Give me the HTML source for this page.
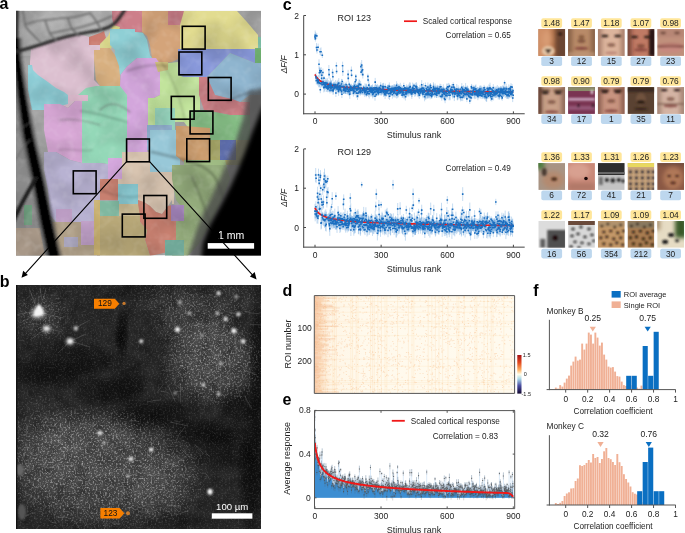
<!DOCTYPE html>
<html><head><meta charset="utf-8"><style>
html,body{margin:0;padding:0;background:#fff;}
body{width:685px;height:533px;overflow:hidden;position:relative;}
svg{position:absolute;left:0;top:0;font-family:"Liberation Sans",sans-serif;will-change:transform;}
</style></head><body>
<svg width="685" height="533" viewBox="0 0 685 533">
<text x="-0.50" y="8.70" font-size="16" text-anchor="start" font-weight="bold" font-style="normal" fill="#000" >a</text>
<text x="-0.30" y="287.00" font-size="16" text-anchor="start" font-weight="bold" font-style="normal" fill="#000" >b</text>
<text x="282.80" y="10.00" font-size="16" text-anchor="start" font-weight="bold" font-style="normal" fill="#000" >c</text>
<text x="282.60" y="296.00" font-size="16" text-anchor="start" font-weight="bold" font-style="normal" fill="#000" >d</text>
<text x="282.60" y="405.00" font-size="16" text-anchor="start" font-weight="bold" font-style="normal" fill="#000" >e</text>
<text x="533.30" y="296.00" font-size="16" text-anchor="start" font-weight="bold" font-style="normal" fill="#000" >f</text>
<defs><clipPath id="cpa"><rect x="16" y="10.7" width="245" height="244.70000000000002"/></clipPath><filter id="bl1" x="-20%" y="-20%" width="140%" height="140%"><feGaussianBlur stdDeviation="1"/></filter><filter id="bl2" x="-20%" y="-20%" width="140%" height="140%"><feGaussianBlur stdDeviation="2.2"/></filter><filter id="bl4" x="-30%" y="-30%" width="160%" height="160%"><feGaussianBlur stdDeviation="5"/></filter><linearGradient id="gtop" x1="0" y1="0" x2="1" y2="0.3"><stop offset="0" stop-color="#8a8a8a"/><stop offset="0.25" stop-color="#b0b0b0"/><stop offset="1" stop-color="#bcbcbc"/></linearGradient><filter id="tza" x="0" y="0" width="100%" height="100%"><feTurbulence type="fractalNoise" baseFrequency="0.035" numOctaves="2" seed="2"/><feColorMatrix type="matrix" values="0 0 0 0 0  0 0 0 0 0  0 0 0 0 0  0.3 0 0 0 -0.11"/></filter><filter id="tzb" x="0" y="0" width="100%" height="100%"><feTurbulence type="fractalNoise" baseFrequency="0.12" numOctaves="2" seed="7"/><feColorMatrix type="matrix" values="0 0 0 0 1  0 0 0 0 1  0 0 0 0 1  0.3 0 0 0 -0.14"/></filter></defs>
<g clip-path="url(#cpa)">
<rect x="16" y="10.7" width="245" height="244.70000000000002" fill="#a4a4a4"/>
<rect x="16" y="10.7" width="120" height="45" fill="url(#gtop)"/>
<polygon points="16,45 17,45 19,65 22,96 28,134 38,179 46,220 54,256 16,256" fill="#8c8c8c" />
<polygon points="112,11 143,11 143,32 124,32 114,26 112,18" fill="#cd7f8a" />
<polygon points="142,11 168,11 170,25 180,25 180,58 172,62 158,64 152,58 150,45 147,36 142,32" fill="#d4a47a" />
<polygon points="168,11 184,11 184,25 168,25" fill="#cd7f8a" />
<polygon points="180,25 184,11 237,11 247,22 258,35 258,49 180,49" fill="#e2dc90" />
<polygon points="258,37 262,37 262,49 258,49" fill="#7fc0a8" />
<polygon points="89,37 100,33 104,31 106,38 100,45 89,45" fill="#cb7c70" />
<polygon points="100,44 108,36 113,25 120,27 117,38 110,50 100,50" fill="#d6d488" />
<polygon points="110,29 135,29 135,32 143,33 147,40 150,55 152,58 137,58 127,66.5 120.6,74.8 114,74 115,50 110,45" fill="#8fcfd5" />
<polygon points="94,48 110,48 115,55 119,66 121,86 110,86 100,86 96,80 94,60" fill="#d8b080" />
<polygon points="31,49 47,42 63,37 80,34 89,37 89,45 100,45 100,50 94,50 94,80 100,86 98,99 86,101 75,101 68,108 60,104 44,104 38,97 30,70 30,62" fill="#dcc0d0" />
<polygon points="28,65 32,65 33,70 38,75 48,82 56,88 64,92 68,95 68,104 60,106 48,106 44,110 32,110 30,100 28,90" fill="#8fcfd8" />
<polygon points="78,95 86,88 96,86 110,86 121,86 128,90 128,165 115,165 100,163 82,163 80,130 82,110" fill="#94d8b8" />
<polygon points="120.6,74.8 127,66.5 137,58 156,58 160,64 160,95 150,100 150,125 147,150 150,160 127,160 127,140 127,95 120,86" fill="#d3a6dc" />
<polygon points="44,104 60,104 68,108 75,101 82,101 82,163 70,160 56,152 48,152 44,130" fill="#d8a8d6" />
<polygon points="68,95 88,95 88,101 68,101" fill="#e0bcd0" />
<polygon points="44,152 56,152 70,160 82,163 100,163 115,165 118,179 110,185 100,200 100,222 56,222 50,215 48,190 44,170" fill="#b8b2d2" />
<polygon points="148,98 160,98 160,126 148,126" fill="#c2e49c" />
<polygon points="108,158 126,158 126,179 108,179" fill="#d3a6dc" />
<polygon points="160,64 178,62 178,75 184,77 200,77 200,95 200,130 190,130 184,122 172,122 160,110 150,100 160,95" fill="#c2e49c" />
<polygon points="155,62 168,62 168,70 158,72" fill="#d0c080" />
<polygon points="178,49 255,49 255,63 230,53 207,77 200,77 184,77 178,75" fill="#8898da" />
<polygon points="207,77 230,53 255,63 262,63 262,95 250,95 240,102 215,95" fill="#8fb5cf" />
<polygon points="255,48 262,48 262,63 255,63" fill="#6fb070" />
<polygon points="199,77 207,77 215,95 232,99 240,102 250,102 250,115 230,115 204,110 199,95" fill="#cc7f85" />
<polygon points="190,110 204,110 230,115 250,115 250,145 236,140 220,140 210,140 200,135 190,128" fill="#84bc84" />
<polygon points="155,108 175,108 175,130 155,130" fill="#98d8c0" />
<polygon points="147,125 172,125 172,150 147,150" fill="#90b0d0" />
<polygon points="150,130 180,130 180,165 172,165 172,174 154,174 150,178" fill="#98c8d8" />
<polygon points="176,126 184,126 210,128 210,162 184,162 176,156" fill="#d0a070" />
<polygon points="210,140 250,140 250,165 210,165" fill="#a8a868" />
<polygon points="220,140 236,140 236,160 220,160" fill="#6070b0" />
<polygon points="184,160 225,160 230,179 184,179" fill="#a0bc84" />
<polygon points="122,152 150,152 150,172 174,172 174,204 172,204 172,200 168,206 162,214 156,212 150,206 144,202 140,204 138,200 138,184 118,184 118,179 122,179" fill="#d8c4b0" />
<polygon points="100,179 118,179 118,200 100,200" fill="#c88070" />
<polygon points="138,200 144,202 150,206 156,212 162,214 168,206 172,205 180,205 180,250 168,252 150,256 145,240 147,230 140,222 135,212" fill="#c88070" />
<polygon points="118,184 138,184 138,204 118,204" fill="#88c8d0" />
<polygon points="97,201 119,201 119,216 97,216" fill="#80b8a0" />
<polygon points="119,204 138,204 140,216 119,216" fill="#c8b890" />
<polygon points="97,216 119,216 140,216 140,222 147,230 145,240 150,256 97,256" fill="#b8a878" />
<polygon points="172,165 226,165 230,179 222,200 210,225 198,245 188,256 172,256 176,240 176,222 180,205 176,200 172,179" fill="#94ac7c" />
<polygon points="171,205 184,205 184,221 171,221" fill="#a888c0" />
<polygon points="165,240 184,240 184,256 165,256" fill="#70a898" />
<polygon points="16,228 40,228 45,256 16,256" fill="#a89888" />
<polygon points="52,222 100,222 100,256 54,256" fill="#b0a088" />
<polygon points="56,209 72,209 72,222 56,222" fill="#c0a0c8" />
<polygon points="81,221 97,221 97,245 81,245" fill="#c0a0c8" />
<polygon points="64,237 78,237 78,247 64,247" fill="#a8a4bc" />
<polygon points="94,200 100,200 100,255 94,255" fill="#c8b070" />
<polygon points="24,205 32,205 32,225 24,225" fill="#70a080" />
<rect x="16" y="10.7" width="245" height="244.70000000000002" filter="url(#tza)"/>
<rect x="16" y="10.7" width="245" height="244.70000000000002" filter="url(#tzb)"/>
<g filter="url(#bl1)" fill="none" stroke="#000" stroke-linecap="round">
<path d="M127 71 C140 66 155 64 167 66" stroke-width="2.5" opacity="0.15"/>
<path d="M81 111 C95 112 110 118 127 122" stroke-width="2.5" opacity="0.15"/>
<path d="M152 152 C165 155 190 160 203 167 S220 185 223 198" stroke-width="3" opacity="0.2"/>
<path d="M228 101 C236 97 245 94 253 91" stroke-width="2.5" opacity="0.18"/>
<path d="M192 177 C200 195 208 215 213 233" stroke-width="2.5" opacity="0.18"/>
<path d="M60 150 C70 148 80 152 92 150 M100 190 C115 196 130 198 140 196 M160 60 C175 80 180 100 185 120" stroke-width="2" opacity="0.12"/>
</g>
<g filter="url(#bl2)">
<polygon points="248,92 262,88 270,88 270,270 186,270 190,250 196,232 203,214 212,196 220,178 228,160 236,140 243,118" fill="#4a4a4a" opacity="0.8"/>
</g>
<g filter="url(#bl2)">
<polygon points="262,108 270,100 270,270 200,270 203,243 210,225 220,207 230,188 238,170 245,152 252,133 258,118" fill="#000" />
</g>
<g filter="url(#bl1)" fill="none" stroke-linecap="round">
<path d="M17 8 C17 20 16.5 30 16.5 45" stroke="#222" stroke-width="3"/>
<polygon points="11.5,38.0 11.5,58.0 13.7,78.0 15.8,96.0 21.0,134.0 30.5,179.0 38.0,220.0 46.0,256.0 48.0,264.0 64.0,264.0 62.0,256.0 54.0,220.0 45.5,179.0 35.0,134.0 28.2,96.0 25.3,78.0 22.5,58.0 21.5,38.0" fill="#333" opacity="0.55" stroke="none"/>
<polygon points="14.5,38.0 14.5,58.0 16.7,78.0 18.8,96.0 24.0,134.0 33.5,179.0 41.0,220.0 49.0,256.0 51.0,264.0 61.0,264.0 59.0,256.0 51.0,220.0 42.5,179.0 32.0,134.0 25.2,96.0 22.3,78.0 19.5,58.0 18.5,38.0" fill="#060606" stroke="none"/>
<path d="M12 224 C20 205 28 192 36 178" stroke="#1a1a1a" stroke-width="4"/>
<path d="M10 53 C25 50 40 45 55 40 S85 33 100 30 S118 20 126 8" stroke="#2a2a2a" stroke-width="3"/>
<path d="M22.8 11 C24 18 25 22 25 24.5 S30 32 34 35.8 S39 41 40.8 42.5 M25 24.5 C33 22 40 20 45 20 S60 18 67.8 17.8 S82 15 90 13 M45 20 C47 26 48 30 49.8 33.5 S54 38 56.5 40.3 M67.8 17.8 C69 22 70 26 72.3 29 S76 33 79 35.8 M90 13 C93 16 95 19 97 22.3 S100 28 101.6 31.3 M49.8 33.5 C57 32 65 30 72.3 29 S88 25 97 22.3 M97 22.3 C103 20 108 18 112 16" stroke="#6a6a6a" stroke-width="1.6"/>
<path d="M16 130 C22 128 28 125 32 120 M16 160 C20 150 25 145 30 140 M100 110 C110 100 120 104 130 112 M60 120 C75 118 90 122 100 125" stroke="#606060" stroke-width="1.2" opacity="0.6"/>
</g>
</g>
<rect x="182.3" y="26.3" width="22.8" height="22.8" fill="none" stroke="#000" stroke-width="1.6"/>
<rect x="179.0" y="52.0" width="22.8" height="22.8" fill="none" stroke="#000" stroke-width="1.6"/>
<rect x="208.3" y="77.5" width="22.8" height="22.8" fill="none" stroke="#000" stroke-width="1.6"/>
<rect x="171.3" y="96.4" width="22.8" height="22.8" fill="none" stroke="#000" stroke-width="1.6"/>
<rect x="190.1" y="111.1" width="22.8" height="22.8" fill="none" stroke="#000" stroke-width="1.6"/>
<rect x="186.8" y="138.8" width="22.8" height="22.8" fill="none" stroke="#000" stroke-width="1.6"/>
<rect x="126.6" y="139.0" width="22.8" height="22.8" fill="none" stroke="#000" stroke-width="1.6"/>
<rect x="73.3" y="170.9" width="22.8" height="22.8" fill="none" stroke="#000" stroke-width="1.6"/>
<rect x="143.9" y="195.5" width="22.8" height="22.8" fill="none" stroke="#000" stroke-width="1.6"/>
<rect x="122.3" y="214.1" width="22.8" height="22.8" fill="none" stroke="#000" stroke-width="1.6"/>
<rect x="207.7" y="243.1" width="46.4" height="5.6" fill="#fff"/>
<text x="218" y="239.3" font-size="10.5" fill="#fff">1 mm</text>
<path d="M126.6 161.6 L23.5 275.6 M149.6 161.6 L254.5 277.2" stroke="#000" stroke-width="1.1" fill="none"/>
<path d="M21.5 277.8 L23.2 270.8 L27.9 275.1 Z" fill="#000"/>
<path d="M256.6 279.4 L249.9 276.4 L254.7 272.1 Z" fill="#000"/>
<defs><clipPath id="cpb"><rect x="16" y="285" width="245" height="244"/></clipPath><filter id="bb1" x="-50%" y="-50%" width="200%" height="200%"><feGaussianBlur stdDeviation="0.8"/></filter><filter id="bb05" x="-50%" y="-50%" width="200%" height="200%"><feGaussianBlur stdDeviation="0.45"/></filter><filter id="nz" x="0" y="0" width="100%" height="100%"><feTurbulence type="fractalNoise" baseFrequency="0.55" numOctaves="2" seed="4"/><feColorMatrix type="matrix" values="0 0 0 0 1  0 0 0 0 1  0 0 0 0 1  2.6 0 0 0 -1.25"/></filter><filter id="nz2" x="0" y="0" width="100%" height="100%"><feTurbulence type="fractalNoise" baseFrequency="0.09" numOctaves="3" seed="9"/><feColorMatrix type="matrix" values="0 0 0 0 0  0 0 0 0 0  0 0 0 0 0  1.2 0 0 0 -0.45"/></filter><radialGradient id="rgw"><stop offset="0" stop-color="#fff" stop-opacity="1"/><stop offset="0.6" stop-color="#fff" stop-opacity="0.7"/><stop offset="1" stop-color="#fff" stop-opacity="0"/></radialGradient><radialGradient id="rgk"><stop offset="0" stop-color="#000" stop-opacity="1"/><stop offset="0.5" stop-color="#000" stop-opacity="0.7"/><stop offset="1" stop-color="#000" stop-opacity="0"/></radialGradient><mask id="mbr"><rect x="16" y="285" width="245" height="244" fill="#000"/><ellipse cx="212" cy="362" rx="55.00000000000001" ry="48.400000000000006" fill="url(#rgw)" opacity="0.85"/><ellipse cx="195" cy="322" rx="46.2" ry="33.0" fill="url(#rgw)" opacity="0.50"/><ellipse cx="100" cy="470" rx="110.00000000000001" ry="66.0" fill="url(#rgw)" opacity="0.85"/><ellipse cx="45" cy="445" rx="44.0" ry="55.00000000000001" fill="url(#rgw)" opacity="0.35"/><ellipse cx="165" cy="488" rx="44.0" ry="41.800000000000004" fill="url(#rgw)" opacity="0.35"/><ellipse cx="42" cy="315" rx="33.0" ry="28.6" fill="url(#rgw)" opacity="0.40"/><ellipse cx="170" cy="300" rx="44.0" ry="19.8" fill="url(#rgw)" opacity="0.30"/><ellipse cx="232" cy="300" rx="30.800000000000004" ry="19.8" fill="url(#rgw)" opacity="0.30"/><ellipse cx="85" cy="430" rx="66.0" ry="27.500000000000004" fill="url(#rgw)" opacity="0.30"/></mask></defs>
<g clip-path="url(#cpb)">
<rect x="16" y="285" width="245" height="244" fill="#282828"/>
<ellipse cx="212" cy="362" rx="50" ry="44" fill="url(#rgw)" opacity="0.17"/>
<ellipse cx="195" cy="322" rx="42" ry="30" fill="url(#rgw)" opacity="0.1"/>
<ellipse cx="100" cy="470" rx="100" ry="60" fill="url(#rgw)" opacity="0.17"/>
<ellipse cx="45" cy="445" rx="40" ry="50" fill="url(#rgw)" opacity="0.07"/>
<ellipse cx="165" cy="488" rx="40" ry="38" fill="url(#rgw)" opacity="0.07"/>
<ellipse cx="42" cy="315" rx="30" ry="26" fill="url(#rgw)" opacity="0.08"/>
<ellipse cx="170" cy="300" rx="40" ry="18" fill="url(#rgw)" opacity="0.06"/>
<ellipse cx="232" cy="300" rx="28" ry="18" fill="url(#rgw)" opacity="0.06"/>
<ellipse cx="85" cy="430" rx="60" ry="25" fill="url(#rgw)" opacity="0.06"/>
<ellipse cx="252" cy="470" rx="16" ry="75" fill="url(#rgk)" opacity="0.7"/>
<ellipse cx="258" cy="370" rx="10" ry="90" fill="url(#rgk)" opacity="0.6"/>
<ellipse cx="50" cy="372" rx="55" ry="20" fill="url(#rgk)" opacity="0.6"/>
<ellipse cx="110" cy="392" rx="40" ry="18" fill="url(#rgk)" opacity="0.55"/>
<ellipse cx="155" cy="415" rx="50" ry="18" fill="url(#rgk)" opacity="0.6"/>
<ellipse cx="205" cy="432" rx="45" ry="16" fill="url(#rgk)" opacity="0.6"/>
<ellipse cx="122" cy="335" rx="8" ry="28" fill="url(#rgk)" opacity="0.75"/>
<ellipse cx="92" cy="360" rx="35" ry="16" fill="url(#rgk)" opacity="0.45"/>
<ellipse cx="225" cy="450" rx="35" ry="25" fill="url(#rgk)" opacity="0.45"/>
<ellipse cx="185" cy="522" rx="40" ry="10" fill="url(#rgk)" opacity="0.3"/>
<ellipse cx="140" cy="292" rx="40" ry="10" fill="url(#rgk)" opacity="0.3"/>
<ellipse cx="60" cy="350" rx="40" ry="12" fill="url(#rgk)" opacity="0.3"/>
<ellipse cx="240" cy="405" rx="25" ry="22" fill="url(#rgk)" opacity="0.5"/>
<ellipse cx="130" cy="380" rx="20" ry="25" fill="url(#rgk)" opacity="0.4"/>
<rect x="16" y="285" width="245" height="244" filter="url(#nz2)" opacity="0.5"/>
<g mask="url(#mbr)"><rect x="16" y="285" width="245" height="244" filter="url(#nz)" opacity="0.55"/></g>
<rect x="16" y="285" width="245" height="244" filter="url(#nz)" opacity="0.12"/>
<path d="M232.7 351.5Q234.7 353.0 236.3 356.0M27.3 527.9Q23.9 534.0 23.4 535.3M236.0 339.2Q235.4 345.4 236.3 353.7M185.1 426.9Q178.1 433.8 176.0 441.5M161.7 370.7Q167.2 369.2 173.7 370.8M171.2 454.2Q179.5 458.6 184.4 460.8M78.8 506.4Q75.6 512.1 78.5 518.5M167.7 384.5Q170.9 391.6 175.1 401.3M63.6 500.1Q61.1 505.4 56.0 512.5M38.3 494.8Q37.1 498.9 34.1 504.1M169.6 461.1Q163.4 464.6 161.2 471.7M232.8 315.3Q228.2 320.3 222.3 328.5M200.1 454.3Q200.2 456.6 201.6 459.0M243.1 332.7Q238.8 333.3 235.5 333.0M32.0 512.7Q28.4 514.6 26.0 516.2M123.1 431.5Q117.6 434.7 115.0 435.2M55.1 456.9Q48.2 458.4 38.1 460.8M237.3 333.7Q231.5 335.4 228.8 340.1M149.2 495.3Q152.5 496.7 154.8 495.4M27.3 443.5Q25.7 450.3 21.9 460.0M147.3 504.8Q140.0 508.7 137.2 506.7M180.8 387.1Q180.0 393.9 180.5 402.3M27.6 424.6Q25.7 430.8 26.5 436.3M111.2 484.6Q106.1 488.3 103.1 493.9M65.1 479.7Q65.2 479.4 61.2 486.3M186.5 344.3Q188.3 349.2 190.3 348.5M174.7 369.0Q175.4 370.2 178.9 373.1M122.3 468.9Q126.9 473.8 130.0 477.9M182.6 319.3Q183.4 318.9 185.9 324.7M18.0 426.5Q23.4 428.9 26.5 433.3M181.8 361.2Q180.4 361.7 175.6 362.7M189.0 362.6Q188.7 367.7 188.9 369.0M91.7 522.3Q96.3 526.7 98.4 538.3M29.4 450.0Q30.8 453.0 33.8 453.8M47.6 519.2Q50.9 523.3 57.0 523.4M170.2 422.1Q180.0 424.1 187.8 425.9M65.3 516.4Q61.8 517.3 59.4 517.3M158.8 497.0Q162.3 499.7 166.8 502.5M231.0 333.5Q228.8 338.3 232.0 339.4M123.9 485.5Q122.0 492.9 120.5 501.4M205.0 396.0Q210.5 401.3 219.5 402.7M171.8 351.4Q176.0 354.4 178.7 358.4M161.2 399.9Q155.3 399.9 146.9 402.0M88.9 423.8Q90.2 426.2 96.0 425.4M174.8 420.7Q178.4 422.5 180.6 421.7M195.0 444.5Q197.9 447.2 203.9 454.2M126.5 481.8Q129.4 490.8 136.2 493.7M171.5 492.0Q171.9 497.2 172.0 506.2M31.0 483.5Q34.1 487.1 38.2 488.1M150.8 527.6Q144.9 531.9 135.5 532.8M34.8 494.8Q32.1 500.3 34.0 507.1M205.7 452.4Q206.3 453.7 209.9 456.7M72.9 447.7Q80.8 452.0 87.2 455.2M30.6 457.7Q26.5 458.8 29.8 468.0M202.2 323.8Q193.9 324.1 185.5 328.6M233.9 396.0Q239.0 395.5 241.5 396.5M210.1 351.9Q217.0 357.9 220.4 361.5M41.7 458.2Q45.2 465.4 47.6 467.9M160.6 391.0Q167.4 391.8 169.5 393.6M156.6 510.6Q158.8 512.7 162.1 515.4M236.6 383.5Q238.5 392.8 241.0 398.9M25.1 492.4Q33.7 495.7 40.2 502.9M186.8 301.1Q191.6 305.4 195.6 308.3M193.9 334.2Q199.6 337.3 203.2 342.5M229.7 360.1Q231.9 367.4 228.1 372.3M225.6 346.7Q227.1 356.3 228.7 363.6M218.8 382.8Q217.6 385.6 218.2 388.3M109.3 521.8Q114.7 522.7 114.9 522.9M174.1 384.5Q179.2 386.2 183.7 392.5M182.7 458.3Q177.3 462.2 173.5 465.1M166.8 333.9Q171.1 337.2 176.4 338.6M147.5 482.4Q153.8 489.0 158.3 492.7M50.9 510.1Q53.9 512.7 54.9 518.3M90.7 475.7Q89.2 480.4 86.9 485.6M201.5 344.9Q200.8 349.5 203.0 353.6M84.5 472.4Q85.5 475.2 87.3 478.2M198.2 349.5Q193.8 350.2 195.4 354.0M18.2 421.2Q20.0 428.9 18.6 432.6M145.8 508.5Q141.0 507.4 142.1 511.9M210.8 380.2Q209.7 384.2 207.4 385.2M67.2 517.5Q64.9 516.6 57.4 517.6M217.9 323.4Q213.4 324.4 207.0 329.8M63.1 511.6Q66.1 511.0 69.9 512.3M82.3 424.1Q87.0 422.9 87.1 426.1M176.3 472.6Q172.7 478.3 172.0 486.2M112.6 433.6Q118.1 436.4 120.5 441.8M161.8 463.5Q166.4 464.2 174.7 464.1M142.3 472.8Q147.4 473.8 153.9 476.7M51.7 474.5Q50.0 472.9 43.8 475.9M207.0 378.1Q199.9 381.8 191.7 385.0M157.5 424.9Q161.0 430.8 161.6 430.5M59.5 463.1Q51.0 468.2 46.8 467.2M190.1 311.0Q191.7 318.1 195.3 315.9M169.7 316.2Q174.4 325.7 176.9 331.4M122.5 485.4Q125.7 493.8 129.1 497.0M42.8 448.0Q43.7 448.7 48.5 448.8M212.7 379.8Q215.7 384.8 221.1 385.0M41.9 424.8Q49.4 425.1 57.4 426.5M163.8 383.5Q162.1 386.0 156.9 392.9M184.5 326.5Q180.0 329.0 174.7 335.1M38.7 525.7Q35.7 532.4 30.6 536.7M129.0 421.1Q135.8 420.2 138.8 421.9M76.1 523.1Q77.5 526.4 83.1 532.5M19.6 505.8Q21.4 514.3 24.9 519.3M195.5 310.2Q194.5 315.1 192.8 314.8M156.3 510.6Q149.7 511.4 140.5 512.5M23.3 469.0Q26.8 469.1 31.1 470.4M201.7 370.7Q209.5 371.4 216.8 371.7M138.9 434.8Q130.9 438.8 123.6 445.5M244.5 395.5Q247.0 401.1 251.5 407.7M72.6 481.9Q78.1 486.0 80.9 488.9M175.7 487.1Q175.9 489.9 172.3 491.1M166.8 504.7Q172.0 504.4 180.0 508.3M211.3 347.7Q207.2 353.4 202.9 353.9M189.2 525.5Q191.6 529.5 189.9 532.1M249.9 324.5Q259.3 324.0 268.6 326.5M241.0 340.2Q244.8 345.6 251.8 348.1M107.4 518.6Q104.9 526.9 102.4 535.9M53.1 427.7Q53.4 429.7 51.4 432.6M144.3 450.0Q149.5 456.9 153.5 458.8M244.0 311.1Q252.0 313.8 259.3 313.8M78.9 443.1Q75.0 450.3 71.3 456.4M186.3 463.0Q183.7 467.3 186.9 470.4M172.2 353.4Q175.4 360.3 177.4 370.4M37.8 485.4Q34.0 489.7 31.8 486.9M136.6 470.0Q134.7 474.9 137.5 486.6M243.2 369.3Q249.6 372.2 256.0 374.5M105.6 505.2Q102.1 510.0 103.0 519.0M188.6 510.7Q179.3 514.3 171.0 515.7M233.0 347.2Q240.1 351.2 250.8 352.9M181.3 449.2Q187.0 456.3 194.0 458.9M171.7 504.3Q173.9 506.8 178.5 511.7M78.8 517.2Q84.2 521.5 86.1 526.1M221.8 320.7Q224.6 328.5 229.3 334.3M205.0 473.3Q208.3 475.0 208.8 478.4M248.1 384.7Q248.7 388.9 249.8 392.2M126.4 526.3Q124.5 529.2 122.1 529.3M249.0 355.0Q248.3 358.8 249.5 360.1M117.8 522.7Q117.3 524.9 112.6 523.3M231.9 326.8Q234.5 334.2 236.9 340.4" stroke="#8a8a8a" stroke-width="0.6" opacity="0.45" fill="none"/>
<g filter="url(#bb05)" stroke="#999" stroke-width="0.6" fill="none" opacity="0.4">
<path d="M38 312 Q33 300 30 290 M38 312 Q44 300 46 288 M38 312 Q50 304 58 303 M38 312 Q52 316 64 318 M38 312 Q30 318 22 322 M38 312 Q28 312 19 314 M47 328 Q38 334 30 340 M47 328 Q55 330 62 332 M70 341 Q78 338 86 334 M70 341 Q80 344 90 347 M70 341 Q64 348 58 353 M76 328 Q82 324 90 320 M42 300 Q41 294 40 288"/>
</g>
<ellipse cx="38" cy="313" rx="10" ry="9" fill="url(#rgw)" opacity="0.35"/>
<ellipse cx="46.5" cy="329" rx="7" ry="6" fill="url(#rgw)" opacity="0.25"/>
<ellipse cx="70" cy="341.5" rx="7" ry="6" fill="url(#rgw)" opacity="0.25"/>
<g filter="url(#bb1)">
<path d="M33 316 Q36 306 39 304 Q43 308 44 314 Q39 318 33 316Z" fill="#fafafa"/>
<ellipse cx="38.3" cy="312" rx="4.5" ry="3.5" fill="#f4f4f4"/>
<ellipse cx="46.5" cy="328.4" rx="3" ry="2.5" fill="#e0e0e0"/>
<ellipse cx="70" cy="341.3" rx="3" ry="2.8" fill="#e8e8e8"/>
<ellipse cx="75.8" cy="328.4" rx="2.2" ry="2.4" fill="#bbb"/>
<ellipse cx="218.6" cy="293.2" rx="2" ry="2.2" fill="#ddd"/>
<ellipse cx="236.2" cy="296.7" rx="2" ry="2" fill="#999"/>
<ellipse cx="179.9" cy="302.6" rx="2" ry="2" fill="#aaa"/>
<ellipse cx="189.3" cy="313.2" rx="1.5" ry="1.2" fill="#eee"/>
<ellipse cx="217.4" cy="313.2" rx="2" ry="2" fill="#bbb"/>
<ellipse cx="225.6" cy="319" rx="2.2" ry="2.2" fill="#ddd"/>
<ellipse cx="238.5" cy="314.3" rx="2.2" ry="2.2" fill="#ccc"/>
<ellipse cx="177.5" cy="329.6" rx="2.5" ry="2.5" fill="#f4f4f4"/>
<ellipse cx="233.9" cy="330.8" rx="2.6" ry="2.6" fill="#f0f0f0"/>
<ellipse cx="202.2" cy="335.4" rx="2" ry="2" fill="#999"/>
<ellipse cx="243.2" cy="341.3" rx="2.4" ry="2.4" fill="#ddd"/>
<ellipse cx="141.2" cy="341.3" rx="2" ry="2" fill="#ddd"/>
<ellipse cx="203.4" cy="384.7" rx="2" ry="2" fill="#ccc"/>
<ellipse cx="218.6" cy="394.1" rx="2" ry="2" fill="#bbb"/>
<ellipse cx="221" cy="363.6" rx="2" ry="2" fill="#aaa"/>
<ellipse cx="175.2" cy="393" rx="1.5" ry="1.5" fill="#aaa"/>
<ellipse cx="151.3" cy="449.6" rx="2.2" ry="2.2" fill="#eee"/>
<ellipse cx="210" cy="491.8" rx="2.6" ry="3" fill="#f8f8f8"/>
<ellipse cx="100" cy="433" rx="2.5" ry="2.3" fill="#ddd"/>
<ellipse cx="131" cy="459" rx="2.5" ry="2.3" fill="#ddd"/>
<ellipse cx="128" cy="476" rx="1.5" ry="1.5" fill="#ccc"/>
<ellipse cx="104" cy="443" rx="1.6" ry="1.6" fill="#bbb"/>
<ellipse cx="20" cy="470" rx="4" ry="6" fill="#666"/>
<ellipse cx="22" cy="512" rx="4" ry="8" fill="#555"/>
</g>
<rect x="16" y="285" width="1.3" height="244" fill="#111"/>
</g>
<path d="M94 298.8H114.8L119.3 303.8L114.8 308.8H94Z" fill="#f77f00"/>
<text x="104.9" y="306.4" font-size="8.3" text-anchor="middle" fill="#111">129</text>
<path d="M100.4 508H119.6L124.3 513.2L119.6 518.4H100.4Z" fill="#f77f00"/>
<text x="110.5" y="516.0" font-size="8.3" text-anchor="middle" fill="#111">123</text>
<circle cx="124" cy="303.4" r="1.6" fill="#d9822b" opacity="0.9"/>
<circle cx="128" cy="513.3" r="2" fill="#d9822b" opacity="0.9"/>
<rect x="211.8" y="513.3" width="40.6" height="5.4" fill="#fff"/>
<text x="232.2" y="510" font-size="9.6" text-anchor="middle" fill="#fff">100 µm</text>
<defs><filter id="fb" x="-30%" y="-30%" width="160%" height="160%"><feGaussianBlur stdDeviation="0.9"/></filter><filter id="fb2" x="-30%" y="-30%" width="160%" height="160%"><feGaussianBlur stdDeviation="2"/></filter></defs>
<clipPath id="ft00"><rect x="0" y="0" width="26.8" height="26.8"/></clipPath>
<g transform="translate(538.3,29.1)"><g clip-path="url(#ft00)"><g transform="scale(0.9926)"><rect width="27" height="27" fill="#b07048"/><g filter="url(#fb2)"><rect x="-3" y="-3" width="16" height="33" fill="#d09068"/><rect x="17" y="-3" width="14" height="33" fill="#6a4430"/><ellipse cx="9" cy="10" rx="5" ry="8" fill="#dca078" opacity="0.7"/></g><g filter="url(#fb)"><ellipse cx="10" cy="22" rx="6.5" ry="5" fill="#e4c4a4"/><path d="M6.5 20 L13.5 20 L10 25 Z" fill="#2a1a14"/><ellipse cx="22" cy="5" rx="2" ry="1.2" fill="#201008"/></g></g></g></g>
<rect x="541.3" y="18.3" width="20.8" height="9.6" rx="1.8" fill="#ffe699"/>
<text x="551.7" y="25.9" font-size="8.4" text-anchor="middle" fill="#222">1.48</text>
<rect x="541.3" y="56.4" width="20.8" height="9.6" rx="1.8" fill="#bdd7ee"/>
<text x="551.7" y="64.1" font-size="8.4" text-anchor="middle" fill="#222">3</text>
<clipPath id="ft01"><rect x="0" y="0" width="26.8" height="26.8"/></clipPath>
<g transform="translate(568.1,29.1)"><g clip-path="url(#ft01)"><g transform="scale(0.9926)"><rect width="27" height="27" fill="#b88a68"/><g filter="url(#fb2)"><rect x="-4" y="-4" width="8" height="35" fill="#6a4a34" opacity="0.6"/><rect x="23" y="-4" width="8" height="35" fill="#6a4a34" opacity="0.6"/></g><g filter="url(#fb)"><ellipse cx="13.5" cy="12" rx="4" ry="2" fill="#5a3020" opacity="0.55"/><ellipse cx="13.5" cy="19.5" rx="7" ry="1.6" fill="#7a3a34" opacity="0.75"/><ellipse cx="13.5" cy="8" rx="3" ry="2" fill="#6a4028" opacity="0.6"/><rect x="0" y="23" width="27" height="5" fill="#c09878" opacity="0.6"/></g></g></g></g>
<rect x="571.1" y="18.3" width="20.8" height="9.6" rx="1.8" fill="#ffe699"/>
<text x="581.5" y="25.9" font-size="8.4" text-anchor="middle" fill="#222">1.47</text>
<rect x="571.1" y="56.4" width="20.8" height="9.6" rx="1.8" fill="#bdd7ee"/>
<text x="581.5" y="64.1" font-size="8.4" text-anchor="middle" fill="#222">12</text>
<clipPath id="ft02"><rect x="0" y="0" width="26.8" height="26.8"/></clipPath>
<g transform="translate(597.9,29.1)"><g clip-path="url(#ft02)"><g transform="scale(0.9926)"><rect width="27" height="27" fill="#dcb49c"/><g filter="url(#fb2)"><rect x="-4" y="-4" width="8" height="35" fill="#8a6050" opacity="0.6"/><rect x="23" y="-4" width="8" height="35" fill="#8a6050" opacity="0.6"/></g><g filter="url(#fb)"><ellipse cx="7" cy="7" rx="3.5" ry="1.2" fill="#2a1a14"/><ellipse cx="20" cy="7" rx="3.5" ry="1.2" fill="#2a1a14"/><ellipse cx="13.5" cy="16" rx="4" ry="2" fill="#5a3020" opacity="0.55"/><ellipse cx="13.5" cy="24" rx="6" ry="1.5" fill="#a86a60" opacity="0.6"/></g></g></g></g>
<rect x="600.9" y="18.3" width="20.8" height="9.6" rx="1.8" fill="#ffe699"/>
<text x="611.3" y="25.9" font-size="8.4" text-anchor="middle" fill="#222">1.18</text>
<rect x="600.9" y="56.4" width="20.8" height="9.6" rx="1.8" fill="#bdd7ee"/>
<text x="611.3" y="64.1" font-size="8.4" text-anchor="middle" fill="#222">15</text>
<clipPath id="ft03"><rect x="0" y="0" width="26.8" height="26.8"/></clipPath>
<g transform="translate(627.5,29.1)"><g clip-path="url(#ft03)"><g transform="scale(0.9926)"><rect width="27" height="27" fill="#c07a64"/><g filter="url(#fb2)"><rect x="-4" y="-4" width="8" height="35" fill="#4a2820" opacity="0.6"/><rect x="23" y="-4" width="8" height="35" fill="#4a2820" opacity="0.6"/></g><g filter="url(#fb)"><ellipse cx="7" cy="8" rx="3.5" ry="1.2" fill="#2a1a14"/><ellipse cx="20" cy="8" rx="3.5" ry="1.2" fill="#2a1a14"/><ellipse cx="13.5" cy="17" rx="4" ry="2" fill="#5a3020" opacity="0.55"/><ellipse cx="13.5" cy="21" rx="7" ry="1.6" fill="#7a3a34" opacity="0.75"/><rect x="22" y="0" width="6" height="27" fill="#2a1612"/></g></g></g></g>
<rect x="630.5" y="18.3" width="20.8" height="9.6" rx="1.8" fill="#ffe699"/>
<text x="640.9" y="25.9" font-size="8.4" text-anchor="middle" fill="#222">1.07</text>
<rect x="630.5" y="56.4" width="20.8" height="9.6" rx="1.8" fill="#bdd7ee"/>
<text x="640.9" y="64.1" font-size="8.4" text-anchor="middle" fill="#222">27</text>
<clipPath id="ft04"><rect x="0" y="0" width="26.8" height="26.8"/></clipPath>
<g transform="translate(657.2,29.1)"><g clip-path="url(#ft04)"><g transform="scale(0.9926)"><rect width="27" height="27" fill="#c0907c"/><g filter="url(#fb)"><rect x="0" y="0" width="27" height="8" fill="#b08070" opacity="0.6"/><ellipse cx="6" cy="4" rx="3" ry="1.5" fill="#4a2a20" opacity="0.6"/><ellipse cx="20" cy="4" rx="3" ry="1.5" fill="#4a2a20" opacity="0.6"/><ellipse cx="13.5" cy="17" rx="13" ry="3" fill="#b07068" opacity="0.8"/><rect x="0" y="17" width="27" height="1.2" fill="#6a3a34"/><ellipse cx="13.5" cy="21" rx="12" ry="3" fill="#c88880" opacity="0.8"/></g></g></g></g>
<rect x="660.2" y="18.3" width="20.8" height="9.6" rx="1.8" fill="#ffe699"/>
<text x="670.6" y="25.9" font-size="8.4" text-anchor="middle" fill="#222">0.98</text>
<rect x="660.2" y="56.4" width="20.8" height="9.6" rx="1.8" fill="#bdd7ee"/>
<text x="670.6" y="64.1" font-size="8.4" text-anchor="middle" fill="#222">23</text>
<clipPath id="ft10"><rect x="0" y="0" width="26.8" height="26.8"/></clipPath>
<g transform="translate(538.3,87.1)"><g clip-path="url(#ft10)"><g transform="scale(0.9926)"><rect width="27" height="27" fill="#c8a088"/><g filter="url(#fb2)"><rect x="-4" y="-4" width="8" height="35" fill="#6a4a3a" opacity="0.6"/><rect x="23" y="-4" width="8" height="35" fill="#6a4a3a" opacity="0.6"/></g><g filter="url(#fb)"><ellipse cx="7" cy="3.5" rx="5" ry="1.2" fill="#3a2418" opacity="0.8"/><ellipse cx="20" cy="3.5" rx="5" ry="1.2" fill="#3a2418" opacity="0.8"/><ellipse cx="7" cy="6" rx="3.5" ry="1.2" fill="#2a1a14"/><ellipse cx="20" cy="6" rx="3.5" ry="1.2" fill="#2a1a14"/><ellipse cx="13.5" cy="15" rx="4" ry="2" fill="#5a3020" opacity="0.55"/><ellipse cx="13.5" cy="25" rx="7" ry="1.6" fill="#7a3a34" opacity="0.75"/><rect x="0" y="0" width="3" height="27" fill="#5a3a2a" opacity="0.8"/></g></g></g></g>
<rect x="541.3" y="76.2" width="20.8" height="9.6" rx="1.8" fill="#ffe699"/>
<text x="551.7" y="83.8" font-size="8.4" text-anchor="middle" fill="#222">0.98</text>
<rect x="541.3" y="114.3" width="20.8" height="9.6" rx="1.8" fill="#bdd7ee"/>
<text x="551.7" y="122.0" font-size="8.4" text-anchor="middle" fill="#222">34</text>
<clipPath id="ft11"><rect x="0" y="0" width="26.8" height="26.8"/></clipPath>
<g transform="translate(568.1,87.1)"><g clip-path="url(#ft11)"><g transform="scale(0.9926)"><rect width="27" height="27" fill="#7a3452"/><rect y="0" width="27" height="4" fill="#8a8a6a"/><g filter="url(#fb)"><rect y="11" width="27" height="2.5" fill="#d0b0c8"/><rect y="19" width="27" height="4" fill="#9a6080" opacity="0.8"/><circle cx="10.5" cy="19" r="1.4" fill="#100808"/><circle cx="25" cy="19" r="1.4" fill="#100808"/><rect x="23" y="3" width="2" height="4" fill="#eee"/></g></g></g></g>
<rect x="571.1" y="76.2" width="20.8" height="9.6" rx="1.8" fill="#ffe699"/>
<text x="581.5" y="83.8" font-size="8.4" text-anchor="middle" fill="#222">0.90</text>
<rect x="571.1" y="114.3" width="20.8" height="9.6" rx="1.8" fill="#bdd7ee"/>
<text x="581.5" y="122.0" font-size="8.4" text-anchor="middle" fill="#222">17</text>
<clipPath id="ft12"><rect x="0" y="0" width="26.8" height="26.8"/></clipPath>
<g transform="translate(597.9,87.1)"><g clip-path="url(#ft12)"><g transform="scale(0.9926)"><rect width="27" height="27" fill="#c89480"/><g filter="url(#fb2)"><rect x="-4" y="-4" width="8" height="35" fill="#6a4030" opacity="0.6"/><rect x="23" y="-4" width="8" height="35" fill="#6a4030" opacity="0.6"/></g><g filter="url(#fb)"><ellipse cx="7" cy="3" rx="5" ry="1.2" fill="#3a2418" opacity="0.8"/><ellipse cx="20" cy="3" rx="5" ry="1.2" fill="#3a2418" opacity="0.8"/><ellipse cx="7" cy="5" rx="3.5" ry="1.2" fill="#2a1a14"/><ellipse cx="20" cy="5" rx="3.5" ry="1.2" fill="#2a1a14"/><ellipse cx="13.5" cy="14" rx="4" ry="2" fill="#5a3020" opacity="0.55"/><ellipse cx="13.5" cy="24" rx="7" ry="1.6" fill="#7a3a34" opacity="0.75"/></g></g></g></g>
<rect x="600.9" y="76.2" width="20.8" height="9.6" rx="1.8" fill="#ffe699"/>
<text x="611.3" y="83.8" font-size="8.4" text-anchor="middle" fill="#222">0.79</text>
<rect x="600.9" y="114.3" width="20.8" height="9.6" rx="1.8" fill="#bdd7ee"/>
<text x="611.3" y="122.0" font-size="8.4" text-anchor="middle" fill="#222">1</text>
<clipPath id="ft13"><rect x="0" y="0" width="26.8" height="26.8"/></clipPath>
<g transform="translate(627.5,87.1)"><g clip-path="url(#ft13)"><g transform="scale(0.9926)"><rect width="27" height="27" fill="#5a4232"/><g filter="url(#fb)"><rect width="27" height="5" fill="#3a2a20"/><ellipse cx="13.5" cy="12" rx="5" ry="6" fill="#7a5a44" opacity="0.7"/><ellipse cx="13.5" cy="15" rx="4" ry="2" fill="#2a1a12"/><ellipse cx="13.5" cy="22" rx="7" ry="1.3" fill="#2a1a12" opacity="0.8"/></g></g></g></g>
<rect x="630.5" y="76.2" width="20.8" height="9.6" rx="1.8" fill="#ffe699"/>
<text x="640.9" y="83.8" font-size="8.4" text-anchor="middle" fill="#222">0.79</text>
<rect x="630.5" y="114.3" width="20.8" height="9.6" rx="1.8" fill="#bdd7ee"/>
<text x="640.9" y="122.0" font-size="8.4" text-anchor="middle" fill="#222">35</text>
<clipPath id="ft14"><rect x="0" y="0" width="26.8" height="26.8"/></clipPath>
<g transform="translate(657.2,87.1)"><g clip-path="url(#ft14)"><g transform="scale(0.9926)"><rect width="27" height="27" fill="#d4b4a4"/><g filter="url(#fb2)"><rect x="-4" y="-4" width="8" height="35" fill="#8a6a5a" opacity="0.6"/><rect x="23" y="-4" width="8" height="35" fill="#8a6a5a" opacity="0.6"/></g><g filter="url(#fb)"><ellipse cx="7" cy="3" rx="3.5" ry="1.2" fill="#2a1a14"/><ellipse cx="20" cy="3" rx="3.5" ry="1.2" fill="#2a1a14"/><ellipse cx="13.5" cy="12" rx="4" ry="2" fill="#5a3020" opacity="0.55"/><ellipse cx="13.5" cy="19" rx="7" ry="1.6" fill="#7a3a34" opacity="0.75"/><rect x="0" y="16" width="27" height="2" fill="#6a4a3a" opacity="0.5"/></g></g></g></g>
<rect x="660.2" y="76.2" width="20.8" height="9.6" rx="1.8" fill="#ffe699"/>
<text x="670.6" y="83.8" font-size="8.4" text-anchor="middle" fill="#222">0.76</text>
<rect x="660.2" y="114.3" width="20.8" height="9.6" rx="1.8" fill="#bdd7ee"/>
<text x="670.6" y="122.0" font-size="8.4" text-anchor="middle" fill="#222">11</text>
<clipPath id="ft20"><rect x="0" y="0" width="26.8" height="26.8"/></clipPath>
<g transform="translate(538.3,163.1)"><g clip-path="url(#ft20)"><g transform="scale(0.9926)"><rect width="27" height="27" fill="#a89484"/><g filter="url(#fb2)"><rect x="-3" y="-3" width="9" height="9" fill="#4a7a3a"/><ellipse cx="15" cy="17" rx="11" ry="9" fill="#b48a70"/></g><g filter="url(#fb)"><ellipse cx="6" cy="9" rx="2.5" ry="4" fill="#4a3a30"/><ellipse cx="16" cy="16" rx="3" ry="1.8" fill="#4a2a18"/></g></g></g></g>
<rect x="541.3" y="152.3" width="20.8" height="9.6" rx="1.8" fill="#ffe699"/>
<text x="551.7" y="159.9" font-size="8.4" text-anchor="middle" fill="#222">1.36</text>
<rect x="541.3" y="190.6" width="20.8" height="9.6" rx="1.8" fill="#bdd7ee"/>
<text x="551.7" y="198.3" font-size="8.4" text-anchor="middle" fill="#222">6</text>
<clipPath id="ft21"><rect x="0" y="0" width="26.8" height="26.8"/></clipPath>
<g transform="translate(568.1,163.1)"><g clip-path="url(#ft21)"><g transform="scale(0.9926)"><rect width="27" height="27" fill="#c88878"/><g filter="url(#fb2)"><ellipse cx="10" cy="8" rx="12" ry="8" fill="#d8a090"/><rect y="20" width="27" height="8" fill="#b07868"/></g><circle cx="18" cy="15.5" r="1.8" fill="#1a0808"/></g></g></g>
<rect x="571.1" y="152.3" width="20.8" height="9.6" rx="1.8" fill="#ffe699"/>
<text x="581.5" y="159.9" font-size="8.4" text-anchor="middle" fill="#222">1.33</text>
<rect x="571.1" y="190.6" width="20.8" height="9.6" rx="1.8" fill="#bdd7ee"/>
<text x="581.5" y="198.3" font-size="8.4" text-anchor="middle" fill="#222">72</text>
<clipPath id="ft22"><rect x="0" y="0" width="26.8" height="26.8"/></clipPath>
<g transform="translate(597.9,163.1)"><g clip-path="url(#ft22)"><g transform="scale(0.9926)"><rect width="27" height="27" fill="#c4c4c4"/><rect width="27" height="12" fill="#2e2e2e"/><rect y="9" width="27" height="2" fill="#6a6a6a"/><g filter="url(#fb)"><rect x="1" y="14" width="4" height="8" fill="#707070"/><circle cx="9" cy="17" r="2" fill="#202020"/><circle cx="15" cy="17.5" r="2.3" fill="#202020"/><circle cx="21" cy="17" r="2" fill="#202020"/><circle cx="25.5" cy="18" r="1.8" fill="#202020"/></g></g></g></g>
<rect x="600.9" y="152.3" width="20.8" height="9.6" rx="1.8" fill="#ffe699"/>
<text x="611.3" y="159.9" font-size="8.4" text-anchor="middle" fill="#222">1.31</text>
<rect x="600.9" y="190.6" width="20.8" height="9.6" rx="1.8" fill="#bdd7ee"/>
<text x="611.3" y="198.3" font-size="8.4" text-anchor="middle" fill="#222">41</text>
<clipPath id="ft23"><rect x="0" y="0" width="26.8" height="26.8"/></clipPath>
<g transform="translate(627.5,163.1)"><g clip-path="url(#ft23)"><g transform="scale(0.9926)"><rect width="27" height="27" fill="#c8a47c"/><rect width="27" height="4" fill="#e8d860"/><g filter="url(#fb)"><circle cx="3" cy="9" r="1.5" fill="#1a1a2a"/><circle cx="3" cy="15" r="1.5" fill="#1a1a2a"/><circle cx="3" cy="21" r="1.5" fill="#1a1a2a"/><circle cx="3" cy="26" r="1.5" fill="#1a1a2a"/><circle cx="9" cy="9" r="1.5" fill="#1a1a2a"/><circle cx="9" cy="15" r="1.5" fill="#1a1a2a"/><circle cx="9" cy="21" r="1.5" fill="#1a1a2a"/><circle cx="9" cy="26" r="1.5" fill="#1a1a2a"/><circle cx="15" cy="9" r="1.5" fill="#1a1a2a"/><circle cx="15" cy="15" r="1.5" fill="#1a1a2a"/><circle cx="15" cy="21" r="1.5" fill="#1a1a2a"/><circle cx="15" cy="26" r="1.5" fill="#1a1a2a"/><circle cx="21" cy="9" r="1.5" fill="#1a1a2a"/><circle cx="21" cy="15" r="1.5" fill="#1a1a2a"/><circle cx="21" cy="21" r="1.5" fill="#1a1a2a"/><circle cx="21" cy="26" r="1.5" fill="#1a1a2a"/><circle cx="26" cy="9" r="1.5" fill="#1a1a2a"/><circle cx="26" cy="15" r="1.5" fill="#1a1a2a"/><circle cx="26" cy="21" r="1.5" fill="#1a1a2a"/><circle cx="26" cy="26" r="1.5" fill="#1a1a2a"/></g></g></g></g>
<rect x="630.5" y="152.3" width="20.8" height="9.6" rx="1.8" fill="#ffe699"/>
<text x="640.9" y="159.9" font-size="8.4" text-anchor="middle" fill="#222">1.26</text>
<rect x="630.5" y="190.6" width="20.8" height="9.6" rx="1.8" fill="#bdd7ee"/>
<text x="640.9" y="198.3" font-size="8.4" text-anchor="middle" fill="#222">21</text>
<clipPath id="ft24"><rect x="0" y="0" width="26.8" height="26.8"/></clipPath>
<g transform="translate(657.2,163.1)"><g clip-path="url(#ft24)"><g transform="scale(0.9926)"><rect width="27" height="27" fill="#8a5844"/><g filter="url(#fb2)"><ellipse cx="16" cy="15" rx="10" ry="11" fill="#b07858"/><rect y="-3" width="30" height="5" fill="#6a4a3a"/></g><g filter="url(#fb)"><ellipse cx="12" cy="13" rx="2" ry="1" fill="#3a2018"/><ellipse cx="20" cy="13" rx="2" ry="1" fill="#3a2018"/><ellipse cx="16" cy="20" rx="3" ry="1.5" fill="#5a3020"/></g></g></g></g>
<rect x="660.2" y="152.3" width="20.8" height="9.6" rx="1.8" fill="#ffe699"/>
<text x="670.6" y="159.9" font-size="8.4" text-anchor="middle" fill="#222">1.23</text>
<rect x="660.2" y="190.6" width="20.8" height="9.6" rx="1.8" fill="#bdd7ee"/>
<text x="670.6" y="198.3" font-size="8.4" text-anchor="middle" fill="#222">7</text>
<clipPath id="ft30"><rect x="0" y="0" width="26.8" height="26.8"/></clipPath>
<g transform="translate(538.3,221.0)"><g clip-path="url(#ft30)"><g transform="scale(0.9926)"><rect width="27" height="27" fill="#dcdcdc"/><g filter="url(#fb)"><rect x="9" y="9" width="19" height="19" fill="#505050"/><rect x="2" y="18" width="5" height="9" fill="#606060"/><circle cx="17" cy="17" r="3" fill="#200810"/></g></g></g></g>
<rect x="541.3" y="210.2" width="20.8" height="9.6" rx="1.8" fill="#ffe699"/>
<text x="551.7" y="217.8" font-size="8.4" text-anchor="middle" fill="#222">1.22</text>
<rect x="541.3" y="248.8" width="20.8" height="9.6" rx="1.8" fill="#bdd7ee"/>
<text x="551.7" y="256.5" font-size="8.4" text-anchor="middle" fill="#222">16</text>
<clipPath id="ft31"><rect x="0" y="0" width="26.8" height="26.8"/></clipPath>
<g transform="translate(568.1,221.0)"><g clip-path="url(#ft31)"><g transform="scale(0.9926)"><rect width="27" height="27" fill="#d8d8d8"/><rect width="27" height="4" fill="#6a4a3a"/><g filter="url(#fb)"><ellipse cx="5" cy="8" rx="1.7" ry="1.2" fill="#111"/><ellipse cx="13" cy="6" rx="1.7" ry="1.2" fill="#111"/><ellipse cx="21" cy="8" rx="1.7" ry="1.2" fill="#111"/><ellipse cx="4" cy="15" rx="1.7" ry="1.2" fill="#111"/><ellipse cx="10" cy="13" rx="1.7" ry="1.2" fill="#111"/><ellipse cx="17" cy="16" rx="1.7" ry="1.2" fill="#111"/><ellipse cx="24" cy="14" rx="1.7" ry="1.2" fill="#111"/><ellipse cx="7" cy="21" rx="1.7" ry="1.2" fill="#111"/><ellipse cx="14" cy="22" rx="1.7" ry="1.2" fill="#111"/><ellipse cx="21" cy="23" rx="1.7" ry="1.2" fill="#111"/><ellipse cx="26" cy="20" rx="1.7" ry="1.2" fill="#111"/><ellipse cx="3" cy="26" rx="1.7" ry="1.2" fill="#111"/><ellipse cx="11" cy="27" rx="1.7" ry="1.2" fill="#111"/></g></g></g></g>
<rect x="571.1" y="210.2" width="20.8" height="9.6" rx="1.8" fill="#ffe699"/>
<text x="581.5" y="217.8" font-size="8.4" text-anchor="middle" fill="#222">1.17</text>
<rect x="571.1" y="248.8" width="20.8" height="9.6" rx="1.8" fill="#bdd7ee"/>
<text x="581.5" y="256.5" font-size="8.4" text-anchor="middle" fill="#222">56</text>
<clipPath id="ft32"><rect x="0" y="0" width="26.8" height="26.8"/></clipPath>
<g transform="translate(597.9,221.0)"><g clip-path="url(#ft32)"><g transform="scale(0.9926)"><rect width="27" height="27" fill="#c49868"/><g filter="url(#fb)"><rect x="0" y="0" width="27" height="6" fill="#a89070" opacity="0.7"/><ellipse cx="4" cy="5" rx="1.6" ry="1.3" fill="#2a1a10"/><ellipse cx="10" cy="3" rx="1.6" ry="1.3" fill="#2a1a10"/><ellipse cx="17" cy="6" rx="1.6" ry="1.3" fill="#2a1a10"/><ellipse cx="23" cy="4" rx="1.6" ry="1.3" fill="#2a1a10"/><ellipse cx="6" cy="11" rx="1.6" ry="1.3" fill="#2a1a10"/><ellipse cx="13" cy="10" rx="1.6" ry="1.3" fill="#2a1a10"/><ellipse cx="20" cy="12" rx="1.6" ry="1.3" fill="#2a1a10"/><ellipse cx="26" cy="10" rx="1.6" ry="1.3" fill="#2a1a10"/><ellipse cx="3" cy="17" rx="1.6" ry="1.3" fill="#2a1a10"/><ellipse cx="9" cy="16" rx="1.6" ry="1.3" fill="#2a1a10"/><ellipse cx="16" cy="18" rx="1.6" ry="1.3" fill="#2a1a10"/><ellipse cx="23" cy="17" rx="1.6" ry="1.3" fill="#2a1a10"/><ellipse cx="6" cy="23" rx="1.6" ry="1.3" fill="#2a1a10"/><ellipse cx="13" cy="24" rx="1.6" ry="1.3" fill="#2a1a10"/><ellipse cx="19" cy="22" rx="1.6" ry="1.3" fill="#2a1a10"/><ellipse cx="25" cy="24" rx="1.6" ry="1.3" fill="#2a1a10"/></g></g></g></g>
<rect x="600.9" y="210.2" width="20.8" height="9.6" rx="1.8" fill="#ffe699"/>
<text x="611.3" y="217.8" font-size="8.4" text-anchor="middle" fill="#222">1.09</text>
<rect x="600.9" y="248.8" width="20.8" height="9.6" rx="1.8" fill="#bdd7ee"/>
<text x="611.3" y="256.5" font-size="8.4" text-anchor="middle" fill="#222">354</text>
<clipPath id="ft33"><rect x="0" y="0" width="26.8" height="26.8"/></clipPath>
<g transform="translate(627.5,221.0)"><g clip-path="url(#ft33)"><g transform="scale(0.9926)"><rect width="27" height="27" fill="#a87c50"/><g filter="url(#fb)"><rect x="0" y="0" width="27" height="7" fill="#8a7a60"/><ellipse cx="4" cy="5" rx="1.6" ry="1.3" fill="#1a1008"/><ellipse cx="10" cy="3" rx="1.6" ry="1.3" fill="#1a1008"/><ellipse cx="17" cy="6" rx="1.6" ry="1.3" fill="#1a1008"/><ellipse cx="23" cy="4" rx="1.6" ry="1.3" fill="#1a1008"/><ellipse cx="6" cy="11" rx="1.6" ry="1.3" fill="#1a1008"/><ellipse cx="13" cy="10" rx="1.6" ry="1.3" fill="#1a1008"/><ellipse cx="20" cy="12" rx="1.6" ry="1.3" fill="#1a1008"/><ellipse cx="26" cy="10" rx="1.6" ry="1.3" fill="#1a1008"/><ellipse cx="3" cy="17" rx="1.6" ry="1.3" fill="#1a1008"/><ellipse cx="9" cy="16" rx="1.6" ry="1.3" fill="#1a1008"/><ellipse cx="16" cy="18" rx="1.6" ry="1.3" fill="#1a1008"/><ellipse cx="23" cy="17" rx="1.6" ry="1.3" fill="#1a1008"/><ellipse cx="6" cy="23" rx="1.6" ry="1.3" fill="#1a1008"/><ellipse cx="13" cy="24" rx="1.6" ry="1.3" fill="#1a1008"/><ellipse cx="19" cy="22" rx="1.6" ry="1.3" fill="#1a1008"/><ellipse cx="25" cy="24" rx="1.6" ry="1.3" fill="#1a1008"/></g></g></g></g>
<rect x="630.5" y="210.2" width="20.8" height="9.6" rx="1.8" fill="#ffe699"/>
<text x="640.9" y="217.8" font-size="8.4" text-anchor="middle" fill="#222">1.09</text>
<rect x="630.5" y="248.8" width="20.8" height="9.6" rx="1.8" fill="#bdd7ee"/>
<text x="640.9" y="256.5" font-size="8.4" text-anchor="middle" fill="#222">212</text>
<clipPath id="ft34"><rect x="0" y="0" width="26.8" height="26.8"/></clipPath>
<g transform="translate(657.2,221.0)"><g clip-path="url(#ft34)"><g transform="scale(0.9926)"><rect width="27" height="27" fill="#e6dcc4"/><g filter="url(#fb2)"><rect x="18" y="-3" width="12" height="20" fill="#3a5a2a"/><rect x="-3" y="-3" width="6" height="12" fill="#a89070"/></g><g filter="url(#fb)"><ellipse cx="14" cy="14" rx="3" ry="2" fill="#1a1a1a"/><ellipse cx="8" cy="21" rx="3" ry="2.2" fill="#1a1a1a"/><ellipse cx="20" cy="20" rx="2" ry="1.5" fill="#2a2a2a"/></g></g></g></g>
<rect x="660.2" y="210.2" width="20.8" height="9.6" rx="1.8" fill="#ffe699"/>
<text x="670.6" y="217.8" font-size="8.4" text-anchor="middle" fill="#222">1.04</text>
<rect x="660.2" y="248.8" width="20.8" height="9.6" rx="1.8" fill="#bdd7ee"/>
<text x="670.6" y="256.5" font-size="8.4" text-anchor="middle" fill="#222">30</text>
<path d="M315.0 40.0V33.7M315.2 39.8V30.5M315.4 41.5V35.6M315.7 38.1V32.2M315.9 80.4V72.7M316.1 80.8V75.3M316.3 84.5V77.1M316.5 51.9V43.1M316.8 38.8V33.1M317.0 53.5V46.6M317.2 84.2V76.6M317.4 82.4V76.2M317.6 85.5V80.1M317.9 83.9V79.2M318.1 51.1V43.6M318.3 84.9V75.0M318.5 83.6V79.5M318.7 87.3V77.9M319.0 69.3V59.3M319.2 86.5V79.1M319.4 77.8V67.8M319.6 87.3V79.0M319.8 74.3V66.9M320.1 55.1V48.2M320.3 93.2V86.4M320.5 76.4V68.2M320.7 86.3V80.9M321.0 55.9V47.4M321.2 74.2V67.2M321.4 87.0V78.8M321.6 83.1V73.2M321.8 77.9V72.5M322.1 88.0V81.5M322.3 58.0V52.4M322.5 84.4V80.2M322.7 86.3V78.4M322.9 76.4V68.6M323.2 87.1V76.9M323.4 87.8V80.0M323.6 87.3V80.9M323.8 92.4V82.8M324.0 80.1V76.0M324.3 85.9V80.0M324.5 91.5V82.8M324.7 87.3V82.3M324.9 87.7V81.5M325.1 89.5V80.2M325.4 89.4V83.3M325.6 86.3V80.8M325.8 87.6V78.1M326.0 86.6V82.2M326.2 92.0V82.7M326.5 86.4V80.5M326.7 89.3V84.1M326.9 86.7V79.7M327.1 91.7V84.8M327.3 88.2V78.2M327.6 90.0V81.4M327.8 92.3V85.5M328.0 90.3V82.8M328.2 88.6V82.7M328.4 90.2V80.1M328.7 91.6V85.2M328.9 74.5V65.0M329.1 78.6V70.6M329.3 92.1V82.4M329.5 88.6V82.4M329.8 87.5V80.9M330.0 93.5V87.3M330.2 90.2V81.0M330.4 88.1V78.2M330.7 91.7V82.5M330.9 91.8V85.1M331.1 89.1V79.9M331.3 90.1V81.6M331.5 87.8V80.6M331.8 90.0V84.9M332.0 93.1V87.7M332.2 91.1V82.7M332.4 90.4V85.2M332.6 76.2V68.8M332.9 81.3V72.3M333.1 95.0V86.9M333.3 93.8V86.0M333.5 87.4V81.8M333.7 87.5V82.8M334.0 90.6V86.5M334.2 89.1V84.9M334.4 88.5V83.2M334.6 89.5V82.1M334.8 88.1V81.5M335.1 89.0V83.8M335.3 90.3V84.5M335.5 91.2V84.4M335.7 89.0V80.0M335.9 97.0V88.9M336.2 89.7V85.5M336.4 69.3V62.3M336.6 74.0V68.9M336.8 91.1V81.8M337.0 93.8V84.3M337.3 88.9V81.5M337.5 92.0V83.5M337.7 89.9V81.6M337.9 88.9V79.8M338.1 89.4V83.7M338.4 92.5V87.1M338.6 95.8V87.1M338.8 88.1V78.1M339.0 90.6V85.2M339.2 93.2V85.7M339.5 91.0V83.6M339.7 91.3V85.1M339.9 89.9V81.2M340.1 90.0V85.3M340.4 90.9V84.6M340.6 92.9V86.3M340.8 91.6V81.7M341.0 94.6V86.4M341.2 90.4V82.0M341.5 89.1V78.9M341.7 94.5V89.1M341.9 98.1V90.4M342.1 88.7V84.1M342.3 84.0V79.0M342.6 70.0V61.7M342.8 76.0V66.9M343.0 90.5V82.6M343.2 94.0V86.4M343.4 93.8V84.9M343.7 94.0V84.0M343.9 91.7V81.9M344.1 93.7V84.7M344.3 90.8V84.2M344.5 93.0V84.3M344.8 93.1V87.7M345.0 93.9V84.3M345.2 93.5V87.8M345.4 93.3V83.2M345.6 94.1V88.3M345.9 93.9V88.3M346.1 87.6V81.6M346.3 92.0V85.0M346.5 91.1V85.9M346.7 89.9V84.3M347.0 94.2V84.7M347.2 93.9V84.1M347.4 89.8V84.9M347.6 91.1V84.4M347.8 94.7V88.2M348.1 79.0V69.9M348.3 82.4V74.3M348.5 94.5V88.0M348.7 95.3V86.4M348.9 93.4V85.7M349.2 87.1V81.8M349.4 96.1V87.2M349.6 91.7V84.8M349.8 98.9V89.4M350.1 92.7V84.6M350.3 88.8V83.9M350.5 93.6V85.0M350.7 94.1V86.5M350.9 91.8V84.5M351.2 90.2V83.7M351.4 74.6V66.5M351.6 77.4V73.1M351.8 91.8V84.7M352.0 95.2V85.4M352.3 91.8V86.5M352.5 91.4V86.6M352.7 91.8V85.3M352.9 92.5V85.3M353.1 91.6V85.3M353.4 96.7V89.7M353.6 90.9V82.7M353.8 94.9V85.9M354.0 94.1V89.8M354.2 90.5V84.2M354.5 89.5V81.7M354.7 89.8V85.7M354.9 93.5V83.6M355.1 95.4V87.4M355.3 85.2V78.2M355.6 90.2V83.4M355.8 78.8V74.0M356.0 82.1V77.8M356.2 93.0V84.8M356.4 97.9V88.2M356.7 93.1V84.2M356.9 92.3V88.3M357.1 88.1V83.9M357.3 90.3V83.1M357.5 99.9V92.3M357.8 92.9V85.2M358.0 98.0V88.6M358.2 91.2V81.6M358.4 93.9V83.7M358.6 90.8V84.8M358.9 95.4V88.5M359.1 89.7V79.5M359.3 88.3V79.9M359.5 94.1V89.8M359.8 93.2V83.5M360.0 94.9V87.1M360.2 91.9V86.8M360.4 95.6V89.5M360.6 88.3V80.8M360.9 70.6V62.6M361.1 75.3V68.8M361.3 92.4V83.8M361.5 94.7V87.4M361.7 70.0V60.0M362.0 75.5V66.2M362.2 92.2V87.3M362.4 94.7V90.1M362.6 74.4V65.1M362.8 78.5V70.7M363.1 95.3V85.3M363.3 92.7V86.0M363.5 92.8V87.7M363.7 89.7V85.5M363.9 94.7V85.9M364.2 92.1V87.6M364.4 95.2V87.2M364.6 94.6V87.1M364.8 97.1V88.5M365.0 93.2V83.3M365.3 95.2V89.8M365.5 95.0V88.0M365.7 93.0V84.3M365.9 91.2V86.0M366.1 92.9V88.4M366.4 97.2V92.4M366.6 93.5V83.7M366.8 93.4V84.5M367.0 95.9V90.7M367.2 89.7V85.7M367.5 95.4V87.5M367.7 95.5V89.6M367.9 79.1V73.7M368.1 82.5V77.4M368.3 92.6V85.7M368.6 96.9V90.8M368.8 90.0V80.2M369.0 95.0V87.5M369.2 98.5V88.9M369.4 93.0V83.3M369.7 95.5V85.9M369.9 92.5V85.4M370.1 94.5V86.9M370.3 93.6V86.3M370.6 91.2V87.1M370.8 96.7V86.8M371.0 90.5V85.6M371.2 94.7V87.3M371.4 96.2V88.0M371.7 94.1V85.2M371.9 92.4V85.1M372.1 94.4V86.5M372.3 96.6V87.5M372.5 92.3V84.3M372.8 98.5V90.3M373.0 97.2V87.9M373.2 92.0V87.6M373.4 97.0V89.8M373.6 91.9V87.8M373.9 92.5V87.6M374.1 89.7V85.6M374.3 97.0V87.6M374.5 94.6V88.6M374.7 92.7V85.5M375.0 100.7V91.8M375.2 86.2V77.9M375.4 96.7V86.9M375.6 95.4V88.4M375.8 92.0V83.6M376.1 94.8V85.4M376.3 96.9V92.3M376.5 91.9V85.0M376.7 90.1V85.6M376.9 94.9V87.5M377.2 93.7V87.8M377.4 93.4V84.2M377.6 95.8V89.0M377.8 91.4V86.5M378.0 94.3V84.9M378.3 95.1V88.5M378.5 95.7V91.6M378.7 93.5V87.9M378.9 95.5V89.2M379.1 89.6V85.5M379.4 92.2V87.4M379.6 91.0V85.3M379.8 92.8V86.8M380.0 92.8V86.2M380.3 95.1V89.3M380.5 91.4V85.5M380.7 89.0V82.2M380.9 94.1V87.9M381.1 96.0V87.4M381.4 95.0V86.2M381.6 93.5V89.4M381.8 94.5V89.5M382.0 92.2V87.6M382.2 94.1V87.9M382.5 89.7V83.5M382.7 94.6V85.9M382.9 93.7V85.2M383.1 92.6V83.1M383.3 95.2V86.9M383.6 90.5V82.8M383.8 97.0V86.8M384.0 96.3V88.4M384.2 94.4V88.1M384.4 93.5V87.7M384.7 96.0V91.8M384.9 95.3V85.5M385.1 98.9V90.3M385.3 89.9V83.6M385.5 95.3V85.8M385.8 96.4V87.6M386.0 96.1V89.3M386.2 96.3V86.4M386.4 95.7V86.2M386.6 96.4V89.7M386.9 96.0V89.4M387.1 93.3V88.4M387.3 94.0V89.4M387.5 91.1V84.9M387.7 90.1V84.9M388.0 92.6V88.2M388.2 93.5V84.9M388.4 98.8V88.9M388.6 92.9V84.7M388.8 95.3V85.7M389.1 93.9V84.5M389.3 90.4V82.4M389.5 99.9V92.7M389.7 92.9V86.7M390.0 96.8V89.8M390.2 91.9V86.0M390.4 96.4V91.3M390.6 95.3V88.2M390.8 94.0V85.9M391.1 92.7V85.1M391.3 94.6V86.0M391.5 95.6V89.5M391.7 93.9V90.0M391.9 90.9V85.6M392.2 93.4V87.7M392.4 98.6V91.1M392.6 91.6V85.2M392.8 93.5V85.5M393.0 91.0V85.7M393.3 94.9V88.0M393.5 90.4V86.5M393.7 97.4V89.2M393.9 93.8V84.4M394.1 96.5V87.2M394.4 93.6V84.2M394.6 90.6V85.5M394.8 97.5V87.4M395.0 94.4V87.1M395.2 93.1V88.0M395.5 89.8V85.3M395.7 91.0V86.6M395.9 97.7V89.8M396.1 93.4V85.5M396.3 93.2V84.3M396.6 89.3V81.2M396.8 98.6V91.4M397.0 94.5V89.6M397.2 91.5V83.0M397.4 96.1V92.2M397.7 97.8V89.7M397.9 91.9V86.9M398.1 90.6V85.6M398.3 97.2V87.6M398.5 94.2V84.5M398.8 94.6V86.2M399.0 89.5V84.2M399.2 94.2V87.3M399.4 91.3V85.2M399.7 95.4V90.7M399.9 93.9V88.5M400.1 93.1V88.9M400.3 92.9V82.8M400.5 92.0V86.6M400.8 95.9V89.5M401.0 91.8V86.3M401.2 92.8V84.8M401.4 94.8V87.3M401.6 95.8V87.1M401.9 93.3V89.3M402.1 97.7V92.5M402.3 94.2V86.5M402.5 94.0V86.4M402.7 97.6V88.5M403.0 91.1V86.7M403.2 97.5V91.2M403.4 95.5V89.0M403.6 95.6V88.5M403.8 88.8V82.7M404.1 99.2V90.7M404.3 91.7V87.1M404.5 90.6V86.3M404.7 92.8V86.9M404.9 90.1V85.6M405.2 96.6V90.2M405.4 100.5V92.9M405.6 91.2V86.7M405.8 97.4V90.5M406.0 95.4V88.0M406.3 97.6V90.2M406.5 90.3V86.2M406.7 93.1V84.3M406.9 97.0V88.5M407.1 91.5V85.7M407.4 94.1V87.2M407.6 95.6V87.0M407.8 95.4V86.2M408.0 94.2V88.7M408.2 93.8V85.0M408.5 93.5V86.9M408.7 96.8V86.9M408.9 93.1V83.7M409.1 95.6V89.4M409.4 93.3V87.1M409.6 93.4V86.4M409.8 92.2V82.2M410.0 94.7V89.9M410.2 90.2V82.8M410.5 94.5V86.5M410.7 95.7V87.3M410.9 94.9V90.5M411.1 93.4V85.7M411.3 94.3V87.5M411.6 96.9V90.8M411.8 98.9V88.9M412.0 94.7V90.1M412.2 97.0V88.6M412.4 90.9V85.6M412.7 92.5V82.6M412.9 92.4V85.3M413.1 93.5V86.7M413.3 94.9V89.4M413.5 94.6V87.3M413.8 93.5V84.1M414.0 87.8V83.4M414.2 92.8V84.7M414.4 94.2V89.4M414.6 93.7V88.3M414.9 97.0V87.7M415.1 95.3V90.9M415.3 95.8V87.3M415.5 92.7V88.5M415.7 90.0V82.8M416.0 94.9V87.1M416.2 90.1V85.2M416.4 91.1V82.1M416.6 93.6V88.3M416.8 90.5V83.6M417.1 92.0V86.6M417.3 96.6V87.8M417.5 93.2V87.7M417.7 93.9V88.3M417.9 93.7V89.7M418.2 96.5V86.9M418.4 92.9V88.7M418.6 93.0V87.1M418.8 97.4V89.4M419.0 94.2V88.2M419.3 98.9V91.2M419.5 93.6V87.4M419.7 94.3V84.9M419.9 93.2V88.3M420.2 92.5V88.4M420.4 92.0V87.4M420.6 96.5V89.3M420.8 95.6V88.0M421.0 94.5V85.3M421.3 93.6V83.7M421.5 93.4V87.0M421.7 89.3V80.1M421.9 94.7V88.2M422.1 91.8V85.5M422.4 90.4V85.6M422.6 96.3V86.9M422.8 96.4V90.3M423.0 98.3V90.3M423.2 94.4V87.2M423.5 93.5V83.3M423.7 93.3V87.8M423.9 94.5V87.1M424.1 96.7V87.8M424.3 92.4V87.3M424.6 101.3V92.2M424.8 94.4V87.0M425.0 93.5V88.9M425.2 99.8V89.8M425.4 89.0V82.5M425.7 98.3V91.4M425.9 98.5V89.6M426.1 99.4V89.4M426.3 91.2V85.7M426.5 96.0V91.2M426.8 93.9V85.3M427.0 93.9V85.7M427.2 94.0V87.3M427.4 98.7V90.7M427.6 97.8V88.0M427.9 91.7V82.5M428.1 98.4V90.9M428.3 98.3V88.6M428.5 96.6V86.9M428.7 93.7V84.9M429.0 93.1V88.4M429.2 93.2V85.7M429.4 98.0V90.2M429.6 93.7V84.2M429.9 93.5V86.3M430.1 99.3V91.6M430.3 91.7V83.2M430.5 87.8V83.3M430.7 95.5V91.2M431.0 93.3V89.2M431.2 90.1V85.5M431.4 98.0V92.4M431.6 98.6V94.4M431.8 98.6V90.9M432.1 96.6V89.1M432.3 96.3V89.5M432.5 91.9V87.9M432.7 94.3V87.1M432.9 97.0V92.2M433.2 92.0V88.0M433.4 91.1V82.2M433.6 93.2V83.6M433.8 91.1V86.7M434.0 95.4V87.4M434.3 91.1V86.8M434.5 97.7V90.1M434.7 93.5V85.6M434.9 95.5V87.9M435.1 93.7V83.5M435.4 94.2V86.4M435.6 96.7V91.8M435.8 96.0V86.2M436.0 91.3V85.5M436.2 98.0V90.7M436.5 96.2V89.6M436.7 98.0V89.0M436.9 97.5V93.1M437.1 92.2V85.9M437.3 91.5V84.8M437.6 93.3V85.6M437.8 95.7V86.1M438.0 94.6V88.7M438.2 94.0V87.9M438.4 97.5V89.3M438.7 91.9V86.6M438.9 92.4V85.3M439.1 92.1V86.2M439.3 96.8V89.0M439.6 95.1V87.5M439.8 96.1V87.8M440.0 90.3V83.7M440.2 93.8V88.4M440.4 98.4V94.3M440.7 94.4V86.7M440.9 89.4V84.1M441.1 91.8V87.8M441.3 92.5V86.2M441.5 94.3V88.6M441.8 100.7V92.5M442.0 99.1V93.3M442.2 97.9V91.6M442.4 96.1V87.7M442.6 94.9V86.7M442.9 92.3V87.4M443.1 96.3V88.7M443.3 94.0V84.3M443.5 97.1V87.5M443.7 98.0V88.8M444.0 92.3V86.6M444.2 98.9V89.0M444.4 101.2V96.0M444.6 97.6V91.1M444.8 93.7V89.1M445.1 103.2V95.7M445.3 96.8V88.3M445.5 96.6V88.4M445.7 97.3V93.3M445.9 100.5V90.4M446.2 95.8V89.9M446.4 97.3V88.7M446.6 93.3V83.6M446.8 95.1V86.3M447.0 99.3V92.1M447.3 97.5V90.2M447.5 92.3V87.4M447.7 90.0V83.7M447.9 95.2V86.1M448.1 95.0V86.8M448.4 91.0V82.9M448.6 95.8V87.6M448.8 95.5V89.4M449.0 100.3V90.2M449.3 96.0V90.0M449.5 88.7V83.6M449.7 99.4V91.3M449.9 94.2V89.2M450.1 100.3V90.3M450.4 95.1V87.6M450.6 91.8V87.1M450.8 94.4V90.3M451.0 93.7V86.0M451.2 92.0V87.8M451.5 92.7V88.4M451.7 90.6V84.1M451.9 93.1V86.4M452.1 97.1V87.9M452.3 95.8V91.1M452.6 98.6V89.2M452.8 93.8V87.3M453.0 97.2V87.9M453.2 87.2V82.3M453.4 89.2V84.9M453.7 95.6V89.0M453.9 95.2V90.0M454.1 90.9V84.0M454.3 101.1V92.0M454.5 97.7V88.2M454.8 91.6V87.1M455.0 96.9V91.3M455.2 95.9V90.1M455.4 95.2V90.2M455.6 93.5V86.7M455.9 93.6V89.3M456.1 93.3V88.2M456.3 92.4V88.1M456.5 95.1V88.3M456.7 93.9V84.0M457.0 96.1V91.2M457.2 100.2V90.7M457.4 99.3V93.4M457.6 100.3V91.6M457.8 97.8V88.6M458.1 93.1V85.3M458.3 95.6V87.1M458.5 97.3V89.4M458.7 99.4V89.7M459.0 97.6V88.8M459.2 96.1V89.6M459.4 96.2V90.4M459.6 98.0V93.0M459.8 96.6V89.5M460.1 91.9V86.6M460.3 100.1V94.7M460.5 97.2V87.7M460.7 101.4V93.1M460.9 95.0V87.7M461.2 98.4V89.2M461.4 100.8V93.6M461.6 94.8V88.4M461.8 91.3V83.1M462.0 95.5V87.7M462.3 91.5V86.3M462.5 95.0V89.1M462.7 101.1V93.7M462.9 93.3V88.0M463.1 97.8V88.1M463.4 97.7V93.5M463.6 94.6V85.2M463.8 96.2V86.1M464.0 97.1V89.3M464.2 92.3V87.1M464.5 98.6V89.6M464.7 93.6V86.9M464.9 98.5V90.1M465.1 93.5V87.6M465.3 97.4V92.1M465.6 93.1V83.1M465.8 93.5V89.1M466.0 90.4V86.1M466.2 98.5V89.6M466.4 97.5V88.7M466.7 92.7V86.8M466.9 102.1V95.8M467.1 98.8V90.5M467.3 93.2V85.4M467.5 94.8V86.8M467.8 92.8V86.1M468.0 97.8V87.7M468.2 92.9V88.1M468.4 97.8V89.9M468.6 98.1V92.8M468.9 99.3V93.3M469.1 96.3V90.5M469.3 97.9V88.8M469.5 97.4V89.8M469.8 104.0V98.0M470.0 100.7V93.4M470.2 96.8V89.9M470.4 94.9V87.6M470.6 96.2V90.7M470.9 97.4V91.1M471.1 101.3V94.5M471.3 89.1V84.6M471.5 96.8V92.8M471.7 91.5V83.9M472.0 90.6V85.4M472.2 95.8V86.8M472.4 95.5V91.4M472.6 94.3V89.0M472.8 98.9V91.0M473.1 93.7V89.0M473.3 95.3V88.7M473.5 93.6V87.8M473.7 92.4V86.8M473.9 90.3V84.9M474.2 98.1V88.0M474.4 92.3V86.4M474.6 96.4V91.7M474.8 99.2V89.5M475.0 96.1V91.2M475.3 98.8V90.3M475.5 93.6V85.5M475.7 93.9V85.5M475.9 93.2V84.4M476.1 94.6V89.6M476.4 93.4V89.3M476.6 96.9V90.2M476.8 98.4V91.6M477.0 93.6V88.2M477.2 95.9V86.9M477.5 97.2V92.6M477.7 94.1V87.0M477.9 100.2V92.9M478.1 94.5V90.5M478.3 98.2V89.2M478.6 96.5V90.3M478.8 98.3V91.4M479.0 92.1V87.2M479.2 93.9V87.4M479.5 92.5V85.7M479.7 95.6V87.9M479.9 97.5V93.3M480.1 96.4V89.8M480.3 98.7V91.6M480.6 95.9V86.0M480.8 92.9V85.2M481.0 95.4V87.2M481.2 97.0V90.3M481.4 96.6V89.6M481.7 96.7V86.6M481.9 99.1V92.6M482.1 96.9V86.7M482.3 95.5V87.8M482.5 98.4V88.7M482.8 97.0V89.5M483.0 96.3V87.2M483.2 98.8V89.7M483.4 97.5V91.1M483.6 93.2V87.2M483.9 96.5V86.7M484.1 90.9V84.9M484.3 99.2V90.3M484.5 99.3V94.2M484.7 93.3V86.3M485.0 92.9V86.6M485.2 96.9V91.3M485.4 98.7V93.3M485.6 97.4V87.4M485.8 100.8V92.6M486.1 96.5V89.7M486.3 101.6V94.1M486.5 97.5V88.2M486.7 101.8V93.6M486.9 95.2V90.5M487.2 91.0V85.8M487.4 97.7V88.2M487.6 94.0V86.6M487.8 97.7V90.1M488.0 97.0V92.1M488.3 98.5V93.7M488.5 92.3V87.0M488.7 95.4V89.5M488.9 91.9V84.4M489.2 98.5V92.2M489.4 97.0V88.8M489.6 95.4V88.8M489.8 92.3V85.1M490.0 92.6V82.7M490.3 96.1V91.9M490.5 99.2V91.3M490.7 101.1V92.5M490.9 91.5V86.4M491.1 97.2V87.9M491.4 96.4V91.7M491.6 97.0V88.0M491.8 101.5V96.3M492.0 100.1V93.5M492.2 93.2V86.8M492.5 95.1V87.6M492.7 96.0V88.0M492.9 97.0V92.9M493.1 95.4V86.4M493.3 91.5V84.2M493.6 100.4V90.7M493.8 94.9V89.9M494.0 96.9V90.1M494.2 96.4V86.5M494.4 96.3V88.4M494.7 96.3V89.2M494.9 98.1V91.2M495.1 97.3V87.6M495.3 96.0V92.0M495.5 97.9V87.7M495.8 96.0V89.1M496.0 95.3V86.2M496.2 97.4V90.4M496.4 97.8V88.7M496.6 92.0V87.4M496.9 96.3V89.7M497.1 97.5V88.7M497.3 95.3V85.1M497.5 95.3V88.2M497.7 94.4V90.0M498.0 96.2V87.6M498.2 99.6V91.6M498.4 93.7V88.8M498.6 91.7V86.4M498.9 94.5V87.4M499.1 98.9V93.9M499.3 96.6V86.9M499.5 99.8V89.7M499.7 97.4V88.7M500.0 96.7V87.5M500.2 98.5V92.5M500.4 91.3V86.7M500.6 96.9V88.4M500.8 94.9V86.0M501.1 95.0V86.7M501.3 91.5V86.5M501.5 91.5V87.4M501.7 99.9V92.5M501.9 94.8V89.9M502.2 100.8V95.0M502.4 97.1V90.1M502.6 93.4V87.9M502.8 95.0V85.2M503.0 92.1V86.2M503.3 97.1V89.7M503.5 96.7V86.6M503.7 96.3V88.1M503.9 92.4V86.0M504.1 92.7V84.1M504.4 96.0V90.8M504.6 85.1V80.5M504.8 94.6V90.4M505.0 97.5V89.3M505.2 95.0V86.9M505.5 94.6V86.5M505.7 95.2V87.0M505.9 97.9V90.3M506.1 93.6V83.8M506.3 95.7V88.9M506.6 90.9V86.2M506.8 91.7V86.2M507.0 99.0V92.5M507.2 98.9V91.1M507.4 98.1V91.9M507.7 95.2V88.5M507.9 95.2V89.4M508.1 96.0V87.5M508.3 99.2V89.9M508.6 94.4V88.4M508.8 93.4V84.4M509.0 98.5V93.3M509.2 98.0V87.9M509.4 94.9V88.8M509.7 96.9V88.8M509.9 96.8V89.1M510.1 90.2V85.7M510.3 93.0V85.4M510.5 92.4V88.2M510.8 97.9V90.9M511.0 90.4V83.1M511.2 96.5V86.6M511.4 96.5V91.4M511.6 95.5V91.2M511.9 97.7V89.8M512.1 90.0V84.1M512.3 95.7V88.3M512.5 95.1V89.6M512.7 102.1V93.9M513.0 93.0V88.3M513.2 98.8V91.6" stroke="#3f8ad0" stroke-width="0.55" stroke-opacity="0.55" fill="none"/>
<polyline points="315.0,74.4 315.2,74.9 315.4,75.4 315.7,75.8 315.9,76.2 316.1,76.5 316.3,76.9 316.5,77.2 316.8,77.5 317.0,77.8 317.2,78.1 317.4,78.3 317.6,78.6 317.9,78.8 318.1,79.0 318.3,79.3 318.5,79.5 318.7,79.7 319.0,79.9 319.2,80.0 319.4,80.2 319.6,80.4 319.8,80.6 320.1,80.7 320.3,80.9 320.5,81.0 320.7,81.2 321.0,81.3 321.2,81.4 321.4,81.6 321.6,81.7 321.8,81.8 322.1,81.9 322.3,82.1 322.5,82.2 322.7,82.3 322.9,82.4 323.2,82.5 323.4,82.6 323.6,82.7 323.8,82.8 324.9,83.2 326.0,83.7 327.1,84.0 328.2,84.3 329.3,84.6 330.4,84.9 331.5,85.2 332.6,85.4 333.7,85.6 334.8,85.8 335.9,86.0 337.0,86.2 338.1,86.4 339.2,86.5 340.4,86.7 341.5,86.8 342.6,86.9 343.7,87.1 344.8,87.2 345.9,87.3 347.0,87.4 348.1,87.5 349.2,87.6 350.3,87.7 351.4,87.8 352.5,87.9 353.6,88.0 354.7,88.1 355.8,88.2 356.9,88.2 358.0,88.3 359.1,88.4 360.2,88.5 361.3,88.5 362.4,88.6 363.5,88.7 364.6,88.7 365.7,88.8 366.8,88.9 367.9,88.9 369.0,89.0 370.1,89.0 371.2,89.1 372.3,89.1 373.4,89.2 374.5,89.2 375.6,89.3 376.7,89.3 377.8,89.4 378.9,89.4 380.0,89.5 381.1,89.5 382.2,89.6 383.3,89.6 384.4,89.6 385.5,89.7 386.6,89.7 387.7,89.8 388.8,89.8 390.0,89.8 391.1,89.9 392.2,89.9 393.3,89.9 394.4,90.0 395.5,90.0 396.6,90.1 397.7,90.1 398.8,90.1 399.9,90.2 401.0,90.2 402.1,90.2 403.2,90.2 404.3,90.3 405.4,90.3 406.5,90.3 407.6,90.4 408.7,90.4 409.8,90.4 410.9,90.5 412.0,90.5 413.1,90.5 414.2,90.5 415.3,90.6 416.4,90.6 417.5,90.6 418.6,90.6 419.7,90.7 420.8,90.7 421.9,90.7 423.0,90.7 424.1,90.8 425.2,90.8 426.3,90.8 427.4,90.8 428.5,90.9 429.6,90.9 430.7,90.9 431.8,90.9 432.9,91.0 434.0,91.0 435.1,91.0 436.2,91.0 437.3,91.0 438.4,91.1 439.6,91.1 440.7,91.1 441.8,91.1 442.9,91.1 444.0,91.2 445.1,91.2 446.2,91.2 447.3,91.2 448.4,91.2 449.5,91.3 450.6,91.3 451.7,91.3 452.8,91.3 453.9,91.3 455.0,91.4 456.1,91.4 457.2,91.4 458.3,91.4 459.4,91.4 460.5,91.5 461.6,91.5 462.7,91.5 463.8,91.5 464.9,91.5 466.0,91.5 467.1,91.6 468.2,91.6 469.3,91.6 470.4,91.6 471.5,91.6 472.6,91.6 473.7,91.7 474.8,91.7 475.9,91.7 477.0,91.7 478.1,91.7 479.2,91.7 480.3,91.8 481.4,91.8 482.5,91.8 483.6,91.8 484.7,91.8 485.8,91.8 486.9,91.8 488.0,91.9 489.2,91.9 490.3,91.9 491.4,91.9 492.5,91.9 493.6,91.9 494.7,91.9 495.8,92.0 496.9,92.0 498.0,92.0 499.1,92.0 500.2,92.0 501.3,92.0 502.4,92.0 503.5,92.1 504.6,92.1 505.7,92.1 506.8,92.1 507.9,92.1 509.0,92.1 510.1,92.1 511.2,92.2 512.3,92.2 513.2,92.2" fill="none" stroke="#f01818" stroke-width="1.6"/>
<path d="M314.2 36.1h1.6v1.6h-1.6zM314.4 34.4h1.6v1.6h-1.6zM314.6 37.8h1.6v1.6h-1.6zM314.9 34.4h1.6v1.6h-1.6zM315.1 75.7h1.6v1.6h-1.6zM315.3 77.2h1.6v1.6h-1.6zM315.5 80.0h1.6v1.6h-1.6zM315.7 46.7h1.6v1.6h-1.6zM316.0 35.1h1.6v1.6h-1.6zM316.2 49.2h1.6v1.6h-1.6zM316.4 79.6h1.6v1.6h-1.6zM316.6 78.5h1.6v1.6h-1.6zM316.8 82.0h1.6v1.6h-1.6zM317.1 80.7h1.6v1.6h-1.6zM317.3 46.5h1.6v1.6h-1.6zM317.5 79.2h1.6v1.6h-1.6zM317.7 80.8h1.6v1.6h-1.6zM317.9 81.8h1.6v1.6h-1.6zM318.2 63.5h1.6v1.6h-1.6zM318.4 82.0h1.6v1.6h-1.6zM318.6 72.0h1.6v1.6h-1.6zM318.8 82.4h1.6v1.6h-1.6zM319.0 69.8h1.6v1.6h-1.6zM319.3 50.9h1.6v1.6h-1.6zM319.5 89.0h1.6v1.6h-1.6zM319.7 71.5h1.6v1.6h-1.6zM319.9 82.8h1.6v1.6h-1.6zM320.2 50.9h1.6v1.6h-1.6zM320.4 69.9h1.6v1.6h-1.6zM320.6 82.1h1.6v1.6h-1.6zM320.8 77.4h1.6v1.6h-1.6zM321.0 74.4h1.6v1.6h-1.6zM321.3 83.9h1.6v1.6h-1.6zM321.5 54.4h1.6v1.6h-1.6zM321.7 81.5h1.6v1.6h-1.6zM321.9 81.6h1.6v1.6h-1.6zM322.1 71.7h1.6v1.6h-1.6zM322.4 81.2h1.6v1.6h-1.6zM322.6 83.1h1.6v1.6h-1.6zM322.8 83.3h1.6v1.6h-1.6zM323.0 86.8h1.6v1.6h-1.6zM323.2 77.3h1.6v1.6h-1.6zM323.5 82.1h1.6v1.6h-1.6zM323.7 86.3h1.6v1.6h-1.6zM323.9 84.0h1.6v1.6h-1.6zM324.1 83.8h1.6v1.6h-1.6zM324.3 84.1h1.6v1.6h-1.6zM324.6 85.5h1.6v1.6h-1.6zM324.8 82.8h1.6v1.6h-1.6zM325.0 82.1h1.6v1.6h-1.6zM325.2 83.6h1.6v1.6h-1.6zM325.4 86.6h1.6v1.6h-1.6zM325.7 82.7h1.6v1.6h-1.6zM325.9 85.9h1.6v1.6h-1.6zM326.1 82.4h1.6v1.6h-1.6zM326.3 87.5h1.6v1.6h-1.6zM326.5 82.4h1.6v1.6h-1.6zM326.8 84.9h1.6v1.6h-1.6zM327.0 88.1h1.6v1.6h-1.6zM327.2 85.8h1.6v1.6h-1.6zM327.4 84.9h1.6v1.6h-1.6zM327.6 84.4h1.6v1.6h-1.6zM327.9 87.6h1.6v1.6h-1.6zM328.1 68.9h1.6v1.6h-1.6zM328.3 73.8h1.6v1.6h-1.6zM328.5 86.5h1.6v1.6h-1.6zM328.7 84.7h1.6v1.6h-1.6zM329.0 83.4h1.6v1.6h-1.6zM329.2 89.6h1.6v1.6h-1.6zM329.4 84.8h1.6v1.6h-1.6zM329.6 82.4h1.6v1.6h-1.6zM329.9 86.3h1.6v1.6h-1.6zM330.1 87.7h1.6v1.6h-1.6zM330.3 83.7h1.6v1.6h-1.6zM330.5 85.0h1.6v1.6h-1.6zM330.7 83.4h1.6v1.6h-1.6zM331.0 86.6h1.6v1.6h-1.6zM331.2 89.6h1.6v1.6h-1.6zM331.4 86.1h1.6v1.6h-1.6zM331.6 87.0h1.6v1.6h-1.6zM331.8 71.7h1.6v1.6h-1.6zM332.1 76.0h1.6v1.6h-1.6zM332.3 90.1h1.6v1.6h-1.6zM332.5 89.1h1.6v1.6h-1.6zM332.7 83.8h1.6v1.6h-1.6zM332.9 84.4h1.6v1.6h-1.6zM333.2 87.8h1.6v1.6h-1.6zM333.4 86.2h1.6v1.6h-1.6zM333.6 85.1h1.6v1.6h-1.6zM333.8 85.0h1.6v1.6h-1.6zM334.0 84.0h1.6v1.6h-1.6zM334.3 85.6h1.6v1.6h-1.6zM334.5 86.6h1.6v1.6h-1.6zM334.7 87.0h1.6v1.6h-1.6zM334.9 83.7h1.6v1.6h-1.6zM335.1 92.2h1.6v1.6h-1.6zM335.4 86.8h1.6v1.6h-1.6zM335.6 65.0h1.6v1.6h-1.6zM335.8 70.7h1.6v1.6h-1.6zM336.0 85.7h1.6v1.6h-1.6zM336.2 88.2h1.6v1.6h-1.6zM336.5 84.4h1.6v1.6h-1.6zM336.7 87.0h1.6v1.6h-1.6zM336.9 85.0h1.6v1.6h-1.6zM337.1 83.6h1.6v1.6h-1.6zM337.3 85.7h1.6v1.6h-1.6zM337.6 89.0h1.6v1.6h-1.6zM337.8 90.6h1.6v1.6h-1.6zM338.0 82.3h1.6v1.6h-1.6zM338.2 87.1h1.6v1.6h-1.6zM338.4 88.6h1.6v1.6h-1.6zM338.7 86.5h1.6v1.6h-1.6zM338.9 87.4h1.6v1.6h-1.6zM339.1 84.8h1.6v1.6h-1.6zM339.3 86.9h1.6v1.6h-1.6zM339.6 86.9h1.6v1.6h-1.6zM339.8 88.8h1.6v1.6h-1.6zM340.0 85.8h1.6v1.6h-1.6zM340.2 89.7h1.6v1.6h-1.6zM340.4 85.4h1.6v1.6h-1.6zM340.7 83.2h1.6v1.6h-1.6zM340.9 91.0h1.6v1.6h-1.6zM341.1 93.4h1.6v1.6h-1.6zM341.3 85.6h1.6v1.6h-1.6zM341.5 80.7h1.6v1.6h-1.6zM341.8 65.0h1.6v1.6h-1.6zM342.0 70.7h1.6v1.6h-1.6zM342.2 85.8h1.6v1.6h-1.6zM342.4 89.4h1.6v1.6h-1.6zM342.6 88.6h1.6v1.6h-1.6zM342.9 88.2h1.6v1.6h-1.6zM343.1 86.0h1.6v1.6h-1.6zM343.3 88.4h1.6v1.6h-1.6zM343.5 86.7h1.6v1.6h-1.6zM343.7 87.9h1.6v1.6h-1.6zM344.0 89.6h1.6v1.6h-1.6zM344.2 88.3h1.6v1.6h-1.6zM344.4 89.9h1.6v1.6h-1.6zM344.6 87.5h1.6v1.6h-1.6zM344.8 90.4h1.6v1.6h-1.6zM345.1 90.3h1.6v1.6h-1.6zM345.3 83.8h1.6v1.6h-1.6zM345.5 87.7h1.6v1.6h-1.6zM345.7 87.7h1.6v1.6h-1.6zM345.9 86.3h1.6v1.6h-1.6zM346.2 88.7h1.6v1.6h-1.6zM346.4 88.2h1.6v1.6h-1.6zM346.6 86.6h1.6v1.6h-1.6zM346.8 87.0h1.6v1.6h-1.6zM347.0 90.7h1.6v1.6h-1.6zM347.3 73.6h1.6v1.6h-1.6zM347.5 77.6h1.6v1.6h-1.6zM347.7 90.4h1.6v1.6h-1.6zM347.9 90.1h1.6v1.6h-1.6zM348.1 88.8h1.6v1.6h-1.6zM348.4 83.6h1.6v1.6h-1.6zM348.6 90.8h1.6v1.6h-1.6zM348.8 87.4h1.6v1.6h-1.6zM349.0 93.3h1.6v1.6h-1.6zM349.3 87.9h1.6v1.6h-1.6zM349.5 85.6h1.6v1.6h-1.6zM349.7 88.5h1.6v1.6h-1.6zM349.9 89.5h1.6v1.6h-1.6zM350.1 87.3h1.6v1.6h-1.6zM350.4 86.2h1.6v1.6h-1.6zM350.6 69.7h1.6v1.6h-1.6zM350.8 74.4h1.6v1.6h-1.6zM351.0 87.5h1.6v1.6h-1.6zM351.2 89.5h1.6v1.6h-1.6zM351.5 88.3h1.6v1.6h-1.6zM351.7 88.2h1.6v1.6h-1.6zM351.9 87.8h1.6v1.6h-1.6zM352.1 88.1h1.6v1.6h-1.6zM352.3 87.6h1.6v1.6h-1.6zM352.6 92.4h1.6v1.6h-1.6zM352.8 86.0h1.6v1.6h-1.6zM353.0 89.6h1.6v1.6h-1.6zM353.2 91.1h1.6v1.6h-1.6zM353.4 86.5h1.6v1.6h-1.6zM353.7 84.8h1.6v1.6h-1.6zM353.9 86.9h1.6v1.6h-1.6zM354.1 87.8h1.6v1.6h-1.6zM354.3 90.6h1.6v1.6h-1.6zM354.5 80.9h1.6v1.6h-1.6zM354.8 86.0h1.6v1.6h-1.6zM355.0 75.6h1.6v1.6h-1.6zM355.2 79.2h1.6v1.6h-1.6zM355.4 88.1h1.6v1.6h-1.6zM355.6 92.3h1.6v1.6h-1.6zM355.9 87.9h1.6v1.6h-1.6zM356.1 89.5h1.6v1.6h-1.6zM356.3 85.2h1.6v1.6h-1.6zM356.5 85.9h1.6v1.6h-1.6zM356.7 95.3h1.6v1.6h-1.6zM357.0 88.3h1.6v1.6h-1.6zM357.2 92.5h1.6v1.6h-1.6zM357.4 85.6h1.6v1.6h-1.6zM357.6 88.0h1.6v1.6h-1.6zM357.8 87.0h1.6v1.6h-1.6zM358.1 91.2h1.6v1.6h-1.6zM358.3 83.8h1.6v1.6h-1.6zM358.5 83.3h1.6v1.6h-1.6zM358.7 91.2h1.6v1.6h-1.6zM359.0 87.5h1.6v1.6h-1.6zM359.2 90.2h1.6v1.6h-1.6zM359.4 88.6h1.6v1.6h-1.6zM359.6 91.8h1.6v1.6h-1.6zM359.8 83.8h1.6v1.6h-1.6zM360.1 65.8h1.6v1.6h-1.6zM360.3 71.3h1.6v1.6h-1.6zM360.5 87.3h1.6v1.6h-1.6zM360.7 90.2h1.6v1.6h-1.6zM360.9 64.2h1.6v1.6h-1.6zM361.2 70.0h1.6v1.6h-1.6zM361.4 89.0h1.6v1.6h-1.6zM361.6 91.6h1.6v1.6h-1.6zM361.8 68.9h1.6v1.6h-1.6zM362.0 73.8h1.6v1.6h-1.6zM362.3 89.5h1.6v1.6h-1.6zM362.5 88.5h1.6v1.6h-1.6zM362.7 89.4h1.6v1.6h-1.6zM362.9 86.8h1.6v1.6h-1.6zM363.1 89.5h1.6v1.6h-1.6zM363.4 89.1h1.6v1.6h-1.6zM363.6 90.4h1.6v1.6h-1.6zM363.8 90.1h1.6v1.6h-1.6zM364.0 92.0h1.6v1.6h-1.6zM364.2 87.4h1.6v1.6h-1.6zM364.5 91.7h1.6v1.6h-1.6zM364.7 90.7h1.6v1.6h-1.6zM364.9 87.9h1.6v1.6h-1.6zM365.1 87.8h1.6v1.6h-1.6zM365.3 89.8h1.6v1.6h-1.6zM365.6 94.0h1.6v1.6h-1.6zM365.8 87.8h1.6v1.6h-1.6zM366.0 88.2h1.6v1.6h-1.6zM366.2 92.5h1.6v1.6h-1.6zM366.4 86.9h1.6v1.6h-1.6zM366.7 90.7h1.6v1.6h-1.6zM366.9 91.8h1.6v1.6h-1.6zM367.1 75.6h1.6v1.6h-1.6zM367.3 79.2h1.6v1.6h-1.6zM367.5 88.4h1.6v1.6h-1.6zM367.8 93.0h1.6v1.6h-1.6zM368.0 84.3h1.6v1.6h-1.6zM368.2 90.5h1.6v1.6h-1.6zM368.4 92.9h1.6v1.6h-1.6zM368.6 87.4h1.6v1.6h-1.6zM368.9 89.9h1.6v1.6h-1.6zM369.1 88.1h1.6v1.6h-1.6zM369.3 89.9h1.6v1.6h-1.6zM369.5 89.1h1.6v1.6h-1.6zM369.8 88.4h1.6v1.6h-1.6zM370.0 90.9h1.6v1.6h-1.6zM370.2 87.3h1.6v1.6h-1.6zM370.4 90.2h1.6v1.6h-1.6zM370.6 91.3h1.6v1.6h-1.6zM370.9 88.9h1.6v1.6h-1.6zM371.1 87.9h1.6v1.6h-1.6zM371.3 89.7h1.6v1.6h-1.6zM371.5 91.3h1.6v1.6h-1.6zM371.7 87.5h1.6v1.6h-1.6zM372.0 93.6h1.6v1.6h-1.6zM372.2 91.7h1.6v1.6h-1.6zM372.4 89.0h1.6v1.6h-1.6zM372.6 92.6h1.6v1.6h-1.6zM372.8 89.1h1.6v1.6h-1.6zM373.1 89.3h1.6v1.6h-1.6zM373.3 86.9h1.6v1.6h-1.6zM373.5 91.5h1.6v1.6h-1.6zM373.7 90.8h1.6v1.6h-1.6zM373.9 88.3h1.6v1.6h-1.6zM374.2 95.5h1.6v1.6h-1.6zM374.4 81.3h1.6v1.6h-1.6zM374.6 91.0h1.6v1.6h-1.6zM374.8 91.1h1.6v1.6h-1.6zM375.0 87.0h1.6v1.6h-1.6zM375.3 89.3h1.6v1.6h-1.6zM375.5 93.8h1.6v1.6h-1.6zM375.7 87.6h1.6v1.6h-1.6zM375.9 87.1h1.6v1.6h-1.6zM376.1 90.4h1.6v1.6h-1.6zM376.4 90.0h1.6v1.6h-1.6zM376.6 88.0h1.6v1.6h-1.6zM376.8 91.6h1.6v1.6h-1.6zM377.0 88.2h1.6v1.6h-1.6zM377.2 88.8h1.6v1.6h-1.6zM377.5 91.0h1.6v1.6h-1.6zM377.7 92.9h1.6v1.6h-1.6zM377.9 89.9h1.6v1.6h-1.6zM378.1 91.6h1.6v1.6h-1.6zM378.3 86.8h1.6v1.6h-1.6zM378.6 89.0h1.6v1.6h-1.6zM378.8 87.4h1.6v1.6h-1.6zM379.0 89.0h1.6v1.6h-1.6zM379.2 88.7h1.6v1.6h-1.6zM379.5 91.4h1.6v1.6h-1.6zM379.7 87.7h1.6v1.6h-1.6zM379.9 84.8h1.6v1.6h-1.6zM380.1 90.2h1.6v1.6h-1.6zM380.3 90.9h1.6v1.6h-1.6zM380.6 89.8h1.6v1.6h-1.6zM380.8 90.6h1.6v1.6h-1.6zM381.0 91.2h1.6v1.6h-1.6zM381.2 89.1h1.6v1.6h-1.6zM381.4 90.2h1.6v1.6h-1.6zM381.7 85.8h1.6v1.6h-1.6zM381.9 89.5h1.6v1.6h-1.6zM382.1 88.6h1.6v1.6h-1.6zM382.3 87.0h1.6v1.6h-1.6zM382.5 90.2h1.6v1.6h-1.6zM382.8 85.8h1.6v1.6h-1.6zM383.0 91.1h1.6v1.6h-1.6zM383.2 91.6h1.6v1.6h-1.6zM383.4 90.4h1.6v1.6h-1.6zM383.6 89.8h1.6v1.6h-1.6zM383.9 93.1h1.6v1.6h-1.6zM384.1 89.6h1.6v1.6h-1.6zM384.3 93.8h1.6v1.6h-1.6zM384.5 86.0h1.6v1.6h-1.6zM384.7 89.8h1.6v1.6h-1.6zM385.0 91.2h1.6v1.6h-1.6zM385.2 91.9h1.6v1.6h-1.6zM385.4 90.5h1.6v1.6h-1.6zM385.6 90.1h1.6v1.6h-1.6zM385.8 92.2h1.6v1.6h-1.6zM386.1 91.9h1.6v1.6h-1.6zM386.3 90.1h1.6v1.6h-1.6zM386.5 90.9h1.6v1.6h-1.6zM386.7 87.2h1.6v1.6h-1.6zM386.9 86.7h1.6v1.6h-1.6zM387.2 89.6h1.6v1.6h-1.6zM387.4 88.4h1.6v1.6h-1.6zM387.6 93.0h1.6v1.6h-1.6zM387.8 88.0h1.6v1.6h-1.6zM388.0 89.7h1.6v1.6h-1.6zM388.3 88.4h1.6v1.6h-1.6zM388.5 85.6h1.6v1.6h-1.6zM388.7 95.5h1.6v1.6h-1.6zM388.9 89.0h1.6v1.6h-1.6zM389.2 92.5h1.6v1.6h-1.6zM389.4 88.2h1.6v1.6h-1.6zM389.6 93.0h1.6v1.6h-1.6zM389.8 91.0h1.6v1.6h-1.6zM390.0 89.2h1.6v1.6h-1.6zM390.3 88.1h1.6v1.6h-1.6zM390.5 89.5h1.6v1.6h-1.6zM390.7 91.7h1.6v1.6h-1.6zM390.9 91.1h1.6v1.6h-1.6zM391.1 87.5h1.6v1.6h-1.6zM391.4 89.8h1.6v1.6h-1.6zM391.6 94.0h1.6v1.6h-1.6zM391.8 87.6h1.6v1.6h-1.6zM392.0 88.7h1.6v1.6h-1.6zM392.2 87.5h1.6v1.6h-1.6zM392.5 90.6h1.6v1.6h-1.6zM392.7 87.7h1.6v1.6h-1.6zM392.9 92.5h1.6v1.6h-1.6zM393.1 88.3h1.6v1.6h-1.6zM393.3 91.0h1.6v1.6h-1.6zM393.6 88.1h1.6v1.6h-1.6zM393.8 87.2h1.6v1.6h-1.6zM394.0 91.7h1.6v1.6h-1.6zM394.2 90.0h1.6v1.6h-1.6zM394.4 89.7h1.6v1.6h-1.6zM394.7 86.8h1.6v1.6h-1.6zM394.9 88.0h1.6v1.6h-1.6zM395.1 93.0h1.6v1.6h-1.6zM395.3 88.7h1.6v1.6h-1.6zM395.5 88.0h1.6v1.6h-1.6zM395.8 84.4h1.6v1.6h-1.6zM396.0 94.2h1.6v1.6h-1.6zM396.2 91.2h1.6v1.6h-1.6zM396.4 86.5h1.6v1.6h-1.6zM396.6 93.3h1.6v1.6h-1.6zM396.9 93.0h1.6v1.6h-1.6zM397.1 88.6h1.6v1.6h-1.6zM397.3 87.3h1.6v1.6h-1.6zM397.5 91.6h1.6v1.6h-1.6zM397.7 88.5h1.6v1.6h-1.6zM398.0 89.6h1.6v1.6h-1.6zM398.2 86.0h1.6v1.6h-1.6zM398.4 89.9h1.6v1.6h-1.6zM398.6 87.4h1.6v1.6h-1.6zM398.9 92.2h1.6v1.6h-1.6zM399.1 90.4h1.6v1.6h-1.6zM399.3 90.2h1.6v1.6h-1.6zM399.5 87.0h1.6v1.6h-1.6zM399.7 88.5h1.6v1.6h-1.6zM400.0 91.9h1.6v1.6h-1.6zM400.2 88.2h1.6v1.6h-1.6zM400.4 88.0h1.6v1.6h-1.6zM400.6 90.3h1.6v1.6h-1.6zM400.8 90.6h1.6v1.6h-1.6zM401.1 90.5h1.6v1.6h-1.6zM401.3 94.3h1.6v1.6h-1.6zM401.5 89.5h1.6v1.6h-1.6zM401.7 89.4h1.6v1.6h-1.6zM401.9 92.2h1.6v1.6h-1.6zM402.2 88.1h1.6v1.6h-1.6zM402.4 93.5h1.6v1.6h-1.6zM402.6 91.4h1.6v1.6h-1.6zM402.8 91.3h1.6v1.6h-1.6zM403.0 85.0h1.6v1.6h-1.6zM403.3 94.1h1.6v1.6h-1.6zM403.5 88.6h1.6v1.6h-1.6zM403.7 87.7h1.6v1.6h-1.6zM403.9 89.1h1.6v1.6h-1.6zM404.1 87.0h1.6v1.6h-1.6zM404.4 92.6h1.6v1.6h-1.6zM404.6 95.9h1.6v1.6h-1.6zM404.8 88.1h1.6v1.6h-1.6zM405.0 93.1h1.6v1.6h-1.6zM405.2 90.9h1.6v1.6h-1.6zM405.5 93.1h1.6v1.6h-1.6zM405.7 87.4h1.6v1.6h-1.6zM405.9 87.9h1.6v1.6h-1.6zM406.1 92.0h1.6v1.6h-1.6zM406.3 87.8h1.6v1.6h-1.6zM406.6 89.8h1.6v1.6h-1.6zM406.8 90.5h1.6v1.6h-1.6zM407.0 90.0h1.6v1.6h-1.6zM407.2 90.7h1.6v1.6h-1.6zM407.4 88.6h1.6v1.6h-1.6zM407.7 89.4h1.6v1.6h-1.6zM407.9 91.0h1.6v1.6h-1.6zM408.1 87.6h1.6v1.6h-1.6zM408.3 91.7h1.6v1.6h-1.6zM408.6 89.4h1.6v1.6h-1.6zM408.8 89.1h1.6v1.6h-1.6zM409.0 86.4h1.6v1.6h-1.6zM409.2 91.5h1.6v1.6h-1.6zM409.4 85.7h1.6v1.6h-1.6zM409.7 89.7h1.6v1.6h-1.6zM409.9 90.7h1.6v1.6h-1.6zM410.1 91.9h1.6v1.6h-1.6zM410.3 88.7h1.6v1.6h-1.6zM410.5 90.1h1.6v1.6h-1.6zM410.8 93.0h1.6v1.6h-1.6zM411.0 93.1h1.6v1.6h-1.6zM411.2 91.6h1.6v1.6h-1.6zM411.4 92.0h1.6v1.6h-1.6zM411.6 87.4h1.6v1.6h-1.6zM411.9 86.7h1.6v1.6h-1.6zM412.1 88.0h1.6v1.6h-1.6zM412.3 89.3h1.6v1.6h-1.6zM412.5 91.3h1.6v1.6h-1.6zM412.7 90.1h1.6v1.6h-1.6zM413.0 88.0h1.6v1.6h-1.6zM413.2 84.8h1.6v1.6h-1.6zM413.4 87.9h1.6v1.6h-1.6zM413.6 91.0h1.6v1.6h-1.6zM413.8 90.2h1.6v1.6h-1.6zM414.1 91.5h1.6v1.6h-1.6zM414.3 92.3h1.6v1.6h-1.6zM414.5 90.8h1.6v1.6h-1.6zM414.7 89.8h1.6v1.6h-1.6zM414.9 85.6h1.6v1.6h-1.6zM415.2 90.2h1.6v1.6h-1.6zM415.4 86.8h1.6v1.6h-1.6zM415.6 85.8h1.6v1.6h-1.6zM415.8 90.1h1.6v1.6h-1.6zM416.0 86.2h1.6v1.6h-1.6zM416.3 88.5h1.6v1.6h-1.6zM416.5 91.4h1.6v1.6h-1.6zM416.7 89.7h1.6v1.6h-1.6zM416.9 90.3h1.6v1.6h-1.6zM417.1 90.9h1.6v1.6h-1.6zM417.4 90.9h1.6v1.6h-1.6zM417.6 90.0h1.6v1.6h-1.6zM417.8 89.3h1.6v1.6h-1.6zM418.0 92.6h1.6v1.6h-1.6zM418.2 90.4h1.6v1.6h-1.6zM418.5 94.3h1.6v1.6h-1.6zM418.7 89.7h1.6v1.6h-1.6zM418.9 88.8h1.6v1.6h-1.6zM419.1 90.0h1.6v1.6h-1.6zM419.4 89.7h1.6v1.6h-1.6zM419.6 88.9h1.6v1.6h-1.6zM419.8 92.1h1.6v1.6h-1.6zM420.0 91.0h1.6v1.6h-1.6zM420.2 89.1h1.6v1.6h-1.6zM420.5 87.9h1.6v1.6h-1.6zM420.7 89.4h1.6v1.6h-1.6zM420.9 83.9h1.6v1.6h-1.6zM421.1 90.7h1.6v1.6h-1.6zM421.3 87.9h1.6v1.6h-1.6zM421.6 87.2h1.6v1.6h-1.6zM421.8 90.8h1.6v1.6h-1.6zM422.0 92.5h1.6v1.6h-1.6zM422.2 93.5h1.6v1.6h-1.6zM422.4 90.0h1.6v1.6h-1.6zM422.7 87.6h1.6v1.6h-1.6zM422.9 89.8h1.6v1.6h-1.6zM423.1 90.0h1.6v1.6h-1.6zM423.3 91.4h1.6v1.6h-1.6zM423.5 89.0h1.6v1.6h-1.6zM423.8 95.9h1.6v1.6h-1.6zM424.0 89.9h1.6v1.6h-1.6zM424.2 90.4h1.6v1.6h-1.6zM424.4 94.0h1.6v1.6h-1.6zM424.6 84.9h1.6v1.6h-1.6zM424.9 94.0h1.6v1.6h-1.6zM425.1 93.3h1.6v1.6h-1.6zM425.3 93.6h1.6v1.6h-1.6zM425.5 87.7h1.6v1.6h-1.6zM425.7 92.8h1.6v1.6h-1.6zM426.0 88.8h1.6v1.6h-1.6zM426.2 89.0h1.6v1.6h-1.6zM426.4 89.9h1.6v1.6h-1.6zM426.6 93.9h1.6v1.6h-1.6zM426.8 92.1h1.6v1.6h-1.6zM427.1 86.3h1.6v1.6h-1.6zM427.3 93.8h1.6v1.6h-1.6zM427.5 92.7h1.6v1.6h-1.6zM427.7 91.0h1.6v1.6h-1.6zM427.9 88.5h1.6v1.6h-1.6zM428.2 89.9h1.6v1.6h-1.6zM428.4 88.7h1.6v1.6h-1.6zM428.6 93.3h1.6v1.6h-1.6zM428.8 88.2h1.6v1.6h-1.6zM429.1 89.1h1.6v1.6h-1.6zM429.3 94.6h1.6v1.6h-1.6zM429.5 86.6h1.6v1.6h-1.6zM429.7 84.7h1.6v1.6h-1.6zM429.9 92.6h1.6v1.6h-1.6zM430.2 90.4h1.6v1.6h-1.6zM430.4 87.0h1.6v1.6h-1.6zM430.6 94.4h1.6v1.6h-1.6zM430.8 95.7h1.6v1.6h-1.6zM431.0 93.9h1.6v1.6h-1.6zM431.3 92.1h1.6v1.6h-1.6zM431.5 92.1h1.6v1.6h-1.6zM431.7 89.1h1.6v1.6h-1.6zM431.9 89.9h1.6v1.6h-1.6zM432.1 93.8h1.6v1.6h-1.6zM432.4 89.2h1.6v1.6h-1.6zM432.6 85.8h1.6v1.6h-1.6zM432.8 87.6h1.6v1.6h-1.6zM433.0 88.1h1.6v1.6h-1.6zM433.2 90.6h1.6v1.6h-1.6zM433.5 88.1h1.6v1.6h-1.6zM433.7 93.1h1.6v1.6h-1.6zM433.9 88.7h1.6v1.6h-1.6zM434.1 90.9h1.6v1.6h-1.6zM434.3 87.8h1.6v1.6h-1.6zM434.6 89.5h1.6v1.6h-1.6zM434.8 93.5h1.6v1.6h-1.6zM435.0 90.3h1.6v1.6h-1.6zM435.2 87.6h1.6v1.6h-1.6zM435.4 93.6h1.6v1.6h-1.6zM435.7 92.1h1.6v1.6h-1.6zM435.9 92.7h1.6v1.6h-1.6zM436.1 94.5h1.6v1.6h-1.6zM436.3 88.2h1.6v1.6h-1.6zM436.5 87.4h1.6v1.6h-1.6zM436.8 88.7h1.6v1.6h-1.6zM437.0 90.1h1.6v1.6h-1.6zM437.2 90.8h1.6v1.6h-1.6zM437.4 90.1h1.6v1.6h-1.6zM437.6 92.6h1.6v1.6h-1.6zM437.9 88.4h1.6v1.6h-1.6zM438.1 88.1h1.6v1.6h-1.6zM438.3 88.3h1.6v1.6h-1.6zM438.5 92.1h1.6v1.6h-1.6zM438.8 90.5h1.6v1.6h-1.6zM439.0 91.2h1.6v1.6h-1.6zM439.2 86.2h1.6v1.6h-1.6zM439.4 90.3h1.6v1.6h-1.6zM439.6 95.6h1.6v1.6h-1.6zM439.9 89.7h1.6v1.6h-1.6zM440.1 85.9h1.6v1.6h-1.6zM440.3 89.0h1.6v1.6h-1.6zM440.5 88.5h1.6v1.6h-1.6zM440.7 90.7h1.6v1.6h-1.6zM441.0 95.8h1.6v1.6h-1.6zM441.2 95.4h1.6v1.6h-1.6zM441.4 94.0h1.6v1.6h-1.6zM441.6 91.1h1.6v1.6h-1.6zM441.8 90.0h1.6v1.6h-1.6zM442.1 89.0h1.6v1.6h-1.6zM442.3 91.7h1.6v1.6h-1.6zM442.5 88.4h1.6v1.6h-1.6zM442.7 91.5h1.6v1.6h-1.6zM442.9 92.6h1.6v1.6h-1.6zM443.2 88.6h1.6v1.6h-1.6zM443.4 93.1h1.6v1.6h-1.6zM443.6 97.8h1.6v1.6h-1.6zM443.8 93.5h1.6v1.6h-1.6zM444.0 90.6h1.6v1.6h-1.6zM444.3 98.7h1.6v1.6h-1.6zM444.5 91.7h1.6v1.6h-1.6zM444.7 91.7h1.6v1.6h-1.6zM444.9 94.5h1.6v1.6h-1.6zM445.1 94.6h1.6v1.6h-1.6zM445.4 92.0h1.6v1.6h-1.6zM445.6 92.2h1.6v1.6h-1.6zM445.8 87.6h1.6v1.6h-1.6zM446.0 89.9h1.6v1.6h-1.6zM446.2 94.9h1.6v1.6h-1.6zM446.5 93.0h1.6v1.6h-1.6zM446.7 89.1h1.6v1.6h-1.6zM446.9 86.0h1.6v1.6h-1.6zM447.1 89.9h1.6v1.6h-1.6zM447.3 90.1h1.6v1.6h-1.6zM447.6 86.1h1.6v1.6h-1.6zM447.8 90.9h1.6v1.6h-1.6zM448.0 91.7h1.6v1.6h-1.6zM448.2 94.5h1.6v1.6h-1.6zM448.5 92.2h1.6v1.6h-1.6zM448.7 85.3h1.6v1.6h-1.6zM448.9 94.5h1.6v1.6h-1.6zM449.1 90.9h1.6v1.6h-1.6zM449.3 94.5h1.6v1.6h-1.6zM449.6 90.6h1.6v1.6h-1.6zM449.8 88.6h1.6v1.6h-1.6zM450.0 91.5h1.6v1.6h-1.6zM450.2 89.0h1.6v1.6h-1.6zM450.4 89.1h1.6v1.6h-1.6zM450.7 89.8h1.6v1.6h-1.6zM450.9 86.5h1.6v1.6h-1.6zM451.1 88.9h1.6v1.6h-1.6zM451.3 91.7h1.6v1.6h-1.6zM451.5 92.7h1.6v1.6h-1.6zM451.8 93.1h1.6v1.6h-1.6zM452.0 89.7h1.6v1.6h-1.6zM452.2 91.8h1.6v1.6h-1.6zM452.4 84.0h1.6v1.6h-1.6zM452.6 86.2h1.6v1.6h-1.6zM452.9 91.5h1.6v1.6h-1.6zM453.1 91.8h1.6v1.6h-1.6zM453.3 86.6h1.6v1.6h-1.6zM453.5 95.8h1.6v1.6h-1.6zM453.7 92.1h1.6v1.6h-1.6zM454.0 88.5h1.6v1.6h-1.6zM454.2 93.3h1.6v1.6h-1.6zM454.4 92.2h1.6v1.6h-1.6zM454.6 91.9h1.6v1.6h-1.6zM454.8 89.3h1.6v1.6h-1.6zM455.1 90.6h1.6v1.6h-1.6zM455.3 90.0h1.6v1.6h-1.6zM455.5 89.5h1.6v1.6h-1.6zM455.7 90.9h1.6v1.6h-1.6zM455.9 88.2h1.6v1.6h-1.6zM456.2 92.9h1.6v1.6h-1.6zM456.4 94.7h1.6v1.6h-1.6zM456.6 95.5h1.6v1.6h-1.6zM456.8 95.1h1.6v1.6h-1.6zM457.0 92.4h1.6v1.6h-1.6zM457.3 88.4h1.6v1.6h-1.6zM457.5 90.6h1.6v1.6h-1.6zM457.7 92.5h1.6v1.6h-1.6zM457.9 93.8h1.6v1.6h-1.6zM458.2 92.4h1.6v1.6h-1.6zM458.4 92.1h1.6v1.6h-1.6zM458.6 92.5h1.6v1.6h-1.6zM458.8 94.7h1.6v1.6h-1.6zM459.0 92.3h1.6v1.6h-1.6zM459.3 88.4h1.6v1.6h-1.6zM459.5 96.6h1.6v1.6h-1.6zM459.7 91.7h1.6v1.6h-1.6zM459.9 96.5h1.6v1.6h-1.6zM460.1 90.6h1.6v1.6h-1.6zM460.4 93.0h1.6v1.6h-1.6zM460.6 96.4h1.6v1.6h-1.6zM460.8 90.8h1.6v1.6h-1.6zM461.0 86.4h1.6v1.6h-1.6zM461.2 90.8h1.6v1.6h-1.6zM461.5 88.1h1.6v1.6h-1.6zM461.7 91.3h1.6v1.6h-1.6zM461.9 96.6h1.6v1.6h-1.6zM462.1 89.8h1.6v1.6h-1.6zM462.3 92.2h1.6v1.6h-1.6zM462.6 94.8h1.6v1.6h-1.6zM462.8 89.1h1.6v1.6h-1.6zM463.0 90.4h1.6v1.6h-1.6zM463.2 92.4h1.6v1.6h-1.6zM463.4 88.9h1.6v1.6h-1.6zM463.7 93.3h1.6v1.6h-1.6zM463.9 89.5h1.6v1.6h-1.6zM464.1 93.5h1.6v1.6h-1.6zM464.3 89.7h1.6v1.6h-1.6zM464.5 93.9h1.6v1.6h-1.6zM464.8 87.3h1.6v1.6h-1.6zM465.0 90.5h1.6v1.6h-1.6zM465.2 87.5h1.6v1.6h-1.6zM465.4 93.2h1.6v1.6h-1.6zM465.6 92.3h1.6v1.6h-1.6zM465.9 89.0h1.6v1.6h-1.6zM466.1 98.1h1.6v1.6h-1.6zM466.3 93.9h1.6v1.6h-1.6zM466.5 88.5h1.6v1.6h-1.6zM466.7 90.0h1.6v1.6h-1.6zM467.0 88.6h1.6v1.6h-1.6zM467.2 91.9h1.6v1.6h-1.6zM467.4 89.7h1.6v1.6h-1.6zM467.6 93.0h1.6v1.6h-1.6zM467.8 94.7h1.6v1.6h-1.6zM468.1 95.5h1.6v1.6h-1.6zM468.3 92.6h1.6v1.6h-1.6zM468.5 92.6h1.6v1.6h-1.6zM468.7 92.8h1.6v1.6h-1.6zM469.0 100.2h1.6v1.6h-1.6zM469.2 96.3h1.6v1.6h-1.6zM469.4 92.5h1.6v1.6h-1.6zM469.6 90.4h1.6v1.6h-1.6zM469.8 92.7h1.6v1.6h-1.6zM470.1 93.4h1.6v1.6h-1.6zM470.3 97.1h1.6v1.6h-1.6zM470.5 86.0h1.6v1.6h-1.6zM470.7 94.0h1.6v1.6h-1.6zM470.9 86.9h1.6v1.6h-1.6zM471.2 87.2h1.6v1.6h-1.6zM471.4 90.5h1.6v1.6h-1.6zM471.6 92.7h1.6v1.6h-1.6zM471.8 90.9h1.6v1.6h-1.6zM472.0 94.2h1.6v1.6h-1.6zM472.3 90.5h1.6v1.6h-1.6zM472.5 91.2h1.6v1.6h-1.6zM472.7 89.9h1.6v1.6h-1.6zM472.9 88.8h1.6v1.6h-1.6zM473.1 86.8h1.6v1.6h-1.6zM473.4 92.2h1.6v1.6h-1.6zM473.6 88.6h1.6v1.6h-1.6zM473.8 93.3h1.6v1.6h-1.6zM474.0 93.5h1.6v1.6h-1.6zM474.2 92.8h1.6v1.6h-1.6zM474.5 93.8h1.6v1.6h-1.6zM474.7 88.7h1.6v1.6h-1.6zM474.9 88.9h1.6v1.6h-1.6zM475.1 88.0h1.6v1.6h-1.6zM475.3 91.3h1.6v1.6h-1.6zM475.6 90.6h1.6v1.6h-1.6zM475.8 92.7h1.6v1.6h-1.6zM476.0 94.2h1.6v1.6h-1.6zM476.2 90.1h1.6v1.6h-1.6zM476.4 90.6h1.6v1.6h-1.6zM476.7 94.1h1.6v1.6h-1.6zM476.9 89.8h1.6v1.6h-1.6zM477.1 95.7h1.6v1.6h-1.6zM477.3 91.7h1.6v1.6h-1.6zM477.5 92.9h1.6v1.6h-1.6zM477.8 92.6h1.6v1.6h-1.6zM478.0 94.1h1.6v1.6h-1.6zM478.2 88.9h1.6v1.6h-1.6zM478.4 89.8h1.6v1.6h-1.6zM478.7 88.3h1.6v1.6h-1.6zM478.9 91.0h1.6v1.6h-1.6zM479.1 94.6h1.6v1.6h-1.6zM479.3 92.3h1.6v1.6h-1.6zM479.5 94.3h1.6v1.6h-1.6zM479.8 90.2h1.6v1.6h-1.6zM480.0 88.2h1.6v1.6h-1.6zM480.2 90.5h1.6v1.6h-1.6zM480.4 92.9h1.6v1.6h-1.6zM480.6 92.3h1.6v1.6h-1.6zM480.9 90.8h1.6v1.6h-1.6zM481.1 95.1h1.6v1.6h-1.6zM481.3 91.0h1.6v1.6h-1.6zM481.5 90.9h1.6v1.6h-1.6zM481.7 92.8h1.6v1.6h-1.6zM482.0 92.4h1.6v1.6h-1.6zM482.2 90.9h1.6v1.6h-1.6zM482.4 93.5h1.6v1.6h-1.6zM482.6 93.5h1.6v1.6h-1.6zM482.8 89.4h1.6v1.6h-1.6zM483.1 90.8h1.6v1.6h-1.6zM483.3 87.1h1.6v1.6h-1.6zM483.5 93.9h1.6v1.6h-1.6zM483.7 96.0h1.6v1.6h-1.6zM483.9 89.0h1.6v1.6h-1.6zM484.2 89.0h1.6v1.6h-1.6zM484.4 93.3h1.6v1.6h-1.6zM484.6 95.2h1.6v1.6h-1.6zM484.8 91.6h1.6v1.6h-1.6zM485.0 95.9h1.6v1.6h-1.6zM485.3 92.3h1.6v1.6h-1.6zM485.5 97.0h1.6v1.6h-1.6zM485.7 92.1h1.6v1.6h-1.6zM485.9 96.9h1.6v1.6h-1.6zM486.1 92.1h1.6v1.6h-1.6zM486.4 87.6h1.6v1.6h-1.6zM486.6 92.2h1.6v1.6h-1.6zM486.8 89.5h1.6v1.6h-1.6zM487.0 93.1h1.6v1.6h-1.6zM487.2 93.8h1.6v1.6h-1.6zM487.5 95.3h1.6v1.6h-1.6zM487.7 88.8h1.6v1.6h-1.6zM487.9 91.7h1.6v1.6h-1.6zM488.1 87.4h1.6v1.6h-1.6zM488.4 94.5h1.6v1.6h-1.6zM488.6 92.1h1.6v1.6h-1.6zM488.8 91.3h1.6v1.6h-1.6zM489.0 87.9h1.6v1.6h-1.6zM489.2 86.9h1.6v1.6h-1.6zM489.5 93.2h1.6v1.6h-1.6zM489.7 94.4h1.6v1.6h-1.6zM489.9 96.0h1.6v1.6h-1.6zM490.1 88.1h1.6v1.6h-1.6zM490.3 91.8h1.6v1.6h-1.6zM490.6 93.2h1.6v1.6h-1.6zM490.8 91.7h1.6v1.6h-1.6zM491.0 98.1h1.6v1.6h-1.6zM491.2 96.0h1.6v1.6h-1.6zM491.4 89.2h1.6v1.6h-1.6zM491.7 90.6h1.6v1.6h-1.6zM491.9 91.2h1.6v1.6h-1.6zM492.1 94.1h1.6v1.6h-1.6zM492.3 90.1h1.6v1.6h-1.6zM492.5 87.0h1.6v1.6h-1.6zM492.8 94.7h1.6v1.6h-1.6zM493.0 91.6h1.6v1.6h-1.6zM493.2 92.7h1.6v1.6h-1.6zM493.4 90.7h1.6v1.6h-1.6zM493.6 91.6h1.6v1.6h-1.6zM493.9 92.0h1.6v1.6h-1.6zM494.1 93.9h1.6v1.6h-1.6zM494.3 91.7h1.6v1.6h-1.6zM494.5 93.2h1.6v1.6h-1.6zM494.7 92.0h1.6v1.6h-1.6zM495.0 91.8h1.6v1.6h-1.6zM495.2 90.0h1.6v1.6h-1.6zM495.4 93.1h1.6v1.6h-1.6zM495.6 92.5h1.6v1.6h-1.6zM495.8 88.9h1.6v1.6h-1.6zM496.1 92.2h1.6v1.6h-1.6zM496.3 92.3h1.6v1.6h-1.6zM496.5 89.4h1.6v1.6h-1.6zM496.7 90.9h1.6v1.6h-1.6zM496.9 91.4h1.6v1.6h-1.6zM497.2 91.1h1.6v1.6h-1.6zM497.4 94.8h1.6v1.6h-1.6zM497.6 90.5h1.6v1.6h-1.6zM497.8 88.3h1.6v1.6h-1.6zM498.1 90.2h1.6v1.6h-1.6zM498.3 95.6h1.6v1.6h-1.6zM498.5 90.9h1.6v1.6h-1.6zM498.7 94.0h1.6v1.6h-1.6zM498.9 92.2h1.6v1.6h-1.6zM499.2 91.3h1.6v1.6h-1.6zM499.4 94.7h1.6v1.6h-1.6zM499.6 88.2h1.6v1.6h-1.6zM499.8 91.8h1.6v1.6h-1.6zM500.0 89.6h1.6v1.6h-1.6zM500.3 90.0h1.6v1.6h-1.6zM500.5 88.2h1.6v1.6h-1.6zM500.7 88.6h1.6v1.6h-1.6zM500.9 95.4h1.6v1.6h-1.6zM501.1 91.5h1.6v1.6h-1.6zM501.4 97.1h1.6v1.6h-1.6zM501.6 92.8h1.6v1.6h-1.6zM501.8 89.8h1.6v1.6h-1.6zM502.0 89.3h1.6v1.6h-1.6zM502.2 88.4h1.6v1.6h-1.6zM502.5 92.6h1.6v1.6h-1.6zM502.7 90.8h1.6v1.6h-1.6zM502.9 91.4h1.6v1.6h-1.6zM503.1 88.4h1.6v1.6h-1.6zM503.3 87.6h1.6v1.6h-1.6zM503.6 92.6h1.6v1.6h-1.6zM503.8 82.0h1.6v1.6h-1.6zM504.0 91.7h1.6v1.6h-1.6zM504.2 92.6h1.6v1.6h-1.6zM504.4 90.1h1.6v1.6h-1.6zM504.7 89.7h1.6v1.6h-1.6zM504.9 90.3h1.6v1.6h-1.6zM505.1 93.3h1.6v1.6h-1.6zM505.3 87.9h1.6v1.6h-1.6zM505.5 91.5h1.6v1.6h-1.6zM505.8 87.7h1.6v1.6h-1.6zM506.0 88.1h1.6v1.6h-1.6zM506.2 94.9h1.6v1.6h-1.6zM506.4 94.2h1.6v1.6h-1.6zM506.6 94.2h1.6v1.6h-1.6zM506.9 91.0h1.6v1.6h-1.6zM507.1 91.5h1.6v1.6h-1.6zM507.3 91.0h1.6v1.6h-1.6zM507.5 93.7h1.6v1.6h-1.6zM507.8 90.6h1.6v1.6h-1.6zM508.0 88.1h1.6v1.6h-1.6zM508.2 95.1h1.6v1.6h-1.6zM508.4 92.2h1.6v1.6h-1.6zM508.6 91.0h1.6v1.6h-1.6zM508.9 92.0h1.6v1.6h-1.6zM509.1 92.2h1.6v1.6h-1.6zM509.3 87.2h1.6v1.6h-1.6zM509.5 88.4h1.6v1.6h-1.6zM509.7 89.5h1.6v1.6h-1.6zM510.0 93.6h1.6v1.6h-1.6zM510.2 86.0h1.6v1.6h-1.6zM510.4 90.8h1.6v1.6h-1.6zM510.6 93.2h1.6v1.6h-1.6zM510.8 92.6h1.6v1.6h-1.6zM511.1 92.9h1.6v1.6h-1.6zM511.3 86.3h1.6v1.6h-1.6zM511.5 91.2h1.6v1.6h-1.6zM511.7 91.5h1.6v1.6h-1.6zM511.9 97.2h1.6v1.6h-1.6zM512.2 89.8h1.6v1.6h-1.6zM512.4 94.4h1.6v1.6h-1.6z" fill="#1a6ec0"/>
<line x1="303.70" y1="15.50" x2="303.70" y2="114.25" stroke="#444" stroke-width="1" />
<line x1="303.20" y1="113.75" x2="524.70" y2="113.75" stroke="#444" stroke-width="1" />
<line x1="303.70" y1="94.10" x2="306.00" y2="94.10" stroke="#444" stroke-width="1" />
<text x="299.00" y="97.10" font-size="8.5" text-anchor="end" font-weight="normal" font-style="normal" fill="#222" >0</text>
<line x1="303.70" y1="54.80" x2="306.00" y2="54.80" stroke="#444" stroke-width="1" />
<text x="299.00" y="57.80" font-size="8.5" text-anchor="end" font-weight="normal" font-style="normal" fill="#222" >1</text>
<line x1="303.70" y1="15.50" x2="306.00" y2="15.50" stroke="#444" stroke-width="1" />
<text x="299.00" y="18.50" font-size="8.5" text-anchor="end" font-weight="normal" font-style="normal" fill="#222" >2</text>
<line x1="315.00" y1="113.75" x2="315.00" y2="111.35" stroke="#444" stroke-width="1" />
<text x="315.00" y="124.35" font-size="8.5" text-anchor="middle" font-weight="normal" font-style="normal" fill="#222" >0</text>
<line x1="381.13" y1="113.75" x2="381.13" y2="111.35" stroke="#444" stroke-width="1" />
<text x="381.13" y="124.35" font-size="8.5" text-anchor="middle" font-weight="normal" font-style="normal" fill="#222" >300</text>
<line x1="447.27" y1="113.75" x2="447.27" y2="111.35" stroke="#444" stroke-width="1" />
<text x="447.27" y="124.35" font-size="8.5" text-anchor="middle" font-weight="normal" font-style="normal" fill="#222" >600</text>
<line x1="513.40" y1="113.75" x2="513.40" y2="111.35" stroke="#444" stroke-width="1" />
<text x="513.40" y="124.35" font-size="8.5" text-anchor="middle" font-weight="normal" font-style="normal" fill="#222" >900</text>
<text x="414.00" y="138.15" font-size="9" text-anchor="middle" font-weight="normal" font-style="normal" fill="#222" >Stimulus rank</text>
<text transform="translate(286.5,64.4) rotate(-90)" font-size="8.2" font-style="italic" text-anchor="middle" fill="#222">ΔF/F</text>
<text x="337.60" y="21.30" font-size="9" text-anchor="start" font-weight="normal" font-style="normal" fill="#222" >ROI 123</text>
<text x="510.80" y="37.60" font-size="8.2" text-anchor="end" font-weight="normal" font-style="normal" fill="#222" >Correlation = 0.65</text>
<path d="M315.0 218.5V203.8M315.2 221.3V206.7M315.4 217.9V210.1M315.7 182.0V168.0M315.9 212.4V201.2M316.1 183.1V173.5M316.3 219.4V210.3M316.5 216.1V206.4M316.8 218.1V208.3M317.0 223.6V209.2M317.2 217.6V204.9M317.4 200.6V193.5M317.6 199.6V186.7M317.9 223.7V212.5M318.1 210.0V195.1M318.3 220.1V211.9M318.5 181.2V168.7M318.7 204.4V194.0M319.0 184.1V176.5M319.2 186.7V180.1M319.4 216.2V202.2M319.6 211.3V205.7M319.8 198.2V190.3M320.1 213.7V203.7M320.3 181.5V173.2M320.5 180.9V170.1M320.7 191.7V184.6M321.0 229.5V216.6M321.2 204.5V193.5M321.4 228.6V217.0M321.6 222.0V207.3M321.8 205.8V198.7M322.1 210.0V200.1M322.3 218.8V211.8M322.5 221.4V213.1M322.7 194.9V184.6M322.9 225.1V212.4M323.2 207.9V200.6M323.4 208.6V195.5M323.6 226.1V213.7M323.8 189.4V179.4M324.0 185.9V172.2M324.3 192.2V182.7M324.5 183.4V168.6M324.7 228.0V213.4M324.9 220.1V210.7M325.1 227.0V212.5M325.4 187.3V174.5M325.6 230.9V220.4M325.8 220.7V209.4M326.0 188.8V175.7M326.2 231.5V216.9M326.5 225.7V211.7M326.7 204.4V189.9M326.9 207.5V198.2M327.1 184.2V178.7M327.3 195.3V188.5M327.6 223.1V214.0M327.8 182.0V175.6M328.0 197.7V187.0M328.2 220.7V214.1M328.4 224.6V216.3M328.7 224.6V216.2M328.9 227.3V213.2M329.1 222.5V212.6M329.3 227.0V220.4M329.5 231.7V219.1M329.8 235.8V221.5M330.0 221.9V209.7M330.2 222.6V217.1M330.4 221.5V208.1M330.7 224.0V216.5M330.9 229.5V216.2M331.1 225.2V212.0M331.3 226.6V214.6M331.5 210.2V203.9M331.8 228.0V219.0M332.0 217.5V210.8M332.2 205.1V192.2M332.4 222.1V216.0M332.6 226.4V216.7M332.9 229.3V216.8M333.1 224.1V210.8M333.3 225.8V216.3M333.5 226.5V220.2M333.7 228.1V214.3M334.0 228.1V219.8M334.2 225.2V215.0M334.4 219.6V214.1M334.6 228.0V219.6M334.8 223.0V208.6M335.1 229.5V217.1M335.3 226.5V214.3M335.5 229.3V218.5M335.7 225.2V218.4M335.9 199.9V192.3M336.2 229.8V215.4M336.4 226.8V220.3M336.6 229.4V217.6M336.8 228.6V219.5M337.0 232.9V220.5M337.3 225.6V218.7M337.5 223.1V216.6M337.7 223.4V212.7M337.9 223.0V215.0M338.1 219.1V206.1M338.4 227.7V212.7M338.6 226.4V219.6M338.8 218.7V210.8M339.0 228.7V221.5M339.2 222.6V213.4M339.5 228.7V221.0M339.7 225.9V214.6M339.9 233.0V223.9M340.1 223.6V213.1M340.4 228.9V215.3M340.6 231.8V218.2M340.8 219.2V212.1M341.0 222.9V214.9M341.2 226.9V216.0M341.5 229.3V219.3M341.7 224.7V218.9M341.9 228.5V216.1M342.1 225.6V212.7M342.3 223.7V214.1M342.6 227.5V220.8M342.8 229.8V217.7M343.0 226.8V220.6M343.2 229.7V223.6M343.4 209.8V198.9M343.7 204.0V194.4M343.9 226.9V212.0M344.1 221.2V213.3M344.3 228.4V221.2M344.5 224.3V215.7M344.8 230.4V216.7M345.0 220.7V208.6M345.2 225.0V219.4M345.4 223.6V216.9M345.6 232.6V218.1M345.9 230.4V219.5M346.1 226.1V216.7M346.3 226.6V220.3M346.5 224.7V217.1M346.7 230.5V224.8M347.0 226.6V213.1M347.2 232.5V218.2M347.4 221.4V210.8M347.6 229.7V216.7M347.8 221.7V214.9M348.1 231.2V223.1M348.3 226.4V215.1M348.5 231.4V219.4M348.7 229.6V218.4M348.9 225.4V219.0M349.2 230.6V216.3M349.4 225.3V217.5M349.6 225.7V213.7M349.8 226.9V213.2M350.1 212.1V205.4M350.3 202.9V193.1M350.5 224.1V212.8M350.7 218.0V203.2M350.9 236.0V223.9M351.2 224.6V215.0M351.4 229.4V217.3M351.6 228.6V218.2M351.8 222.4V215.9M352.0 223.9V216.4M352.3 227.5V216.1M352.5 232.0V220.2M352.7 226.3V216.6M352.9 225.3V217.4M353.1 228.7V222.7M353.4 225.2V212.6M353.6 224.5V217.1M353.8 235.7V223.5M354.0 229.4V215.0M354.2 233.8V220.5M354.5 224.2V213.1M354.7 222.8V216.8M354.9 232.7V220.5M355.1 233.2V218.5M355.3 217.0V208.6M355.6 230.3V216.9M355.8 222.6V212.1M356.0 226.6V213.7M356.2 230.0V217.6M356.4 224.9V216.6M356.7 220.9V210.8M356.9 224.9V218.5M357.1 223.1V216.4M357.3 227.6V219.4M357.5 222.8V210.5M357.8 225.5V216.3M358.0 222.8V209.1M358.2 228.0V216.3M358.4 233.9V219.8M358.6 224.3V211.3M358.9 234.4V224.7M359.1 224.4V217.9M359.3 230.1V219.9M359.5 224.8V214.5M359.8 229.2V222.7M360.0 221.8V214.8M360.2 229.3V214.5M360.4 235.8V222.5M360.6 234.4V225.5M360.9 227.0V221.3M361.1 222.5V214.4M361.3 227.9V217.2M361.5 230.1V215.5M361.7 187.5V181.8M362.0 226.6V214.3M362.2 229.0V214.5M362.4 229.4V214.8M362.6 232.2V221.0M362.8 225.4V212.5M363.1 224.3V212.3M363.3 230.6V224.9M363.5 219.1V211.0M363.7 221.3V206.9M363.9 228.1V221.7M364.2 233.4V226.4M364.4 226.5V215.2M364.6 228.2V214.3M364.8 229.8V220.8M365.0 235.1V224.0M365.3 226.6V211.9M365.5 232.0V218.6M365.7 227.7V222.1M365.9 219.1V207.3M366.1 219.0V212.5M366.4 227.2V212.7M366.6 231.0V218.8M366.8 228.0V214.0M367.0 236.5V226.3M367.2 226.0V219.9M367.5 229.8V222.3M367.7 231.0V224.7M367.9 235.3V222.6M368.1 228.4V214.6M368.3 227.9V218.2M368.6 229.5V216.1M368.8 224.2V216.6M369.0 231.2V221.6M369.2 232.5V223.0M369.4 234.8V224.6M369.7 227.5V221.7M369.9 224.3V217.2M370.1 227.2V220.7M370.3 227.0V215.4M370.6 232.6V222.6M370.8 232.6V217.7M371.0 231.9V220.4M371.2 231.6V224.2M371.4 220.2V213.7M371.7 226.5V214.5M371.9 232.8V219.6M372.1 229.6V222.8M372.3 228.9V218.5M372.5 235.9V221.4M372.8 229.0V215.0M373.0 231.4V224.8M373.2 229.9V219.8M373.4 234.1V220.3M373.6 230.9V219.7M373.9 231.1V225.4M374.1 233.6V224.8M374.3 231.1V222.9M374.5 230.4V221.7M374.7 232.0V217.3M375.0 230.0V216.8M375.2 225.7V210.8M375.4 227.3V214.3M375.6 231.9V217.2M375.8 211.1V201.7M376.1 233.3V218.9M376.3 199.4V188.8M376.5 228.3V215.2M376.7 223.3V215.9M376.9 227.9V214.1M377.2 225.4V216.2M377.4 240.4V226.0M377.6 230.6V222.2M377.8 230.0V220.8M378.0 235.7V225.4M378.3 234.4V220.6M378.5 233.3V220.9M378.7 225.9V218.0M378.9 210.2V200.0M379.1 221.2V207.7M379.4 232.1V218.2M379.6 226.0V213.4M379.8 227.8V219.2M380.0 229.9V215.7M380.3 232.5V223.3M380.5 236.8V224.4M380.7 233.1V220.0M380.9 227.1V215.1M381.1 207.7V201.7M381.4 225.5V217.9M381.6 228.5V215.6M381.8 232.6V221.0M382.0 225.2V211.7M382.2 225.2V213.0M382.5 231.7V219.8M382.7 230.9V217.1M382.9 234.5V220.3M383.1 222.8V214.6M383.3 229.1V215.8M383.6 231.5V216.9M383.8 225.8V219.2M384.0 227.2V217.5M384.2 230.7V220.1M384.4 233.7V222.9M384.7 235.3V221.6M384.9 232.9V227.3M385.1 225.4V219.3M385.3 222.6V209.7M385.5 234.0V225.9M385.8 228.4V218.6M386.0 226.0V219.1M386.2 234.7V220.2M386.4 228.3V218.2M386.6 215.4V209.2M386.9 226.8V212.7M387.1 218.9V207.8M387.3 227.6V219.7M387.5 224.8V218.4M387.7 228.4V222.7M388.0 237.2V223.5M388.2 218.2V211.5M388.4 225.1V217.6M388.6 229.7V219.0M388.8 226.3V220.2M389.1 234.0V221.7M389.3 229.4V217.8M389.5 227.3V215.7M389.7 228.4V219.5M390.0 221.4V213.3M390.2 231.2V218.4M390.4 235.2V220.4M390.6 235.4V224.3M390.8 227.1V213.0M391.1 227.8V220.8M391.3 226.9V214.2M391.5 226.4V218.7M391.7 222.5V214.3M391.9 222.6V216.8M392.2 232.7V218.3M392.4 226.7V219.7M392.6 224.2V216.5M392.8 232.9V224.2M393.0 189.4V179.9M393.3 226.5V213.3M393.5 223.8V217.6M393.7 228.0V221.8M393.9 226.9V219.3M394.1 235.1V221.3M394.4 230.7V217.4M394.6 233.3V219.3M394.8 229.1V218.8M395.0 228.8V223.2M395.2 228.8V217.6M395.5 224.1V216.0M395.7 232.2V225.5M395.9 225.1V216.8M396.1 237.5V225.1M396.3 237.4V226.4M396.6 230.9V218.5M396.8 229.9V218.6M397.0 228.2V217.2M397.2 235.5V224.8M397.4 230.9V218.1M397.7 214.9V203.0M397.9 225.8V214.0M398.1 229.0V220.3M398.3 226.2V218.7M398.5 234.2V221.4M398.8 230.7V219.2M399.0 232.2V219.6M399.2 226.1V217.6M399.4 230.7V225.0M399.7 233.7V220.9M399.9 225.9V218.8M400.1 214.8V202.2M400.3 226.0V220.0M400.5 226.5V220.1M400.8 228.9V222.3M401.0 223.9V217.1M401.2 229.0V215.9M401.4 221.1V215.4M401.6 227.4V219.0M401.9 233.1V222.4M402.1 231.7V221.1M402.3 233.8V221.9M402.5 234.1V223.5M402.7 223.3V216.5M403.0 224.7V218.4M403.2 235.2V222.4M403.4 222.2V214.0M403.6 227.0V220.1M403.8 231.9V223.7M404.1 226.4V219.7M404.3 231.0V218.3M404.5 230.9V223.4M404.7 236.8V225.8M404.9 229.0V219.6M405.2 228.9V218.0M405.4 240.7V226.5M405.6 227.6V217.5M405.8 225.7V218.9M406.0 232.1V220.1M406.3 214.2V205.8M406.5 229.5V221.5M406.7 234.1V220.8M406.9 229.6V221.9M407.1 223.9V215.6M407.4 234.4V224.8M407.6 230.1V217.3M407.8 230.3V217.5M408.0 231.6V222.4M408.2 228.9V223.3M408.5 232.3V226.7M408.7 230.8V224.3M408.9 231.9V217.0M409.1 228.2V218.6M409.4 222.4V212.2M409.6 219.8V207.7M409.8 231.6V221.5M410.0 227.6V220.6M410.2 231.5V219.3M410.5 229.6V222.4M410.7 224.3V215.6M410.9 229.1V223.4M411.1 225.6V214.1M411.3 227.1V214.0M411.6 232.6V224.0M411.8 223.9V217.9M412.0 231.3V222.5M412.2 211.9V204.8M412.4 221.9V214.4M412.7 233.8V222.1M412.9 237.1V225.7M413.1 199.7V188.5M413.3 209.8V200.4M413.5 233.7V222.6M413.8 233.9V224.1M414.0 231.7V222.6M414.2 228.5V222.2M414.4 226.4V212.7M414.6 235.2V226.2M414.9 233.3V219.9M415.1 235.0V221.1M415.3 234.7V225.4M415.5 235.0V223.3M415.7 233.1V222.7M416.0 228.7V215.6M416.2 232.8V218.0M416.4 229.4V223.8M416.6 229.4V215.7M416.8 227.6V219.9M417.1 229.2V221.8M417.3 223.7V211.5M417.5 231.5V223.8M417.7 227.6V217.4M417.9 226.4V219.7M418.2 229.0V223.4M418.4 234.1V224.0M418.6 215.8V208.8M418.8 231.4V217.4M419.0 203.6V197.9M419.3 230.4V223.8M419.5 228.9V214.6M419.7 230.2V222.3M419.9 229.5V218.2M420.2 224.7V218.9M420.4 233.6V221.6M420.6 230.3V219.9M420.8 230.8V217.6M421.0 230.4V218.3M421.3 228.6V216.8M421.5 218.7V208.7M421.7 215.6V204.7M421.9 230.3V217.5M422.1 230.5V221.5M422.4 234.7V222.9M422.6 230.8V224.0M422.8 233.5V219.9M423.0 228.0V216.8M423.2 229.6V222.6M423.5 233.0V225.4M423.7 226.9V218.3M423.9 230.8V224.6M424.1 232.6V222.5M424.3 230.9V220.4M424.6 228.5V217.8M424.8 238.0V228.7M425.0 232.5V225.1M425.2 230.5V218.0M425.4 231.0V221.3M425.7 226.0V220.5M425.9 233.1V220.5M426.1 222.9V217.0M426.3 232.1V220.8M426.5 227.7V217.1M426.8 229.2V215.0M427.0 233.5V219.4M427.2 227.7V218.9M427.4 232.0V221.0M427.6 230.4V223.7M427.9 234.1V223.6M428.1 226.0V217.6M428.3 222.1V212.7M428.5 231.4V222.3M428.7 235.9V221.9M429.0 224.0V213.1M429.2 229.0V215.6M429.4 230.2V220.6M429.6 231.7V223.0M429.9 237.6V223.1M430.1 228.2V219.6M430.3 226.9V220.9M430.5 233.7V226.1M430.7 215.1V202.6M431.0 227.0V217.4M431.2 234.8V221.9M431.4 232.9V220.9M431.6 233.5V219.5M431.8 227.9V220.9M432.1 232.4V218.6M432.3 234.4V227.1M432.5 224.6V215.0M432.7 231.0V216.7M432.9 224.8V216.2M433.2 226.0V215.1M433.4 230.2V221.3M433.6 227.1V220.5M433.8 215.2V204.8M434.0 225.3V219.2M434.3 228.6V222.6M434.5 232.0V222.4M434.7 229.2V220.6M434.9 234.5V221.2M435.1 232.0V222.0M435.4 236.6V227.8M435.6 228.7V220.8M435.8 235.6V221.7M436.0 233.5V220.5M436.2 230.6V219.8M436.5 227.3V220.6M436.7 223.7V213.1M436.9 227.4V221.3M437.1 233.4V226.7M437.3 229.1V220.1M437.6 230.2V224.1M437.8 226.7V220.6M438.0 232.8V222.2M438.2 234.1V221.1M438.4 230.7V223.0M438.7 234.0V220.6M438.9 235.0V228.1M439.1 232.2V222.7M439.3 229.6V220.7M439.6 227.2V214.4M439.8 231.5V220.8M440.0 231.8V221.0M440.2 226.2V219.9M440.4 226.8V219.6M440.7 223.4V215.5M440.9 229.1V217.0M441.1 232.0V218.4M441.3 227.5V213.3M441.5 216.3V202.8M441.8 226.6V213.4M442.0 231.2V217.9M442.2 236.9V225.3M442.4 229.4V223.4M442.6 231.5V225.0M442.9 228.9V222.9M443.1 232.9V220.8M443.3 231.7V219.7M443.5 229.0V222.0M443.7 227.4V219.4M444.0 227.8V220.9M444.2 233.9V220.4M444.4 236.1V223.3M444.6 226.8V214.8M444.8 225.7V214.6M445.1 231.9V221.7M445.3 228.0V218.3M445.5 234.0V227.2M445.7 235.8V225.6M445.9 231.6V220.7M446.2 225.7V214.2M446.4 232.0V225.8M446.6 235.2V221.1M446.8 219.1V207.1M447.0 237.8V226.0M447.3 203.9V196.1M447.5 228.6V218.4M447.7 231.6V220.2M447.9 228.2V220.9M448.1 221.8V210.1M448.4 234.7V223.7M448.6 232.7V219.9M448.8 231.4V220.8M449.0 233.6V221.7M449.3 237.2V222.8M449.5 225.4V213.8M449.7 227.2V221.7M449.9 234.5V228.4M450.1 232.3V223.1M450.4 228.6V219.0M450.6 229.4V218.2M450.8 229.1V219.6M451.0 230.3V220.8M451.2 227.4V221.3M451.5 222.0V208.7M451.7 229.0V218.7M451.9 238.9V224.6M452.1 225.8V211.7M452.3 231.8V217.2M452.6 215.1V203.5M452.8 218.2V212.1M453.0 230.5V221.2M453.2 234.8V224.5M453.4 226.1V218.4M453.7 228.9V223.0M453.9 233.1V220.7M454.1 235.4V222.5M454.3 222.9V215.7M454.5 229.7V224.1M454.8 236.4V224.1M455.0 232.8V221.0M455.2 232.8V226.0M455.4 228.3V221.2M455.6 230.6V223.0M455.9 223.3V211.7M456.1 230.0V216.4M456.3 234.2V221.0M456.5 226.4V219.2M456.7 225.2V216.6M457.0 231.9V221.4M457.2 233.3V221.9M457.4 228.5V220.8M457.6 226.6V217.8M457.8 230.9V219.8M458.1 230.6V219.1M458.3 231.7V219.2M458.5 229.6V218.9M458.7 226.0V220.3M459.0 231.7V224.0M459.2 232.4V221.7M459.4 229.4V221.0M459.6 235.1V220.3M459.8 228.8V221.0M460.1 230.3V216.6M460.3 229.2V221.7M460.5 233.9V221.1M460.7 234.2V222.1M460.9 226.6V211.8M461.2 228.2V216.4M461.4 236.5V222.2M461.6 235.3V221.5M461.8 218.4V209.5M462.0 225.4V214.7M462.3 228.2V221.7M462.5 213.9V206.5M462.7 201.0V187.2M462.9 229.1V221.7M463.1 227.1V218.5M463.4 235.6V228.3M463.6 234.8V221.6M463.8 216.0V209.1M464.0 227.0V215.8M464.2 231.1V224.0M464.5 231.1V217.7M464.7 223.2V216.3M464.9 232.4V221.2M465.1 237.4V222.9M465.3 231.6V219.7M465.6 232.3V221.4M465.8 227.1V214.6M466.0 229.6V220.2M466.2 231.6V225.0M466.4 223.1V210.8M466.7 234.1V220.3M466.9 227.7V219.9M467.1 228.0V218.1M467.3 229.4V216.0M467.5 228.9V220.8M467.8 227.7V219.1M468.0 230.0V221.4M468.2 233.9V227.1M468.4 233.3V219.2M468.6 222.5V210.9M468.9 232.0V220.2M469.1 231.4V218.7M469.3 234.5V220.9M469.5 226.0V215.6M469.8 217.3V202.6M470.0 236.1V230.5M470.2 229.4V221.6M470.4 231.6V224.4M470.6 240.3V229.2M470.9 230.3V217.8M471.1 234.4V221.0M471.3 234.2V219.5M471.5 234.9V220.7M471.7 226.6V216.7M472.0 226.2V216.0M472.2 229.8V219.3M472.4 225.8V220.3M472.6 230.9V221.0M472.8 231.1V218.9M473.1 231.2V225.1M473.3 229.5V221.3M473.5 231.5V224.6M473.7 227.4V221.0M473.9 226.9V218.3M474.2 229.3V219.6M474.4 224.7V218.1M474.6 221.9V210.2M474.8 238.9V227.2M475.0 233.0V218.1M475.3 233.7V221.5M475.5 230.0V224.3M475.7 233.7V227.0M475.9 232.5V218.3M476.1 230.0V223.0M476.4 231.6V224.1M476.6 231.4V221.5M476.8 234.2V221.2M477.0 238.8V228.9M477.2 224.6V218.9M477.5 231.1V222.2M477.7 236.2V221.7M477.9 228.3V220.7M478.1 233.9V222.0M478.3 237.5V229.1M478.6 225.5V219.5M478.8 235.9V227.1M479.0 231.4V221.4M479.2 232.0V218.4M479.5 215.1V207.9M479.7 228.3V214.5M479.9 228.4V221.6M480.1 232.6V224.1M480.3 231.9V222.3M480.6 229.1V214.5M480.8 217.9V208.8M481.0 228.0V219.4M481.2 230.8V225.0M481.4 225.9V218.1M481.7 232.7V221.2M481.9 233.2V220.9M482.1 231.4V221.9M482.3 230.7V216.4M482.5 227.6V221.8M482.8 227.9V216.4M483.0 225.6V216.5M483.2 229.0V218.7M483.4 238.2V229.6M483.6 235.1V228.3M483.9 228.6V221.6M484.1 229.1V222.7M484.3 223.5V212.6M484.5 233.2V218.4M484.7 229.6V222.8M485.0 229.2V215.5M485.2 227.8V216.0M485.4 230.6V222.4M485.6 227.5V220.6M485.8 233.3V226.1M486.1 230.4V215.8M486.3 226.8V215.8M486.5 238.1V223.2M486.7 226.4V218.5M486.9 226.7V219.9M487.2 223.8V213.1M487.4 225.6V219.3M487.6 222.0V212.1M487.8 238.5V228.1M488.0 236.5V222.0M488.3 233.9V221.8M488.5 225.3V219.7M488.7 232.6V226.8M488.9 231.0V225.4M489.2 232.3V221.7M489.4 226.5V215.6M489.6 236.2V225.4M489.8 237.4V223.6M490.0 227.2V219.8M490.3 238.5V228.0M490.5 231.4V217.7M490.7 233.4V221.3M490.9 235.8V226.8M491.1 222.3V216.2M491.4 232.4V226.1M491.6 232.4V217.9M491.8 227.8V221.1M492.0 223.4V217.6M492.2 232.3V219.3M492.5 230.8V220.0M492.7 232.7V222.9M492.9 231.7V220.0M493.1 225.9V218.2M493.3 237.1V228.1M493.6 227.5V219.4M493.8 231.2V224.2M494.0 231.5V219.5M494.2 229.2V220.1M494.4 227.4V218.2M494.7 230.4V219.5M494.9 233.0V221.3M495.1 231.1V218.3M495.3 231.8V219.7M495.5 230.6V222.4M495.8 205.1V198.8M496.0 222.6V211.4M496.2 229.0V221.6M496.4 229.9V220.6M496.6 237.2V223.5M496.9 222.1V216.0M497.1 236.9V227.9M497.3 227.0V219.5M497.5 234.2V224.1M497.7 226.4V216.0M498.0 219.2V211.3M498.2 234.4V220.0M498.4 226.5V215.7M498.6 227.8V221.0M498.9 234.3V221.3M499.1 234.7V222.9M499.3 228.4V219.3M499.5 227.3V214.5M499.7 230.9V218.3M500.0 235.5V226.8M500.2 236.6V222.5M500.4 232.4V220.8M500.6 224.1V218.0M500.8 228.5V221.2M501.1 227.5V221.8M501.3 227.3V215.8M501.5 229.9V223.3M501.7 231.1V221.2M501.9 222.9V212.7M502.2 235.2V229.1M502.4 231.6V216.8M502.6 231.6V217.2M502.8 229.8V215.0M503.0 234.5V225.7M503.3 229.1V220.9M503.5 226.0V219.2M503.7 228.3V213.3M503.9 227.4V214.6M504.1 232.3V225.6M504.4 227.9V222.4M504.6 234.9V221.6M504.8 228.8V220.8M505.0 232.1V223.1M505.2 223.5V210.6M505.5 228.6V215.5M505.7 228.8V218.2M505.9 239.1V225.5M506.1 227.5V217.6M506.3 229.1V219.6M506.6 235.3V223.9M506.8 234.3V223.8M507.0 229.9V221.9M507.2 230.1V217.6M507.4 233.4V221.6M507.7 235.2V228.1M507.9 230.3V219.5M508.1 230.5V220.1M508.3 222.6V211.9M508.6 235.9V225.1M508.8 223.0V211.0M509.0 224.6V214.9M509.2 230.1V219.7M509.4 227.0V213.1M509.7 228.6V222.6M509.9 228.7V216.2M510.1 231.5V225.5M510.3 228.5V222.8M510.5 236.4V222.7M510.8 234.8V228.2M511.0 230.0V223.8M511.2 234.9V221.7M511.4 228.2V219.6M511.6 226.3V216.6M511.9 232.1V221.0M512.1 230.9V220.6M512.3 231.5V219.1M512.5 236.7V227.1M512.7 231.5V218.6M513.0 230.2V221.6M513.2 229.5V222.8" stroke="#3f8ad0" stroke-width="0.55" stroke-opacity="0.55" fill="none"/>
<polyline points="315.0,207.8 315.2,208.3 315.4,208.8 315.7,209.2 315.9,209.6 316.1,209.9 316.3,210.3 316.5,210.6 316.8,210.9 317.0,211.2 317.2,211.5 317.4,211.7 317.6,212.0 317.9,212.2 318.1,212.4 318.3,212.7 318.5,212.9 318.7,213.1 319.0,213.3 319.2,213.4 319.4,213.6 319.6,213.8 319.8,214.0 320.1,214.1 320.3,214.3 320.5,214.4 320.7,214.6 321.0,214.7 321.2,214.8 321.4,215.0 321.6,215.1 321.8,215.2 322.1,215.3 322.3,215.5 322.5,215.6 322.7,215.7 322.9,215.8 323.2,215.9 323.4,216.0 323.6,216.1 323.8,216.2 324.9,216.6 326.0,217.1 327.1,217.4 328.2,217.7 329.3,218.0 330.4,218.3 331.5,218.6 332.6,218.8 333.7,219.0 334.8,219.2 335.9,219.4 337.0,219.6 338.1,219.8 339.2,219.9 340.4,220.1 341.5,220.2 342.6,220.3 343.7,220.5 344.8,220.6 345.9,220.7 347.0,220.8 348.1,220.9 349.2,221.0 350.3,221.1 351.4,221.2 352.5,221.3 353.6,221.4 354.7,221.5 355.8,221.6 356.9,221.6 358.0,221.7 359.1,221.8 360.2,221.9 361.3,221.9 362.4,222.0 363.5,222.1 364.6,222.1 365.7,222.2 366.8,222.3 367.9,222.3 369.0,222.4 370.1,222.4 371.2,222.5 372.3,222.5 373.4,222.6 374.5,222.6 375.6,222.7 376.7,222.7 377.8,222.8 378.9,222.8 380.0,222.9 381.1,222.9 382.2,223.0 383.3,223.0 384.4,223.0 385.5,223.1 386.6,223.1 387.7,223.2 388.8,223.2 390.0,223.2 391.1,223.3 392.2,223.3 393.3,223.3 394.4,223.4 395.5,223.4 396.6,223.5 397.7,223.5 398.8,223.5 399.9,223.6 401.0,223.6 402.1,223.6 403.2,223.6 404.3,223.7 405.4,223.7 406.5,223.7 407.6,223.8 408.7,223.8 409.8,223.8 410.9,223.9 412.0,223.9 413.1,223.9 414.2,223.9 415.3,224.0 416.4,224.0 417.5,224.0 418.6,224.0 419.7,224.1 420.8,224.1 421.9,224.1 423.0,224.1 424.1,224.2 425.2,224.2 426.3,224.2 427.4,224.2 428.5,224.3 429.6,224.3 430.7,224.3 431.8,224.3 432.9,224.4 434.0,224.4 435.1,224.4 436.2,224.4 437.3,224.4 438.4,224.5 439.6,224.5 440.7,224.5 441.8,224.5 442.9,224.5 444.0,224.6 445.1,224.6 446.2,224.6 447.3,224.6 448.4,224.6 449.5,224.7 450.6,224.7 451.7,224.7 452.8,224.7 453.9,224.7 455.0,224.8 456.1,224.8 457.2,224.8 458.3,224.8 459.4,224.8 460.5,224.9 461.6,224.9 462.7,224.9 463.8,224.9 464.9,224.9 466.0,224.9 467.1,225.0 468.2,225.0 469.3,225.0 470.4,225.0 471.5,225.0 472.6,225.0 473.7,225.1 474.8,225.1 475.9,225.1 477.0,225.1 478.1,225.1 479.2,225.1 480.3,225.2 481.4,225.2 482.5,225.2 483.6,225.2 484.7,225.2 485.8,225.2 486.9,225.2 488.0,225.3 489.2,225.3 490.3,225.3 491.4,225.3 492.5,225.3 493.6,225.3 494.7,225.3 495.8,225.4 496.9,225.4 498.0,225.4 499.1,225.4 500.2,225.4 501.3,225.4 502.4,225.4 503.5,225.5 504.6,225.5 505.7,225.5 506.8,225.5 507.9,225.5 509.0,225.5 510.1,225.5 511.2,225.6 512.3,225.6 513.2,225.6" fill="none" stroke="#f01818" stroke-width="1.6"/>
<path d="M314.2 210.3h1.6v1.6h-1.6zM314.4 213.2h1.6v1.6h-1.6zM314.6 213.2h1.6v1.6h-1.6zM314.9 174.2h1.6v1.6h-1.6zM315.1 206.0h1.6v1.6h-1.6zM315.3 177.5h1.6v1.6h-1.6zM315.5 214.1h1.6v1.6h-1.6zM315.7 210.4h1.6v1.6h-1.6zM316.0 212.4h1.6v1.6h-1.6zM316.2 215.6h1.6v1.6h-1.6zM316.4 210.4h1.6v1.6h-1.6zM316.6 196.2h1.6v1.6h-1.6zM316.8 192.4h1.6v1.6h-1.6zM317.1 217.3h1.6v1.6h-1.6zM317.3 201.8h1.6v1.6h-1.6zM317.5 215.2h1.6v1.6h-1.6zM317.7 174.1h1.6v1.6h-1.6zM317.9 198.4h1.6v1.6h-1.6zM318.2 179.5h1.6v1.6h-1.6zM318.4 182.6h1.6v1.6h-1.6zM318.6 208.4h1.6v1.6h-1.6zM318.8 207.7h1.6v1.6h-1.6zM319.0 193.4h1.6v1.6h-1.6zM319.3 207.9h1.6v1.6h-1.6zM319.5 176.5h1.6v1.6h-1.6zM319.7 174.7h1.6v1.6h-1.6zM319.9 187.3h1.6v1.6h-1.6zM320.2 222.3h1.6v1.6h-1.6zM320.4 198.2h1.6v1.6h-1.6zM320.6 222.0h1.6v1.6h-1.6zM320.8 213.8h1.6v1.6h-1.6zM321.0 201.5h1.6v1.6h-1.6zM321.3 204.2h1.6v1.6h-1.6zM321.5 214.5h1.6v1.6h-1.6zM321.7 216.4h1.6v1.6h-1.6zM321.9 189.0h1.6v1.6h-1.6zM322.1 217.9h1.6v1.6h-1.6zM322.4 203.5h1.6v1.6h-1.6zM322.6 201.2h1.6v1.6h-1.6zM322.8 219.1h1.6v1.6h-1.6zM323.0 183.6h1.6v1.6h-1.6zM323.2 178.3h1.6v1.6h-1.6zM323.5 186.6h1.6v1.6h-1.6zM323.7 175.2h1.6v1.6h-1.6zM323.9 219.9h1.6v1.6h-1.6zM324.1 214.6h1.6v1.6h-1.6zM324.3 218.9h1.6v1.6h-1.6zM324.6 180.1h1.6v1.6h-1.6zM324.8 224.8h1.6v1.6h-1.6zM325.0 214.3h1.6v1.6h-1.6zM325.2 181.4h1.6v1.6h-1.6zM325.4 223.4h1.6v1.6h-1.6zM325.7 217.9h1.6v1.6h-1.6zM325.9 196.4h1.6v1.6h-1.6zM326.1 202.0h1.6v1.6h-1.6zM326.3 180.6h1.6v1.6h-1.6zM326.5 191.1h1.6v1.6h-1.6zM326.8 217.8h1.6v1.6h-1.6zM327.0 178.0h1.6v1.6h-1.6zM327.2 191.6h1.6v1.6h-1.6zM327.4 216.6h1.6v1.6h-1.6zM327.6 219.6h1.6v1.6h-1.6zM327.9 219.6h1.6v1.6h-1.6zM328.1 219.4h1.6v1.6h-1.6zM328.3 216.8h1.6v1.6h-1.6zM328.5 222.9h1.6v1.6h-1.6zM328.7 224.6h1.6v1.6h-1.6zM329.0 227.8h1.6v1.6h-1.6zM329.2 215.0h1.6v1.6h-1.6zM329.4 219.0h1.6v1.6h-1.6zM329.6 214.0h1.6v1.6h-1.6zM329.9 219.4h1.6v1.6h-1.6zM330.1 222.1h1.6v1.6h-1.6zM330.3 217.8h1.6v1.6h-1.6zM330.5 219.8h1.6v1.6h-1.6zM330.7 206.2h1.6v1.6h-1.6zM331.0 222.7h1.6v1.6h-1.6zM331.2 213.4h1.6v1.6h-1.6zM331.4 197.9h1.6v1.6h-1.6zM331.6 218.2h1.6v1.6h-1.6zM331.8 220.7h1.6v1.6h-1.6zM332.1 222.2h1.6v1.6h-1.6zM332.3 216.7h1.6v1.6h-1.6zM332.5 220.2h1.6v1.6h-1.6zM332.7 222.6h1.6v1.6h-1.6zM332.9 220.4h1.6v1.6h-1.6zM333.2 223.1h1.6v1.6h-1.6zM333.4 219.3h1.6v1.6h-1.6zM333.6 216.0h1.6v1.6h-1.6zM333.8 223.0h1.6v1.6h-1.6zM334.0 215.0h1.6v1.6h-1.6zM334.3 222.5h1.6v1.6h-1.6zM334.5 219.6h1.6v1.6h-1.6zM334.7 223.1h1.6v1.6h-1.6zM334.9 221.0h1.6v1.6h-1.6zM335.1 195.3h1.6v1.6h-1.6zM335.4 221.8h1.6v1.6h-1.6zM335.6 222.8h1.6v1.6h-1.6zM335.8 222.7h1.6v1.6h-1.6zM336.0 223.2h1.6v1.6h-1.6zM336.2 225.9h1.6v1.6h-1.6zM336.5 221.3h1.6v1.6h-1.6zM336.7 219.0h1.6v1.6h-1.6zM336.9 217.2h1.6v1.6h-1.6zM337.1 218.2h1.6v1.6h-1.6zM337.3 211.8h1.6v1.6h-1.6zM337.6 219.4h1.6v1.6h-1.6zM337.8 222.2h1.6v1.6h-1.6zM338.0 214.0h1.6v1.6h-1.6zM338.2 224.3h1.6v1.6h-1.6zM338.4 217.2h1.6v1.6h-1.6zM338.7 224.0h1.6v1.6h-1.6zM338.9 219.4h1.6v1.6h-1.6zM339.1 227.7h1.6v1.6h-1.6zM339.3 217.5h1.6v1.6h-1.6zM339.6 221.3h1.6v1.6h-1.6zM339.8 224.2h1.6v1.6h-1.6zM340.0 214.9h1.6v1.6h-1.6zM340.2 218.1h1.6v1.6h-1.6zM340.4 220.7h1.6v1.6h-1.6zM340.7 223.5h1.6v1.6h-1.6zM340.9 221.0h1.6v1.6h-1.6zM341.1 221.5h1.6v1.6h-1.6zM341.3 218.4h1.6v1.6h-1.6zM341.5 218.1h1.6v1.6h-1.6zM341.8 223.3h1.6v1.6h-1.6zM342.0 222.9h1.6v1.6h-1.6zM342.2 222.9h1.6v1.6h-1.6zM342.4 225.8h1.6v1.6h-1.6zM342.6 203.6h1.6v1.6h-1.6zM342.9 198.4h1.6v1.6h-1.6zM343.1 218.6h1.6v1.6h-1.6zM343.3 216.4h1.6v1.6h-1.6zM343.5 224.0h1.6v1.6h-1.6zM343.7 219.2h1.6v1.6h-1.6zM344.0 222.7h1.6v1.6h-1.6zM344.2 213.9h1.6v1.6h-1.6zM344.4 221.4h1.6v1.6h-1.6zM344.6 219.5h1.6v1.6h-1.6zM344.8 224.6h1.6v1.6h-1.6zM345.1 224.1h1.6v1.6h-1.6zM345.3 220.6h1.6v1.6h-1.6zM345.5 222.7h1.6v1.6h-1.6zM345.7 220.1h1.6v1.6h-1.6zM345.9 226.9h1.6v1.6h-1.6zM346.2 219.0h1.6v1.6h-1.6zM346.4 224.6h1.6v1.6h-1.6zM346.6 215.3h1.6v1.6h-1.6zM346.8 222.4h1.6v1.6h-1.6zM347.0 217.5h1.6v1.6h-1.6zM347.3 226.4h1.6v1.6h-1.6zM347.5 219.9h1.6v1.6h-1.6zM347.7 224.6h1.6v1.6h-1.6zM347.9 223.2h1.6v1.6h-1.6zM348.1 221.4h1.6v1.6h-1.6zM348.4 222.6h1.6v1.6h-1.6zM348.6 220.6h1.6v1.6h-1.6zM348.8 218.9h1.6v1.6h-1.6zM349.0 219.3h1.6v1.6h-1.6zM349.3 208.0h1.6v1.6h-1.6zM349.5 197.2h1.6v1.6h-1.6zM349.7 217.6h1.6v1.6h-1.6zM349.9 209.8h1.6v1.6h-1.6zM350.1 229.2h1.6v1.6h-1.6zM350.4 219.0h1.6v1.6h-1.6zM350.6 222.5h1.6v1.6h-1.6zM350.8 222.6h1.6v1.6h-1.6zM351.0 218.4h1.6v1.6h-1.6zM351.2 219.4h1.6v1.6h-1.6zM351.5 221.0h1.6v1.6h-1.6zM351.7 225.3h1.6v1.6h-1.6zM351.9 220.7h1.6v1.6h-1.6zM352.1 220.6h1.6v1.6h-1.6zM352.3 224.9h1.6v1.6h-1.6zM352.6 218.1h1.6v1.6h-1.6zM352.8 220.0h1.6v1.6h-1.6zM353.0 228.8h1.6v1.6h-1.6zM353.2 221.4h1.6v1.6h-1.6zM353.4 226.3h1.6v1.6h-1.6zM353.7 217.9h1.6v1.6h-1.6zM353.9 219.0h1.6v1.6h-1.6zM354.1 225.8h1.6v1.6h-1.6zM354.3 225.0h1.6v1.6h-1.6zM354.5 212.0h1.6v1.6h-1.6zM354.8 222.8h1.6v1.6h-1.6zM355.0 216.6h1.6v1.6h-1.6zM355.2 219.3h1.6v1.6h-1.6zM355.4 223.0h1.6v1.6h-1.6zM355.6 219.9h1.6v1.6h-1.6zM355.9 215.1h1.6v1.6h-1.6zM356.1 220.9h1.6v1.6h-1.6zM356.3 219.0h1.6v1.6h-1.6zM356.5 222.7h1.6v1.6h-1.6zM356.7 215.9h1.6v1.6h-1.6zM357.0 220.1h1.6v1.6h-1.6zM357.2 215.1h1.6v1.6h-1.6zM357.4 221.4h1.6v1.6h-1.6zM357.6 226.1h1.6v1.6h-1.6zM357.8 217.0h1.6v1.6h-1.6zM358.1 228.8h1.6v1.6h-1.6zM358.3 220.4h1.6v1.6h-1.6zM358.5 224.2h1.6v1.6h-1.6zM358.7 218.9h1.6v1.6h-1.6zM359.0 225.2h1.6v1.6h-1.6zM359.2 217.5h1.6v1.6h-1.6zM359.4 221.1h1.6v1.6h-1.6zM359.6 228.3h1.6v1.6h-1.6zM359.8 229.2h1.6v1.6h-1.6zM360.1 223.3h1.6v1.6h-1.6zM360.3 217.7h1.6v1.6h-1.6zM360.5 221.8h1.6v1.6h-1.6zM360.7 222.0h1.6v1.6h-1.6zM360.9 183.9h1.6v1.6h-1.6zM361.2 219.7h1.6v1.6h-1.6zM361.4 221.0h1.6v1.6h-1.6zM361.6 221.3h1.6v1.6h-1.6zM361.8 225.8h1.6v1.6h-1.6zM362.0 218.1h1.6v1.6h-1.6zM362.3 217.5h1.6v1.6h-1.6zM362.5 226.9h1.6v1.6h-1.6zM362.7 214.2h1.6v1.6h-1.6zM362.9 213.3h1.6v1.6h-1.6zM363.1 224.1h1.6v1.6h-1.6zM363.4 229.1h1.6v1.6h-1.6zM363.6 220.1h1.6v1.6h-1.6zM363.8 220.4h1.6v1.6h-1.6zM364.0 224.5h1.6v1.6h-1.6zM364.2 228.8h1.6v1.6h-1.6zM364.5 218.5h1.6v1.6h-1.6zM364.7 224.5h1.6v1.6h-1.6zM364.9 224.1h1.6v1.6h-1.6zM365.1 212.4h1.6v1.6h-1.6zM365.3 214.9h1.6v1.6h-1.6zM365.6 219.1h1.6v1.6h-1.6zM365.8 224.1h1.6v1.6h-1.6zM366.0 220.2h1.6v1.6h-1.6zM366.2 230.6h1.6v1.6h-1.6zM366.4 222.1h1.6v1.6h-1.6zM366.7 225.2h1.6v1.6h-1.6zM366.9 227.1h1.6v1.6h-1.6zM367.1 228.1h1.6v1.6h-1.6zM367.3 220.7h1.6v1.6h-1.6zM367.5 222.3h1.6v1.6h-1.6zM367.8 222.0h1.6v1.6h-1.6zM368.0 219.6h1.6v1.6h-1.6zM368.2 225.6h1.6v1.6h-1.6zM368.4 227.0h1.6v1.6h-1.6zM368.6 228.9h1.6v1.6h-1.6zM368.9 223.8h1.6v1.6h-1.6zM369.1 219.9h1.6v1.6h-1.6zM369.3 223.2h1.6v1.6h-1.6zM369.5 220.4h1.6v1.6h-1.6zM369.8 226.8h1.6v1.6h-1.6zM370.0 224.3h1.6v1.6h-1.6zM370.2 225.4h1.6v1.6h-1.6zM370.4 227.1h1.6v1.6h-1.6zM370.6 216.1h1.6v1.6h-1.6zM370.9 219.7h1.6v1.6h-1.6zM371.1 225.4h1.6v1.6h-1.6zM371.3 225.4h1.6v1.6h-1.6zM371.5 222.9h1.6v1.6h-1.6zM371.7 227.8h1.6v1.6h-1.6zM372.0 221.2h1.6v1.6h-1.6zM372.2 227.3h1.6v1.6h-1.6zM372.4 224.1h1.6v1.6h-1.6zM372.6 226.4h1.6v1.6h-1.6zM372.8 224.5h1.6v1.6h-1.6zM373.1 227.5h1.6v1.6h-1.6zM373.3 228.4h1.6v1.6h-1.6zM373.5 226.2h1.6v1.6h-1.6zM373.7 225.2h1.6v1.6h-1.6zM373.9 223.9h1.6v1.6h-1.6zM374.2 222.6h1.6v1.6h-1.6zM374.4 217.4h1.6v1.6h-1.6zM374.6 220.0h1.6v1.6h-1.6zM374.8 223.7h1.6v1.6h-1.6zM375.0 205.6h1.6v1.6h-1.6zM375.3 225.3h1.6v1.6h-1.6zM375.5 193.3h1.6v1.6h-1.6zM375.7 220.9h1.6v1.6h-1.6zM375.9 218.8h1.6v1.6h-1.6zM376.1 220.2h1.6v1.6h-1.6zM376.4 220.0h1.6v1.6h-1.6zM376.6 232.4h1.6v1.6h-1.6zM376.8 225.6h1.6v1.6h-1.6zM377.0 224.6h1.6v1.6h-1.6zM377.2 229.8h1.6v1.6h-1.6zM377.5 226.7h1.6v1.6h-1.6zM377.7 226.3h1.6v1.6h-1.6zM377.9 221.2h1.6v1.6h-1.6zM378.1 204.3h1.6v1.6h-1.6zM378.3 213.7h1.6v1.6h-1.6zM378.6 224.4h1.6v1.6h-1.6zM378.8 218.9h1.6v1.6h-1.6zM379.0 222.7h1.6v1.6h-1.6zM379.2 222.0h1.6v1.6h-1.6zM379.5 227.1h1.6v1.6h-1.6zM379.7 229.8h1.6v1.6h-1.6zM379.9 225.7h1.6v1.6h-1.6zM380.1 220.3h1.6v1.6h-1.6zM380.3 203.9h1.6v1.6h-1.6zM380.6 220.9h1.6v1.6h-1.6zM380.8 221.3h1.6v1.6h-1.6zM381.0 226.0h1.6v1.6h-1.6zM381.2 217.6h1.6v1.6h-1.6zM381.4 218.3h1.6v1.6h-1.6zM381.7 225.0h1.6v1.6h-1.6zM381.9 223.2h1.6v1.6h-1.6zM382.1 226.6h1.6v1.6h-1.6zM382.3 217.9h1.6v1.6h-1.6zM382.5 221.7h1.6v1.6h-1.6zM382.8 223.4h1.6v1.6h-1.6zM383.0 221.7h1.6v1.6h-1.6zM383.2 221.6h1.6v1.6h-1.6zM383.4 224.6h1.6v1.6h-1.6zM383.6 227.5h1.6v1.6h-1.6zM383.9 227.7h1.6v1.6h-1.6zM384.1 229.3h1.6v1.6h-1.6zM384.3 221.5h1.6v1.6h-1.6zM384.5 215.3h1.6v1.6h-1.6zM384.7 229.2h1.6v1.6h-1.6zM385.0 222.7h1.6v1.6h-1.6zM385.2 221.7h1.6v1.6h-1.6zM385.4 226.7h1.6v1.6h-1.6zM385.6 222.5h1.6v1.6h-1.6zM385.8 211.5h1.6v1.6h-1.6zM386.1 219.0h1.6v1.6h-1.6zM386.3 212.6h1.6v1.6h-1.6zM386.5 222.9h1.6v1.6h-1.6zM386.7 220.8h1.6v1.6h-1.6zM386.9 224.8h1.6v1.6h-1.6zM387.2 229.6h1.6v1.6h-1.6zM387.4 214.0h1.6v1.6h-1.6zM387.6 220.6h1.6v1.6h-1.6zM387.8 223.6h1.6v1.6h-1.6zM388.0 222.4h1.6v1.6h-1.6zM388.3 227.1h1.6v1.6h-1.6zM388.5 222.8h1.6v1.6h-1.6zM388.7 220.7h1.6v1.6h-1.6zM388.9 223.2h1.6v1.6h-1.6zM389.2 216.5h1.6v1.6h-1.6zM389.4 224.0h1.6v1.6h-1.6zM389.6 227.0h1.6v1.6h-1.6zM389.8 229.0h1.6v1.6h-1.6zM390.0 219.2h1.6v1.6h-1.6zM390.3 223.5h1.6v1.6h-1.6zM390.5 219.7h1.6v1.6h-1.6zM390.7 221.7h1.6v1.6h-1.6zM390.9 217.6h1.6v1.6h-1.6zM391.1 218.9h1.6v1.6h-1.6zM391.4 224.7h1.6v1.6h-1.6zM391.6 222.4h1.6v1.6h-1.6zM391.8 219.5h1.6v1.6h-1.6zM392.0 227.7h1.6v1.6h-1.6zM392.2 183.9h1.6v1.6h-1.6zM392.5 219.1h1.6v1.6h-1.6zM392.7 219.9h1.6v1.6h-1.6zM392.9 224.1h1.6v1.6h-1.6zM393.1 222.3h1.6v1.6h-1.6zM393.3 227.4h1.6v1.6h-1.6zM393.6 223.2h1.6v1.6h-1.6zM393.8 225.5h1.6v1.6h-1.6zM394.0 223.1h1.6v1.6h-1.6zM394.2 225.2h1.6v1.6h-1.6zM394.4 222.4h1.6v1.6h-1.6zM394.7 219.3h1.6v1.6h-1.6zM394.9 228.1h1.6v1.6h-1.6zM395.1 220.2h1.6v1.6h-1.6zM395.3 230.5h1.6v1.6h-1.6zM395.5 231.1h1.6v1.6h-1.6zM395.8 223.9h1.6v1.6h-1.6zM396.0 223.4h1.6v1.6h-1.6zM396.2 221.9h1.6v1.6h-1.6zM396.4 229.3h1.6v1.6h-1.6zM396.6 223.7h1.6v1.6h-1.6zM396.9 208.1h1.6v1.6h-1.6zM397.1 219.1h1.6v1.6h-1.6zM397.3 223.9h1.6v1.6h-1.6zM397.5 221.6h1.6v1.6h-1.6zM397.7 227.0h1.6v1.6h-1.6zM398.0 224.2h1.6v1.6h-1.6zM398.2 225.1h1.6v1.6h-1.6zM398.4 221.0h1.6v1.6h-1.6zM398.6 227.0h1.6v1.6h-1.6zM398.9 226.5h1.6v1.6h-1.6zM399.1 221.5h1.6v1.6h-1.6zM399.3 207.7h1.6v1.6h-1.6zM399.5 222.2h1.6v1.6h-1.6zM399.7 222.5h1.6v1.6h-1.6zM400.0 224.8h1.6v1.6h-1.6zM400.2 219.7h1.6v1.6h-1.6zM400.4 221.7h1.6v1.6h-1.6zM400.6 217.4h1.6v1.6h-1.6zM400.8 222.4h1.6v1.6h-1.6zM401.1 226.9h1.6v1.6h-1.6zM401.3 225.6h1.6v1.6h-1.6zM401.5 227.1h1.6v1.6h-1.6zM401.7 228.0h1.6v1.6h-1.6zM401.9 219.1h1.6v1.6h-1.6zM402.2 220.8h1.6v1.6h-1.6zM402.4 228.0h1.6v1.6h-1.6zM402.6 217.3h1.6v1.6h-1.6zM402.8 222.8h1.6v1.6h-1.6zM403.0 227.0h1.6v1.6h-1.6zM403.3 222.3h1.6v1.6h-1.6zM403.5 223.9h1.6v1.6h-1.6zM403.7 226.4h1.6v1.6h-1.6zM403.9 230.5h1.6v1.6h-1.6zM404.1 223.5h1.6v1.6h-1.6zM404.4 222.6h1.6v1.6h-1.6zM404.6 232.8h1.6v1.6h-1.6zM404.8 221.7h1.6v1.6h-1.6zM405.0 221.5h1.6v1.6h-1.6zM405.2 225.3h1.6v1.6h-1.6zM405.5 209.2h1.6v1.6h-1.6zM405.7 224.7h1.6v1.6h-1.6zM405.9 226.7h1.6v1.6h-1.6zM406.1 225.0h1.6v1.6h-1.6zM406.3 218.9h1.6v1.6h-1.6zM406.6 228.8h1.6v1.6h-1.6zM406.8 222.9h1.6v1.6h-1.6zM407.0 223.1h1.6v1.6h-1.6zM407.2 226.2h1.6v1.6h-1.6zM407.4 225.3h1.6v1.6h-1.6zM407.7 228.7h1.6v1.6h-1.6zM407.9 226.8h1.6v1.6h-1.6zM408.1 223.7h1.6v1.6h-1.6zM408.3 222.6h1.6v1.6h-1.6zM408.6 216.5h1.6v1.6h-1.6zM408.8 212.9h1.6v1.6h-1.6zM409.0 225.8h1.6v1.6h-1.6zM409.2 223.3h1.6v1.6h-1.6zM409.4 224.6h1.6v1.6h-1.6zM409.7 225.2h1.6v1.6h-1.6zM409.9 219.2h1.6v1.6h-1.6zM410.1 225.5h1.6v1.6h-1.6zM410.3 219.1h1.6v1.6h-1.6zM410.5 219.8h1.6v1.6h-1.6zM410.8 227.5h1.6v1.6h-1.6zM411.0 220.1h1.6v1.6h-1.6zM411.2 226.1h1.6v1.6h-1.6zM411.4 207.5h1.6v1.6h-1.6zM411.6 217.4h1.6v1.6h-1.6zM411.9 227.1h1.6v1.6h-1.6zM412.1 230.6h1.6v1.6h-1.6zM412.3 193.3h1.6v1.6h-1.6zM412.5 204.3h1.6v1.6h-1.6zM412.7 227.4h1.6v1.6h-1.6zM413.0 228.2h1.6v1.6h-1.6zM413.2 226.3h1.6v1.6h-1.6zM413.4 224.6h1.6v1.6h-1.6zM413.6 218.7h1.6v1.6h-1.6zM413.8 229.9h1.6v1.6h-1.6zM414.1 225.8h1.6v1.6h-1.6zM414.3 227.2h1.6v1.6h-1.6zM414.5 229.2h1.6v1.6h-1.6zM414.7 228.4h1.6v1.6h-1.6zM414.9 227.1h1.6v1.6h-1.6zM415.2 221.3h1.6v1.6h-1.6zM415.4 224.6h1.6v1.6h-1.6zM415.6 225.8h1.6v1.6h-1.6zM415.8 221.7h1.6v1.6h-1.6zM416.0 222.9h1.6v1.6h-1.6zM416.3 224.7h1.6v1.6h-1.6zM416.5 216.8h1.6v1.6h-1.6zM416.7 226.8h1.6v1.6h-1.6zM416.9 221.7h1.6v1.6h-1.6zM417.1 222.3h1.6v1.6h-1.6zM417.4 225.4h1.6v1.6h-1.6zM417.6 228.2h1.6v1.6h-1.6zM417.8 211.5h1.6v1.6h-1.6zM418.0 223.6h1.6v1.6h-1.6zM418.2 200.0h1.6v1.6h-1.6zM418.5 226.3h1.6v1.6h-1.6zM418.7 220.9h1.6v1.6h-1.6zM418.9 225.5h1.6v1.6h-1.6zM419.1 223.1h1.6v1.6h-1.6zM419.4 221.0h1.6v1.6h-1.6zM419.6 226.8h1.6v1.6h-1.6zM419.8 224.3h1.6v1.6h-1.6zM420.0 223.4h1.6v1.6h-1.6zM420.2 223.6h1.6v1.6h-1.6zM420.5 221.9h1.6v1.6h-1.6zM420.7 212.9h1.6v1.6h-1.6zM420.9 209.3h1.6v1.6h-1.6zM421.1 223.1h1.6v1.6h-1.6zM421.3 225.2h1.6v1.6h-1.6zM421.6 228.0h1.6v1.6h-1.6zM421.8 226.6h1.6v1.6h-1.6zM422.0 225.9h1.6v1.6h-1.6zM422.2 221.6h1.6v1.6h-1.6zM422.4 225.3h1.6v1.6h-1.6zM422.7 228.4h1.6v1.6h-1.6zM422.9 221.8h1.6v1.6h-1.6zM423.1 226.9h1.6v1.6h-1.6zM423.3 226.7h1.6v1.6h-1.6zM423.5 224.8h1.6v1.6h-1.6zM423.8 222.4h1.6v1.6h-1.6zM424.0 232.6h1.6v1.6h-1.6zM424.2 228.0h1.6v1.6h-1.6zM424.4 223.4h1.6v1.6h-1.6zM424.6 225.3h1.6v1.6h-1.6zM424.9 222.4h1.6v1.6h-1.6zM425.1 226.0h1.6v1.6h-1.6zM425.3 219.2h1.6v1.6h-1.6zM425.5 225.7h1.6v1.6h-1.6zM425.7 221.6h1.6v1.6h-1.6zM426.0 221.3h1.6v1.6h-1.6zM426.2 225.7h1.6v1.6h-1.6zM426.4 222.5h1.6v1.6h-1.6zM426.6 225.7h1.6v1.6h-1.6zM426.8 226.3h1.6v1.6h-1.6zM427.1 228.1h1.6v1.6h-1.6zM427.3 221.0h1.6v1.6h-1.6zM427.5 216.6h1.6v1.6h-1.6zM427.7 226.1h1.6v1.6h-1.6zM427.9 228.1h1.6v1.6h-1.6zM428.2 217.7h1.6v1.6h-1.6zM428.4 221.5h1.6v1.6h-1.6zM428.6 224.6h1.6v1.6h-1.6zM428.8 226.6h1.6v1.6h-1.6zM429.1 229.5h1.6v1.6h-1.6zM429.3 223.1h1.6v1.6h-1.6zM429.5 223.1h1.6v1.6h-1.6zM429.7 229.1h1.6v1.6h-1.6zM429.9 208.0h1.6v1.6h-1.6zM430.2 221.4h1.6v1.6h-1.6zM430.4 227.6h1.6v1.6h-1.6zM430.6 226.1h1.6v1.6h-1.6zM430.8 225.7h1.6v1.6h-1.6zM431.0 223.6h1.6v1.6h-1.6zM431.3 224.7h1.6v1.6h-1.6zM431.5 230.0h1.6v1.6h-1.6zM431.7 219.0h1.6v1.6h-1.6zM431.9 223.1h1.6v1.6h-1.6zM432.1 219.7h1.6v1.6h-1.6zM432.4 219.7h1.6v1.6h-1.6zM432.6 224.9h1.6v1.6h-1.6zM432.8 223.0h1.6v1.6h-1.6zM433.0 209.2h1.6v1.6h-1.6zM433.2 221.5h1.6v1.6h-1.6zM433.5 224.8h1.6v1.6h-1.6zM433.7 226.4h1.6v1.6h-1.6zM433.9 224.1h1.6v1.6h-1.6zM434.1 227.0h1.6v1.6h-1.6zM434.3 226.2h1.6v1.6h-1.6zM434.6 231.4h1.6v1.6h-1.6zM434.8 223.9h1.6v1.6h-1.6zM435.0 227.9h1.6v1.6h-1.6zM435.2 226.2h1.6v1.6h-1.6zM435.4 224.4h1.6v1.6h-1.6zM435.7 223.1h1.6v1.6h-1.6zM435.9 217.6h1.6v1.6h-1.6zM436.1 223.5h1.6v1.6h-1.6zM436.3 229.2h1.6v1.6h-1.6zM436.5 223.8h1.6v1.6h-1.6zM436.8 226.4h1.6v1.6h-1.6zM437.0 222.8h1.6v1.6h-1.6zM437.2 226.7h1.6v1.6h-1.6zM437.4 226.8h1.6v1.6h-1.6zM437.6 226.1h1.6v1.6h-1.6zM437.9 226.5h1.6v1.6h-1.6zM438.1 230.7h1.6v1.6h-1.6zM438.3 226.6h1.6v1.6h-1.6zM438.5 224.3h1.6v1.6h-1.6zM438.8 220.0h1.6v1.6h-1.6zM439.0 225.3h1.6v1.6h-1.6zM439.2 225.6h1.6v1.6h-1.6zM439.4 222.2h1.6v1.6h-1.6zM439.6 222.4h1.6v1.6h-1.6zM439.9 218.6h1.6v1.6h-1.6zM440.1 222.2h1.6v1.6h-1.6zM440.3 224.4h1.6v1.6h-1.6zM440.5 219.6h1.6v1.6h-1.6zM440.7 208.7h1.6v1.6h-1.6zM441.0 219.2h1.6v1.6h-1.6zM441.2 223.8h1.6v1.6h-1.6zM441.4 230.3h1.6v1.6h-1.6zM441.6 225.6h1.6v1.6h-1.6zM441.8 227.5h1.6v1.6h-1.6zM442.1 225.1h1.6v1.6h-1.6zM442.3 226.0h1.6v1.6h-1.6zM442.5 224.9h1.6v1.6h-1.6zM442.7 224.7h1.6v1.6h-1.6zM442.9 222.6h1.6v1.6h-1.6zM443.2 223.5h1.6v1.6h-1.6zM443.4 226.3h1.6v1.6h-1.6zM443.6 228.9h1.6v1.6h-1.6zM443.8 220.0h1.6v1.6h-1.6zM444.0 219.4h1.6v1.6h-1.6zM444.3 226.0h1.6v1.6h-1.6zM444.5 222.4h1.6v1.6h-1.6zM444.7 229.8h1.6v1.6h-1.6zM444.9 229.9h1.6v1.6h-1.6zM445.1 225.3h1.6v1.6h-1.6zM445.4 219.2h1.6v1.6h-1.6zM445.6 228.1h1.6v1.6h-1.6zM445.8 227.3h1.6v1.6h-1.6zM446.0 212.3h1.6v1.6h-1.6zM446.2 231.1h1.6v1.6h-1.6zM446.5 199.2h1.6v1.6h-1.6zM446.7 222.7h1.6v1.6h-1.6zM446.9 225.1h1.6v1.6h-1.6zM447.1 223.7h1.6v1.6h-1.6zM447.3 215.1h1.6v1.6h-1.6zM447.6 228.4h1.6v1.6h-1.6zM447.8 225.5h1.6v1.6h-1.6zM448.0 225.3h1.6v1.6h-1.6zM448.2 226.9h1.6v1.6h-1.6zM448.5 229.2h1.6v1.6h-1.6zM448.7 218.8h1.6v1.6h-1.6zM448.9 223.7h1.6v1.6h-1.6zM449.1 230.7h1.6v1.6h-1.6zM449.3 226.9h1.6v1.6h-1.6zM449.6 223.0h1.6v1.6h-1.6zM449.8 223.0h1.6v1.6h-1.6zM450.0 223.6h1.6v1.6h-1.6zM450.2 224.8h1.6v1.6h-1.6zM450.4 223.5h1.6v1.6h-1.6zM450.7 214.5h1.6v1.6h-1.6zM450.9 223.1h1.6v1.6h-1.6zM451.1 230.9h1.6v1.6h-1.6zM451.3 217.9h1.6v1.6h-1.6zM451.5 223.7h1.6v1.6h-1.6zM451.8 208.5h1.6v1.6h-1.6zM452.0 214.4h1.6v1.6h-1.6zM452.2 225.0h1.6v1.6h-1.6zM452.4 228.8h1.6v1.6h-1.6zM452.6 221.4h1.6v1.6h-1.6zM452.9 225.1h1.6v1.6h-1.6zM453.1 226.1h1.6v1.6h-1.6zM453.3 228.2h1.6v1.6h-1.6zM453.5 218.5h1.6v1.6h-1.6zM453.7 226.1h1.6v1.6h-1.6zM454.0 229.5h1.6v1.6h-1.6zM454.2 226.1h1.6v1.6h-1.6zM454.4 228.6h1.6v1.6h-1.6zM454.6 224.0h1.6v1.6h-1.6zM454.8 226.0h1.6v1.6h-1.6zM455.1 216.7h1.6v1.6h-1.6zM455.3 222.4h1.6v1.6h-1.6zM455.5 226.8h1.6v1.6h-1.6zM455.7 222.0h1.6v1.6h-1.6zM455.9 220.1h1.6v1.6h-1.6zM456.2 225.8h1.6v1.6h-1.6zM456.4 226.8h1.6v1.6h-1.6zM456.6 223.8h1.6v1.6h-1.6zM456.8 221.4h1.6v1.6h-1.6zM457.0 224.6h1.6v1.6h-1.6zM457.3 224.1h1.6v1.6h-1.6zM457.5 224.6h1.6v1.6h-1.6zM457.7 223.5h1.6v1.6h-1.6zM457.9 222.3h1.6v1.6h-1.6zM458.2 227.1h1.6v1.6h-1.6zM458.4 226.3h1.6v1.6h-1.6zM458.6 224.4h1.6v1.6h-1.6zM458.8 226.9h1.6v1.6h-1.6zM459.0 224.1h1.6v1.6h-1.6zM459.3 222.7h1.6v1.6h-1.6zM459.5 224.7h1.6v1.6h-1.6zM459.7 226.7h1.6v1.6h-1.6zM459.9 227.3h1.6v1.6h-1.6zM460.1 218.4h1.6v1.6h-1.6zM460.4 221.5h1.6v1.6h-1.6zM460.6 228.6h1.6v1.6h-1.6zM460.8 227.6h1.6v1.6h-1.6zM461.0 213.2h1.6v1.6h-1.6zM461.2 219.3h1.6v1.6h-1.6zM461.5 224.1h1.6v1.6h-1.6zM461.7 209.4h1.6v1.6h-1.6zM461.9 193.3h1.6v1.6h-1.6zM462.1 224.6h1.6v1.6h-1.6zM462.3 222.0h1.6v1.6h-1.6zM462.6 231.2h1.6v1.6h-1.6zM462.8 227.4h1.6v1.6h-1.6zM463.0 211.7h1.6v1.6h-1.6zM463.2 220.6h1.6v1.6h-1.6zM463.4 226.7h1.6v1.6h-1.6zM463.7 223.6h1.6v1.6h-1.6zM463.9 219.0h1.6v1.6h-1.6zM464.1 226.0h1.6v1.6h-1.6zM464.3 229.4h1.6v1.6h-1.6zM464.5 224.9h1.6v1.6h-1.6zM464.8 226.0h1.6v1.6h-1.6zM465.0 220.0h1.6v1.6h-1.6zM465.2 224.1h1.6v1.6h-1.6zM465.4 227.5h1.6v1.6h-1.6zM465.6 216.2h1.6v1.6h-1.6zM465.9 226.4h1.6v1.6h-1.6zM466.1 223.0h1.6v1.6h-1.6zM466.3 222.3h1.6v1.6h-1.6zM466.5 221.9h1.6v1.6h-1.6zM466.7 224.1h1.6v1.6h-1.6zM467.0 222.6h1.6v1.6h-1.6zM467.2 224.9h1.6v1.6h-1.6zM467.4 229.7h1.6v1.6h-1.6zM467.6 225.5h1.6v1.6h-1.6zM467.8 215.9h1.6v1.6h-1.6zM468.1 225.3h1.6v1.6h-1.6zM468.3 224.2h1.6v1.6h-1.6zM468.5 226.9h1.6v1.6h-1.6zM468.7 220.0h1.6v1.6h-1.6zM469.0 209.1h1.6v1.6h-1.6zM469.2 232.5h1.6v1.6h-1.6zM469.4 224.7h1.6v1.6h-1.6zM469.6 227.2h1.6v1.6h-1.6zM469.8 233.9h1.6v1.6h-1.6zM470.1 223.3h1.6v1.6h-1.6zM470.3 226.9h1.6v1.6h-1.6zM470.5 226.0h1.6v1.6h-1.6zM470.7 227.0h1.6v1.6h-1.6zM470.9 220.9h1.6v1.6h-1.6zM471.2 220.3h1.6v1.6h-1.6zM471.4 223.7h1.6v1.6h-1.6zM471.6 222.3h1.6v1.6h-1.6zM471.8 225.1h1.6v1.6h-1.6zM472.0 224.2h1.6v1.6h-1.6zM472.3 227.4h1.6v1.6h-1.6zM472.5 224.6h1.6v1.6h-1.6zM472.7 227.3h1.6v1.6h-1.6zM472.9 223.4h1.6v1.6h-1.6zM473.1 221.8h1.6v1.6h-1.6zM473.4 223.6h1.6v1.6h-1.6zM473.6 220.6h1.6v1.6h-1.6zM473.8 215.2h1.6v1.6h-1.6zM474.0 232.2h1.6v1.6h-1.6zM474.2 224.7h1.6v1.6h-1.6zM474.5 226.8h1.6v1.6h-1.6zM474.7 226.4h1.6v1.6h-1.6zM474.9 229.6h1.6v1.6h-1.6zM475.1 224.6h1.6v1.6h-1.6zM475.3 225.7h1.6v1.6h-1.6zM475.6 227.0h1.6v1.6h-1.6zM475.8 225.7h1.6v1.6h-1.6zM476.0 226.9h1.6v1.6h-1.6zM476.2 233.1h1.6v1.6h-1.6zM476.4 221.0h1.6v1.6h-1.6zM476.7 225.9h1.6v1.6h-1.6zM476.9 228.1h1.6v1.6h-1.6zM477.1 223.7h1.6v1.6h-1.6zM477.3 227.1h1.6v1.6h-1.6zM477.5 232.5h1.6v1.6h-1.6zM477.8 221.7h1.6v1.6h-1.6zM478.0 230.7h1.6v1.6h-1.6zM478.2 225.6h1.6v1.6h-1.6zM478.4 224.4h1.6v1.6h-1.6zM478.7 210.7h1.6v1.6h-1.6zM478.9 220.6h1.6v1.6h-1.6zM479.1 224.2h1.6v1.6h-1.6zM479.3 227.5h1.6v1.6h-1.6zM479.5 226.3h1.6v1.6h-1.6zM479.8 221.0h1.6v1.6h-1.6zM480.0 212.5h1.6v1.6h-1.6zM480.2 222.9h1.6v1.6h-1.6zM480.4 227.1h1.6v1.6h-1.6zM480.6 221.2h1.6v1.6h-1.6zM480.9 226.2h1.6v1.6h-1.6zM481.1 226.3h1.6v1.6h-1.6zM481.3 225.8h1.6v1.6h-1.6zM481.5 222.8h1.6v1.6h-1.6zM481.7 223.9h1.6v1.6h-1.6zM482.0 221.3h1.6v1.6h-1.6zM482.2 220.3h1.6v1.6h-1.6zM482.4 223.0h1.6v1.6h-1.6zM482.6 233.1h1.6v1.6h-1.6zM482.8 230.9h1.6v1.6h-1.6zM483.1 224.3h1.6v1.6h-1.6zM483.3 225.1h1.6v1.6h-1.6zM483.5 217.2h1.6v1.6h-1.6zM483.7 225.0h1.6v1.6h-1.6zM483.9 225.4h1.6v1.6h-1.6zM484.2 221.5h1.6v1.6h-1.6zM484.4 221.1h1.6v1.6h-1.6zM484.6 225.7h1.6v1.6h-1.6zM484.8 223.2h1.6v1.6h-1.6zM485.0 228.9h1.6v1.6h-1.6zM485.3 222.3h1.6v1.6h-1.6zM485.5 220.5h1.6v1.6h-1.6zM485.7 229.9h1.6v1.6h-1.6zM485.9 221.6h1.6v1.6h-1.6zM486.1 222.5h1.6v1.6h-1.6zM486.4 217.6h1.6v1.6h-1.6zM486.6 221.7h1.6v1.6h-1.6zM486.8 216.3h1.6v1.6h-1.6zM487.0 232.5h1.6v1.6h-1.6zM487.2 228.5h1.6v1.6h-1.6zM487.5 227.0h1.6v1.6h-1.6zM487.7 221.7h1.6v1.6h-1.6zM487.9 228.9h1.6v1.6h-1.6zM488.1 227.4h1.6v1.6h-1.6zM488.4 226.2h1.6v1.6h-1.6zM488.6 220.3h1.6v1.6h-1.6zM488.8 230.0h1.6v1.6h-1.6zM489.0 229.7h1.6v1.6h-1.6zM489.2 222.7h1.6v1.6h-1.6zM489.5 232.4h1.6v1.6h-1.6zM489.7 223.8h1.6v1.6h-1.6zM489.9 226.5h1.6v1.6h-1.6zM490.1 230.5h1.6v1.6h-1.6zM490.3 218.4h1.6v1.6h-1.6zM490.6 228.5h1.6v1.6h-1.6zM490.8 224.4h1.6v1.6h-1.6zM491.0 223.7h1.6v1.6h-1.6zM491.2 219.7h1.6v1.6h-1.6zM491.4 225.0h1.6v1.6h-1.6zM491.7 224.6h1.6v1.6h-1.6zM491.9 227.0h1.6v1.6h-1.6zM492.1 225.0h1.6v1.6h-1.6zM492.3 221.3h1.6v1.6h-1.6zM492.5 231.8h1.6v1.6h-1.6zM492.8 222.6h1.6v1.6h-1.6zM493.0 226.9h1.6v1.6h-1.6zM493.2 224.7h1.6v1.6h-1.6zM493.4 223.8h1.6v1.6h-1.6zM493.6 222.0h1.6v1.6h-1.6zM493.9 224.1h1.6v1.6h-1.6zM494.1 226.4h1.6v1.6h-1.6zM494.3 223.9h1.6v1.6h-1.6zM494.5 224.9h1.6v1.6h-1.6zM494.7 225.7h1.6v1.6h-1.6zM495.0 201.2h1.6v1.6h-1.6zM495.2 216.2h1.6v1.6h-1.6zM495.4 224.5h1.6v1.6h-1.6zM495.6 224.4h1.6v1.6h-1.6zM495.8 229.6h1.6v1.6h-1.6zM496.1 218.3h1.6v1.6h-1.6zM496.3 231.6h1.6v1.6h-1.6zM496.5 222.5h1.6v1.6h-1.6zM496.7 228.3h1.6v1.6h-1.6zM496.9 220.4h1.6v1.6h-1.6zM497.2 214.4h1.6v1.6h-1.6zM497.4 226.4h1.6v1.6h-1.6zM497.6 220.3h1.6v1.6h-1.6zM497.8 223.6h1.6v1.6h-1.6zM498.1 227.0h1.6v1.6h-1.6zM498.3 228.0h1.6v1.6h-1.6zM498.5 223.0h1.6v1.6h-1.6zM498.7 220.1h1.6v1.6h-1.6zM498.9 223.8h1.6v1.6h-1.6zM499.2 230.4h1.6v1.6h-1.6zM499.4 228.7h1.6v1.6h-1.6zM499.6 225.8h1.6v1.6h-1.6zM499.8 220.2h1.6v1.6h-1.6zM500.0 224.0h1.6v1.6h-1.6zM500.3 223.9h1.6v1.6h-1.6zM500.5 220.8h1.6v1.6h-1.6zM500.7 225.8h1.6v1.6h-1.6zM500.9 225.4h1.6v1.6h-1.6zM501.1 217.0h1.6v1.6h-1.6zM501.4 231.3h1.6v1.6h-1.6zM501.6 223.4h1.6v1.6h-1.6zM501.8 223.6h1.6v1.6h-1.6zM502.0 221.6h1.6v1.6h-1.6zM502.2 229.3h1.6v1.6h-1.6zM502.5 224.2h1.6v1.6h-1.6zM502.7 221.8h1.6v1.6h-1.6zM502.9 220.0h1.6v1.6h-1.6zM503.1 220.2h1.6v1.6h-1.6zM503.3 228.1h1.6v1.6h-1.6zM503.6 224.4h1.6v1.6h-1.6zM503.8 227.5h1.6v1.6h-1.6zM504.0 224.0h1.6v1.6h-1.6zM504.2 226.8h1.6v1.6h-1.6zM504.4 216.2h1.6v1.6h-1.6zM504.7 221.3h1.6v1.6h-1.6zM504.9 222.7h1.6v1.6h-1.6zM505.1 231.5h1.6v1.6h-1.6zM505.3 221.8h1.6v1.6h-1.6zM505.5 223.5h1.6v1.6h-1.6zM505.8 228.8h1.6v1.6h-1.6zM506.0 228.2h1.6v1.6h-1.6zM506.2 225.1h1.6v1.6h-1.6zM506.4 223.1h1.6v1.6h-1.6zM506.6 226.7h1.6v1.6h-1.6zM506.9 230.9h1.6v1.6h-1.6zM507.1 224.1h1.6v1.6h-1.6zM507.3 224.5h1.6v1.6h-1.6zM507.5 216.5h1.6v1.6h-1.6zM507.8 229.7h1.6v1.6h-1.6zM508.0 216.2h1.6v1.6h-1.6zM508.2 219.0h1.6v1.6h-1.6zM508.4 224.1h1.6v1.6h-1.6zM508.6 219.3h1.6v1.6h-1.6zM508.9 224.8h1.6v1.6h-1.6zM509.1 221.7h1.6v1.6h-1.6zM509.3 227.7h1.6v1.6h-1.6zM509.5 224.9h1.6v1.6h-1.6zM509.7 228.7h1.6v1.6h-1.6zM510.0 230.7h1.6v1.6h-1.6zM510.2 226.1h1.6v1.6h-1.6zM510.4 227.5h1.6v1.6h-1.6zM510.6 223.1h1.6v1.6h-1.6zM510.8 220.7h1.6v1.6h-1.6zM511.1 225.8h1.6v1.6h-1.6zM511.3 224.9h1.6v1.6h-1.6zM511.5 224.5h1.6v1.6h-1.6zM511.7 231.1h1.6v1.6h-1.6zM511.9 224.2h1.6v1.6h-1.6zM512.2 225.1h1.6v1.6h-1.6zM512.4 225.3h1.6v1.6h-1.6z" fill="#1a6ec0"/>
<line x1="303.70" y1="148.90" x2="303.70" y2="247.65" stroke="#444" stroke-width="1" />
<line x1="303.20" y1="247.15" x2="524.70" y2="247.15" stroke="#444" stroke-width="1" />
<line x1="303.70" y1="227.50" x2="306.00" y2="227.50" stroke="#444" stroke-width="1" />
<text x="299.00" y="230.50" font-size="8.5" text-anchor="end" font-weight="normal" font-style="normal" fill="#222" >0</text>
<line x1="303.70" y1="188.20" x2="306.00" y2="188.20" stroke="#444" stroke-width="1" />
<text x="299.00" y="191.20" font-size="8.5" text-anchor="end" font-weight="normal" font-style="normal" fill="#222" >1</text>
<line x1="303.70" y1="148.90" x2="306.00" y2="148.90" stroke="#444" stroke-width="1" />
<text x="299.00" y="151.90" font-size="8.5" text-anchor="end" font-weight="normal" font-style="normal" fill="#222" >2</text>
<line x1="315.00" y1="247.15" x2="315.00" y2="244.75" stroke="#444" stroke-width="1" />
<text x="315.00" y="257.75" font-size="8.5" text-anchor="middle" font-weight="normal" font-style="normal" fill="#222" >0</text>
<line x1="381.13" y1="247.15" x2="381.13" y2="244.75" stroke="#444" stroke-width="1" />
<text x="381.13" y="257.75" font-size="8.5" text-anchor="middle" font-weight="normal" font-style="normal" fill="#222" >300</text>
<line x1="447.27" y1="247.15" x2="447.27" y2="244.75" stroke="#444" stroke-width="1" />
<text x="447.27" y="257.75" font-size="8.5" text-anchor="middle" font-weight="normal" font-style="normal" fill="#222" >600</text>
<line x1="513.40" y1="247.15" x2="513.40" y2="244.75" stroke="#444" stroke-width="1" />
<text x="513.40" y="257.75" font-size="8.5" text-anchor="middle" font-weight="normal" font-style="normal" fill="#222" >900</text>
<text x="414.00" y="271.55" font-size="9" text-anchor="middle" font-weight="normal" font-style="normal" fill="#222" >Stimulus rank</text>
<text transform="translate(286.5,197.8) rotate(-90)" font-size="8.2" font-style="italic" text-anchor="middle" fill="#222">ΔF/F</text>
<text x="337.60" y="154.70" font-size="9" text-anchor="start" font-weight="normal" font-style="normal" fill="#222" >ROI 129</text>
<text x="510.80" y="171.00" font-size="8.2" text-anchor="end" font-weight="normal" font-style="normal" fill="#222" >Correlation = 0.49</text>
<line x1="404.00" y1="21.20" x2="417.00" y2="21.20" stroke="#f01818" stroke-width="1.7" />
<text x="422.80" y="24.00" font-size="8.2" text-anchor="start" font-weight="normal" font-style="normal" fill="#222" >Scaled cortical response</text>
<defs><linearGradient id="hl" x1="0" x2="1" y1="0" y2="0"><stop offset="0" stop-color="#f2a26a" stop-opacity="0.45"/><stop offset="0.035" stop-color="#f5b07c" stop-opacity="0.3"/><stop offset="0.08" stop-color="#f8c898" stop-opacity="0.1"/><stop offset="0.25" stop-color="#fbdcb4" stop-opacity="0.03"/><stop offset="1" stop-color="#fde8c8" stop-opacity="0"/></linearGradient><linearGradient id="cb" x1="0" x2="0" y1="0" y2="1"><stop offset="0" stop-color="#a50f15"/><stop offset="0.2" stop-color="#e34a1f"/><stop offset="0.38" stop-color="#fdae61"/><stop offset="0.5" stop-color="#fffde8"/><stop offset="0.62" stop-color="#abd9e9"/><stop offset="0.8" stop-color="#4a4aa0"/><stop offset="1" stop-color="#12082e"/></linearGradient></defs>
<rect x="314.30" y="295.60" width="200.30" height="97.80" fill="#fffaee" />
<rect x="314.30" y="295.60" width="200.30" height="97.80" fill="url(#hl)" />
<path d="M320.2 295.6V393.4M322.0 295.6V393.4M325.6 295.6V393.4M332.8 295.6V393.4M334.6 295.6V393.4M336.4 295.6V393.4M350.8 295.6V393.4M352.6 295.6V393.4M356.2 295.6V393.4M358.0 295.6V393.4M370.6 295.6V393.4M372.4 295.6V393.4M374.2 295.6V393.4M377.8 295.6V393.4M381.4 295.6V393.4M385.0 295.6V393.4M386.8 295.6V393.4M397.6 295.6V393.4M408.4 295.6V393.4M412.0 295.6V393.4M413.8 295.6V393.4M428.2 295.6V393.4M431.8 295.6V393.4M435.4 295.6V393.4M439.0 295.6V393.4M442.6 295.6V393.4M448.0 295.6V393.4M457.0 295.6V393.4M458.8 295.6V393.4M464.2 295.6V393.4M475.0 295.6V393.4M476.8 295.6V393.4M484.0 295.6V393.4M487.6 295.6V393.4M491.2 295.6V393.4M493.0 295.6V393.4M503.8 295.6V393.4" stroke="#fbdcb0" stroke-width="0.8" stroke-opacity="0.4" fill="none"/>
<path d="M314.3 297.9H514.6M314.3 301.5H514.6M314.3 306.9H514.6M314.3 312.3H514.6M314.3 321.3H514.6M314.3 323.1H514.6M314.3 326.7H514.6M314.3 335.7H514.6M314.3 359.1H514.6M314.3 366.3H514.6M314.3 380.7H514.6M314.3 382.5H514.6M314.3 384.3H514.6M314.3 389.7H514.6" stroke="#fbdcb0" stroke-width="0.8" stroke-opacity="0.3" fill="none"/>
<path d="M423.7 359.1h1v1h-1zM365.4 388.2h1v1h-1zM396.9 356.1h1v1h-1zM432.3 313.3h1v1h-1zM322.4 335.2h1v1h-1zM460.2 374.1h1v1h-1zM452.7 306.5h1v1h-1zM493.4 372.8h1v1h-1zM485.4 346.0h1v1h-1zM493.9 300.1h1v1h-1zM317.9 297.5h1v1h-1zM355.2 319.5h1v1h-1zM343.3 350.2h1v1h-1zM319.1 352.5h1v1h-1zM339.5 360.9h1v1h-1zM316.6 325.5h1v1h-1zM499.1 347.4h1v1h-1zM470.7 359.0h1v1h-1zM427.1 314.0h1v1h-1zM419.4 299.4h1v1h-1zM468.5 388.1h1v1h-1zM480.1 300.5h1v1h-1zM371.5 326.2h1v1h-1zM330.5 355.9h1v1h-1zM467.5 325.8h1v1h-1zM482.1 372.4h1v1h-1zM333.2 369.4h1v1h-1zM486.5 314.6h1v1h-1zM419.2 357.1h1v1h-1zM426.8 304.9h1v1h-1zM437.8 356.5h1v1h-1zM473.4 373.0h1v1h-1zM369.3 365.1h1v1h-1zM483.1 381.6h1v1h-1zM338.7 298.2h1v1h-1zM435.6 316.3h1v1h-1zM417.1 386.6h1v1h-1zM379.5 319.9h1v1h-1zM395.0 358.9h1v1h-1zM328.6 332.3h1v1h-1zM334.0 359.4h1v1h-1zM474.9 331.9h1v1h-1zM378.0 347.6h1v1h-1zM348.3 319.4h1v1h-1zM369.8 339.7h1v1h-1zM325.4 368.1h1v1h-1zM420.4 324.5h1v1h-1zM324.8 369.1h1v1h-1zM333.5 308.4h1v1h-1zM333.4 303.4h1v1h-1zM491.9 321.5h1v1h-1zM365.3 375.8h1v1h-1zM429.0 313.6h1v1h-1zM390.6 380.7h1v1h-1zM378.7 364.1h1v1h-1zM327.9 365.6h1v1h-1zM462.9 375.1h1v1h-1zM440.6 331.3h1v1h-1zM322.8 345.6h1v1h-1zM458.7 314.0h1v1h-1zM357.7 347.2h1v1h-1zM456.7 381.9h1v1h-1zM332.6 313.3h1v1h-1zM468.0 357.7h1v1h-1zM450.8 391.6h1v1h-1zM499.3 376.8h1v1h-1zM463.1 333.6h1v1h-1zM433.6 313.4h1v1h-1zM459.2 368.6h1v1h-1zM450.8 338.4h1v1h-1zM379.3 336.0h1v1h-1zM318.3 376.9h1v1h-1zM412.7 332.9h1v1h-1zM413.8 365.1h1v1h-1zM379.9 375.6h1v1h-1zM494.8 332.9h1v1h-1zM334.7 368.8h1v1h-1zM511.5 309.9h1v1h-1zM449.0 375.1h1v1h-1zM495.1 307.5h1v1h-1zM327.1 390.7h1v1h-1zM331.1 312.6h1v1h-1zM419.5 338.6h1v1h-1zM457.2 314.0h1v1h-1zM493.7 316.5h1v1h-1zM461.3 302.1h1v1h-1zM398.4 298.7h1v1h-1zM366.7 325.7h1v1h-1zM450.5 339.4h1v1h-1zM321.6 391.5h1v1h-1zM487.9 383.8h1v1h-1zM354.0 333.6h1v1h-1zM350.5 307.6h1v1h-1zM318.2 344.1h1v1h-1zM332.2 312.6h1v1h-1zM481.5 342.2h1v1h-1zM342.6 360.1h1v1h-1zM357.6 346.3h1v1h-1zM360.8 345.3h1v1h-1zM430.8 347.2h1v1h-1zM382.7 371.8h1v1h-1zM484.5 312.9h1v1h-1zM334.4 306.5h1v1h-1zM508.4 386.3h1v1h-1zM351.1 389.0h1v1h-1zM346.9 344.4h1v1h-1zM403.3 383.7h1v1h-1zM319.3 326.0h1v1h-1zM424.8 302.0h1v1h-1zM352.2 340.4h1v1h-1zM486.1 368.9h1v1h-1zM474.5 368.9h1v1h-1zM447.9 377.4h1v1h-1zM442.2 366.4h1v1h-1zM364.4 311.7h1v1h-1zM458.5 311.6h1v1h-1zM494.8 353.1h1v1h-1zM369.7 385.8h1v1h-1zM337.6 345.1h1v1h-1zM327.0 388.6h1v1h-1zM419.6 373.0h1v1h-1zM360.7 372.8h1v1h-1zM446.8 357.6h1v1h-1zM501.8 337.3h1v1h-1zM386.6 362.3h1v1h-1zM475.9 327.9h1v1h-1zM439.7 315.7h1v1h-1zM414.6 369.7h1v1h-1zM322.9 365.7h1v1h-1zM315.9 387.9h1v1h-1zM397.5 335.0h1v1h-1zM450.7 346.0h1v1h-1zM452.9 303.8h1v1h-1zM416.9 349.3h1v1h-1zM497.7 299.4h1v1h-1zM394.2 356.4h1v1h-1zM414.4 302.7h1v1h-1zM423.3 317.0h1v1h-1zM344.7 380.2h1v1h-1zM345.1 339.3h1v1h-1zM457.2 363.7h1v1h-1zM415.0 373.3h1v1h-1zM396.9 355.3h1v1h-1zM472.3 360.9h1v1h-1zM433.7 334.7h1v1h-1zM416.0 333.7h1v1h-1zM455.9 332.2h1v1h-1zM397.0 368.4h1v1h-1zM404.6 328.2h1v1h-1zM474.0 332.3h1v1h-1zM478.0 371.2h1v1h-1zM393.1 364.3h1v1h-1zM318.4 333.1h1v1h-1zM481.5 351.4h1v1h-1zM415.9 359.6h1v1h-1zM441.4 351.8h1v1h-1zM387.7 313.3h1v1h-1zM362.7 323.8h1v1h-1zM389.8 391.8h1v1h-1zM374.2 338.7h1v1h-1zM378.0 351.6h1v1h-1zM501.2 381.2h1v1h-1zM379.1 321.3h1v1h-1zM486.9 343.2h1v1h-1zM443.1 302.7h1v1h-1zM482.9 325.7h1v1h-1zM402.8 314.7h1v1h-1zM387.7 375.3h1v1h-1zM474.2 341.2h1v1h-1zM461.0 339.7h1v1h-1zM378.3 348.2h1v1h-1zM345.8 326.1h1v1h-1zM447.6 369.8h1v1h-1zM321.6 366.2h1v1h-1zM472.0 338.5h1v1h-1zM322.5 361.4h1v1h-1zM354.0 357.6h1v1h-1zM379.0 357.0h1v1h-1zM356.2 341.5h1v1h-1zM409.0 356.4h1v1h-1zM346.1 388.2h1v1h-1zM362.0 325.1h1v1h-1zM355.8 302.1h1v1h-1zM388.2 369.9h1v1h-1zM448.3 314.4h1v1h-1zM334.5 326.6h1v1h-1zM461.1 342.6h1v1h-1zM495.6 358.8h1v1h-1zM429.2 369.5h1v1h-1zM457.2 328.7h1v1h-1zM356.0 337.7h1v1h-1zM401.7 309.2h1v1h-1zM391.9 357.2h1v1h-1zM334.3 308.9h1v1h-1zM340.9 322.9h1v1h-1zM504.4 298.1h1v1h-1zM342.6 311.5h1v1h-1zM398.6 297.1h1v1h-1zM395.3 311.3h1v1h-1zM358.3 371.9h1v1h-1zM342.7 355.0h1v1h-1zM384.9 335.8h1v1h-1zM471.8 311.1h1v1h-1zM495.8 381.6h1v1h-1zM439.4 300.4h1v1h-1zM438.3 353.4h1v1h-1zM462.0 316.2h1v1h-1zM502.5 380.9h1v1h-1zM330.7 326.0h1v1h-1zM318.2 375.6h1v1h-1zM493.8 390.9h1v1h-1zM427.3 359.7h1v1h-1zM441.5 350.5h1v1h-1zM502.3 354.1h1v1h-1zM371.0 345.0h1v1h-1zM316.3 365.3h1v1h-1zM444.9 336.1h1v1h-1zM479.5 368.4h1v1h-1zM371.1 303.1h1v1h-1zM333.7 313.3h1v1h-1zM364.8 338.7h1v1h-1zM496.7 322.4h1v1h-1zM490.1 361.1h1v1h-1zM480.0 334.4h1v1h-1zM314.6 371.4h1v1h-1zM353.8 309.3h1v1h-1zM468.0 361.7h1v1h-1zM347.8 321.4h1v1h-1zM499.3 321.5h1v1h-1zM446.7 308.1h1v1h-1zM471.4 306.9h1v1h-1zM407.2 299.0h1v1h-1zM414.3 377.1h1v1h-1zM325.9 322.0h1v1h-1zM460.3 354.2h1v1h-1zM366.5 356.2h1v1h-1zM394.6 378.6h1v1h-1zM362.7 368.6h1v1h-1zM432.4 366.9h1v1h-1zM379.3 365.4h1v1h-1zM445.9 332.9h1v1h-1zM317.3 388.3h1v1h-1zM449.2 315.3h1v1h-1zM452.9 322.4h1v1h-1zM397.6 378.4h1v1h-1zM393.3 323.3h1v1h-1zM365.1 303.0h1v1h-1zM349.1 321.7h1v1h-1zM340.7 301.7h1v1h-1zM396.9 316.2h1v1h-1zM454.6 384.4h1v1h-1zM359.0 350.7h1v1h-1zM405.3 302.8h1v1h-1zM332.5 380.8h1v1h-1zM398.6 373.1h1v1h-1zM323.1 352.9h1v1h-1zM482.6 379.1h1v1h-1zM314.8 345.8h1v1h-1zM377.5 368.8h1v1h-1zM324.1 321.1h1v1h-1zM470.9 340.8h1v1h-1zM394.3 388.9h1v1h-1zM367.9 299.6h1v1h-1zM382.1 310.4h1v1h-1zM325.5 350.3h1v1h-1zM502.5 351.4h1v1h-1zM434.8 326.8h1v1h-1zM418.7 368.0h1v1h-1zM422.5 372.9h1v1h-1zM414.4 314.7h1v1h-1zM421.1 342.9h1v1h-1zM339.5 355.2h1v1h-1zM471.9 308.6h1v1h-1zM413.2 366.3h1v1h-1zM384.2 321.6h1v1h-1zM378.1 347.8h1v1h-1zM443.3 349.4h1v1h-1zM329.5 374.4h1v1h-1zM495.8 305.4h1v1h-1zM354.6 312.3h1v1h-1zM479.0 383.3h1v1h-1zM319.8 327.6h1v1h-1zM344.2 340.8h1v1h-1zM495.3 302.4h1v1h-1zM340.4 342.5h1v1h-1zM408.9 367.4h1v1h-1zM391.2 309.2h1v1h-1zM374.4 390.2h1v1h-1zM457.3 306.8h1v1h-1zM469.9 325.5h1v1h-1zM464.0 296.8h1v1h-1zM484.0 311.2h1v1h-1zM394.8 359.3h1v1h-1zM405.5 311.5h1v1h-1zM334.9 323.0h1v1h-1zM321.0 316.5h1v1h-1zM333.3 340.4h1v1h-1zM375.0 352.1h1v1h-1zM360.5 298.9h1v1h-1zM370.1 368.3h1v1h-1zM355.8 334.6h1v1h-1zM458.2 334.8h1v1h-1zM487.5 384.0h1v1h-1zM366.1 366.5h1v1h-1zM355.2 309.0h1v1h-1zM391.2 353.6h1v1h-1zM498.4 309.7h1v1h-1zM448.9 341.4h1v1h-1zM333.6 389.3h1v1h-1zM445.3 308.0h1v1h-1zM491.7 305.5h1v1h-1zM327.2 327.5h1v1h-1zM499.0 298.8h1v1h-1zM494.5 354.5h1v1h-1zM323.2 350.4h1v1h-1zM395.4 349.9h1v1h-1zM454.3 361.0h1v1h-1zM512.5 310.7h1v1h-1zM471.0 335.2h1v1h-1zM464.4 381.5h1v1h-1zM511.3 321.2h1v1h-1zM394.3 386.4h1v1h-1zM500.7 331.5h1v1h-1zM499.5 334.7h1v1h-1zM378.6 368.5h1v1h-1zM398.0 338.8h1v1h-1zM380.8 337.3h1v1h-1zM335.0 301.5h1v1h-1zM458.0 350.0h1v1h-1zM440.1 372.9h1v1h-1zM351.0 318.1h1v1h-1zM359.9 324.9h1v1h-1zM459.4 331.6h1v1h-1zM368.5 356.9h1v1h-1zM343.1 305.8h1v1h-1zM445.6 368.4h1v1h-1zM363.4 356.9h1v1h-1zM318.4 334.5h1v1h-1zM420.1 320.0h1v1h-1zM373.4 354.3h1v1h-1zM422.6 310.4h1v1h-1zM447.6 303.3h1v1h-1zM506.2 315.1h1v1h-1zM355.3 314.9h1v1h-1zM511.2 323.2h1v1h-1zM425.9 391.0h1v1h-1zM501.7 299.7h1v1h-1zM408.3 353.5h1v1h-1zM446.7 327.9h1v1h-1zM369.4 296.0h1v1h-1zM318.5 348.6h1v1h-1zM324.5 315.1h1v1h-1zM370.5 302.4h1v1h-1zM317.9 384.9h1v1h-1zM390.7 315.3h1v1h-1zM448.0 296.5h1v1h-1zM353.7 388.1h1v1h-1zM489.9 356.8h1v1h-1zM327.3 326.2h1v1h-1zM317.5 316.7h1v1h-1zM317.2 307.7h1v1h-1zM431.8 305.3h1v1h-1zM337.7 382.5h1v1h-1zM370.9 327.7h1v1h-1zM326.2 372.2h1v1h-1zM441.1 348.3h1v1h-1zM428.6 305.3h1v1h-1zM356.6 351.8h1v1h-1zM502.2 374.3h1v1h-1zM433.4 345.6h1v1h-1zM315.9 381.4h1v1h-1zM323.2 308.0h1v1h-1zM444.7 373.8h1v1h-1zM465.1 339.2h1v1h-1zM341.4 299.0h1v1h-1zM479.5 389.8h1v1h-1zM353.6 379.0h1v1h-1zM384.1 325.6h1v1h-1zM404.9 296.4h1v1h-1zM392.2 314.8h1v1h-1zM448.9 344.0h1v1h-1zM483.4 381.9h1v1h-1zM367.3 322.6h1v1h-1zM499.2 344.1h1v1h-1zM327.8 300.0h1v1h-1zM510.9 351.4h1v1h-1zM321.3 344.8h1v1h-1zM404.7 337.5h1v1h-1zM502.0 387.0h1v1h-1zM332.5 310.2h1v1h-1zM385.1 375.9h1v1h-1zM429.8 365.9h1v1h-1zM419.7 315.8h1v1h-1zM472.0 297.0h1v1h-1zM445.9 314.3h1v1h-1zM398.0 389.5h1v1h-1zM412.0 301.1h1v1h-1zM389.4 359.2h1v1h-1zM321.6 319.9h1v1h-1zM316.3 347.6h1v1h-1zM379.9 344.1h1v1h-1zM363.3 358.9h1v1h-1zM340.7 382.9h1v1h-1zM504.0 343.1h1v1h-1zM396.8 378.4h1v1h-1zM362.2 372.9h1v1h-1zM361.7 364.9h1v1h-1zM370.6 353.6h1v1h-1zM496.2 300.8h1v1h-1zM469.7 347.8h1v1h-1zM379.5 329.3h1v1h-1zM323.5 320.5h1v1h-1zM429.7 305.0h1v1h-1zM439.6 388.3h1v1h-1zM508.7 381.2h1v1h-1zM469.6 312.7h1v1h-1zM506.3 315.1h1v1h-1zM483.5 380.1h1v1h-1zM429.4 345.8h1v1h-1zM345.6 345.6h1v1h-1zM362.3 307.7h1v1h-1zM333.0 372.8h1v1h-1zM495.5 309.3h1v1h-1zM315.7 321.0h1v1h-1zM334.1 313.8h1v1h-1zM421.3 336.3h1v1h-1zM389.5 315.4h1v1h-1zM438.6 323.5h1v1h-1zM383.4 340.2h1v1h-1zM491.4 319.3h1v1h-1zM450.3 325.4h1v1h-1zM489.2 333.5h1v1h-1zM404.9 380.1h1v1h-1zM440.3 304.7h1v1h-1zM334.5 391.0h1v1h-1zM317.7 324.6h1v1h-1zM503.7 297.1h1v1h-1zM338.7 316.1h1v1h-1zM326.2 341.0h1v1h-1zM423.2 326.3h1v1h-1zM329.8 373.7h1v1h-1zM469.1 349.7h1v1h-1zM334.6 347.8h1v1h-1zM431.1 336.8h1v1h-1zM482.3 333.2h1v1h-1zM406.1 306.6h1v1h-1zM417.1 369.4h1v1h-1zM453.0 320.3h1v1h-1zM511.2 364.9h1v1h-1zM388.4 335.6h1v1h-1zM463.5 312.5h1v1h-1zM433.2 364.8h1v1h-1zM407.3 379.7h1v1h-1zM397.5 340.4h1v1h-1zM361.2 384.1h1v1h-1zM367.2 362.6h1v1h-1zM385.5 385.7h1v1h-1zM501.2 298.5h1v1h-1zM511.9 353.9h1v1h-1zM324.2 343.5h1v1h-1zM320.6 348.5h1v1h-1zM342.9 331.0h1v1h-1zM365.0 353.6h1v1h-1zM473.1 385.8h1v1h-1zM369.6 350.5h1v1h-1zM314.8 331.4h1v1h-1zM504.1 307.0h1v1h-1zM483.6 358.4h1v1h-1zM362.9 370.5h1v1h-1zM362.0 381.8h1v1h-1zM325.6 307.1h1v1h-1zM457.1 338.9h1v1h-1zM336.3 345.0h1v1h-1zM363.5 348.5h1v1h-1zM455.7 378.1h1v1h-1zM322.0 352.6h1v1h-1zM509.4 339.9h1v1h-1zM461.4 305.0h1v1h-1zM484.5 351.7h1v1h-1zM487.8 371.4h1v1h-1zM483.5 301.1h1v1h-1zM449.6 314.6h1v1h-1zM357.6 326.9h1v1h-1zM422.9 356.1h1v1h-1zM497.5 296.8h1v1h-1zM344.4 330.5h1v1h-1zM472.1 348.6h1v1h-1zM406.4 368.8h1v1h-1zM436.5 323.5h1v1h-1zM326.3 340.1h1v1h-1zM486.0 353.2h1v1h-1zM321.1 338.0h1v1h-1zM380.6 351.7h1v1h-1zM422.1 387.2h1v1h-1zM371.4 334.9h1v1h-1zM427.6 381.0h1v1h-1zM447.5 340.9h1v1h-1zM471.3 342.3h1v1h-1zM504.8 322.8h1v1h-1zM332.9 375.6h1v1h-1zM363.6 377.2h1v1h-1zM426.8 344.6h1v1h-1zM326.3 371.3h1v1h-1zM323.0 388.5h1v1h-1zM485.2 324.8h1v1h-1zM333.0 380.9h1v1h-1zM399.7 307.6h1v1h-1zM403.6 319.4h1v1h-1zM385.2 357.3h1v1h-1zM493.9 372.7h1v1h-1zM338.6 341.6h1v1h-1zM402.2 390.9h1v1h-1zM326.3 344.8h1v1h-1zM493.7 334.0h1v1h-1zM356.9 349.1h1v1h-1zM367.9 384.9h1v1h-1zM325.9 315.5h1v1h-1zM325.8 364.2h1v1h-1zM362.8 382.3h1v1h-1zM489.0 385.8h1v1h-1zM355.8 295.7h1v1h-1zM381.1 388.3h1v1h-1zM460.1 301.3h1v1h-1zM446.8 383.9h1v1h-1zM505.7 364.5h1v1h-1zM482.1 376.7h1v1h-1zM375.4 305.1h1v1h-1zM452.2 308.8h1v1h-1zM380.5 391.5h1v1h-1zM416.3 345.8h1v1h-1zM501.2 323.0h1v1h-1zM513.0 383.4h1v1h-1zM376.5 327.1h1v1h-1zM332.8 383.8h1v1h-1zM343.0 296.5h1v1h-1zM488.2 353.2h1v1h-1zM440.1 366.2h1v1h-1zM319.6 304.4h1v1h-1zM403.9 300.4h1v1h-1zM404.8 366.5h1v1h-1zM437.0 355.0h1v1h-1zM320.1 318.4h1v1h-1zM489.9 307.5h1v1h-1zM410.8 300.4h1v1h-1zM499.3 312.1h1v1h-1zM385.6 348.3h1v1h-1zM450.3 385.9h1v1h-1zM454.1 329.1h1v1h-1zM324.5 363.7h1v1h-1zM506.8 297.2h1v1h-1zM462.5 312.6h1v1h-1zM395.7 345.9h1v1h-1zM427.8 390.9h1v1h-1zM443.5 333.4h1v1h-1zM449.5 340.5h1v1h-1zM386.2 330.8h1v1h-1zM402.5 322.7h1v1h-1zM353.2 309.9h1v1h-1zM391.7 323.8h1v1h-1zM476.3 377.3h1v1h-1zM372.5 355.2h1v1h-1zM490.9 330.2h1v1h-1zM415.2 338.3h1v1h-1zM435.5 388.0h1v1h-1zM334.8 388.6h1v1h-1zM438.8 372.2h1v1h-1zM432.3 379.4h1v1h-1zM369.1 363.8h1v1h-1zM357.3 344.6h1v1h-1zM442.2 315.0h1v1h-1zM322.3 371.8h1v1h-1zM470.1 359.7h1v1h-1zM368.2 359.0h1v1h-1zM325.8 359.4h1v1h-1zM419.8 355.0h1v1h-1zM393.1 317.3h1v1h-1zM451.8 340.3h1v1h-1zM456.1 330.7h1v1h-1zM326.4 347.8h1v1h-1zM429.6 384.4h1v1h-1zM487.7 301.1h1v1h-1zM461.9 320.8h1v1h-1zM445.6 332.1h1v1h-1zM368.3 342.6h1v1h-1zM410.2 362.5h1v1h-1zM432.8 360.9h1v1h-1zM380.4 360.8h1v1h-1zM372.8 354.1h1v1h-1zM395.6 349.8h1v1h-1zM316.2 343.6h1v1h-1zM349.1 332.8h1v1h-1zM324.2 358.9h1v1h-1zM489.0 329.7h1v1h-1zM329.2 355.3h1v1h-1zM332.8 381.5h1v1h-1zM332.1 330.4h1v1h-1zM402.8 307.0h1v1h-1zM367.7 322.1h1v1h-1zM449.1 390.6h1v1h-1zM376.3 371.7h1v1h-1zM335.1 351.4h1v1h-1zM390.2 323.4h1v1h-1zM472.9 367.5h1v1h-1zM334.0 323.8h1v1h-1zM472.4 391.2h1v1h-1zM427.2 379.5h1v1h-1zM509.5 366.9h1v1h-1zM434.3 316.9h1v1h-1zM377.7 355.6h1v1h-1zM496.4 324.7h1v1h-1zM382.7 297.7h1v1h-1zM445.5 338.3h1v1h-1zM467.6 318.1h1v1h-1zM437.5 360.4h1v1h-1zM396.6 313.8h1v1h-1zM384.2 367.3h1v1h-1zM343.6 304.3h1v1h-1zM396.3 318.2h1v1h-1zM468.2 374.3h1v1h-1zM500.6 376.5h1v1h-1zM434.9 313.6h1v1h-1zM473.2 365.7h1v1h-1zM456.4 362.8h1v1h-1zM474.8 324.3h1v1h-1zM440.3 345.4h1v1h-1zM371.4 327.1h1v1h-1zM337.7 342.9h1v1h-1zM377.4 336.2h1v1h-1zM479.6 361.2h1v1h-1zM441.9 390.4h1v1h-1zM348.8 344.5h1v1h-1zM327.2 333.4h1v1h-1zM501.8 303.9h1v1h-1zM458.8 378.9h1v1h-1zM405.7 372.4h1v1h-1zM391.8 329.6h1v1h-1zM405.1 314.4h1v1h-1zM365.5 325.0h1v1h-1zM510.5 327.9h1v1h-1zM350.8 386.1h1v1h-1zM334.8 388.6h1v1h-1zM479.9 357.9h1v1h-1zM389.2 314.6h1v1h-1zM329.4 305.6h1v1h-1zM373.6 334.8h1v1h-1zM495.8 347.2h1v1h-1zM511.0 365.0h1v1h-1zM336.1 348.9h1v1h-1zM338.4 299.4h1v1h-1zM500.3 328.1h1v1h-1zM343.7 305.4h1v1h-1zM435.9 340.0h1v1h-1zM315.5 364.5h1v1h-1zM355.9 370.8h1v1h-1zM401.5 347.2h1v1h-1zM395.1 360.7h1v1h-1zM510.8 372.4h1v1h-1zM323.5 343.2h1v1h-1zM351.8 305.5h1v1h-1zM344.7 319.5h1v1h-1zM503.9 367.3h1v1h-1zM479.9 362.9h1v1h-1zM367.1 333.3h1v1h-1zM391.8 323.9h1v1h-1zM387.9 369.9h1v1h-1zM324.5 322.2h1v1h-1zM399.6 360.7h1v1h-1zM434.6 365.4h1v1h-1zM329.2 313.0h1v1h-1zM365.8 322.7h1v1h-1zM458.3 391.3h1v1h-1zM442.6 298.8h1v1h-1zM363.6 372.9h1v1h-1zM495.9 352.9h1v1h-1zM373.5 329.8h1v1h-1zM431.9 378.8h1v1h-1zM372.0 314.0h1v1h-1zM314.5 308.8h1v1h-1zM479.5 355.7h1v1h-1zM511.0 302.3h1v1h-1zM376.9 372.2h1v1h-1zM437.8 302.0h1v1h-1zM383.9 357.0h1v1h-1zM443.6 339.1h1v1h-1zM343.4 388.6h1v1h-1zM397.0 364.7h1v1h-1zM411.1 303.4h1v1h-1zM352.2 301.7h1v1h-1zM343.9 314.9h1v1h-1zM386.6 326.6h1v1h-1zM376.2 374.3h1v1h-1zM316.7 305.6h1v1h-1zM469.8 347.0h1v1h-1zM391.4 321.3h1v1h-1zM412.7 316.9h1v1h-1zM481.1 375.0h1v1h-1zM368.3 298.0h1v1h-1zM487.6 324.4h1v1h-1zM436.9 378.2h1v1h-1zM467.7 378.7h1v1h-1zM401.6 376.7h1v1h-1zM395.9 321.0h1v1h-1zM400.0 327.9h1v1h-1zM460.9 375.7h1v1h-1zM335.2 311.4h1v1h-1zM380.4 340.2h1v1h-1zM503.1 386.3h1v1h-1zM505.6 365.9h1v1h-1zM441.3 321.6h1v1h-1zM378.2 295.9h1v1h-1zM475.4 322.2h1v1h-1zM325.1 326.0h1v1h-1zM368.5 365.3h1v1h-1zM314.8 317.8h1v1h-1zM489.6 377.9h1v1h-1zM431.0 349.4h1v1h-1zM349.6 379.9h1v1h-1zM459.5 345.0h1v1h-1zM338.6 316.4h1v1h-1zM379.5 327.5h1v1h-1zM322.3 334.7h1v1h-1zM393.4 323.2h1v1h-1zM380.5 327.6h1v1h-1zM379.0 355.2h1v1h-1zM403.3 314.6h1v1h-1zM467.1 345.0h1v1h-1zM395.4 364.3h1v1h-1zM457.6 377.4h1v1h-1zM470.6 360.0h1v1h-1zM450.8 310.7h1v1h-1zM446.0 320.1h1v1h-1zM356.1 307.2h1v1h-1zM383.0 297.5h1v1h-1zM436.9 367.6h1v1h-1zM462.7 308.0h1v1h-1zM433.5 376.3h1v1h-1zM318.6 314.2h1v1h-1zM358.0 340.1h1v1h-1zM340.6 347.5h1v1h-1zM372.6 358.7h1v1h-1zM410.4 361.7h1v1h-1zM354.0 363.7h1v1h-1zM453.7 365.1h1v1h-1zM323.4 386.7h1v1h-1zM419.9 321.8h1v1h-1zM390.5 345.4h1v1h-1zM407.6 319.5h1v1h-1zM357.5 330.6h1v1h-1zM463.9 337.7h1v1h-1zM319.0 339.1h1v1h-1zM345.8 296.8h1v1h-1zM507.9 323.9h1v1h-1zM411.7 330.1h1v1h-1zM321.1 382.4h1v1h-1zM498.5 313.6h1v1h-1zM387.2 331.6h1v1h-1zM339.7 359.3h1v1h-1zM464.1 368.8h1v1h-1zM440.9 297.3h1v1h-1zM350.9 345.2h1v1h-1zM446.8 332.8h1v1h-1zM393.5 376.6h1v1h-1zM317.0 321.5h1v1h-1zM362.2 391.2h1v1h-1zM350.5 300.1h1v1h-1zM386.9 358.1h1v1h-1zM337.3 376.5h1v1h-1zM344.9 363.4h1v1h-1zM338.8 380.5h1v1h-1zM345.8 366.0h1v1h-1zM476.7 320.2h1v1h-1zM327.2 352.0h1v1h-1zM403.7 341.8h1v1h-1zM464.0 340.2h1v1h-1zM403.3 342.5h1v1h-1zM394.6 334.7h1v1h-1zM338.6 324.0h1v1h-1zM357.4 319.5h1v1h-1zM464.3 306.6h1v1h-1zM346.5 346.3h1v1h-1zM366.5 318.7h1v1h-1zM378.3 343.9h1v1h-1zM440.7 389.2h1v1h-1zM479.8 337.0h1v1h-1zM394.0 335.6h1v1h-1zM352.6 387.3h1v1h-1zM323.4 315.3h1v1h-1zM438.0 352.4h1v1h-1zM360.0 385.8h1v1h-1zM385.5 353.0h1v1h-1zM326.9 381.4h1v1h-1zM328.9 333.5h1v1h-1zM487.2 386.6h1v1h-1zM491.3 375.3h1v1h-1zM351.6 298.7h1v1h-1zM394.0 301.7h1v1h-1zM504.1 296.4h1v1h-1zM369.0 315.2h1v1h-1zM315.7 343.7h1v1h-1zM324.6 382.3h1v1h-1zM443.5 331.2h1v1h-1zM477.3 372.3h1v1h-1zM369.2 377.2h1v1h-1zM497.0 355.3h1v1h-1zM374.1 382.3h1v1h-1zM500.1 329.0h1v1h-1zM326.2 379.2h1v1h-1zM438.6 317.9h1v1h-1zM417.8 325.3h1v1h-1zM494.7 328.5h1v1h-1zM344.9 299.8h1v1h-1zM372.3 390.9h1v1h-1zM348.8 339.7h1v1h-1zM506.7 296.2h1v1h-1zM363.1 374.7h1v1h-1zM327.7 385.0h1v1h-1zM475.8 309.4h1v1h-1zM423.2 349.1h1v1h-1zM444.8 325.1h1v1h-1zM380.5 318.8h1v1h-1zM362.5 312.5h1v1h-1zM491.4 381.1h1v1h-1zM375.7 362.4h1v1h-1zM401.9 322.6h1v1h-1zM373.7 388.5h1v1h-1zM372.1 351.3h1v1h-1zM500.6 324.3h1v1h-1zM470.1 306.6h1v1h-1zM453.5 373.3h1v1h-1zM476.4 389.5h1v1h-1zM448.6 389.7h1v1h-1zM360.0 345.8h1v1h-1zM348.1 303.6h1v1h-1zM391.4 364.9h1v1h-1zM463.3 297.2h1v1h-1zM499.9 319.4h1v1h-1zM362.6 375.8h1v1h-1zM489.1 366.5h1v1h-1zM370.4 340.2h1v1h-1zM475.8 330.0h1v1h-1zM469.3 370.9h1v1h-1zM397.5 381.9h1v1h-1zM380.5 367.8h1v1h-1zM433.2 327.5h1v1h-1zM410.5 354.0h1v1h-1zM411.5 306.3h1v1h-1zM511.1 388.7h1v1h-1zM318.9 386.5h1v1h-1zM410.4 307.7h1v1h-1zM472.7 337.3h1v1h-1zM449.1 375.3h1v1h-1zM411.8 300.4h1v1h-1zM473.1 362.4h1v1h-1zM492.7 321.6h1v1h-1zM464.8 379.7h1v1h-1zM374.7 335.1h1v1h-1zM370.6 296.2h1v1h-1zM351.3 327.5h1v1h-1zM329.7 369.3h1v1h-1zM389.0 350.3h1v1h-1zM361.2 330.3h1v1h-1zM457.8 340.8h1v1h-1zM424.0 336.3h1v1h-1zM415.7 382.0h1v1h-1zM357.9 345.6h1v1h-1zM443.4 304.0h1v1h-1zM504.4 343.6h1v1h-1zM353.8 368.8h1v1h-1zM471.6 356.3h1v1h-1zM494.1 304.2h1v1h-1zM409.6 367.1h1v1h-1zM494.2 357.4h1v1h-1zM425.3 333.0h1v1h-1zM418.8 349.0h1v1h-1zM491.5 375.2h1v1h-1zM454.3 384.6h1v1h-1zM323.1 369.7h1v1h-1zM396.4 368.0h1v1h-1zM363.4 340.6h1v1h-1zM473.6 299.0h1v1h-1zM362.4 342.6h1v1h-1zM479.5 321.6h1v1h-1zM473.2 319.1h1v1h-1zM364.7 348.9h1v1h-1zM436.3 380.4h1v1h-1zM485.8 319.7h1v1h-1zM456.1 356.7h1v1h-1zM380.9 370.3h1v1h-1zM489.9 341.7h1v1h-1zM494.0 307.9h1v1h-1zM339.5 369.2h1v1h-1zM365.1 352.0h1v1h-1zM403.3 309.6h1v1h-1zM458.0 367.0h1v1h-1zM335.9 320.6h1v1h-1zM468.2 383.4h1v1h-1zM483.7 343.9h1v1h-1zM377.2 338.5h1v1h-1zM341.3 343.4h1v1h-1zM351.1 311.2h1v1h-1zM379.8 301.8h1v1h-1zM397.8 362.6h1v1h-1zM435.7 389.5h1v1h-1zM487.2 356.6h1v1h-1zM489.9 338.4h1v1h-1zM467.9 323.0h1v1h-1zM409.4 390.0h1v1h-1zM424.5 344.4h1v1h-1zM465.3 325.7h1v1h-1zM475.0 297.4h1v1h-1zM352.5 312.7h1v1h-1zM356.0 386.7h1v1h-1zM317.0 324.4h1v1h-1zM419.4 363.3h1v1h-1zM462.3 332.5h1v1h-1zM349.2 377.7h1v1h-1zM332.0 301.9h1v1h-1zM351.3 343.0h1v1h-1zM499.9 365.8h1v1h-1zM417.2 345.8h1v1h-1zM444.8 355.9h1v1h-1zM371.1 304.5h1v1h-1zM345.7 371.0h1v1h-1zM432.1 372.4h1v1h-1zM319.8 382.3h1v1h-1zM380.1 384.8h1v1h-1zM423.6 348.3h1v1h-1zM472.1 355.8h1v1h-1zM440.7 310.8h1v1h-1zM425.7 329.9h1v1h-1zM324.5 308.4h1v1h-1zM399.7 320.9h1v1h-1zM460.5 307.4h1v1h-1zM315.7 391.6h1v1h-1zM366.6 344.7h1v1h-1zM347.3 315.7h1v1h-1zM384.1 371.7h1v1h-1zM319.1 376.2h1v1h-1zM510.9 349.4h1v1h-1zM375.7 318.1h1v1h-1zM342.5 326.7h1v1h-1zM479.6 295.9h1v1h-1zM465.0 359.9h1v1h-1zM316.4 302.3h1v1h-1zM453.8 360.4h1v1h-1zM366.7 378.5h1v1h-1zM347.4 336.7h1v1h-1zM330.8 357.8h1v1h-1zM326.3 312.9h1v1h-1zM460.7 343.8h1v1h-1zM438.0 366.3h1v1h-1zM426.2 314.6h1v1h-1zM445.9 306.8h1v1h-1zM358.4 338.8h1v1h-1zM330.7 305.8h1v1h-1zM435.9 367.1h1v1h-1zM377.8 333.1h1v1h-1zM346.9 345.8h1v1h-1zM420.6 385.5h1v1h-1zM319.3 383.1h1v1h-1zM511.0 328.9h1v1h-1zM451.8 375.0h1v1h-1zM435.7 323.4h1v1h-1zM429.6 380.0h1v1h-1zM329.5 341.8h1v1h-1zM316.9 377.0h1v1h-1zM463.4 300.0h1v1h-1zM456.2 362.2h1v1h-1zM332.7 346.2h1v1h-1zM443.9 327.9h1v1h-1zM404.7 389.6h1v1h-1zM432.4 343.9h1v1h-1zM323.0 307.3h1v1h-1zM479.4 367.1h1v1h-1zM475.9 351.3h1v1h-1zM419.7 346.7h1v1h-1zM453.8 327.4h1v1h-1zM403.2 340.8h1v1h-1zM437.9 316.4h1v1h-1zM317.2 304.1h1v1h-1zM341.8 378.2h1v1h-1zM449.9 367.8h1v1h-1zM392.5 305.5h1v1h-1zM396.8 378.7h1v1h-1zM405.8 356.4h1v1h-1zM378.5 310.1h1v1h-1zM430.4 342.3h1v1h-1zM372.9 320.5h1v1h-1zM445.3 326.2h1v1h-1zM419.7 320.6h1v1h-1zM457.9 331.7h1v1h-1zM399.5 384.9h1v1h-1zM450.2 366.5h1v1h-1zM371.7 376.5h1v1h-1zM380.8 390.8h1v1h-1zM489.5 359.1h1v1h-1zM475.1 348.0h1v1h-1zM453.4 307.6h1v1h-1zM510.5 372.7h1v1h-1zM335.4 319.0h1v1h-1zM419.5 369.1h1v1h-1zM336.5 388.1h1v1h-1zM373.0 391.4h1v1h-1zM457.7 342.4h1v1h-1zM376.2 304.9h1v1h-1zM326.4 356.2h1v1h-1zM462.3 383.0h1v1h-1zM376.7 385.9h1v1h-1zM363.5 386.1h1v1h-1zM494.7 310.5h1v1h-1zM481.6 363.4h1v1h-1zM446.7 376.5h1v1h-1zM411.5 344.4h1v1h-1zM377.1 378.9h1v1h-1zM490.7 311.1h1v1h-1zM462.0 322.1h1v1h-1zM342.7 314.6h1v1h-1zM419.1 322.5h1v1h-1zM353.2 305.1h1v1h-1zM368.8 370.1h1v1h-1zM316.7 342.1h1v1h-1zM425.4 300.4h1v1h-1zM362.9 382.9h1v1h-1zM511.8 377.5h1v1h-1zM340.2 369.2h1v1h-1zM393.8 312.0h1v1h-1zM400.0 384.5h1v1h-1zM485.3 333.3h1v1h-1zM322.6 382.3h1v1h-1zM510.0 344.8h1v1h-1zM350.1 348.0h1v1h-1zM445.4 342.0h1v1h-1zM374.2 319.5h1v1h-1zM363.5 300.4h1v1h-1zM355.6 387.4h1v1h-1zM315.1 365.7h1v1h-1zM465.7 334.6h1v1h-1zM423.8 316.9h1v1h-1zM439.3 363.8h1v1h-1zM453.7 343.0h1v1h-1zM506.4 379.0h1v1h-1zM419.0 361.3h1v1h-1zM359.3 386.5h1v1h-1zM434.4 381.8h1v1h-1zM361.9 390.2h1v1h-1zM329.3 346.7h1v1h-1zM330.1 313.9h1v1h-1zM460.2 302.0h1v1h-1zM380.2 314.1h1v1h-1zM479.3 303.5h1v1h-1zM371.1 378.1h1v1h-1zM443.4 363.3h1v1h-1zM511.1 297.9h1v1h-1zM438.6 367.3h1v1h-1zM456.7 364.4h1v1h-1zM324.0 303.7h1v1h-1zM462.1 354.5h1v1h-1zM357.0 296.5h1v1h-1zM410.8 304.3h1v1h-1zM456.7 328.4h1v1h-1zM469.8 304.8h1v1h-1zM402.6 305.2h1v1h-1zM463.8 349.5h1v1h-1zM351.8 388.3h1v1h-1zM442.3 328.0h1v1h-1zM480.4 332.2h1v1h-1zM500.0 324.2h1v1h-1zM509.5 301.6h1v1h-1zM453.7 323.7h1v1h-1zM388.4 356.9h1v1h-1zM320.0 317.1h1v1h-1zM329.0 366.8h1v1h-1zM349.4 343.6h1v1h-1zM369.6 318.3h1v1h-1zM498.4 344.5h1v1h-1zM435.5 363.4h1v1h-1zM472.8 320.9h1v1h-1zM325.0 340.6h1v1h-1zM340.2 297.6h1v1h-1zM494.9 355.9h1v1h-1zM386.5 308.7h1v1h-1zM459.6 346.9h1v1h-1zM341.0 390.2h1v1h-1zM501.9 384.9h1v1h-1zM474.0 346.8h1v1h-1zM364.2 358.4h1v1h-1zM337.0 355.0h1v1h-1zM323.0 296.9h1v1h-1zM449.6 328.6h1v1h-1zM445.6 370.7h1v1h-1zM475.9 354.9h1v1h-1zM478.5 359.0h1v1h-1zM496.6 382.0h1v1h-1zM319.7 321.4h1v1h-1zM381.4 319.9h1v1h-1zM341.4 379.7h1v1h-1zM317.2 313.1h1v1h-1zM459.3 317.1h1v1h-1zM356.2 388.8h1v1h-1zM459.9 338.8h1v1h-1zM334.4 321.5h1v1h-1zM508.8 371.8h1v1h-1zM323.6 363.7h1v1h-1zM378.9 364.9h1v1h-1zM363.2 308.1h1v1h-1zM316.5 324.1h1v1h-1zM481.5 381.4h1v1h-1zM442.6 367.6h1v1h-1zM344.6 329.7h1v1h-1zM490.2 390.6h1v1h-1zM392.3 370.3h1v1h-1zM498.0 391.6h1v1h-1zM363.3 358.6h1v1h-1zM381.6 340.4h1v1h-1zM396.1 322.4h1v1h-1zM316.4 369.4h1v1h-1zM445.3 376.5h1v1h-1zM337.3 318.4h1v1h-1zM424.0 385.8h1v1h-1zM398.1 314.9h1v1h-1zM423.7 387.8h1v1h-1zM483.2 382.2h1v1h-1zM385.7 320.9h1v1h-1zM483.8 371.5h1v1h-1zM479.5 333.3h1v1h-1zM361.5 318.7h1v1h-1zM483.8 384.1h1v1h-1zM377.1 379.8h1v1h-1zM379.9 338.7h1v1h-1zM417.7 316.9h1v1h-1zM357.9 321.3h1v1h-1zM356.5 345.2h1v1h-1zM328.5 370.8h1v1h-1zM341.1 338.4h1v1h-1zM433.7 308.9h1v1h-1zM385.4 349.8h1v1h-1zM414.3 381.6h1v1h-1zM464.8 307.2h1v1h-1zM475.5 348.5h1v1h-1zM441.5 311.0h1v1h-1zM398.1 363.0h1v1h-1zM467.5 373.2h1v1h-1zM348.6 375.8h1v1h-1zM418.1 360.0h1v1h-1zM479.6 334.6h1v1h-1zM494.8 380.5h1v1h-1zM469.8 332.2h1v1h-1zM409.7 312.3h1v1h-1zM459.2 381.4h1v1h-1zM338.6 367.3h1v1h-1zM444.9 299.1h1v1h-1zM494.2 341.7h1v1h-1zM358.3 298.5h1v1h-1zM464.1 328.1h1v1h-1zM406.7 314.4h1v1h-1zM426.3 333.9h1v1h-1zM469.6 359.8h1v1h-1zM450.9 319.8h1v1h-1zM322.7 380.3h1v1h-1zM498.5 357.6h1v1h-1zM495.3 363.6h1v1h-1zM426.0 336.0h1v1h-1zM374.8 342.8h1v1h-1zM349.6 336.8h1v1h-1zM405.5 298.6h1v1h-1zM382.3 323.0h1v1h-1zM432.0 373.8h1v1h-1zM427.8 359.5h1v1h-1zM427.7 320.3h1v1h-1zM378.9 376.9h1v1h-1zM500.8 313.0h1v1h-1zM315.4 388.2h1v1h-1zM481.4 354.1h1v1h-1zM471.9 352.8h1v1h-1zM491.5 319.0h1v1h-1zM392.5 360.2h1v1h-1zM348.4 364.4h1v1h-1zM357.0 364.0h1v1h-1zM469.0 336.4h1v1h-1zM510.8 356.4h1v1h-1zM458.5 297.6h1v1h-1zM330.5 364.1h1v1h-1zM500.2 356.1h1v1h-1zM493.3 301.3h1v1h-1zM488.5 380.1h1v1h-1zM430.9 337.0h1v1h-1zM447.3 319.1h1v1h-1zM439.2 362.5h1v1h-1zM412.2 320.6h1v1h-1zM314.5 314.5h1v1h-1zM475.6 316.0h1v1h-1zM324.3 319.4h1v1h-1zM407.8 352.1h1v1h-1zM485.3 377.9h1v1h-1zM506.0 380.8h1v1h-1zM393.7 309.3h1v1h-1zM503.0 317.6h1v1h-1zM429.5 321.1h1v1h-1zM471.8 314.9h1v1h-1zM387.8 316.8h1v1h-1zM481.6 355.3h1v1h-1zM431.3 325.9h1v1h-1zM341.3 378.2h1v1h-1zM460.3 366.3h1v1h-1zM512.4 349.5h1v1h-1zM341.7 354.3h1v1h-1zM361.7 345.0h1v1h-1zM395.6 349.9h1v1h-1zM495.2 373.6h1v1h-1zM386.6 374.3h1v1h-1zM481.6 370.1h1v1h-1zM414.6 382.2h1v1h-1zM402.2 305.8h1v1h-1zM358.8 358.9h1v1h-1zM379.5 336.3h1v1h-1zM384.0 314.1h1v1h-1zM327.3 300.3h1v1h-1zM440.3 326.8h1v1h-1zM395.1 385.7h1v1h-1zM430.4 373.7h1v1h-1zM459.8 387.4h1v1h-1zM323.2 332.6h1v1h-1zM501.6 340.3h1v1h-1zM501.2 313.4h1v1h-1zM322.2 381.8h1v1h-1zM385.9 344.5h1v1h-1zM498.6 316.7h1v1h-1zM505.8 333.8h1v1h-1zM354.2 318.1h1v1h-1zM407.7 340.6h1v1h-1zM487.3 300.5h1v1h-1zM319.8 310.3h1v1h-1zM426.0 370.8h1v1h-1zM399.7 354.7h1v1h-1zM433.8 297.5h1v1h-1zM354.0 391.7h1v1h-1zM370.0 386.8h1v1h-1zM402.3 317.0h1v1h-1zM314.5 316.6h1v1h-1zM368.2 337.9h1v1h-1zM393.1 348.4h1v1h-1zM398.6 298.8h1v1h-1zM357.8 388.2h1v1h-1zM317.5 366.3h1v1h-1zM399.0 363.7h1v1h-1zM370.3 331.2h1v1h-1zM407.4 383.2h1v1h-1zM369.5 303.9h1v1h-1zM319.0 380.5h1v1h-1zM366.7 307.1h1v1h-1zM424.0 377.0h1v1h-1zM424.7 310.2h1v1h-1zM384.8 321.3h1v1h-1zM316.1 388.6h1v1h-1zM395.5 308.6h1v1h-1zM487.0 390.5h1v1h-1zM471.6 320.0h1v1h-1zM343.8 346.2h1v1h-1zM421.3 380.2h1v1h-1zM505.6 383.3h1v1h-1zM372.2 352.0h1v1h-1zM332.3 345.6h1v1h-1zM323.8 306.3h1v1h-1zM332.0 324.6h1v1h-1zM365.9 363.5h1v1h-1zM324.6 306.3h1v1h-1zM436.8 360.4h1v1h-1zM448.5 364.9h1v1h-1zM438.2 348.8h1v1h-1zM455.2 303.5h1v1h-1zM347.7 367.0h1v1h-1zM344.2 346.7h1v1h-1zM356.6 337.1h1v1h-1zM475.7 359.2h1v1h-1zM392.7 321.9h1v1h-1zM469.2 358.9h1v1h-1zM391.6 379.3h1v1h-1zM444.6 390.0h1v1h-1zM438.5 382.3h1v1h-1zM414.3 364.0h1v1h-1zM477.5 304.3h1v1h-1zM398.6 353.9h1v1h-1zM321.8 371.6h1v1h-1zM449.6 385.8h1v1h-1zM378.1 340.8h1v1h-1zM493.1 335.2h1v1h-1zM475.7 336.2h1v1h-1zM371.4 322.3h1v1h-1zM348.0 337.1h1v1h-1zM338.7 375.3h1v1h-1zM507.3 305.0h1v1h-1zM321.4 296.0h1v1h-1zM497.6 302.7h1v1h-1zM441.9 324.9h1v1h-1zM345.2 319.3h1v1h-1zM444.0 297.3h1v1h-1zM482.5 350.3h1v1h-1zM352.0 315.7h1v1h-1zM436.4 356.2h1v1h-1zM367.6 327.8h1v1h-1zM396.4 383.3h1v1h-1zM411.8 376.5h1v1h-1zM433.5 349.7h1v1h-1zM401.8 361.1h1v1h-1zM402.1 365.5h1v1h-1zM342.3 326.6h1v1h-1zM484.4 333.7h1v1h-1zM477.7 385.9h1v1h-1zM420.2 305.4h1v1h-1zM458.6 359.7h1v1h-1zM362.3 378.7h1v1h-1zM400.3 301.1h1v1h-1zM323.3 317.6h1v1h-1zM426.9 374.1h1v1h-1zM328.2 297.7h1v1h-1zM429.6 335.0h1v1h-1zM392.0 374.6h1v1h-1zM494.7 388.7h1v1h-1zM463.5 295.9h1v1h-1zM336.8 352.2h1v1h-1zM502.9 303.4h1v1h-1zM407.0 333.8h1v1h-1zM385.0 321.5h1v1h-1zM358.5 318.6h1v1h-1zM328.9 349.0h1v1h-1zM392.8 364.3h1v1h-1zM433.3 387.4h1v1h-1zM371.7 380.6h1v1h-1zM380.6 359.2h1v1h-1zM469.2 333.8h1v1h-1zM392.9 356.4h1v1h-1zM330.1 346.8h1v1h-1zM327.6 317.3h1v1h-1zM429.7 389.2h1v1h-1zM513.0 320.7h1v1h-1zM336.1 345.5h1v1h-1zM391.9 332.1h1v1h-1zM461.2 363.9h1v1h-1zM416.7 355.4h1v1h-1zM420.9 360.8h1v1h-1zM496.7 386.8h1v1h-1zM508.4 378.4h1v1h-1zM329.1 339.1h1v1h-1zM464.0 323.9h1v1h-1zM426.2 300.9h1v1h-1zM346.2 334.1h1v1h-1zM323.7 336.5h1v1h-1zM351.0 378.6h1v1h-1zM367.7 332.3h1v1h-1zM468.6 349.5h1v1h-1zM320.7 316.6h1v1h-1zM427.1 314.8h1v1h-1zM354.4 355.6h1v1h-1zM402.8 321.5h1v1h-1zM416.2 356.6h1v1h-1zM319.1 322.0h1v1h-1zM365.6 380.2h1v1h-1zM320.8 329.0h1v1h-1zM344.6 362.5h1v1h-1zM470.6 301.1h1v1h-1zM482.2 362.6h1v1h-1zM348.6 383.8h1v1h-1zM362.8 371.5h1v1h-1zM324.4 339.5h1v1h-1zM405.1 381.9h1v1h-1zM476.2 348.2h1v1h-1zM320.9 337.0h1v1h-1zM378.7 391.5h1v1h-1zM442.0 334.6h1v1h-1zM376.6 369.5h1v1h-1zM327.7 374.3h1v1h-1zM439.9 337.5h1v1h-1zM448.5 333.9h1v1h-1zM335.6 335.8h1v1h-1zM320.8 304.0h1v1h-1zM391.4 375.1h1v1h-1zM346.2 343.8h1v1h-1zM508.3 375.3h1v1h-1zM490.8 360.6h1v1h-1zM422.5 351.6h1v1h-1zM425.0 340.4h1v1h-1zM375.8 318.6h1v1h-1zM322.9 331.1h1v1h-1zM461.5 348.8h1v1h-1zM339.2 374.0h1v1h-1zM319.4 385.3h1v1h-1zM435.8 349.2h1v1h-1zM386.1 375.1h1v1h-1zM314.9 297.1h1v1h-1zM408.1 324.2h1v1h-1zM383.9 347.3h1v1h-1zM319.7 390.3h1v1h-1zM441.4 305.1h1v1h-1zM454.6 346.9h1v1h-1zM443.4 366.6h1v1h-1zM511.1 307.0h1v1h-1zM512.2 341.5h1v1h-1zM345.7 331.6h1v1h-1zM376.5 381.8h1v1h-1zM408.9 302.0h1v1h-1zM449.4 343.5h1v1h-1zM471.3 300.1h1v1h-1zM482.6 381.6h1v1h-1zM315.1 341.5h1v1h-1zM331.9 346.6h1v1h-1zM326.6 381.0h1v1h-1zM342.6 359.9h1v1h-1zM436.2 326.5h1v1h-1zM348.1 383.7h1v1h-1zM319.2 320.1h1v1h-1zM369.2 351.9h1v1h-1zM377.5 306.3h1v1h-1zM418.5 365.3h1v1h-1zM447.2 342.7h1v1h-1zM365.4 296.6h1v1h-1zM410.7 356.1h1v1h-1zM391.9 388.0h1v1h-1zM345.9 374.0h1v1h-1zM450.3 382.2h1v1h-1zM496.0 318.4h1v1h-1zM495.3 334.4h1v1h-1zM441.7 387.4h1v1h-1zM423.8 351.7h1v1h-1zM323.8 353.1h1v1h-1zM353.0 333.0h1v1h-1zM379.2 389.3h1v1h-1zM432.8 365.4h1v1h-1zM340.7 324.9h1v1h-1zM485.4 307.2h1v1h-1zM502.4 336.8h1v1h-1zM381.6 345.2h1v1h-1zM392.3 340.9h1v1h-1zM388.4 363.2h1v1h-1zM359.6 311.6h1v1h-1zM390.5 304.1h1v1h-1zM393.1 343.2h1v1h-1zM464.6 306.1h1v1h-1zM383.0 370.8h1v1h-1zM371.5 376.1h1v1h-1zM450.2 299.6h1v1h-1zM380.7 369.4h1v1h-1zM409.4 360.4h1v1h-1zM510.8 360.6h1v1h-1zM413.4 377.1h1v1h-1zM389.7 296.6h1v1h-1zM358.9 352.9h1v1h-1zM501.3 354.1h1v1h-1zM361.0 391.2h1v1h-1zM383.6 317.5h1v1h-1zM414.9 328.7h1v1h-1zM330.3 364.2h1v1h-1zM444.4 389.2h1v1h-1zM334.5 383.3h1v1h-1zM467.5 320.0h1v1h-1zM399.6 356.3h1v1h-1zM366.9 306.0h1v1h-1zM476.3 311.5h1v1h-1zM402.0 337.8h1v1h-1zM491.1 349.4h1v1h-1zM388.5 389.7h1v1h-1zM374.2 365.6h1v1h-1zM351.7 368.5h1v1h-1zM457.4 375.4h1v1h-1zM400.7 317.0h1v1h-1zM431.6 383.3h1v1h-1zM366.0 297.5h1v1h-1zM342.9 385.4h1v1h-1zM314.9 300.8h1v1h-1zM328.1 381.5h1v1h-1zM380.3 362.2h1v1h-1zM447.5 337.4h1v1h-1zM453.3 340.0h1v1h-1zM412.6 325.1h1v1h-1zM314.5 352.7h1v1h-1zM357.6 322.1h1v1h-1zM485.7 330.4h1v1h-1zM328.8 356.3h1v1h-1zM411.8 301.1h1v1h-1zM373.5 354.5h1v1h-1zM360.2 390.6h1v1h-1zM467.9 344.2h1v1h-1zM493.9 298.9h1v1h-1zM350.0 383.7h1v1h-1zM405.7 312.0h1v1h-1zM418.5 365.9h1v1h-1zM425.5 300.0h1v1h-1zM318.7 334.8h1v1h-1zM316.0 303.7h1v1h-1zM433.8 337.8h1v1h-1zM326.1 380.0h1v1h-1zM377.4 380.6h1v1h-1zM426.7 355.4h1v1h-1zM388.4 360.3h1v1h-1zM353.5 320.4h1v1h-1zM484.8 315.2h1v1h-1zM380.8 367.3h1v1h-1zM369.9 330.8h1v1h-1zM492.5 315.5h1v1h-1zM353.0 381.0h1v1h-1zM359.4 327.4h1v1h-1zM486.4 326.5h1v1h-1zM512.4 374.7h1v1h-1zM478.5 317.3h1v1h-1zM348.6 368.1h1v1h-1zM474.0 317.2h1v1h-1zM346.6 319.1h1v1h-1zM334.6 336.2h1v1h-1zM404.5 356.1h1v1h-1zM321.4 314.1h1v1h-1zM331.2 321.6h1v1h-1zM343.0 385.8h1v1h-1zM378.3 309.0h1v1h-1zM439.0 389.3h1v1h-1zM466.9 358.0h1v1h-1zM379.3 334.4h1v1h-1zM364.5 373.2h1v1h-1zM468.8 342.7h1v1h-1zM481.9 358.4h1v1h-1zM443.1 321.5h1v1h-1zM353.1 317.5h1v1h-1zM493.2 372.7h1v1h-1zM490.2 374.8h1v1h-1zM469.2 337.6h1v1h-1zM460.5 311.6h1v1h-1zM436.7 299.7h1v1h-1zM505.3 380.3h1v1h-1zM339.3 369.6h1v1h-1zM473.3 299.6h1v1h-1zM417.6 336.1h1v1h-1zM428.8 381.0h1v1h-1zM451.2 315.9h1v1h-1zM415.2 349.7h1v1h-1zM315.5 308.3h1v1h-1zM375.6 312.7h1v1h-1zM352.3 360.7h1v1h-1zM504.3 339.7h1v1h-1zM434.6 368.9h1v1h-1zM440.4 358.9h1v1h-1zM314.4 379.4h1v1h-1zM338.7 313.0h1v1h-1zM405.9 352.1h1v1h-1zM458.3 323.8h1v1h-1zM500.6 356.1h1v1h-1zM477.9 341.5h1v1h-1zM323.8 296.8h1v1h-1zM433.3 336.6h1v1h-1zM391.7 327.0h1v1h-1zM341.7 341.2h1v1h-1zM355.6 381.6h1v1h-1zM341.7 388.8h1v1h-1zM481.5 332.5h1v1h-1zM462.1 351.5h1v1h-1zM396.9 373.8h1v1h-1zM474.9 315.0h1v1h-1zM491.8 298.7h1v1h-1zM314.8 342.2h1v1h-1zM364.3 336.3h1v1h-1zM399.6 340.7h1v1h-1zM492.2 384.0h1v1h-1zM373.0 323.3h1v1h-1zM436.3 314.7h1v1h-1zM383.7 364.7h1v1h-1zM314.8 369.9h1v1h-1zM453.6 332.9h1v1h-1zM354.3 347.6h1v1h-1zM363.3 374.7h1v1h-1zM422.8 325.1h1v1h-1zM469.8 354.1h1v1h-1zM333.7 335.5h1v1h-1zM401.8 386.6h1v1h-1zM368.0 338.8h1v1h-1zM507.8 336.6h1v1h-1zM474.1 304.9h1v1h-1zM382.4 313.3h1v1h-1zM486.8 348.8h1v1h-1zM348.9 304.5h1v1h-1zM387.8 304.9h1v1h-1zM400.9 365.8h1v1h-1zM366.1 311.7h1v1h-1zM376.0 311.6h1v1h-1zM477.8 304.9h1v1h-1zM455.1 327.7h1v1h-1zM452.4 369.8h1v1h-1zM334.2 368.5h1v1h-1zM500.7 350.2h1v1h-1zM434.3 326.7h1v1h-1zM341.0 367.3h1v1h-1zM472.6 315.5h1v1h-1zM330.6 329.5h1v1h-1zM430.3 330.8h1v1h-1zM504.9 371.8h1v1h-1zM494.1 353.3h1v1h-1zM458.4 387.2h1v1h-1zM318.6 351.0h1v1h-1zM343.2 372.2h1v1h-1zM351.5 367.0h1v1h-1zM370.4 358.3h1v1h-1zM441.7 383.1h1v1h-1zM484.2 337.8h1v1h-1zM443.8 313.2h1v1h-1z" fill="#f7b885" fill-opacity="0.4"/>
<rect x="314.3" y="296.1" width="4.2" height="1.4" fill="#ee8c50" fill-opacity="0.18"/>
<rect x="314.3" y="297.5" width="22.1" height="1.4" fill="#ee8c50" fill-opacity="0.18"/>
<rect x="314.3" y="298.9" width="9.9" height="1.4" fill="#ee8c50" fill-opacity="0.16"/>
<rect x="314.3" y="300.3" width="15.7" height="1.4" fill="#ee8c50" fill-opacity="0.15"/>
<rect x="314.3" y="301.7" width="6.9" height="1.4" fill="#ee8c50" fill-opacity="0.20"/>
<rect x="314.3" y="303.1" width="7.0" height="1.4" fill="#ee8c50" fill-opacity="0.21"/>
<rect x="314.3" y="304.5" width="18.1" height="1.4" fill="#ee8c50" fill-opacity="0.19"/>
<rect x="314.3" y="305.9" width="19.3" height="1.4" fill="#ee8c50" fill-opacity="0.23"/>
<rect x="314.3" y="307.3" width="25.6" height="1.4" fill="#ee8c50" fill-opacity="0.14"/>
<rect x="314.3" y="308.7" width="7.1" height="1.4" fill="#ee8c50" fill-opacity="0.18"/>
<rect x="314.3" y="310.1" width="24.6" height="1.4" fill="#ee8c50" fill-opacity="0.16"/>
<rect x="314.3" y="311.5" width="4.0" height="1.4" fill="#ee8c50" fill-opacity="0.06"/>
<rect x="314.3" y="312.9" width="8.7" height="1.4" fill="#ee8c50" fill-opacity="0.19"/>
<rect x="314.3" y="314.3" width="21.3" height="1.4" fill="#ee8c50" fill-opacity="0.12"/>
<rect x="314.3" y="315.7" width="9.9" height="1.4" fill="#ee8c50" fill-opacity="0.14"/>
<rect x="314.3" y="317.1" width="4.2" height="1.4" fill="#ee8c50" fill-opacity="0.05"/>
<rect x="314.3" y="318.5" width="10.0" height="1.4" fill="#ee8c50" fill-opacity="0.14"/>
<rect x="314.3" y="319.9" width="20.4" height="1.4" fill="#ee8c50" fill-opacity="0.08"/>
<rect x="314.3" y="321.3" width="20.0" height="1.4" fill="#ee8c50" fill-opacity="0.10"/>
<rect x="314.3" y="322.7" width="10.4" height="1.4" fill="#ee8c50" fill-opacity="0.18"/>
<rect x="314.3" y="324.1" width="4.5" height="1.4" fill="#ee8c50" fill-opacity="0.22"/>
<rect x="314.3" y="325.5" width="24.2" height="1.4" fill="#ee8c50" fill-opacity="0.22"/>
<rect x="314.3" y="326.9" width="4.0" height="1.4" fill="#ee8c50" fill-opacity="0.17"/>
<rect x="314.3" y="328.3" width="13.9" height="1.4" fill="#ee8c50" fill-opacity="0.21"/>
<rect x="314.3" y="329.7" width="4.9" height="1.4" fill="#ee8c50" fill-opacity="0.07"/>
<rect x="314.3" y="331.1" width="18.4" height="1.4" fill="#ee8c50" fill-opacity="0.10"/>
<rect x="314.3" y="332.5" width="4.1" height="1.4" fill="#ee8c50" fill-opacity="0.07"/>
<rect x="314.3" y="333.9" width="13.2" height="1.4" fill="#ee8c50" fill-opacity="0.15"/>
<rect x="314.3" y="335.3" width="16.3" height="1.4" fill="#ee8c50" fill-opacity="0.19"/>
<rect x="314.3" y="336.7" width="4.0" height="1.4" fill="#ee8c50" fill-opacity="0.22"/>
<rect x="314.3" y="338.1" width="21.0" height="1.4" fill="#ee8c50" fill-opacity="0.22"/>
<rect x="314.3" y="339.5" width="17.0" height="1.4" fill="#ee8c50" fill-opacity="0.12"/>
<rect x="314.3" y="340.9" width="5.4" height="1.4" fill="#ee8c50" fill-opacity="0.21"/>
<rect x="314.3" y="342.3" width="7.9" height="1.4" fill="#ee8c50" fill-opacity="0.14"/>
<rect x="314.3" y="343.7" width="14.7" height="1.4" fill="#ee8c50" fill-opacity="0.17"/>
<rect x="314.3" y="345.1" width="14.6" height="1.4" fill="#ee8c50" fill-opacity="0.16"/>
<rect x="314.3" y="346.5" width="9.7" height="1.4" fill="#ee8c50" fill-opacity="0.19"/>
<rect x="314.3" y="347.9" width="7.4" height="1.4" fill="#ee8c50" fill-opacity="0.10"/>
<rect x="314.3" y="349.3" width="22.2" height="1.4" fill="#ee8c50" fill-opacity="0.20"/>
<rect x="314.3" y="350.7" width="15.3" height="1.4" fill="#ee8c50" fill-opacity="0.08"/>
<rect x="314.3" y="352.1" width="4.0" height="1.4" fill="#ee8c50" fill-opacity="0.21"/>
<rect x="314.3" y="353.5" width="23.6" height="1.4" fill="#ee8c50" fill-opacity="0.10"/>
<rect x="314.3" y="354.9" width="12.7" height="1.4" fill="#ee8c50" fill-opacity="0.06"/>
<rect x="314.3" y="356.3" width="7.4" height="1.4" fill="#ee8c50" fill-opacity="0.18"/>
<rect x="314.3" y="357.7" width="6.9" height="1.4" fill="#ee8c50" fill-opacity="0.19"/>
<rect x="314.3" y="359.1" width="22.3" height="1.4" fill="#ee8c50" fill-opacity="0.08"/>
<rect x="314.3" y="360.5" width="14.4" height="1.4" fill="#ee8c50" fill-opacity="0.12"/>
<rect x="314.3" y="361.9" width="4.7" height="1.4" fill="#ee8c50" fill-opacity="0.11"/>
<rect x="314.3" y="363.3" width="9.1" height="1.4" fill="#ee8c50" fill-opacity="0.21"/>
<rect x="314.3" y="364.7" width="16.9" height="1.4" fill="#ee8c50" fill-opacity="0.05"/>
<rect x="314.3" y="366.1" width="4.1" height="1.4" fill="#ee8c50" fill-opacity="0.23"/>
<rect x="314.3" y="367.5" width="10.8" height="1.4" fill="#ee8c50" fill-opacity="0.16"/>
<rect x="314.3" y="368.9" width="6.7" height="1.4" fill="#ee8c50" fill-opacity="0.20"/>
<rect x="314.3" y="370.3" width="10.8" height="1.4" fill="#ee8c50" fill-opacity="0.16"/>
<rect x="314.3" y="371.7" width="5.4" height="1.4" fill="#ee8c50" fill-opacity="0.19"/>
<rect x="314.3" y="373.1" width="5.0" height="1.4" fill="#ee8c50" fill-opacity="0.08"/>
<rect x="314.3" y="374.5" width="11.9" height="1.4" fill="#ee8c50" fill-opacity="0.20"/>
<rect x="314.3" y="375.9" width="5.9" height="1.4" fill="#ee8c50" fill-opacity="0.11"/>
<rect x="314.3" y="377.3" width="4.5" height="1.4" fill="#ee8c50" fill-opacity="0.16"/>
<rect x="314.3" y="378.7" width="17.1" height="1.4" fill="#ee8c50" fill-opacity="0.07"/>
<rect x="314.3" y="380.1" width="10.3" height="1.4" fill="#ee8c50" fill-opacity="0.15"/>
<rect x="314.3" y="381.5" width="4.3" height="1.4" fill="#ee8c50" fill-opacity="0.15"/>
<rect x="314.3" y="382.9" width="5.6" height="1.4" fill="#ee8c50" fill-opacity="0.09"/>
<rect x="314.3" y="384.3" width="25.4" height="1.4" fill="#ee8c50" fill-opacity="0.07"/>
<rect x="314.3" y="385.7" width="6.6" height="1.4" fill="#ee8c50" fill-opacity="0.16"/>
<rect x="314.3" y="387.1" width="7.6" height="1.4" fill="#ee8c50" fill-opacity="0.06"/>
<rect x="314.3" y="388.5" width="20.5" height="1.4" fill="#ee8c50" fill-opacity="0.09"/>
<rect x="314.3" y="389.9" width="7.7" height="1.4" fill="#ee8c50" fill-opacity="0.21"/>
<rect x="314.3" y="391.3" width="24.7" height="1.4" fill="#ee8c50" fill-opacity="0.21"/>
<path d="M314.3 393.4V295.6H514.6V393.4H314.3" fill="none" stroke="#555" stroke-width="1"/>
<text x="311.80" y="331.00" font-size="8.5" text-anchor="end" font-weight="normal" font-style="normal" fill="#222" >100</text>
<text x="311.80" y="364.00" font-size="8.5" text-anchor="end" font-weight="normal" font-style="normal" fill="#222" >200</text>
<text transform="translate(291,344) rotate(-90)" font-size="9" text-anchor="middle" fill="#222">ROI number</text>
<rect x="517.30" y="355.00" width="4.20" height="38.60" fill="url(#cb)" />
<text x="522.80" y="357.00" font-size="5.5" text-anchor="start" font-weight="normal" font-style="normal" fill="#222" >1.5</text>
<text x="523.80" y="376.00" font-size="5.5" text-anchor="start" font-weight="normal" font-style="normal" fill="#222" >0</text>
<text x="521.50" y="395.50" font-size="5.5" text-anchor="start" font-weight="normal" font-style="normal" fill="#222" >-1.5</text>
<path d="M314.9 497.8V412.9M315.1 497.8V428.3M315.3 497.8V434.5M315.6 497.8V440.7M315.8 497.8V453.5M316.0 497.8V456.9M316.2 497.8V448.7M316.4 497.8V454.3M316.7 497.8V449.6M316.9 497.8V469.8M317.1 497.8V444.8M317.3 497.8V457.3M317.5 497.8V453.2M317.8 497.8V460.2M318.0 497.8V461.0M318.2 497.8V457.9M318.4 497.8V456.4M318.6 497.8V461.6M318.9 497.8V463.6M319.1 497.8V458.8M319.3 497.8V468.9M319.5 497.8V456.6M319.7 497.8V461.6M320.0 497.8V451.6M320.2 497.8V477.4M320.4 497.8V471.2M320.6 497.8V469.1M320.9 497.8V472.0M321.1 497.8V475.5M321.3 497.8V466.6M321.5 497.8V460.5M321.7 497.8V451.2M322.0 497.8V471.8M322.2 497.8V448.4M322.4 497.8V464.4M322.6 497.8V470.4M322.8 497.8V465.1M323.1 497.8V463.4M323.3 497.8V470.9M323.5 497.8V474.8M323.7 497.8V468.2M323.9 497.8V467.4M324.2 497.8V462.9M324.4 497.8V478.5M324.6 497.8V474.6M324.8 497.8V474.7M325.0 497.8V479.5M325.3 497.8V470.2M325.5 497.8V467.7M325.7 497.8V476.2M325.9 497.8V463.3M326.1 497.8V466.4M326.4 497.8V468.8M326.6 497.8V470.7M326.8 497.8V468.5M327.0 497.8V479.3M327.2 497.8V469.0M327.5 497.8V471.0M327.7 497.8V482.3M327.9 497.8V470.1M328.1 497.8V475.9M328.3 497.8V470.3M328.6 497.8V477.1M328.8 497.8V474.0M329.0 497.8V472.4M329.2 497.8V477.5M329.4 497.8V472.2M329.7 497.8V475.6M329.9 497.8V470.6M330.1 497.8V478.5M330.3 497.8V469.7M330.6 497.8V472.0M330.8 497.8V477.1M331.0 497.8V472.4M331.2 497.8V468.5M331.4 497.8V465.9M331.7 497.8V482.9M331.9 497.8V470.6M332.1 497.8V464.8M332.3 497.8V477.4M332.5 497.8V480.3M332.8 497.8V469.4M333.0 497.8V482.9M333.2 497.8V473.5M333.4 497.8V470.5M333.6 497.8V483.0M333.9 497.8V478.4M334.1 497.8V483.7M334.3 497.8V474.5M334.5 497.8V468.6M334.7 497.8V466.0M335.0 497.8V484.8M335.2 497.8V479.8M335.4 497.8V473.7M335.6 497.8V469.4M335.8 497.8V474.8M336.1 497.8V479.5M336.3 497.8V476.5M336.5 497.8V476.7M336.7 497.8V479.7M336.9 497.8V481.8M337.2 497.8V474.6M337.4 497.8V476.9M337.6 497.8V478.1M337.8 497.8V477.7M338.0 497.8V483.4M338.3 497.8V480.2M338.5 497.8V460.4M338.7 497.8V477.7M338.9 497.8V483.6M339.1 497.8V460.6M339.4 497.8V476.9M339.6 497.8V469.3M339.8 497.8V479.1M340.0 497.8V479.9M340.3 497.8V484.3M340.5 497.8V473.6M340.7 497.8V468.2M340.9 497.8V483.0M341.1 497.8V481.2M341.4 497.8V475.4M341.6 497.8V482.8M341.8 497.8V479.8M342.0 497.8V479.5M342.2 497.8V477.2M342.5 497.8V475.3M342.7 497.8V478.6M342.9 497.8V474.4M343.1 497.8V480.1M343.3 497.8V478.2M343.6 497.8V489.9M343.8 497.8V486.0M344.0 497.8V476.4M344.2 497.8V482.5M344.4 497.8V476.3M344.7 497.8V476.9M344.9 497.8V473.5M345.1 497.8V475.8M345.3 497.8V476.4M345.5 497.8V481.6M345.8 497.8V483.3M346.0 497.8V482.3M346.2 497.8V481.8M346.4 497.8V484.2M346.6 497.8V482.2M346.9 497.8V479.8M347.1 497.8V477.8M347.3 497.8V481.2M347.5 497.8V487.7M347.7 497.8V479.4M348.0 497.8V478.8M348.2 497.8V475.0M348.4 497.8V479.2M348.6 497.8V484.6M348.8 497.8V482.6M349.1 497.8V472.7M349.3 497.8V478.0M349.5 497.8V473.9M349.7 497.8V471.3M350.0 497.8V485.6M350.2 497.8V478.4M350.4 497.8V479.5M350.6 497.8V477.9M350.8 497.8V477.6M351.1 497.8V479.7M351.3 497.8V480.5M351.5 497.8V487.1M351.7 497.8V480.9M351.9 497.8V483.8M352.2 497.8V481.4M352.4 497.8V484.6M352.6 497.8V477.7M352.8 497.8V477.6M353.0 497.8V481.3M353.3 497.8V479.9M353.5 497.8V480.8M353.7 497.8V483.9M353.9 497.8V481.2M354.1 497.8V484.3M354.4 497.8V480.9M354.6 497.8V482.1M354.8 497.8V474.4M355.0 497.8V486.2M355.2 497.8V477.6M355.5 497.8V486.0M355.7 497.8V485.1M355.9 497.8V483.7M356.1 497.8V483.6M356.3 497.8V479.7M356.6 497.8V485.4M356.8 497.8V486.4M357.0 497.8V486.2M357.2 497.8V477.2M357.4 497.8V481.2M357.7 497.8V485.6M357.9 497.8V482.7M358.1 497.8V476.0M358.3 497.8V475.4M358.5 497.8V489.6M358.8 497.8V480.0M359.0 497.8V481.0M359.2 497.8V487.7M359.4 497.8V465.7M359.7 497.8V479.3M359.9 497.8V480.2M360.1 497.8V482.2M360.3 497.8V477.9M360.5 497.8V482.4M360.8 497.8V480.6M361.0 497.8V482.6M361.2 497.8V479.8M361.4 497.8V487.2M361.6 497.8V478.5M361.9 497.8V485.1M362.1 497.8V486.3M362.3 497.8V481.3M362.5 497.8V476.1M362.7 497.8V478.3M363.0 497.8V485.3M363.2 497.8V479.3M363.4 497.8V484.8M363.6 497.8V482.7M363.8 497.8V482.0M364.1 497.8V491.0M364.3 497.8V482.4M364.5 497.8V487.5M364.7 497.8V484.4M364.9 497.8V488.8M365.2 497.8V489.3M365.4 497.8V486.3M365.6 497.8V480.5M365.8 497.8V475.2M366.0 497.8V482.5M366.3 497.8V478.4M366.5 497.8V484.8M366.7 497.8V489.9M366.9 497.8V481.5M367.1 497.8V480.7M367.4 497.8V483.8M367.6 497.8V483.2M367.8 497.8V480.4M368.0 497.8V485.7M368.2 497.8V489.2M368.5 497.8V485.4M368.7 497.8V484.1M368.9 497.8V485.5M369.1 497.8V480.9M369.3 497.8V475.5M369.6 497.8V484.2M369.8 497.8V480.4M370.0 497.8V479.2M370.2 497.8V480.3M370.5 497.8V464.8M370.7 497.8V486.2M370.9 497.8V481.3M371.1 497.8V475.7M371.3 497.8V480.3M371.6 497.8V486.7M371.8 497.8V482.4M372.0 497.8V479.3M372.2 497.8V483.2M372.4 497.8V484.8M372.7 497.8V478.6M372.9 497.8V489.0M373.1 497.8V481.8M373.3 497.8V484.6M373.5 497.8V488.5M373.8 497.8V479.0M374.0 497.8V483.8M374.2 497.8V487.2M374.4 497.8V481.5M374.6 497.8V486.6M374.9 497.8V490.0M375.1 497.8V487.6M375.3 497.8V482.4M375.5 497.8V481.7M375.7 497.8V484.1M376.0 497.8V484.3M376.2 497.8V482.4M376.4 497.8V485.3M376.6 497.8V480.3M376.8 497.8V483.8M377.1 497.8V483.2M377.3 497.8V481.6M377.5 497.8V489.1M377.7 497.8V488.2M377.9 497.8V477.5M378.2 497.8V484.2M378.4 497.8V485.0M378.6 497.8V482.9M378.8 497.8V484.9M379.0 497.8V484.1M379.3 497.8V485.8M379.5 497.8V484.4M379.7 497.8V491.3M379.9 497.8V468.4M380.2 497.8V487.3M380.4 497.8V490.2M380.6 497.8V484.8M380.8 497.8V486.9M381.0 497.8V483.1M381.3 497.8V489.1M381.5 497.8V481.8M381.7 497.8V472.2M381.9 497.8V490.6M382.1 497.8V483.0M382.4 497.8V478.5M382.6 497.8V484.2M382.8 497.8V490.4M383.0 497.8V489.4M383.2 497.8V484.2M383.5 497.8V485.8M383.7 497.8V478.4M383.9 497.8V486.6M384.1 497.8V483.4M384.3 497.8V473.9M384.6 497.8V488.4M384.8 497.8V489.2M385.0 497.8V485.7M385.2 497.8V485.8M385.4 497.8V480.6M385.7 497.8V484.6M385.9 497.8V488.7M386.1 497.8V483.7M386.3 497.8V475.2M386.5 497.8V481.4M386.8 497.8V492.7M387.0 497.8V484.3M387.2 497.8V488.9M387.4 497.8V481.7M387.6 497.8V485.8M387.9 497.8V477.3M388.1 497.8V481.1M388.3 497.8V481.1M388.5 497.8V484.5M388.7 497.8V477.2M389.0 497.8V483.0M389.2 497.8V480.4M389.4 497.8V483.3M389.6 497.8V485.7M389.9 497.8V462.9M390.1 497.8V483.1M390.3 497.8V485.8M390.5 497.8V487.7M390.7 497.8V488.4M391.0 497.8V488.6M391.2 497.8V494.7M391.4 497.8V482.1M391.6 497.8V483.3M391.8 497.8V486.8M392.1 497.8V480.2M392.3 497.8V483.9M392.5 497.8V484.2M392.7 497.8V492.9M392.9 497.8V469.5M393.2 497.8V482.6M393.4 497.8V478.3M393.6 497.8V473.2M393.8 497.8V480.7M394.0 497.8V488.4M394.3 497.8V494.8M394.5 497.8V482.2M394.7 497.8V485.5M394.9 497.8V482.4M395.1 497.8V486.0M395.4 497.8V484.9M395.6 497.8V490.0M395.8 497.8V483.0M396.0 497.8V486.5M396.2 497.8V485.0M396.5 497.8V484.0M396.7 497.8V487.1M396.9 497.8V483.7M397.1 497.8V471.2M397.3 497.8V483.1M397.6 497.8V465.2M397.8 497.8V476.8M398.0 497.8V486.6M398.2 497.8V479.8M398.4 497.8V485.0M398.7 497.8V482.9M398.9 497.8V483.7M399.1 497.8V488.4M399.3 497.8V488.6M399.6 497.8V485.0M399.8 497.8V485.2M400.0 497.8V484.3M400.2 497.8V490.1M400.4 497.8V487.1M400.7 497.8V484.7M400.9 497.8V480.5M401.1 497.8V494.7M401.3 497.8V485.4M401.5 497.8V488.6M401.8 497.8V485.5M402.0 497.8V488.3M402.2 497.8V483.9M402.4 497.8V481.2M402.6 497.8V484.2M402.9 497.8V484.9M403.1 497.8V485.3M403.3 497.8V470.5M403.5 497.8V484.1M403.7 497.8V486.8M404.0 497.8V489.9M404.2 497.8V485.9M404.4 497.8V485.7M404.6 497.8V484.6M404.8 497.8V487.3M405.1 497.8V487.6M405.3 497.8V481.3M405.5 497.8V483.1M405.7 497.8V480.1M405.9 497.8V484.4M406.2 497.8V485.3M406.4 497.8V487.2M406.6 497.8V488.3M406.8 497.8V483.3M407.0 497.8V486.8M407.3 497.8V491.3M407.5 497.8V485.1M407.7 497.8V492.4M407.9 497.8V486.8M408.1 497.8V491.7M408.4 497.8V491.3M408.6 497.8V486.6M408.8 497.8V485.2M409.0 497.8V491.4M409.3 497.8V482.3M409.5 497.8V478.3M409.7 497.8V490.6M409.9 497.8V469.4M410.1 497.8V489.2M410.4 497.8V487.6M410.6 497.8V487.5M410.8 497.8V491.5M411.0 497.8V480.8M411.2 497.8V485.3M411.5 497.8V489.8M411.7 497.8V469.0M411.9 497.8V491.8M412.1 497.8V488.4M412.3 497.8V483.5M412.6 497.8V484.3M412.8 497.8V486.8M413.0 497.8V480.1M413.2 497.8V481.5M413.4 497.8V481.7M413.7 497.8V486.8M413.9 497.8V487.9M414.1 497.8V484.6M414.3 497.8V486.9M414.5 497.8V488.1M414.8 497.8V483.7M415.0 497.8V480.2M415.2 497.8V486.7M415.4 497.8V487.2M415.6 497.8V484.1M415.9 497.8V492.4M416.1 497.8V485.5M416.3 497.8V491.0M416.5 497.8V477.1M416.7 497.8V484.0M417.0 497.8V485.7M417.2 497.8V487.3M417.4 497.8V488.7M417.6 497.8V484.6M417.8 497.8V482.2M418.1 497.8V488.2M418.3 497.8V483.7M418.5 497.8V472.4M418.7 497.8V493.1M418.9 497.8V484.1M419.2 497.8V481.5M419.4 497.8V485.1M419.6 497.8V486.4M419.8 497.8V483.6M420.1 497.8V491.6M420.3 497.8V487.3M420.5 497.8V483.1M420.7 497.8V491.5M420.9 497.8V482.5M421.2 497.8V488.1M421.4 497.8V493.4M421.6 497.8V486.5M421.8 497.8V489.0M422.0 497.8V484.6M422.3 497.8V492.0M422.5 497.8V482.6M422.7 497.8V489.7M422.9 497.8V486.6M423.1 497.8V488.9M423.4 497.8V487.0M423.6 497.8V481.8M423.8 497.8V487.1M424.0 497.8V489.0M424.2 497.8V490.6M424.5 497.8V481.5M424.7 497.8V485.4M424.9 497.8V489.1M425.1 497.8V485.4M425.3 497.8V490.1M425.6 497.8V489.5M425.8 497.8V490.6M426.0 497.8V485.6M426.2 497.8V485.0M426.4 497.8V489.8M426.7 497.8V469.7M426.9 497.8V485.4M427.1 497.8V485.5M427.3 497.8V483.4M427.5 497.8V488.2M427.8 497.8V486.9M428.0 497.8V484.3M428.2 497.8V486.1M428.4 497.8V484.6M428.6 497.8V491.0M428.9 497.8V482.3M429.1 497.8V488.8M429.3 497.8V486.7M429.5 497.8V491.3M429.8 497.8V484.0M430.0 497.8V482.6M430.2 497.8V483.1M430.4 497.8V485.1M430.6 497.8V491.8M430.9 497.8V490.3M431.1 497.8V488.5M431.3 497.8V491.6M431.5 497.8V483.5M431.7 497.8V486.1M432.0 497.8V486.8M432.2 497.8V485.2M432.4 497.8V491.0M432.6 497.8V489.8M432.8 497.8V489.7M433.1 497.8V485.1M433.3 497.8V486.3M433.5 497.8V486.1M433.7 497.8V483.3M433.9 497.8V493.0M434.2 497.8V487.9M434.4 497.8V487.0M434.6 497.8V492.4M434.8 497.8V489.1M435.0 497.8V477.3M435.3 497.8V482.3M435.5 497.8V482.2M435.7 497.8V486.2M435.9 497.8V487.7M436.1 497.8V482.3M436.4 497.8V489.0M436.6 497.8V486.2M436.8 497.8V483.6M437.0 497.8V488.7M437.2 497.8V488.2M437.5 497.8V486.8M437.7 497.8V485.1M437.9 497.8V485.5M438.1 497.8V486.4M438.3 497.8V485.1M438.6 497.8V492.9M438.8 497.8V490.2M439.0 497.8V487.8M439.2 497.8V490.6M439.5 497.8V480.0M439.7 497.8V492.2M439.9 497.8V491.1M440.1 497.8V487.1M440.3 497.8V491.8M440.6 497.8V487.4M440.8 497.8V480.7M441.0 497.8V488.9M441.2 497.8V483.6M441.4 497.8V485.3M441.7 497.8V491.4M441.9 497.8V487.4M442.1 497.8V490.0M442.3 497.8V486.1M442.5 497.8V492.1M442.8 497.8V481.8M443.0 497.8V485.9M443.2 497.8V494.3M443.4 497.8V483.6M443.6 497.8V483.2M443.9 497.8V488.8M444.1 497.8V483.7M444.3 497.8V475.5M444.5 497.8V488.0M444.7 497.8V492.8M445.0 497.8V485.0M445.2 497.8V493.8M445.4 497.8V495.2M445.6 497.8V487.1M445.8 497.8V476.3M446.1 497.8V489.8M446.3 497.8V483.8M446.5 497.8V488.3M446.7 497.8V488.9M446.9 497.8V485.7M447.2 497.8V482.2M447.4 497.8V491.7M447.6 497.8V485.5M447.8 497.8V487.2M448.0 497.8V491.6M448.3 497.8V482.0M448.5 497.8V481.4M448.7 497.8V489.5M448.9 497.8V481.1M449.2 497.8V488.3M449.4 497.8V473.6M449.6 497.8V482.3M449.8 497.8V487.3M450.0 497.8V487.2M450.3 497.8V483.7M450.5 497.8V484.0M450.7 497.8V485.2M450.9 497.8V492.8M451.1 497.8V491.6M451.4 497.8V483.6M451.6 497.8V491.6M451.8 497.8V487.5M452.0 497.8V491.5M452.2 497.8V489.4M452.5 497.8V492.1M452.7 497.8V482.2M452.9 497.8V490.0M453.1 497.8V488.3M453.3 497.8V487.8M453.6 497.8V483.2M453.8 497.8V493.4M454.0 497.8V487.6M454.2 497.8V488.6M454.4 497.8V486.9M454.7 497.8V487.4M454.9 497.8V487.9M455.1 497.8V488.1M455.3 497.8V488.0M455.5 497.8V486.5M455.8 497.8V489.3M456.0 497.8V488.7M456.2 497.8V487.4M456.4 497.8V486.8M456.6 497.8V479.3M456.9 497.8V488.9M457.1 497.8V487.0M457.3 497.8V482.3M457.5 497.8V493.4M457.7 497.8V488.9M458.0 497.8V491.2M458.2 497.8V487.1M458.4 497.8V479.1M458.6 497.8V485.7M458.9 497.8V482.5M459.1 497.8V487.8M459.3 497.8V494.1M459.5 497.8V493.9M459.7 497.8V483.7M460.0 497.8V486.9M460.2 497.8V493.4M460.4 497.8V485.3M460.6 497.8V493.7M460.8 497.8V483.2M461.1 497.8V483.8M461.3 497.8V491.0M461.5 497.8V490.7M461.7 497.8V486.1M461.9 497.8V492.2M462.2 497.8V485.7M462.4 497.8V493.2M462.6 497.8V484.6M462.8 497.8V488.1M463.0 497.8V489.6M463.3 497.8V491.4M463.5 497.8V488.3M463.7 497.8V493.1M463.9 497.8V489.9M464.1 497.8V489.9M464.4 497.8V485.1M464.6 497.8V492.6M464.8 497.8V482.3M465.0 497.8V489.5M465.2 497.8V491.6M465.5 497.8V483.9M465.7 497.8V482.6M465.9 497.8V490.0M466.1 497.8V492.3M466.3 497.8V487.9M466.6 497.8V489.5M466.8 497.8V487.7M467.0 497.8V482.0M467.2 497.8V486.7M467.4 497.8V487.2M467.7 497.8V486.4M467.9 497.8V487.6M468.1 497.8V483.9M468.3 497.8V485.6M468.5 497.8V489.4M468.8 497.8V487.0M469.0 497.8V480.8M469.2 497.8V487.8M469.4 497.8V487.6M469.7 497.8V482.6M469.9 497.8V487.0M470.1 497.8V490.6M470.3 497.8V486.8M470.5 497.8V490.4M470.8 497.8V490.3M471.0 497.8V487.7M471.2 497.8V487.2M471.4 497.8V489.6M471.6 497.8V475.0M471.9 497.8V490.3M472.1 497.8V483.0M472.3 497.8V490.4M472.5 497.8V488.7M472.7 497.8V480.8M473.0 497.8V491.2M473.2 497.8V482.4M473.4 497.8V482.9M473.6 497.8V487.6M473.8 497.8V492.5M474.1 497.8V488.0M474.3 497.8V485.0M474.5 497.8V485.2M474.7 497.8V488.8M474.9 497.8V485.0M475.2 497.8V484.4M475.4 497.8V490.8M475.6 497.8V484.7M475.8 497.8V486.5M476.0 497.8V491.4M476.3 497.8V488.7M476.5 497.8V482.8M476.7 497.8V485.0M476.9 497.8V494.9M477.1 497.8V486.9M477.4 497.8V489.7M477.6 497.8V488.9M477.8 497.8V489.7M478.0 497.8V493.2M478.2 497.8V486.2M478.5 497.8V492.0M478.7 497.8V488.3M478.9 497.8V491.3M479.1 497.8V492.0M479.4 497.8V484.7M479.6 497.8V468.6M479.8 497.8V490.0M480.0 497.8V491.5M480.2 497.8V488.6M480.5 497.8V485.4M480.7 497.8V489.2M480.9 497.8V487.7M481.1 497.8V489.3M481.3 497.8V489.1M481.6 497.8V486.6M481.8 497.8V495.2M482.0 497.8V482.1M482.2 497.8V490.9M482.4 497.8V489.6M482.7 497.8V478.0M482.9 497.8V488.2M483.1 497.8V488.7M483.3 497.8V490.9M483.5 497.8V493.6M483.8 497.8V487.5M484.0 497.8V483.6M484.2 497.8V492.2M484.4 497.8V484.1M484.6 497.8V475.4M484.9 497.8V489.9M485.1 497.8V486.2M485.3 497.8V488.1M485.5 497.8V485.7M485.7 497.8V491.0M486.0 497.8V491.0M486.2 497.8V493.1M486.4 497.8V492.2M486.6 497.8V493.0M486.8 497.8V493.3M487.1 497.8V488.1M487.3 497.8V491.5M487.5 497.8V494.6M487.7 497.8V479.5M487.9 497.8V491.6M488.2 497.8V492.8M488.4 497.8V484.7M488.6 497.8V485.5M488.8 497.8V492.1M489.1 497.8V493.5M489.3 497.8V490.6M489.5 497.8V484.5M489.7 497.8V488.2M489.9 497.8V490.2M490.2 497.8V488.6M490.4 497.8V485.9M490.6 497.8V493.8M490.8 497.8V490.8M491.0 497.8V492.4M491.3 497.8V482.4M491.5 497.8V482.2M491.7 497.8V485.9M491.9 497.8V489.0M492.1 497.8V485.7M492.4 497.8V494.6M492.6 497.8V488.6M492.8 497.8V493.5M493.0 497.8V491.7M493.2 497.8V490.7M493.5 497.8V490.3M493.7 497.8V487.7M493.9 497.8V487.5M494.1 497.8V488.2M494.3 497.8V491.4M494.6 497.8V486.5M494.8 497.8V488.1M495.0 497.8V483.4M495.2 497.8V491.4M495.4 497.8V494.5M495.7 497.8V489.4M495.9 497.8V482.7M496.1 497.8V486.4M496.3 497.8V488.2M496.5 497.8V485.0M496.8 497.8V488.1M497.0 497.8V486.9M497.2 497.8V489.5M497.4 497.8V488.6M497.6 497.8V487.1M497.9 497.8V491.7M498.1 497.8V492.2M498.3 497.8V488.0M498.5 497.8V484.7M498.8 497.8V486.8M499.0 497.8V487.7M499.2 497.8V486.5M499.4 497.8V471.9M499.6 497.8V488.2M499.9 497.8V485.4M500.1 497.8V481.6M500.3 497.8V479.4M500.5 497.8V487.7M500.7 497.8V484.8M501.0 497.8V482.8M501.2 497.8V486.4M501.4 497.8V487.6M501.6 497.8V488.2M501.8 497.8V493.9M502.1 497.8V485.9M502.3 497.8V490.2M502.5 497.8V494.8M502.7 497.8V489.1M502.9 497.8V494.9M503.2 497.8V491.8M503.4 497.8V472.4M503.6 497.8V492.9M503.8 497.8V486.0M504.0 497.8V493.5M504.3 497.8V489.1M504.5 497.8V487.9M504.7 497.8V483.8M504.9 497.8V486.0M505.1 497.8V486.9M505.4 497.8V488.3M505.6 497.8V488.2M505.8 497.8V485.5M506.0 497.8V485.0M506.2 497.8V486.1M506.5 497.8V488.8M506.7 497.8V486.9M506.9 497.8V490.3M507.1 497.8V482.9M507.3 497.8V490.4M507.6 497.8V489.0M507.8 497.8V489.0M508.0 497.8V487.1M508.2 497.8V486.8M508.5 497.8V487.8M508.7 497.8V484.9M508.9 497.8V493.8M509.1 497.8V470.2M509.3 497.8V492.7M509.6 497.8V487.8M509.8 497.8V493.6M510.0 497.8V491.7M510.2 497.8V489.9M510.4 497.8V483.0M510.7 497.8V486.9M510.9 497.8V475.0M511.1 497.8V485.6M511.3 497.8V492.7M511.5 497.8V494.5M511.8 497.8V490.0M512.0 497.8V489.3M512.2 497.8V484.3M512.4 497.8V472.0M512.6 497.8V492.8M512.9 497.8V480.7M513.1 497.8V484.4" stroke="#a7cdef" stroke-width="0.4" fill="none"/>
<path d="M314.9 497.8L314.9 437.7L315.3 455.9L315.8 457.2L316.2 458.9L316.7 460.9L317.1 462.6L317.5 464.9L318.0 464.9L318.4 465.4L318.9 465.6L319.3 465.6L319.7 472.8L320.2 475.9L320.6 478.0L321.1 475.9L321.5 475.9L322.0 472.7L322.4 472.7L322.8 472.9L323.3 472.9L323.7 476.7L324.2 478.0L324.6 480.2L325.0 480.2L325.5 478.2L325.9 473.0L326.4 478.2L326.8 472.7L327.2 482.3L327.7 482.3L328.1 478.5L328.6 478.5L329.0 478.5L329.4 479.8L329.9 479.8L330.3 478.4L330.8 478.4L331.2 478.4L331.7 478.8L332.1 483.4L332.5 483.4L333.0 484.8L333.4 485.4L333.9 485.4L334.3 486.7L334.7 485.4L335.2 482.3L335.6 483.4L336.1 481.1L336.5 483.4L336.9 481.1L337.4 483.6L337.8 482.9L338.3 486.5L338.7 486.5L339.1 481.7L339.6 487.5L340.0 483.3L340.5 485.2L340.9 485.4L341.4 485.2L341.8 484.4L342.2 483.3L342.7 483.3L343.1 488.6L343.6 488.6L344.0 488.6L344.4 484.9L344.9 483.1L345.3 485.7L345.8 485.9L346.2 485.9L346.6 485.9L347.1 487.7L347.5 484.5L348.0 486.0L348.4 486.0L348.8 486.0L349.3 486.4L349.7 481.9L350.2 481.9L350.6 483.0L351.1 484.5L351.5 487.0L351.9 487.0L352.4 485.9L352.8 483.7L353.3 484.9L353.7 486.0L354.1 486.0L354.6 486.3L355.0 487.6L355.5 487.6L355.9 487.5L356.3 488.1L356.8 488.1L357.2 489.0L357.7 488.1L358.1 489.6L358.5 490.9L359.0 490.9L359.4 484.0L359.9 484.5L360.3 484.5L360.8 485.7L361.2 487.4L361.6 489.1L362.1 489.1L362.5 487.5L363.0 487.3L363.4 487.5L363.8 489.7L364.3 491.6L364.7 491.7L365.2 491.6L365.6 491.6L366.0 489.5L366.5 486.9L366.9 487.6L367.4 489.4L367.8 489.4L368.2 489.4L368.7 489.4L369.1 487.5L369.6 487.5L370.0 487.8L370.5 483.5L370.9 487.8L371.3 487.8L371.8 488.6L372.2 488.8L372.7 488.6L373.1 491.2L373.5 491.2L374.0 491.1L374.4 491.1L374.9 491.1L375.3 489.4L375.7 487.6L376.2 486.6L376.6 486.6L377.1 489.6L377.5 489.6L377.9 489.6L378.4 488.9L378.8 488.9L379.3 489.6L379.7 493.1L380.2 493.1L380.6 491.5L381.0 491.5L381.5 491.5L381.9 491.5L382.4 492.1L382.8 491.7L383.2 491.7L383.7 490.1L384.1 490.3L384.6 490.3L385.0 490.3L385.4 490.4L385.9 487.7L386.3 490.4L386.8 490.9L387.2 490.9L387.6 488.3L388.1 487.0L388.5 486.5L389.0 487.0L389.4 487.1L389.9 489.1L390.3 490.2L390.7 490.8L391.2 490.8L391.6 490.2L392.1 488.7L392.5 488.7L392.9 486.6L393.4 492.3L393.8 492.3L394.3 492.3L394.7 492.3L395.1 488.6L395.6 489.8L396.0 489.8L396.5 488.6L396.9 487.1L397.3 488.6L397.8 488.7L398.2 488.7L398.7 490.4L399.1 490.4L399.6 491.1L400.0 491.1L400.4 493.0L400.9 493.0L401.3 490.4L401.8 490.4L402.2 490.3L402.6 487.3L403.1 487.3L403.5 489.3L404.0 489.4L404.4 490.6L404.8 489.4L405.3 488.8L405.7 490.2L406.2 489.7L406.6 490.2L407.0 493.9L407.5 493.9L407.9 493.9L408.4 493.9L408.8 493.3L409.3 494.2L409.7 494.2L410.1 494.1L410.6 491.3L411.0 491.6L411.5 494.1L411.9 491.6L412.3 490.6L412.8 490.2L413.2 490.7L413.7 490.7L414.1 490.7L414.5 490.4L415.0 490.2L415.4 489.8L415.9 492.9L416.3 492.9L416.7 492.3L417.2 489.9L417.6 491.8L418.1 492.3L418.5 491.8L418.9 489.5L419.4 494.7L419.8 489.5L420.3 493.7L420.7 494.7L421.2 493.7L421.6 493.5L422.0 493.5L422.5 492.8L422.9 492.0L423.4 491.5L423.8 491.5L424.2 490.8L424.7 493.1L425.1 493.1L425.6 493.1L426.0 493.1L426.4 492.1L426.9 490.6L427.3 490.0L427.8 490.0L428.2 490.6L428.6 492.4L429.1 494.0L429.5 492.4L430.0 494.4L430.4 492.4L430.9 493.0L431.3 493.0L431.7 493.0L432.2 492.9L432.6 492.9L433.1 492.9L433.5 492.8L433.9 494.5L434.4 494.5L434.8 491.7L435.3 491.7L435.7 490.6L436.1 490.6L436.6 491.2L437.0 491.2L437.5 491.2L437.9 492.0L438.3 492.9L438.8 493.2L439.2 494.1L439.7 493.5L440.1 493.5L440.6 493.1L441.0 493.5L441.4 493.4L441.9 493.9L442.3 493.9L442.8 494.0L443.2 494.0L443.6 492.8L444.1 492.8L444.5 495.8L445.0 496.2L445.4 496.2L445.8 496.2L446.3 491.3L446.7 492.2L447.2 491.3L447.6 494.4L448.0 494.4L448.5 493.5L448.9 490.1L449.4 490.1L449.8 489.5L450.3 489.5L450.7 495.0L451.1 495.0L451.6 495.0L452.0 494.0L452.5 494.0L452.9 493.8L453.3 493.8L453.8 491.1L454.2 492.0L454.7 491.7L455.1 491.7L455.5 492.0L456.0 491.7L456.4 492.1L456.9 492.1L457.3 494.5L457.7 494.5L458.2 494.5L458.6 494.5L459.1 496.7L459.5 496.7L460.0 496.7L460.4 494.9L460.8 494.9L461.3 494.3L461.7 494.3L462.2 494.3L462.6 494.3L463.0 494.6L463.5 493.6L463.9 494.8L464.4 494.8L464.8 494.5L465.2 494.5L465.7 493.7L466.1 493.0L466.6 493.0L467.0 491.7L467.4 490.9L467.9 490.9L468.3 490.9L468.8 491.4L469.2 491.4L469.7 491.4L470.1 493.8L470.5 493.8L471.0 493.3L471.4 492.8L471.9 493.2L472.3 492.8L472.7 492.7L473.2 492.7L473.6 492.7L474.1 491.4L474.5 490.6L474.9 490.6L475.4 492.8L475.8 492.8L476.3 492.8L476.7 492.8L477.1 492.6L477.6 495.8L478.0 494.1L478.5 494.1L478.9 493.4L479.4 493.4L479.8 493.4L480.2 493.2L480.7 492.5L481.1 492.1L481.6 493.6L482.0 493.6L482.4 493.6L482.9 493.6L483.3 493.0L483.8 494.0L484.2 494.0L484.6 493.5L485.1 493.5L485.5 494.5L486.0 495.1L486.4 495.8L486.8 496.7L487.3 495.8L487.7 495.3L488.2 495.3L488.6 495.3L489.1 494.9L489.5 494.9L489.9 494.4L490.4 495.7L490.8 495.7L491.3 495.7L491.7 495.7L492.1 495.6L492.6 495.6L493.0 495.6L493.5 495.6L493.9 493.5L494.3 491.7L494.8 494.3L495.2 494.3L495.7 494.3L496.1 492.8L496.5 491.9L497.0 491.9L497.4 493.4L497.9 493.4L498.3 493.4L498.8 490.9L499.2 489.7L499.6 489.7L500.1 490.5L500.5 490.4L501.0 490.5L501.4 491.1L501.8 495.3L502.3 496.7L502.7 496.7L503.2 496.7L503.6 496.2L504.0 494.4L504.5 490.7L504.9 491.2L505.4 491.2L505.8 491.6L506.2 491.7L506.7 492.3L507.1 492.3L507.6 492.3L508.0 490.6L508.5 490.6L508.9 495.5L509.3 495.5L509.8 495.3L510.2 494.6L510.7 494.6L511.1 494.6L511.5 494.6L512.0 495.8L512.4 492.9L512.9 487.5L513.1 497.8Z" fill="#3d8ed2"/>
<path d="M314.9 421.0V412.9M315.1 431.9V428.3M315.3 440.9V434.5M315.6 445.6V440.7M315.8 458.3V453.5M316.0 460.9V456.9M316.2 453.8V448.7M316.4 460.1V454.3M316.7 454.4V449.6M316.9 475.2V469.8M317.1 450.9V444.8M317.3 464.5V457.3M317.5 458.9V453.2M317.8 464.9V460.2M318.0 468.9V461.0M318.2 461.4V457.9M318.4 459.2V456.4M318.6 469.2V461.6M318.9 467.6V463.6M319.1 462.2V458.8M319.3 473.7V468.9M319.5 461.1V456.6M319.7 466.2V461.6M320.0 458.9V451.6M320.2 481.7V477.4M320.4 474.5V471.2M320.6 472.9V469.1M320.9 479.8V472.0M321.1 480.5V475.5M321.3 471.2V466.6M321.5 467.4V460.5M321.7 458.9V451.2M322.0 477.3V471.8M322.2 455.5V448.4M322.4 468.4V464.4M322.6 475.0V470.4M322.8 470.9V465.1M323.1 467.3V463.4M323.3 475.0V470.9M323.5 478.5V474.8M323.7 472.2V468.2M323.9 474.6V467.4M324.2 469.9V462.9M324.4 481.8V478.5M324.6 479.1V474.6M324.8 481.3V474.7M325.0 486.8V479.5M325.3 475.9V470.2M325.5 474.3V467.7M325.7 480.1V476.2M325.9 470.2V463.3M326.1 473.6V466.4M326.4 473.7V468.8M326.6 474.6V470.7M326.8 471.3V468.5M327.0 485.3V479.3M327.2 475.1V469.0M327.5 473.6V471.0M327.7 487.7V482.3M327.9 477.8V470.1M328.1 478.6V475.9M328.3 473.7V470.3M328.6 480.0V477.1M328.8 479.0V474.0M329.0 477.1V472.4M329.2 484.9V477.5M329.4 475.2V472.2M329.7 479.3V475.6M329.9 478.4V470.6M330.1 481.2V478.5M330.3 473.8V469.7M330.6 476.7V472.0M330.8 479.7V477.1M331.0 476.6V472.4M331.2 474.4V468.5M331.4 471.9V465.9M331.7 488.8V482.9M331.9 476.8V470.6M332.1 470.8V464.8M332.3 480.2V477.4M332.5 486.5V480.3M332.8 475.2V469.4M333.0 486.7V482.9M333.2 478.4V473.5M333.4 474.4V470.5M333.6 490.4V483.0M333.9 482.5V478.4M334.1 487.2V483.7M334.3 481.5V474.5M334.5 475.4V468.6M334.7 473.3V466.0M335.0 491.1V484.8M335.2 484.7V479.8M335.4 478.9V473.7M335.6 475.0V469.4M335.8 480.7V474.8M336.1 487.3V479.5M336.3 480.6V476.5M336.5 483.5V476.7M336.7 482.4V479.7M336.9 485.5V481.8M337.2 482.3V474.6M337.4 480.9V476.9M337.6 483.6V478.1M337.8 485.3V477.7M338.0 489.6V483.4M338.3 485.5V480.2M338.5 466.9V460.4M338.7 485.6V477.7M338.9 491.4V483.6M339.1 464.2V460.6M339.4 480.2V476.9M339.6 473.5V469.3M339.8 482.5V479.1M340.0 486.7V479.9M340.3 491.4V484.3M340.5 477.0V473.6M340.7 471.2V468.2M340.9 487.4V483.0M341.1 487.6V481.2M341.4 482.3V475.4M341.6 487.9V482.8M341.8 486.0V479.8M342.0 487.1V479.5M342.2 484.6V477.2M342.5 478.6V475.3M342.7 485.1V478.6M342.9 481.3V474.4M343.1 487.7V480.1M343.3 483.1V478.2M343.6 493.4V489.9M343.8 491.2V486.0M344.0 481.0V476.4M344.2 487.3V482.5M344.4 483.3V476.3M344.7 483.1V476.9M344.9 479.8V473.5M345.1 482.0V475.8M345.3 479.8V476.4M345.5 484.6V481.6M345.8 488.1V483.3M346.0 489.5V482.3M346.2 488.0V481.8M346.4 491.2V484.2M346.6 488.2V482.2M346.9 486.7V479.8M347.1 485.9V477.8M347.3 487.7V481.2M347.5 495.0V487.7M347.7 487.4V479.4M348.0 485.5V478.8M348.2 482.0V475.0M348.4 482.2V479.2M348.6 487.4V484.6M348.8 490.2V482.6M349.1 476.7V472.7M349.3 482.3V478.0M349.5 477.3V473.9M349.7 477.4V471.3M350.0 488.4V485.6M350.2 485.4V478.4M350.4 483.8V479.5M350.6 484.6V477.9M350.8 485.2V477.6M351.1 486.0V479.7M351.3 485.5V480.5M351.5 493.2V487.1M351.7 488.2V480.9M351.9 490.3V483.8M352.2 485.4V481.4M352.4 487.2V484.6M352.6 485.1V477.7M352.8 483.6V477.6M353.0 484.2V481.3M353.3 485.6V479.9M353.5 486.7V480.8M353.7 488.1V483.9M353.9 488.6V481.2M354.1 488.3V484.3M354.4 484.4V480.9M354.6 486.4V482.1M354.8 478.9V474.4M355.0 493.6V486.2M355.2 483.8V477.6M355.5 489.2V486.0M355.7 489.9V485.1M355.9 486.9V483.7M356.1 490.1V483.6M356.3 487.0V479.7M356.6 488.5V485.4M356.8 491.7V486.4M357.0 490.1V486.2M357.2 481.4V477.2M357.4 487.9V481.2M357.7 493.5V485.6M357.9 486.8V482.7M358.1 481.6V476.0M358.3 479.7V475.4M358.5 492.6V489.6M358.8 485.9V480.0M359.0 484.5V481.0M359.2 494.1V487.7M359.4 472.4V465.7M359.7 482.7V479.3M359.9 486.1V480.2M360.1 485.9V482.2M360.3 484.7V477.9M360.5 486.6V482.4M360.8 487.0V480.6M361.0 488.8V482.6M361.2 485.6V479.8M361.4 491.0V487.2M361.6 485.7V478.5M361.9 489.6V485.1M362.1 493.2V486.3M362.3 486.5V481.3M362.5 481.1V476.1M362.7 484.8V478.3M363.0 489.8V485.3M363.2 486.1V479.3M363.4 489.9V484.8M363.6 489.4V482.7M363.8 488.4V482.0M364.1 498.7V491.0M364.3 487.3V482.4M364.5 492.0V487.5M364.7 492.5V484.4M364.9 494.3V488.8M365.2 494.2V489.3M365.4 492.7V486.3M365.6 484.5V480.5M365.8 483.1V475.2M366.0 489.3V482.5M366.3 484.6V478.4M366.5 489.0V484.8M366.7 497.0V489.9M366.9 489.1V481.5M367.1 487.6V480.7M367.4 491.4V483.8M367.6 486.3V483.2M367.8 487.1V480.4M368.0 493.1V485.7M368.2 494.5V489.2M368.5 488.5V485.4M368.7 489.7V484.1M368.9 489.5V485.5M369.1 483.7V480.9M369.3 483.3V475.5M369.6 491.4V484.2M369.8 486.5V480.4M370.0 485.9V479.2M370.2 486.6V480.3M370.5 470.0V464.8M370.7 489.5V486.2M370.9 485.5V481.3M371.1 481.1V475.7M371.3 486.1V480.3M371.6 490.9V486.7M371.8 485.7V482.4M372.0 483.8V479.3M372.2 486.8V483.2M372.4 492.5V484.8M372.7 482.4V478.6M372.9 493.7V489.0M373.1 487.4V481.8M373.3 488.6V484.6M373.5 493.8V488.5M373.8 484.7V479.0M374.0 486.7V483.8M374.2 495.0V487.2M374.4 487.1V481.5M374.6 490.0V486.6M374.9 498.0V490.0M375.1 491.1V487.6M375.3 489.0V482.4M375.5 486.9V481.7M375.7 488.1V484.1M376.0 489.0V484.3M376.2 487.6V482.4M376.4 489.9V485.3M376.6 484.3V480.3M376.8 488.7V483.8M377.1 488.2V483.2M377.3 488.0V481.6M377.5 492.8V489.1M377.7 491.1V488.2M377.9 484.7V477.5M378.2 487.2V484.2M378.4 491.1V485.0M378.6 488.5V482.9M378.8 492.8V484.9M379.0 487.8V484.1M379.3 493.3V485.8M379.5 487.7V484.4M379.7 494.9V491.3M379.9 474.6V468.4M380.2 490.8V487.3M380.4 496.0V490.2M380.6 491.2V484.8M380.8 490.2V486.9M381.0 490.1V483.1M381.3 494.0V489.1M381.5 489.7V481.8M381.7 474.9V472.2M381.9 493.6V490.6M382.1 489.0V483.0M382.4 482.5V478.5M382.6 489.0V484.2M382.8 497.9V490.4M383.0 493.9V489.4M383.2 487.1V484.2M383.5 489.2V485.8M383.7 484.1V478.4M383.9 493.5V486.6M384.1 490.1V483.4M384.3 479.1V473.9M384.6 492.3V488.4M384.8 492.5V489.2M385.0 489.5V485.7M385.2 489.5V485.8M385.4 488.1V480.6M385.7 489.5V484.6M385.9 492.0V488.7M386.1 489.8V483.7M386.3 480.3V475.2M386.5 484.2V481.4M386.8 500.7V492.7M387.0 492.0V484.3M387.2 492.9V488.9M387.4 488.9V481.7M387.6 490.9V485.8M387.9 483.6V477.3M388.1 487.3V481.1M388.3 487.7V481.1M388.5 489.5V484.5M388.7 480.6V477.2M389.0 490.0V483.0M389.2 485.5V480.4M389.4 488.3V483.3M389.6 492.5V485.7M389.9 469.3V462.9M390.1 491.1V483.1M390.3 490.5V485.8M390.5 493.8V487.7M390.7 491.5V488.4M391.0 491.8V488.6M391.2 498.7V494.7M391.4 486.2V482.1M391.6 488.4V483.3M391.8 490.7V486.8M392.1 488.0V480.2M392.3 488.8V483.9M392.5 489.0V484.2M392.7 500.5V492.9M392.9 476.5V469.5M393.2 489.5V482.6M393.4 485.9V478.3M393.6 479.9V473.2M393.8 485.0V480.7M394.0 496.3V488.4M394.3 497.5V494.8M394.5 489.8V482.2M394.7 490.5V485.5M394.9 486.8V482.4M395.1 491.2V486.0M395.4 489.7V484.9M395.6 497.3V490.0M395.8 490.0V483.0M396.0 493.2V486.5M396.2 488.9V485.0M396.5 489.0V484.0M396.7 490.2V487.1M396.9 490.4V483.7M397.1 474.0V471.2M397.3 487.9V483.1M397.6 468.7V465.2M397.8 484.1V476.8M398.0 494.3V486.6M398.2 484.1V479.8M398.4 492.4V485.0M398.7 486.5V482.9M398.9 490.2V483.7M399.1 492.4V488.4M399.3 493.6V488.6M399.6 490.9V485.0M399.8 489.7V485.2M400.0 488.0V484.3M400.2 495.9V490.1M400.4 494.1V487.1M400.7 492.8V484.7M400.9 484.8V480.5M401.1 498.7V494.7M401.3 488.4V485.4M401.5 492.3V488.6M401.8 488.3V485.5M402.0 492.3V488.3M402.2 490.5V483.9M402.4 484.5V481.2M402.6 490.3V484.2M402.9 489.1V484.9M403.1 489.1V485.3M403.3 475.8V470.5M403.5 489.1V484.1M403.7 491.9V486.8M404.0 493.2V489.9M404.2 491.6V485.9M404.4 493.2V485.7M404.6 487.3V484.6M404.8 490.3V487.3M405.1 493.5V487.6M405.3 485.6V481.3M405.5 487.1V483.1M405.7 488.1V480.1M405.9 488.7V484.4M406.2 492.9V485.3M406.4 493.2V487.2M406.6 491.1V488.3M406.8 487.4V483.3M407.0 489.9V486.8M407.3 496.9V491.3M407.5 492.7V485.1M407.7 495.3V492.4M407.9 489.6V486.8M408.1 494.5V491.7M408.4 495.4V491.3M408.6 490.2V486.6M408.8 493.1V485.2M409.0 498.2V491.4M409.3 490.1V482.3M409.5 484.0V478.3M409.7 497.7V490.6M409.9 475.9V469.4M410.1 493.5V489.2M410.4 493.8V487.6M410.6 491.7V487.5M410.8 496.7V491.5M411.0 487.9V480.8M411.2 489.1V485.3M411.5 493.4V489.8M411.7 476.3V469.0M411.9 496.9V491.8M412.1 492.0V488.4M412.3 487.8V483.5M412.6 488.4V484.3M412.8 494.3V486.8M413.0 485.3V480.1M413.2 489.1V481.5M413.4 486.9V481.7M413.7 494.5V486.8M413.9 495.5V487.9M414.1 490.3V484.6M414.3 493.8V486.9M414.5 492.3V488.1M414.8 486.9V483.7M415.0 486.1V480.2M415.2 489.6V486.7M415.4 492.4V487.2M415.6 490.1V484.1M415.9 499.2V492.4M416.1 493.0V485.5M416.3 494.8V491.0M416.5 484.4V477.1M416.7 489.3V484.0M417.0 491.7V485.7M417.2 492.5V487.3M417.4 496.0V488.7M417.6 488.8V484.6M417.8 484.8V482.2M418.1 495.4V488.2M418.3 490.0V483.7M418.5 478.9V472.4M418.7 496.4V493.1M418.9 487.9V484.1M419.2 487.5V481.5M419.4 491.8V485.1M419.6 492.6V486.4M419.8 489.5V483.6M420.1 497.8V491.6M420.3 490.7V487.3M420.5 488.2V483.1M420.7 495.9V491.5M420.9 489.2V482.5M421.2 493.5V488.1M421.4 499.9V493.4M421.6 493.0V486.5M421.8 496.6V489.0M422.0 491.9V484.6M422.3 495.0V492.0M422.5 488.9V482.6M422.7 494.3V489.7M422.9 489.8V486.6M423.1 494.1V488.9M423.4 494.2V487.0M423.6 488.8V481.8M423.8 490.3V487.1M424.0 492.7V489.0M424.2 497.0V490.6M424.5 489.4V481.5M424.7 488.5V485.4M424.9 492.2V489.1M425.1 491.9V485.4M425.3 496.1V490.1M425.6 496.6V489.5M425.8 494.3V490.6M426.0 491.0V485.6M426.2 492.0V485.0M426.4 494.5V489.8M426.7 474.5V469.7M426.9 488.2V485.4M427.1 492.5V485.5M427.3 488.5V483.4M427.5 492.9V488.2M427.8 493.1V486.9M428.0 491.6V484.3M428.2 493.4V486.1M428.4 489.1V484.6M428.6 496.9V491.0M428.9 487.1V482.3M429.1 496.0V488.8M429.3 493.7V486.7M429.5 497.6V491.3M429.8 491.2V484.0M430.0 488.0V482.6M430.2 488.8V483.1M430.4 488.6V485.1M430.6 498.3V491.8M430.9 494.5V490.3M431.1 494.2V488.5M431.3 494.3V491.6M431.5 488.2V483.5M431.7 492.1V486.1M432.0 492.9V486.8M432.2 490.9V485.2M432.4 495.0V491.0M432.6 496.0V489.8M432.8 495.9V489.7M433.1 491.0V485.1M433.3 491.0V486.3M433.5 489.5V486.1M433.7 488.9V483.3M433.9 495.9V493.0M434.2 495.6V487.9M434.4 491.6V487.0M434.6 496.6V492.4M434.8 494.2V489.1M435.0 480.5V477.3M435.3 489.8V482.3M435.5 490.1V482.2M435.7 493.3V486.2M435.9 493.5V487.7M436.1 490.1V482.3M436.4 493.4V489.0M436.6 491.3V486.2M436.8 487.1V483.6M437.0 493.6V488.7M437.2 495.9V488.2M437.5 493.1V486.8M437.7 490.7V485.1M437.9 491.1V485.5M438.1 492.5V486.4M438.3 491.0V485.1M438.6 498.0V492.9M438.8 495.6V490.2M439.0 491.0V487.8M439.2 495.7V490.6M439.5 486.4V480.0M439.7 496.0V492.2M439.9 495.2V491.1M440.1 494.1V487.1M440.3 495.2V491.8M440.6 491.1V487.4M440.8 487.8V480.7M441.0 492.2V488.9M441.2 487.8V483.6M441.4 492.9V485.3M441.7 496.3V491.4M441.9 494.5V487.4M442.1 496.8V490.0M442.3 488.8V486.1M442.5 495.9V492.1M442.8 489.4V481.8M443.0 490.3V485.9M443.2 499.1V494.3M443.4 491.3V483.6M443.6 486.4V483.2M443.9 496.8V488.8M444.1 489.8V483.7M444.3 481.5V475.5M444.5 490.6V488.0M444.7 498.8V492.8M445.0 492.1V485.0M445.2 498.6V493.8M445.4 498.2V495.2M445.6 490.5V487.1M445.8 479.3V476.3M446.1 494.6V489.8M446.3 490.9V483.8M446.5 491.3V488.3M446.7 493.7V488.9M446.9 490.5V485.7M447.2 487.0V482.2M447.4 497.2V491.7M447.6 491.1V485.5M447.8 490.9V487.2M448.0 498.5V491.6M448.3 487.5V482.0M448.5 485.9V481.4M448.7 497.4V489.5M448.9 487.6V481.1M449.2 491.8V488.3M449.4 481.5V473.6M449.6 488.1V482.3M449.8 491.8V487.3M450.0 491.2V487.2M450.3 486.7V483.7M450.5 487.9V484.0M450.7 489.4V485.2M450.9 497.3V492.8M451.1 499.6V491.6M451.4 489.5V483.6M451.6 495.3V491.6M451.8 492.2V487.5M452.0 496.5V491.5M452.2 492.5V489.4M452.5 497.3V492.1M452.7 487.6V482.2M452.9 497.6V490.0M453.1 493.3V488.3M453.3 494.2V487.8M453.6 489.5V483.2M453.8 497.0V493.4M454.0 493.4V487.6M454.2 493.6V488.6M454.4 490.4V486.9M454.7 490.2V487.4M454.9 496.0V487.9M455.1 491.2V488.1M455.3 495.4V488.0M455.5 491.2V486.5M455.8 492.3V489.3M456.0 496.6V488.7M456.2 493.7V487.4M456.4 491.7V486.8M456.6 486.4V479.3M456.9 495.4V488.9M457.1 491.9V487.0M457.3 488.8V482.3M457.5 500.0V493.4M457.7 492.5V488.9M458.0 497.8V491.2M458.2 494.7V487.1M458.4 485.5V479.1M458.6 492.7V485.7M458.9 490.5V482.5M459.1 494.8V487.8M459.3 499.3V494.1M459.5 499.6V493.9M459.7 490.5V483.7M460.0 493.0V486.9M460.2 496.4V493.4M460.4 488.3V485.3M460.6 497.8V493.7M460.8 490.3V483.2M461.1 487.6V483.8M461.3 495.3V491.0M461.5 497.8V490.7M461.7 489.4V486.1M461.9 496.3V492.2M462.2 489.7V485.7M462.4 496.0V493.2M462.6 491.3V484.6M462.8 492.5V488.1M463.0 494.5V489.6M463.3 495.8V491.4M463.5 491.3V488.3M463.7 500.3V493.1M463.9 493.2V489.9M464.1 494.1V489.9M464.4 491.7V485.1M464.6 497.1V492.6M464.8 487.6V482.3M465.0 493.9V489.5M465.2 497.3V491.6M465.5 488.2V483.9M465.7 487.7V482.6M465.9 492.6V490.0M466.1 495.0V492.3M466.3 493.3V487.9M466.6 496.5V489.5M466.8 495.8V487.7M467.0 489.0V482.0M467.2 492.2V486.7M467.4 493.3V487.2M467.7 492.7V486.4M467.9 494.2V487.6M468.1 492.0V483.9M468.3 490.1V485.6M468.5 494.5V489.4M468.8 493.8V487.0M469.0 484.6V480.8M469.2 490.9V487.8M469.4 495.2V487.6M469.7 485.3V482.6M469.9 494.5V487.0M470.1 498.2V490.6M470.3 490.3V486.8M470.5 497.2V490.4M470.8 494.5V490.3M471.0 491.8V487.7M471.2 495.2V487.2M471.4 497.1V489.6M471.6 481.8V475.0M471.9 495.3V490.3M472.1 491.0V483.0M472.3 496.1V490.4M472.5 496.7V488.7M472.7 487.4V480.8M473.0 494.1V491.2M473.2 489.4V482.4M473.4 490.1V482.9M473.6 495.1V487.6M473.8 498.6V492.5M474.1 490.8V488.0M474.3 492.3V485.0M474.5 490.1V485.2M474.7 492.5V488.8M474.9 488.8V485.0M475.2 488.2V484.4M475.4 497.9V490.8M475.6 487.7V484.7M475.8 494.1V486.5M476.0 494.1V491.4M476.3 495.3V488.7M476.5 486.7V482.8M476.7 490.4V485.0M476.9 498.5V494.9M477.1 494.4V486.9M477.4 493.1V489.7M477.6 494.1V488.9M477.8 495.6V489.7M478.0 498.3V493.2M478.2 490.0V486.2M478.5 496.2V492.0M478.7 496.0V488.3M478.9 494.6V491.3M479.1 494.7V492.0M479.4 492.3V484.7M479.6 476.1V468.6M479.8 496.4V490.0M480.0 496.7V491.5M480.2 496.5V488.6M480.5 490.3V485.4M480.7 491.9V489.2M480.9 492.7V487.7M481.1 494.9V489.3M481.3 494.7V489.1M481.6 494.0V486.6M481.8 498.2V495.2M482.0 489.4V482.1M482.2 496.4V490.9M482.4 496.2V489.6M482.7 482.9V478.0M482.9 492.4V488.2M483.1 493.1V488.7M483.3 495.0V490.9M483.5 498.7V493.6M483.8 493.4V487.5M484.0 490.7V483.6M484.2 495.8V492.2M484.4 489.2V484.1M484.6 480.9V475.4M484.9 497.0V489.9M485.1 492.7V486.2M485.3 494.1V488.1M485.5 492.0V485.7M485.7 496.1V491.0M486.0 498.0V491.0M486.2 500.3V493.1M486.4 497.9V492.2M486.6 496.3V493.0M486.8 498.3V493.3M487.1 492.2V488.1M487.3 495.1V491.5M487.5 498.8V494.6M487.7 486.6V479.5M487.9 496.1V491.6M488.2 497.7V492.8M488.4 489.5V484.7M488.6 489.2V485.5M488.8 497.8V492.1M489.1 498.4V493.5M489.3 498.3V490.6M489.5 490.5V484.5M489.7 496.2V488.2M489.9 497.5V490.2M490.2 493.9V488.6M490.4 488.6V485.9M490.6 497.6V493.8M490.8 494.1V490.8M491.0 499.0V492.4M491.3 485.8V482.4M491.5 488.4V482.2M491.7 490.3V485.9M491.9 494.3V489.0M492.1 492.5V485.7M492.4 498.8V494.6M492.6 492.1V488.6M492.8 497.7V493.5M493.0 499.4V491.7M493.2 496.4V490.7M493.5 494.5V490.3M493.7 491.1V487.7M493.9 490.5V487.5M494.1 492.6V488.2M494.3 497.3V491.4M494.6 491.6V486.5M494.8 495.2V488.1M495.0 491.5V483.4M495.2 497.1V491.4M495.4 499.0V494.5M495.7 496.3V489.4M495.9 485.8V482.7M496.1 493.2V486.4M496.3 495.7V488.2M496.5 491.9V485.0M496.8 491.3V488.1M497.0 492.7V486.9M497.2 496.5V489.5M497.4 493.5V488.6M497.6 494.3V487.1M497.9 495.2V491.7M498.1 497.7V492.2M498.3 493.7V488.0M498.5 491.7V484.7M498.8 491.7V486.8M499.0 491.8V487.7M499.2 493.0V486.5M499.4 475.2V471.9M499.6 492.8V488.2M499.9 490.6V485.4M500.1 488.5V481.6M500.3 484.3V479.4M500.5 493.4V487.7M500.7 491.2V484.8M501.0 489.1V482.8M501.2 494.3V486.4M501.4 492.8V487.6M501.6 494.0V488.2M501.8 496.7V493.9M502.1 489.6V485.9M502.3 494.2V490.2M502.5 498.6V494.8M502.7 494.6V489.1M502.9 498.6V494.9M503.2 497.5V491.8M503.4 479.5V472.4M503.6 495.9V492.9M503.8 489.9V486.0M504.0 498.8V493.5M504.3 492.0V489.1M504.5 491.3V487.9M504.7 489.6V483.8M504.9 490.8V486.0M505.1 494.5V486.9M505.4 494.0V488.3M505.6 495.0V488.2M505.8 490.0V485.5M506.0 489.7V485.0M506.2 493.4V486.1M506.5 494.7V488.8M506.7 494.5V486.9M506.9 494.3V490.3M507.1 486.2V482.9M507.3 496.7V490.4M507.6 492.3V489.0M507.8 492.1V489.0M508.0 491.9V487.1M508.2 493.2V486.8M508.5 492.4V487.8M508.7 491.7V484.9M508.9 498.9V493.8M509.1 474.4V470.2M509.3 498.2V492.7M509.6 493.7V487.8M509.8 497.0V493.6M510.0 497.5V491.7M510.2 493.5V489.9M510.4 491.0V483.0M510.7 492.4V486.9M510.9 478.8V475.0M511.1 488.4V485.6M511.3 496.4V492.7M511.5 498.9V494.5M511.8 495.8V490.0M512.0 495.5V489.3M512.2 490.8V484.3M512.4 477.1V472.0M512.6 498.8V492.8M512.9 486.4V480.7M513.1 488.6V484.4" stroke="#555" stroke-width="0.3" fill="none" stroke-opacity="0.8"/>
<path d="M314.3 416.4h1.1v1.1h-1.1zM314.6 429.5h1.1v1.1h-1.1zM314.8 437.2h1.1v1.1h-1.1zM315.0 442.6h1.1v1.1h-1.1zM315.2 455.4h1.1v1.1h-1.1zM315.5 458.3h1.1v1.1h-1.1zM315.7 450.7h1.1v1.1h-1.1zM315.9 456.7h1.1v1.1h-1.1zM316.1 451.5h1.1v1.1h-1.1zM316.3 471.9h1.1v1.1h-1.1zM316.6 447.3h1.1v1.1h-1.1zM316.8 460.3h1.1v1.1h-1.1zM317.0 455.5h1.1v1.1h-1.1zM317.2 462.0h1.1v1.1h-1.1zM317.4 464.4h1.1v1.1h-1.1zM317.7 459.1h1.1v1.1h-1.1zM317.9 457.2h1.1v1.1h-1.1zM318.1 464.9h1.1v1.1h-1.1zM318.3 465.0h1.1v1.1h-1.1zM318.5 459.9h1.1v1.1h-1.1zM318.8 470.8h1.1v1.1h-1.1zM319.0 458.3h1.1v1.1h-1.1zM319.2 463.3h1.1v1.1h-1.1zM319.4 454.7h1.1v1.1h-1.1zM319.6 479.0h1.1v1.1h-1.1zM319.9 472.3h1.1v1.1h-1.1zM320.1 470.5h1.1v1.1h-1.1zM320.3 475.3h1.1v1.1h-1.1zM320.5 477.5h1.1v1.1h-1.1zM320.7 468.3h1.1v1.1h-1.1zM321.0 463.4h1.1v1.1h-1.1zM321.2 454.5h1.1v1.1h-1.1zM321.4 474.0h1.1v1.1h-1.1zM321.6 451.4h1.1v1.1h-1.1zM321.8 465.8h1.1v1.1h-1.1zM322.1 472.2h1.1v1.1h-1.1zM322.3 467.5h1.1v1.1h-1.1zM322.5 464.8h1.1v1.1h-1.1zM322.7 472.4h1.1v1.1h-1.1zM322.9 476.1h1.1v1.1h-1.1zM323.2 469.7h1.1v1.1h-1.1zM323.4 470.5h1.1v1.1h-1.1zM323.6 465.9h1.1v1.1h-1.1zM323.8 479.6h1.1v1.1h-1.1zM324.0 476.3h1.1v1.1h-1.1zM324.3 477.5h1.1v1.1h-1.1zM324.5 482.6h1.1v1.1h-1.1zM324.7 472.5h1.1v1.1h-1.1zM324.9 470.5h1.1v1.1h-1.1zM325.2 477.6h1.1v1.1h-1.1zM325.4 466.2h1.1v1.1h-1.1zM325.6 469.5h1.1v1.1h-1.1zM325.8 470.7h1.1v1.1h-1.1zM326.0 472.1h1.1v1.1h-1.1zM326.3 469.3h1.1v1.1h-1.1zM326.5 481.7h1.1v1.1h-1.1zM326.7 471.5h1.1v1.1h-1.1zM326.9 471.7h1.1v1.1h-1.1zM327.1 484.4h1.1v1.1h-1.1zM327.4 473.4h1.1v1.1h-1.1zM327.6 476.7h1.1v1.1h-1.1zM327.8 471.4h1.1v1.1h-1.1zM328.0 478.0h1.1v1.1h-1.1zM328.2 475.9h1.1v1.1h-1.1zM328.5 474.2h1.1v1.1h-1.1zM328.7 480.6h1.1v1.1h-1.1zM328.9 473.1h1.1v1.1h-1.1zM329.1 476.9h1.1v1.1h-1.1zM329.3 474.0h1.1v1.1h-1.1zM329.6 479.3h1.1v1.1h-1.1zM329.8 471.2h1.1v1.1h-1.1zM330.0 473.8h1.1v1.1h-1.1zM330.2 477.9h1.1v1.1h-1.1zM330.4 473.9h1.1v1.1h-1.1zM330.7 470.9h1.1v1.1h-1.1zM330.9 468.4h1.1v1.1h-1.1zM331.1 485.3h1.1v1.1h-1.1zM331.3 473.1h1.1v1.1h-1.1zM331.5 467.2h1.1v1.1h-1.1zM331.8 478.2h1.1v1.1h-1.1zM332.0 482.8h1.1v1.1h-1.1zM332.2 471.8h1.1v1.1h-1.1zM332.4 484.2h1.1v1.1h-1.1zM332.6 475.4h1.1v1.1h-1.1zM332.9 471.9h1.1v1.1h-1.1zM333.1 486.1h1.1v1.1h-1.1zM333.3 479.9h1.1v1.1h-1.1zM333.5 484.9h1.1v1.1h-1.1zM333.7 477.5h1.1v1.1h-1.1zM334.0 471.4h1.1v1.1h-1.1zM334.2 469.1h1.1v1.1h-1.1zM334.4 487.4h1.1v1.1h-1.1zM334.6 481.7h1.1v1.1h-1.1zM334.9 475.7h1.1v1.1h-1.1zM335.1 471.6h1.1v1.1h-1.1zM335.3 477.2h1.1v1.1h-1.1zM335.5 482.9h1.1v1.1h-1.1zM335.7 478.0h1.1v1.1h-1.1zM336.0 479.6h1.1v1.1h-1.1zM336.2 480.5h1.1v1.1h-1.1zM336.4 483.1h1.1v1.1h-1.1zM336.6 477.9h1.1v1.1h-1.1zM336.8 478.4h1.1v1.1h-1.1zM337.1 480.3h1.1v1.1h-1.1zM337.3 481.0h1.1v1.1h-1.1zM337.5 486.0h1.1v1.1h-1.1zM337.7 482.3h1.1v1.1h-1.1zM337.9 463.1h1.1v1.1h-1.1zM338.2 481.1h1.1v1.1h-1.1zM338.4 486.9h1.1v1.1h-1.1zM338.6 461.8h1.1v1.1h-1.1zM338.8 478.0h1.1v1.1h-1.1zM339.0 470.8h1.1v1.1h-1.1zM339.3 480.3h1.1v1.1h-1.1zM339.5 482.7h1.1v1.1h-1.1zM339.7 487.3h1.1v1.1h-1.1zM339.9 474.7h1.1v1.1h-1.1zM340.1 469.1h1.1v1.1h-1.1zM340.4 484.6h1.1v1.1h-1.1zM340.6 483.9h1.1v1.1h-1.1zM340.8 478.3h1.1v1.1h-1.1zM341.0 484.8h1.1v1.1h-1.1zM341.2 482.3h1.1v1.1h-1.1zM341.5 482.8h1.1v1.1h-1.1zM341.7 480.4h1.1v1.1h-1.1zM341.9 476.4h1.1v1.1h-1.1zM342.1 481.3h1.1v1.1h-1.1zM342.3 477.3h1.1v1.1h-1.1zM342.6 483.3h1.1v1.1h-1.1zM342.8 480.1h1.1v1.1h-1.1zM343.0 491.1h1.1v1.1h-1.1zM343.2 488.1h1.1v1.1h-1.1zM343.4 478.2h1.1v1.1h-1.1zM343.7 484.4h1.1v1.1h-1.1zM343.9 479.2h1.1v1.1h-1.1zM344.1 479.5h1.1v1.1h-1.1zM344.3 476.1h1.1v1.1h-1.1zM344.6 478.4h1.1v1.1h-1.1zM344.8 477.5h1.1v1.1h-1.1zM345.0 482.5h1.1v1.1h-1.1zM345.2 485.2h1.1v1.1h-1.1zM345.4 485.3h1.1v1.1h-1.1zM345.7 484.3h1.1v1.1h-1.1zM345.9 487.2h1.1v1.1h-1.1zM346.1 484.7h1.1v1.1h-1.1zM346.3 482.7h1.1v1.1h-1.1zM346.5 481.3h1.1v1.1h-1.1zM346.8 483.9h1.1v1.1h-1.1zM347.0 490.8h1.1v1.1h-1.1zM347.2 482.8h1.1v1.1h-1.1zM347.4 481.6h1.1v1.1h-1.1zM347.6 477.9h1.1v1.1h-1.1zM347.9 480.2h1.1v1.1h-1.1zM348.1 485.5h1.1v1.1h-1.1zM348.3 485.9h1.1v1.1h-1.1zM348.5 474.2h1.1v1.1h-1.1zM348.7 479.6h1.1v1.1h-1.1zM349.0 475.0h1.1v1.1h-1.1zM349.2 473.8h1.1v1.1h-1.1zM349.4 486.4h1.1v1.1h-1.1zM349.6 481.4h1.1v1.1h-1.1zM349.8 481.1h1.1v1.1h-1.1zM350.1 480.7h1.1v1.1h-1.1zM350.3 480.8h1.1v1.1h-1.1zM350.5 482.3h1.1v1.1h-1.1zM350.7 482.5h1.1v1.1h-1.1zM350.9 489.6h1.1v1.1h-1.1zM351.2 484.0h1.1v1.1h-1.1zM351.4 486.5h1.1v1.1h-1.1zM351.6 482.8h1.1v1.1h-1.1zM351.8 485.4h1.1v1.1h-1.1zM352.0 480.8h1.1v1.1h-1.1zM352.3 480.0h1.1v1.1h-1.1zM352.5 482.2h1.1v1.1h-1.1zM352.7 482.2h1.1v1.1h-1.1zM352.9 483.2h1.1v1.1h-1.1zM353.1 485.5h1.1v1.1h-1.1zM353.4 484.3h1.1v1.1h-1.1zM353.6 485.7h1.1v1.1h-1.1zM353.8 482.1h1.1v1.1h-1.1zM354.0 483.7h1.1v1.1h-1.1zM354.3 476.1h1.1v1.1h-1.1zM354.5 489.3h1.1v1.1h-1.1zM354.7 480.2h1.1v1.1h-1.1zM354.9 487.0h1.1v1.1h-1.1zM355.1 487.0h1.1v1.1h-1.1zM355.4 484.8h1.1v1.1h-1.1zM355.6 486.3h1.1v1.1h-1.1zM355.8 482.8h1.1v1.1h-1.1zM356.0 486.4h1.1v1.1h-1.1zM356.2 488.5h1.1v1.1h-1.1zM356.5 487.6h1.1v1.1h-1.1zM356.7 478.8h1.1v1.1h-1.1zM356.9 484.0h1.1v1.1h-1.1zM357.1 489.0h1.1v1.1h-1.1zM357.3 484.2h1.1v1.1h-1.1zM357.6 478.2h1.1v1.1h-1.1zM357.8 477.0h1.1v1.1h-1.1zM358.0 490.6h1.1v1.1h-1.1zM358.2 482.4h1.1v1.1h-1.1zM358.4 482.2h1.1v1.1h-1.1zM358.7 490.3h1.1v1.1h-1.1zM358.9 468.5h1.1v1.1h-1.1zM359.1 480.4h1.1v1.1h-1.1zM359.3 482.6h1.1v1.1h-1.1zM359.5 483.5h1.1v1.1h-1.1zM359.8 480.7h1.1v1.1h-1.1zM360.0 483.9h1.1v1.1h-1.1zM360.2 483.3h1.1v1.1h-1.1zM360.4 485.2h1.1v1.1h-1.1zM360.6 482.1h1.1v1.1h-1.1zM360.9 488.5h1.1v1.1h-1.1zM361.1 481.5h1.1v1.1h-1.1zM361.3 486.8h1.1v1.1h-1.1zM361.5 489.2h1.1v1.1h-1.1zM361.7 483.4h1.1v1.1h-1.1zM362.0 478.0h1.1v1.1h-1.1zM362.2 481.0h1.1v1.1h-1.1zM362.4 487.0h1.1v1.1h-1.1zM362.6 482.1h1.1v1.1h-1.1zM362.8 486.8h1.1v1.1h-1.1zM363.1 485.5h1.1v1.1h-1.1zM363.3 484.7h1.1v1.1h-1.1zM363.5 494.3h1.1v1.1h-1.1zM363.7 484.3h1.1v1.1h-1.1zM363.9 489.2h1.1v1.1h-1.1zM364.2 487.9h1.1v1.1h-1.1zM364.4 491.0h1.1v1.1h-1.1zM364.6 491.2h1.1v1.1h-1.1zM364.8 488.9h1.1v1.1h-1.1zM365.1 481.9h1.1v1.1h-1.1zM365.3 478.6h1.1v1.1h-1.1zM365.5 485.4h1.1v1.1h-1.1zM365.7 481.0h1.1v1.1h-1.1zM365.9 486.4h1.1v1.1h-1.1zM366.2 492.9h1.1v1.1h-1.1zM366.4 484.8h1.1v1.1h-1.1zM366.6 483.6h1.1v1.1h-1.1zM366.8 487.1h1.1v1.1h-1.1zM367.0 484.2h1.1v1.1h-1.1zM367.3 483.2h1.1v1.1h-1.1zM367.5 488.9h1.1v1.1h-1.1zM367.7 491.3h1.1v1.1h-1.1zM367.9 486.4h1.1v1.1h-1.1zM368.1 486.4h1.1v1.1h-1.1zM368.4 487.0h1.1v1.1h-1.1zM368.6 481.7h1.1v1.1h-1.1zM368.8 478.8h1.1v1.1h-1.1zM369.0 487.3h1.1v1.1h-1.1zM369.2 482.9h1.1v1.1h-1.1zM369.5 482.0h1.1v1.1h-1.1zM369.7 482.9h1.1v1.1h-1.1zM369.9 466.9h1.1v1.1h-1.1zM370.1 487.3h1.1v1.1h-1.1zM370.3 482.9h1.1v1.1h-1.1zM370.6 477.9h1.1v1.1h-1.1zM370.8 482.7h1.1v1.1h-1.1zM371.0 488.2h1.1v1.1h-1.1zM371.2 483.5h1.1v1.1h-1.1zM371.4 481.0h1.1v1.1h-1.1zM371.7 484.5h1.1v1.1h-1.1zM371.9 488.1h1.1v1.1h-1.1zM372.1 479.9h1.1v1.1h-1.1zM372.3 490.8h1.1v1.1h-1.1zM372.5 484.0h1.1v1.1h-1.1zM372.8 486.1h1.1v1.1h-1.1zM373.0 490.6h1.1v1.1h-1.1zM373.2 481.3h1.1v1.1h-1.1zM373.4 484.7h1.1v1.1h-1.1zM373.6 490.6h1.1v1.1h-1.1zM373.9 483.8h1.1v1.1h-1.1zM374.1 487.8h1.1v1.1h-1.1zM374.3 493.5h1.1v1.1h-1.1zM374.5 488.8h1.1v1.1h-1.1zM374.8 485.2h1.1v1.1h-1.1zM375.0 483.7h1.1v1.1h-1.1zM375.2 485.6h1.1v1.1h-1.1zM375.4 486.1h1.1v1.1h-1.1zM375.6 484.4h1.1v1.1h-1.1zM375.9 487.1h1.1v1.1h-1.1zM376.1 481.8h1.1v1.1h-1.1zM376.3 485.7h1.1v1.1h-1.1zM376.5 485.2h1.1v1.1h-1.1zM376.7 484.3h1.1v1.1h-1.1zM377.0 490.4h1.1v1.1h-1.1zM377.2 489.1h1.1v1.1h-1.1zM377.4 480.6h1.1v1.1h-1.1zM377.6 485.1h1.1v1.1h-1.1zM377.8 487.5h1.1v1.1h-1.1zM378.1 485.1h1.1v1.1h-1.1zM378.3 488.3h1.1v1.1h-1.1zM378.5 485.4h1.1v1.1h-1.1zM378.7 489.0h1.1v1.1h-1.1zM378.9 485.5h1.1v1.1h-1.1zM379.2 492.5h1.1v1.1h-1.1zM379.4 470.9h1.1v1.1h-1.1zM379.6 488.5h1.1v1.1h-1.1zM379.8 492.6h1.1v1.1h-1.1zM380.0 487.5h1.1v1.1h-1.1zM380.3 488.0h1.1v1.1h-1.1zM380.5 486.1h1.1v1.1h-1.1zM380.7 491.0h1.1v1.1h-1.1zM380.9 485.2h1.1v1.1h-1.1zM381.1 473.0h1.1v1.1h-1.1zM381.4 491.5h1.1v1.1h-1.1zM381.6 485.4h1.1v1.1h-1.1zM381.8 480.0h1.1v1.1h-1.1zM382.0 486.0h1.1v1.1h-1.1zM382.2 493.6h1.1v1.1h-1.1zM382.5 491.1h1.1v1.1h-1.1zM382.7 485.1h1.1v1.1h-1.1zM382.9 487.0h1.1v1.1h-1.1zM383.1 480.7h1.1v1.1h-1.1zM383.3 489.5h1.1v1.1h-1.1zM383.6 486.2h1.1v1.1h-1.1zM383.8 475.9h1.1v1.1h-1.1zM384.0 489.8h1.1v1.1h-1.1zM384.2 490.3h1.1v1.1h-1.1zM384.5 487.1h1.1v1.1h-1.1zM384.7 487.1h1.1v1.1h-1.1zM384.9 483.8h1.1v1.1h-1.1zM385.1 486.5h1.1v1.1h-1.1zM385.3 489.8h1.1v1.1h-1.1zM385.6 486.2h1.1v1.1h-1.1zM385.8 477.2h1.1v1.1h-1.1zM386.0 482.3h1.1v1.1h-1.1zM386.2 496.2h1.1v1.1h-1.1zM386.4 487.6h1.1v1.1h-1.1zM386.7 490.3h1.1v1.1h-1.1zM386.9 484.8h1.1v1.1h-1.1zM387.1 487.8h1.1v1.1h-1.1zM387.3 479.9h1.1v1.1h-1.1zM387.5 483.7h1.1v1.1h-1.1zM387.8 483.8h1.1v1.1h-1.1zM388.0 486.5h1.1v1.1h-1.1zM388.2 478.3h1.1v1.1h-1.1zM388.4 485.9h1.1v1.1h-1.1zM388.6 482.4h1.1v1.1h-1.1zM388.9 485.2h1.1v1.1h-1.1zM389.1 488.5h1.1v1.1h-1.1zM389.3 465.5h1.1v1.1h-1.1zM389.5 486.6h1.1v1.1h-1.1zM389.7 487.6h1.1v1.1h-1.1zM390.0 490.2h1.1v1.1h-1.1zM390.2 489.4h1.1v1.1h-1.1zM390.4 489.7h1.1v1.1h-1.1zM390.6 496.2h1.1v1.1h-1.1zM390.8 483.6h1.1v1.1h-1.1zM391.1 485.3h1.1v1.1h-1.1zM391.3 488.2h1.1v1.1h-1.1zM391.5 483.5h1.1v1.1h-1.1zM391.7 485.8h1.1v1.1h-1.1zM391.9 486.1h1.1v1.1h-1.1zM392.2 496.2h1.1v1.1h-1.1zM392.4 472.4h1.1v1.1h-1.1zM392.6 485.5h1.1v1.1h-1.1zM392.8 481.6h1.1v1.1h-1.1zM393.0 476.0h1.1v1.1h-1.1zM393.3 482.3h1.1v1.1h-1.1zM393.5 491.8h1.1v1.1h-1.1zM393.7 495.6h1.1v1.1h-1.1zM393.9 485.4h1.1v1.1h-1.1zM394.2 487.5h1.1v1.1h-1.1zM394.4 484.0h1.1v1.1h-1.1zM394.6 488.0h1.1v1.1h-1.1zM394.8 486.8h1.1v1.1h-1.1zM395.0 493.1h1.1v1.1h-1.1zM395.3 486.0h1.1v1.1h-1.1zM395.5 489.3h1.1v1.1h-1.1zM395.7 486.4h1.1v1.1h-1.1zM395.9 486.0h1.1v1.1h-1.1zM396.1 488.1h1.1v1.1h-1.1zM396.4 486.5h1.1v1.1h-1.1zM396.6 472.0h1.1v1.1h-1.1zM396.8 484.9h1.1v1.1h-1.1zM397.0 466.4h1.1v1.1h-1.1zM397.2 479.9h1.1v1.1h-1.1zM397.5 489.9h1.1v1.1h-1.1zM397.7 481.4h1.1v1.1h-1.1zM397.9 488.1h1.1v1.1h-1.1zM398.1 484.2h1.1v1.1h-1.1zM398.3 486.4h1.1v1.1h-1.1zM398.6 489.9h1.1v1.1h-1.1zM398.8 490.5h1.1v1.1h-1.1zM399.0 487.4h1.1v1.1h-1.1zM399.2 486.9h1.1v1.1h-1.1zM399.4 485.6h1.1v1.1h-1.1zM399.7 492.5h1.1v1.1h-1.1zM399.9 490.0h1.1v1.1h-1.1zM400.1 488.2h1.1v1.1h-1.1zM400.3 482.1h1.1v1.1h-1.1zM400.5 496.2h1.1v1.1h-1.1zM400.8 486.3h1.1v1.1h-1.1zM401.0 489.9h1.1v1.1h-1.1zM401.2 486.4h1.1v1.1h-1.1zM401.4 489.7h1.1v1.1h-1.1zM401.6 486.6h1.1v1.1h-1.1zM401.9 482.3h1.1v1.1h-1.1zM402.1 486.7h1.1v1.1h-1.1zM402.3 486.4h1.1v1.1h-1.1zM402.5 486.7h1.1v1.1h-1.1zM402.7 472.6h1.1v1.1h-1.1zM403.0 486.1h1.1v1.1h-1.1zM403.2 488.8h1.1v1.1h-1.1zM403.4 491.0h1.1v1.1h-1.1zM403.6 488.2h1.1v1.1h-1.1zM403.9 488.9h1.1v1.1h-1.1zM404.1 485.4h1.1v1.1h-1.1zM404.3 488.3h1.1v1.1h-1.1zM404.5 490.0h1.1v1.1h-1.1zM404.7 482.9h1.1v1.1h-1.1zM405.0 484.6h1.1v1.1h-1.1zM405.2 483.6h1.1v1.1h-1.1zM405.4 486.0h1.1v1.1h-1.1zM405.6 488.6h1.1v1.1h-1.1zM405.8 489.7h1.1v1.1h-1.1zM406.1 489.2h1.1v1.1h-1.1zM406.3 484.8h1.1v1.1h-1.1zM406.5 487.8h1.1v1.1h-1.1zM406.7 493.5h1.1v1.1h-1.1zM406.9 488.4h1.1v1.1h-1.1zM407.2 493.3h1.1v1.1h-1.1zM407.4 487.7h1.1v1.1h-1.1zM407.6 492.6h1.1v1.1h-1.1zM407.8 492.8h1.1v1.1h-1.1zM408.0 487.9h1.1v1.1h-1.1zM408.3 488.6h1.1v1.1h-1.1zM408.5 494.2h1.1v1.1h-1.1zM408.7 485.6h1.1v1.1h-1.1zM408.9 480.6h1.1v1.1h-1.1zM409.1 493.6h1.1v1.1h-1.1zM409.4 472.1h1.1v1.1h-1.1zM409.6 490.8h1.1v1.1h-1.1zM409.8 490.1h1.1v1.1h-1.1zM410.0 489.0h1.1v1.1h-1.1zM410.2 493.5h1.1v1.1h-1.1zM410.5 483.8h1.1v1.1h-1.1zM410.7 486.6h1.1v1.1h-1.1zM410.9 491.1h1.1v1.1h-1.1zM411.1 472.1h1.1v1.1h-1.1zM411.3 493.8h1.1v1.1h-1.1zM411.6 489.7h1.1v1.1h-1.1zM411.8 485.1h1.1v1.1h-1.1zM412.0 485.8h1.1v1.1h-1.1zM412.2 490.0h1.1v1.1h-1.1zM412.4 482.2h1.1v1.1h-1.1zM412.7 484.8h1.1v1.1h-1.1zM412.9 483.7h1.1v1.1h-1.1zM413.1 490.1h1.1v1.1h-1.1zM413.3 491.1h1.1v1.1h-1.1zM413.5 486.9h1.1v1.1h-1.1zM413.8 489.8h1.1v1.1h-1.1zM414.0 489.6h1.1v1.1h-1.1zM414.2 484.7h1.1v1.1h-1.1zM414.4 482.6h1.1v1.1h-1.1zM414.7 487.6h1.1v1.1h-1.1zM414.9 489.3h1.1v1.1h-1.1zM415.1 486.6h1.1v1.1h-1.1zM415.3 495.3h1.1v1.1h-1.1zM415.5 488.7h1.1v1.1h-1.1zM415.8 492.4h1.1v1.1h-1.1zM416.0 480.2h1.1v1.1h-1.1zM416.2 486.1h1.1v1.1h-1.1zM416.4 488.1h1.1v1.1h-1.1zM416.6 489.3h1.1v1.1h-1.1zM416.9 491.8h1.1v1.1h-1.1zM417.1 486.2h1.1v1.1h-1.1zM417.3 482.9h1.1v1.1h-1.1zM417.5 491.3h1.1v1.1h-1.1zM417.7 486.3h1.1v1.1h-1.1zM418.0 475.1h1.1v1.1h-1.1zM418.2 494.2h1.1v1.1h-1.1zM418.4 485.4h1.1v1.1h-1.1zM418.6 484.0h1.1v1.1h-1.1zM418.8 487.9h1.1v1.1h-1.1zM419.1 489.0h1.1v1.1h-1.1zM419.3 486.0h1.1v1.1h-1.1zM419.5 494.2h1.1v1.1h-1.1zM419.7 488.4h1.1v1.1h-1.1zM419.9 485.1h1.1v1.1h-1.1zM420.2 493.1h1.1v1.1h-1.1zM420.4 485.3h1.1v1.1h-1.1zM420.6 490.3h1.1v1.1h-1.1zM420.8 496.1h1.1v1.1h-1.1zM421.0 489.2h1.1v1.1h-1.1zM421.3 492.2h1.1v1.1h-1.1zM421.5 487.7h1.1v1.1h-1.1zM421.7 493.0h1.1v1.1h-1.1zM421.9 485.2h1.1v1.1h-1.1zM422.1 491.4h1.1v1.1h-1.1zM422.4 487.6h1.1v1.1h-1.1zM422.6 491.0h1.1v1.1h-1.1zM422.8 490.0h1.1v1.1h-1.1zM423.0 484.7h1.1v1.1h-1.1zM423.2 488.2h1.1v1.1h-1.1zM423.5 490.3h1.1v1.1h-1.1zM423.7 493.3h1.1v1.1h-1.1zM423.9 484.9h1.1v1.1h-1.1zM424.1 486.4h1.1v1.1h-1.1zM424.4 490.1h1.1v1.1h-1.1zM424.6 488.1h1.1v1.1h-1.1zM424.8 492.6h1.1v1.1h-1.1zM425.0 492.5h1.1v1.1h-1.1zM425.2 491.9h1.1v1.1h-1.1zM425.5 487.8h1.1v1.1h-1.1zM425.7 488.0h1.1v1.1h-1.1zM425.9 491.6h1.1v1.1h-1.1zM426.1 471.5h1.1v1.1h-1.1zM426.3 486.3h1.1v1.1h-1.1zM426.6 488.4h1.1v1.1h-1.1zM426.8 485.4h1.1v1.1h-1.1zM427.0 490.0h1.1v1.1h-1.1zM427.2 489.4h1.1v1.1h-1.1zM427.4 487.4h1.1v1.1h-1.1zM427.7 489.2h1.1v1.1h-1.1zM427.9 486.3h1.1v1.1h-1.1zM428.1 493.4h1.1v1.1h-1.1zM428.3 484.1h1.1v1.1h-1.1zM428.5 491.8h1.1v1.1h-1.1zM428.8 489.7h1.1v1.1h-1.1zM429.0 493.9h1.1v1.1h-1.1zM429.2 487.0h1.1v1.1h-1.1zM429.4 484.7h1.1v1.1h-1.1zM429.6 485.4h1.1v1.1h-1.1zM429.9 486.3h1.1v1.1h-1.1zM430.1 494.5h1.1v1.1h-1.1zM430.3 491.9h1.1v1.1h-1.1zM430.5 490.8h1.1v1.1h-1.1zM430.7 492.4h1.1v1.1h-1.1zM431.0 485.3h1.1v1.1h-1.1zM431.2 488.6h1.1v1.1h-1.1zM431.4 489.3h1.1v1.1h-1.1zM431.6 487.5h1.1v1.1h-1.1zM431.8 492.5h1.1v1.1h-1.1zM432.1 492.4h1.1v1.1h-1.1zM432.3 492.3h1.1v1.1h-1.1zM432.5 487.5h1.1v1.1h-1.1zM432.7 488.1h1.1v1.1h-1.1zM432.9 487.3h1.1v1.1h-1.1zM433.2 485.5h1.1v1.1h-1.1zM433.4 493.9h1.1v1.1h-1.1zM433.6 491.2h1.1v1.1h-1.1zM433.8 488.8h1.1v1.1h-1.1zM434.1 493.9h1.1v1.1h-1.1zM434.3 491.1h1.1v1.1h-1.1zM434.5 478.3h1.1v1.1h-1.1zM434.7 485.5h1.1v1.1h-1.1zM434.9 485.6h1.1v1.1h-1.1zM435.2 489.2h1.1v1.1h-1.1zM435.4 490.1h1.1v1.1h-1.1zM435.6 485.6h1.1v1.1h-1.1zM435.8 490.6h1.1v1.1h-1.1zM436.0 488.2h1.1v1.1h-1.1zM436.3 484.8h1.1v1.1h-1.1zM436.5 490.6h1.1v1.1h-1.1zM436.7 491.5h1.1v1.1h-1.1zM436.9 489.4h1.1v1.1h-1.1zM437.1 487.3h1.1v1.1h-1.1zM437.4 487.7h1.1v1.1h-1.1zM437.6 488.9h1.1v1.1h-1.1zM437.8 487.5h1.1v1.1h-1.1zM438.0 494.9h1.1v1.1h-1.1zM438.2 492.4h1.1v1.1h-1.1zM438.5 488.9h1.1v1.1h-1.1zM438.7 492.6h1.1v1.1h-1.1zM438.9 482.6h1.1v1.1h-1.1zM439.1 493.6h1.1v1.1h-1.1zM439.3 492.6h1.1v1.1h-1.1zM439.6 490.1h1.1v1.1h-1.1zM439.8 493.0h1.1v1.1h-1.1zM440.0 488.7h1.1v1.1h-1.1zM440.2 483.7h1.1v1.1h-1.1zM440.4 490.0h1.1v1.1h-1.1zM440.7 485.1h1.1v1.1h-1.1zM440.9 488.5h1.1v1.1h-1.1zM441.1 493.3h1.1v1.1h-1.1zM441.3 490.4h1.1v1.1h-1.1zM441.5 492.9h1.1v1.1h-1.1zM441.8 486.9h1.1v1.1h-1.1zM442.0 493.5h1.1v1.1h-1.1zM442.2 485.0h1.1v1.1h-1.1zM442.4 487.6h1.1v1.1h-1.1zM442.6 496.2h1.1v1.1h-1.1zM442.9 486.9h1.1v1.1h-1.1zM443.1 484.3h1.1v1.1h-1.1zM443.3 492.3h1.1v1.1h-1.1zM443.5 486.2h1.1v1.1h-1.1zM443.8 478.0h1.1v1.1h-1.1zM444.0 488.7h1.1v1.1h-1.1zM444.2 495.2h1.1v1.1h-1.1zM444.4 488.0h1.1v1.1h-1.1zM444.6 495.7h1.1v1.1h-1.1zM444.9 496.2h1.1v1.1h-1.1zM445.1 488.3h1.1v1.1h-1.1zM445.3 477.2h1.1v1.1h-1.1zM445.5 491.7h1.1v1.1h-1.1zM445.7 486.8h1.1v1.1h-1.1zM446.0 489.3h1.1v1.1h-1.1zM446.2 490.7h1.1v1.1h-1.1zM446.4 487.6h1.1v1.1h-1.1zM446.6 484.1h1.1v1.1h-1.1zM446.8 493.9h1.1v1.1h-1.1zM447.1 487.8h1.1v1.1h-1.1zM447.3 488.5h1.1v1.1h-1.1zM447.5 494.5h1.1v1.1h-1.1zM447.7 484.2h1.1v1.1h-1.1zM447.9 483.1h1.1v1.1h-1.1zM448.2 492.9h1.1v1.1h-1.1zM448.4 483.8h1.1v1.1h-1.1zM448.6 489.5h1.1v1.1h-1.1zM448.8 477.0h1.1v1.1h-1.1zM449.0 484.6h1.1v1.1h-1.1zM449.3 489.0h1.1v1.1h-1.1zM449.5 488.6h1.1v1.1h-1.1zM449.7 484.6h1.1v1.1h-1.1zM449.9 485.4h1.1v1.1h-1.1zM450.1 486.7h1.1v1.1h-1.1zM450.4 494.5h1.1v1.1h-1.1zM450.6 495.1h1.1v1.1h-1.1zM450.8 486.0h1.1v1.1h-1.1zM451.0 492.9h1.1v1.1h-1.1zM451.2 489.3h1.1v1.1h-1.1zM451.5 493.4h1.1v1.1h-1.1zM451.7 490.4h1.1v1.1h-1.1zM451.9 494.1h1.1v1.1h-1.1zM452.1 484.3h1.1v1.1h-1.1zM452.3 493.3h1.1v1.1h-1.1zM452.6 490.2h1.1v1.1h-1.1zM452.8 490.5h1.1v1.1h-1.1zM453.0 485.8h1.1v1.1h-1.1zM453.2 494.6h1.1v1.1h-1.1zM453.5 490.0h1.1v1.1h-1.1zM453.7 490.6h1.1v1.1h-1.1zM453.9 488.1h1.1v1.1h-1.1zM454.1 488.3h1.1v1.1h-1.1zM454.3 491.4h1.1v1.1h-1.1zM454.6 489.1h1.1v1.1h-1.1zM454.8 491.1h1.1v1.1h-1.1zM455.0 488.3h1.1v1.1h-1.1zM455.2 490.2h1.1v1.1h-1.1zM455.4 492.1h1.1v1.1h-1.1zM455.7 490.0h1.1v1.1h-1.1zM455.9 488.7h1.1v1.1h-1.1zM456.1 482.3h1.1v1.1h-1.1zM456.3 491.6h1.1v1.1h-1.1zM456.5 488.9h1.1v1.1h-1.1zM456.8 485.0h1.1v1.1h-1.1zM457.0 496.2h1.1v1.1h-1.1zM457.2 490.2h1.1v1.1h-1.1zM457.4 493.9h1.1v1.1h-1.1zM457.6 490.3h1.1v1.1h-1.1zM457.9 481.8h1.1v1.1h-1.1zM458.1 488.7h1.1v1.1h-1.1zM458.3 485.9h1.1v1.1h-1.1zM458.5 490.7h1.1v1.1h-1.1zM458.7 496.2h1.1v1.1h-1.1zM459.0 496.2h1.1v1.1h-1.1zM459.2 486.6h1.1v1.1h-1.1zM459.4 489.4h1.1v1.1h-1.1zM459.6 494.4h1.1v1.1h-1.1zM459.8 486.3h1.1v1.1h-1.1zM460.1 495.2h1.1v1.1h-1.1zM460.3 486.2h1.1v1.1h-1.1zM460.5 485.2h1.1v1.1h-1.1zM460.7 492.6h1.1v1.1h-1.1zM460.9 493.7h1.1v1.1h-1.1zM461.2 487.2h1.1v1.1h-1.1zM461.4 493.7h1.1v1.1h-1.1zM461.6 487.2h1.1v1.1h-1.1zM461.8 494.0h1.1v1.1h-1.1zM462.0 487.4h1.1v1.1h-1.1zM462.3 489.8h1.1v1.1h-1.1zM462.5 491.5h1.1v1.1h-1.1zM462.7 493.1h1.1v1.1h-1.1zM462.9 489.3h1.1v1.1h-1.1zM463.1 496.2h1.1v1.1h-1.1zM463.4 491.0h1.1v1.1h-1.1zM463.6 491.4h1.1v1.1h-1.1zM463.8 487.8h1.1v1.1h-1.1zM464.0 494.3h1.1v1.1h-1.1zM464.3 484.4h1.1v1.1h-1.1zM464.5 491.2h1.1v1.1h-1.1zM464.7 493.9h1.1v1.1h-1.1zM464.9 485.5h1.1v1.1h-1.1zM465.1 484.6h1.1v1.1h-1.1zM465.4 490.8h1.1v1.1h-1.1zM465.6 493.1h1.1v1.1h-1.1zM465.8 490.1h1.1v1.1h-1.1zM466.0 492.5h1.1v1.1h-1.1zM466.2 491.2h1.1v1.1h-1.1zM466.5 485.0h1.1v1.1h-1.1zM466.7 488.9h1.1v1.1h-1.1zM466.9 489.7h1.1v1.1h-1.1zM467.1 489.0h1.1v1.1h-1.1zM467.3 490.4h1.1v1.1h-1.1zM467.6 487.4h1.1v1.1h-1.1zM467.8 487.3h1.1v1.1h-1.1zM468.0 491.4h1.1v1.1h-1.1zM468.2 489.9h1.1v1.1h-1.1zM468.4 482.2h1.1v1.1h-1.1zM468.7 488.8h1.1v1.1h-1.1zM468.9 490.8h1.1v1.1h-1.1zM469.1 483.4h1.1v1.1h-1.1zM469.3 490.2h1.1v1.1h-1.1zM469.5 493.9h1.1v1.1h-1.1zM469.8 488.0h1.1v1.1h-1.1zM470.0 493.2h1.1v1.1h-1.1zM470.2 491.9h1.1v1.1h-1.1zM470.4 489.2h1.1v1.1h-1.1zM470.6 490.7h1.1v1.1h-1.1zM470.9 492.8h1.1v1.1h-1.1zM471.1 477.8h1.1v1.1h-1.1zM471.3 492.2h1.1v1.1h-1.1zM471.5 486.4h1.1v1.1h-1.1zM471.7 492.7h1.1v1.1h-1.1zM472.0 492.2h1.1v1.1h-1.1zM472.2 483.5h1.1v1.1h-1.1zM472.4 492.1h1.1v1.1h-1.1zM472.6 485.4h1.1v1.1h-1.1zM472.8 486.0h1.1v1.1h-1.1zM473.1 490.8h1.1v1.1h-1.1zM473.3 495.0h1.1v1.1h-1.1zM473.5 488.8h1.1v1.1h-1.1zM473.7 488.1h1.1v1.1h-1.1zM474.0 487.1h1.1v1.1h-1.1zM474.2 490.1h1.1v1.1h-1.1zM474.4 486.4h1.1v1.1h-1.1zM474.6 485.7h1.1v1.1h-1.1zM474.8 493.8h1.1v1.1h-1.1zM475.1 485.6h1.1v1.1h-1.1zM475.3 489.8h1.1v1.1h-1.1zM475.5 492.2h1.1v1.1h-1.1zM475.7 491.4h1.1v1.1h-1.1zM475.9 484.2h1.1v1.1h-1.1zM476.2 487.1h1.1v1.1h-1.1zM476.4 496.2h1.1v1.1h-1.1zM476.6 490.1h1.1v1.1h-1.1zM476.8 490.8h1.1v1.1h-1.1zM477.0 491.0h1.1v1.1h-1.1zM477.3 492.1h1.1v1.1h-1.1zM477.5 495.2h1.1v1.1h-1.1zM477.7 487.6h1.1v1.1h-1.1zM477.9 493.5h1.1v1.1h-1.1zM478.1 491.6h1.1v1.1h-1.1zM478.4 492.4h1.1v1.1h-1.1zM478.6 492.8h1.1v1.1h-1.1zM478.8 488.0h1.1v1.1h-1.1zM479.0 471.8h1.1v1.1h-1.1zM479.2 492.7h1.1v1.1h-1.1zM479.5 493.6h1.1v1.1h-1.1zM479.7 492.0h1.1v1.1h-1.1zM479.9 487.3h1.1v1.1h-1.1zM480.1 490.0h1.1v1.1h-1.1zM480.3 489.7h1.1v1.1h-1.1zM480.6 491.5h1.1v1.1h-1.1zM480.8 491.3h1.1v1.1h-1.1zM481.0 489.8h1.1v1.1h-1.1zM481.2 496.2h1.1v1.1h-1.1zM481.4 485.2h1.1v1.1h-1.1zM481.7 493.1h1.1v1.1h-1.1zM481.9 492.4h1.1v1.1h-1.1zM482.1 479.9h1.1v1.1h-1.1zM482.3 489.8h1.1v1.1h-1.1zM482.5 490.4h1.1v1.1h-1.1zM482.8 492.4h1.1v1.1h-1.1zM483.0 495.6h1.1v1.1h-1.1zM483.2 489.9h1.1v1.1h-1.1zM483.4 486.6h1.1v1.1h-1.1zM483.7 493.5h1.1v1.1h-1.1zM483.9 486.1h1.1v1.1h-1.1zM484.1 477.6h1.1v1.1h-1.1zM484.3 492.9h1.1v1.1h-1.1zM484.5 488.9h1.1v1.1h-1.1zM484.8 490.5h1.1v1.1h-1.1zM485.0 488.3h1.1v1.1h-1.1zM485.2 493.0h1.1v1.1h-1.1zM485.4 493.9h1.1v1.1h-1.1zM485.6 496.2h1.1v1.1h-1.1zM485.9 494.5h1.1v1.1h-1.1zM486.1 494.1h1.1v1.1h-1.1zM486.3 495.2h1.1v1.1h-1.1zM486.5 489.6h1.1v1.1h-1.1zM486.7 492.8h1.1v1.1h-1.1zM487.0 496.2h1.1v1.1h-1.1zM487.2 482.5h1.1v1.1h-1.1zM487.4 493.3h1.1v1.1h-1.1zM487.6 494.7h1.1v1.1h-1.1zM487.8 486.6h1.1v1.1h-1.1zM488.1 486.8h1.1v1.1h-1.1zM488.3 494.4h1.1v1.1h-1.1zM488.5 495.4h1.1v1.1h-1.1zM488.7 493.9h1.1v1.1h-1.1zM488.9 486.9h1.1v1.1h-1.1zM489.2 491.6h1.1v1.1h-1.1zM489.4 493.3h1.1v1.1h-1.1zM489.6 490.7h1.1v1.1h-1.1zM489.8 486.7h1.1v1.1h-1.1zM490.0 495.2h1.1v1.1h-1.1zM490.3 491.9h1.1v1.1h-1.1zM490.5 495.2h1.1v1.1h-1.1zM490.7 483.6h1.1v1.1h-1.1zM490.9 484.7h1.1v1.1h-1.1zM491.1 487.6h1.1v1.1h-1.1zM491.4 491.1h1.1v1.1h-1.1zM491.6 488.5h1.1v1.1h-1.1zM491.8 496.2h1.1v1.1h-1.1zM492.0 489.8h1.1v1.1h-1.1zM492.2 495.0h1.1v1.1h-1.1zM492.5 495.0h1.1v1.1h-1.1zM492.7 493.0h1.1v1.1h-1.1zM492.9 491.8h1.1v1.1h-1.1zM493.1 488.8h1.1v1.1h-1.1zM493.4 488.4h1.1v1.1h-1.1zM493.6 489.9h1.1v1.1h-1.1zM493.8 493.8h1.1v1.1h-1.1zM494.0 488.5h1.1v1.1h-1.1zM494.2 491.1h1.1v1.1h-1.1zM494.5 486.9h1.1v1.1h-1.1zM494.7 493.7h1.1v1.1h-1.1zM494.9 496.2h1.1v1.1h-1.1zM495.1 492.3h1.1v1.1h-1.1zM495.3 483.7h1.1v1.1h-1.1zM495.6 489.2h1.1v1.1h-1.1zM495.8 491.4h1.1v1.1h-1.1zM496.0 487.9h1.1v1.1h-1.1zM496.2 489.1h1.1v1.1h-1.1zM496.4 489.3h1.1v1.1h-1.1zM496.7 492.4h1.1v1.1h-1.1zM496.9 490.5h1.1v1.1h-1.1zM497.1 490.1h1.1v1.1h-1.1zM497.3 492.9h1.1v1.1h-1.1zM497.5 494.4h1.1v1.1h-1.1zM497.8 490.3h1.1v1.1h-1.1zM498.0 487.6h1.1v1.1h-1.1zM498.2 488.7h1.1v1.1h-1.1zM498.4 489.2h1.1v1.1h-1.1zM498.6 489.2h1.1v1.1h-1.1zM498.9 473.0h1.1v1.1h-1.1zM499.1 490.0h1.1v1.1h-1.1zM499.3 487.4h1.1v1.1h-1.1zM499.5 484.5h1.1v1.1h-1.1zM499.7 481.3h1.1v1.1h-1.1zM500.0 490.0h1.1v1.1h-1.1zM500.2 487.4h1.1v1.1h-1.1zM500.4 485.4h1.1v1.1h-1.1zM500.6 489.8h1.1v1.1h-1.1zM500.8 489.7h1.1v1.1h-1.1zM501.1 490.5h1.1v1.1h-1.1zM501.3 494.8h1.1v1.1h-1.1zM501.5 487.2h1.1v1.1h-1.1zM501.7 491.7h1.1v1.1h-1.1zM501.9 496.2h1.1v1.1h-1.1zM502.2 491.3h1.1v1.1h-1.1zM502.4 496.2h1.1v1.1h-1.1zM502.6 494.1h1.1v1.1h-1.1zM502.8 475.4h1.1v1.1h-1.1zM503.1 493.8h1.1v1.1h-1.1zM503.3 487.4h1.1v1.1h-1.1zM503.5 495.6h1.1v1.1h-1.1zM503.7 490.0h1.1v1.1h-1.1zM503.9 489.1h1.1v1.1h-1.1zM504.2 486.1h1.1v1.1h-1.1zM504.4 487.9h1.1v1.1h-1.1zM504.6 490.1h1.1v1.1h-1.1zM504.8 490.6h1.1v1.1h-1.1zM505.0 491.1h1.1v1.1h-1.1zM505.3 487.2h1.1v1.1h-1.1zM505.5 486.8h1.1v1.1h-1.1zM505.7 489.2h1.1v1.1h-1.1zM505.9 491.2h1.1v1.1h-1.1zM506.1 490.1h1.1v1.1h-1.1zM506.4 491.7h1.1v1.1h-1.1zM506.6 484.0h1.1v1.1h-1.1zM506.8 493.0h1.1v1.1h-1.1zM507.0 490.1h1.1v1.1h-1.1zM507.2 490.0h1.1v1.1h-1.1zM507.5 488.9h1.1v1.1h-1.1zM507.7 489.5h1.1v1.1h-1.1zM507.9 489.5h1.1v1.1h-1.1zM508.1 487.8h1.1v1.1h-1.1zM508.3 495.8h1.1v1.1h-1.1zM508.6 471.7h1.1v1.1h-1.1zM508.8 494.9h1.1v1.1h-1.1zM509.0 490.2h1.1v1.1h-1.1zM509.2 494.7h1.1v1.1h-1.1zM509.4 494.0h1.1v1.1h-1.1zM509.7 491.1h1.1v1.1h-1.1zM509.9 486.4h1.1v1.1h-1.1zM510.1 489.1h1.1v1.1h-1.1zM510.3 476.3h1.1v1.1h-1.1zM510.5 486.4h1.1v1.1h-1.1zM510.8 494.0h1.1v1.1h-1.1zM511.0 496.2h1.1v1.1h-1.1zM511.2 492.3h1.1v1.1h-1.1zM511.4 491.9h1.1v1.1h-1.1zM511.6 487.0h1.1v1.1h-1.1zM511.9 474.0h1.1v1.1h-1.1zM512.1 495.3h1.1v1.1h-1.1zM512.3 483.0h1.1v1.1h-1.1zM512.5 486.0h1.1v1.1h-1.1z" fill="#4a4a4a" fill-opacity="0.7"/>
<polyline points="314.9,443.2 315.1,445.0 315.3,446.7 315.6,448.2 315.8,449.6 316.0,450.9 316.2,452.1 316.4,453.2 316.7,454.2 316.9,455.2 317.1,456.1 317.3,456.9 317.5,457.7 317.8,458.5 318.0,459.2 318.2,459.9 318.4,460.5 318.6,461.1 318.9,461.7 319.1,462.3 319.3,462.8 319.5,463.3 319.7,463.8 320.0,464.3 320.2,464.7 320.4,465.1 320.6,465.5 320.9,465.9 321.1,466.3 321.3,466.7 321.5,467.1 321.7,467.4 322.0,467.7 322.2,468.1 322.4,468.4 322.6,468.7 322.8,469.0 323.1,469.3 323.3,469.5 323.5,469.8 323.7,470.1 323.9,470.3 324.2,470.6 324.4,470.8 324.6,471.1 324.8,471.3 325.0,471.5 325.3,471.7 325.5,472.0 325.7,472.2 325.9,472.4 326.1,472.6 326.4,472.8 326.6,473.0 326.8,473.1 327.0,473.3 327.2,473.5 327.5,473.7 327.7,473.9 327.9,474.0 328.1,474.2 329.4,475.1 330.8,475.9 332.1,476.7 333.4,477.4 334.7,478.0 336.1,478.5 337.4,479.1 338.7,479.6 340.0,480.0 341.4,480.4 342.7,480.8 344.0,481.2 345.3,481.6 346.6,481.9 348.0,482.2 349.3,482.5 350.6,482.8 351.9,483.1 353.3,483.3 354.6,483.6 355.9,483.8 357.2,484.0 358.5,484.2 359.9,484.5 361.2,484.7 362.5,484.8 363.8,485.0 365.2,485.2 366.5,485.4 367.8,485.6 369.1,485.7 370.5,485.9 371.8,486.0 373.1,486.2 374.4,486.3 375.7,486.5 377.1,486.6 378.4,486.7 379.7,486.9 381.0,487.0 382.4,487.1 383.7,487.2 385.0,487.4 386.3,487.5 387.6,487.6 389.0,487.7 390.3,487.8 391.6,487.9 392.9,488.0 394.3,488.1 395.6,488.2 396.9,488.3 398.2,488.4 399.6,488.5 400.9,488.6 402.2,488.7 403.5,488.8 404.8,488.8 406.2,488.9 407.5,489.0 408.8,489.1 410.1,489.2 411.5,489.2 412.8,489.3 414.1,489.4 415.4,489.5 416.7,489.6 418.1,489.6 419.4,489.7 420.7,489.8 422.0,489.8 423.4,489.9 424.7,490.0 426.0,490.0 427.3,490.1 428.6,490.2 430.0,490.2 431.3,490.3 432.6,490.4 433.9,490.4 435.3,490.5 436.6,490.5 437.9,490.6 439.2,490.7 440.6,490.7 441.9,490.8 443.2,490.8 444.5,490.9 445.8,491.0 447.2,491.0 448.5,491.1 449.8,491.1 451.1,491.2 452.5,491.2 453.8,491.3 455.1,491.3 456.4,491.4 457.7,491.4 459.1,491.5 460.4,491.5 461.7,491.6 463.0,491.6 464.4,491.7 465.7,491.7 467.0,491.8 468.3,491.8 469.7,491.9 471.0,491.9 472.3,492.0 473.6,492.0 474.9,492.0 476.3,492.1 477.6,492.1 478.9,492.2 480.2,492.2 481.6,492.3 482.9,492.3 484.2,492.4 485.5,492.4 486.8,492.4 488.2,492.5 489.5,492.5 490.8,492.6 492.1,492.6 493.5,492.6 494.8,492.7 496.1,492.7 497.4,492.8 498.8,492.8 500.1,492.8 501.4,492.9 502.7,492.9 504.0,493.0 505.4,493.0 506.7,493.0 508.0,493.1 509.3,493.4 510.7,494.2 512.0,495.3 513.1,496.8" fill="none" stroke="#f01818" stroke-width="1.9"/>
<path d="M314.5 410.6H514.7V508.6H314.5Z" fill="none" stroke="#555" stroke-width="1"/>
<line x1="314.50" y1="497.80" x2="316.50" y2="497.80" stroke="#555" stroke-width="1" />
<line x1="514.70" y1="497.80" x2="512.70" y2="497.80" stroke="#555" stroke-width="1" />
<text x="310.80" y="500.80" font-size="8.5" text-anchor="end" font-weight="normal" font-style="normal" fill="#222" >0</text>
<line x1="314.50" y1="454.10" x2="316.50" y2="454.10" stroke="#555" stroke-width="1" />
<line x1="514.70" y1="454.10" x2="512.70" y2="454.10" stroke="#555" stroke-width="1" />
<text x="310.80" y="457.10" font-size="8.5" text-anchor="end" font-weight="normal" font-style="normal" fill="#222" >0.4</text>
<line x1="314.50" y1="410.40" x2="316.50" y2="410.40" stroke="#555" stroke-width="1" />
<line x1="514.70" y1="410.40" x2="512.70" y2="410.40" stroke="#555" stroke-width="1" />
<text x="310.80" y="413.40" font-size="8.5" text-anchor="end" font-weight="normal" font-style="normal" fill="#222" >0.8</text>
<line x1="314.90" y1="508.60" x2="314.90" y2="506.40" stroke="#555" stroke-width="1" />
<line x1="314.90" y1="410.60" x2="314.90" y2="412.80" stroke="#555" stroke-width="1" />
<text x="314.90" y="519.30" font-size="8.5" text-anchor="middle" font-weight="normal" font-style="normal" fill="#222" >0</text>
<line x1="381.03" y1="508.60" x2="381.03" y2="506.40" stroke="#555" stroke-width="1" />
<line x1="381.03" y1="410.60" x2="381.03" y2="412.80" stroke="#555" stroke-width="1" />
<text x="381.03" y="519.30" font-size="8.5" text-anchor="middle" font-weight="normal" font-style="normal" fill="#222" >300</text>
<line x1="447.17" y1="508.60" x2="447.17" y2="506.40" stroke="#555" stroke-width="1" />
<line x1="447.17" y1="410.60" x2="447.17" y2="412.80" stroke="#555" stroke-width="1" />
<text x="447.17" y="519.30" font-size="8.5" text-anchor="middle" font-weight="normal" font-style="normal" fill="#222" >600</text>
<line x1="513.30" y1="508.60" x2="513.30" y2="506.40" stroke="#555" stroke-width="1" />
<line x1="513.30" y1="410.60" x2="513.30" y2="412.80" stroke="#555" stroke-width="1" />
<text x="513.30" y="519.30" font-size="8.5" text-anchor="middle" font-weight="normal" font-style="normal" fill="#222" >900</text>
<text x="414.00" y="532.60" font-size="9" text-anchor="middle" font-weight="normal" font-style="normal" fill="#222" >Stimulus rank</text>
<text transform="translate(289.5,458.4) rotate(-90)" font-size="9" text-anchor="middle" fill="#222">Average response</text>
<line x1="391.80" y1="420.80" x2="404.80" y2="420.80" stroke="#f01818" stroke-width="1.8" />
<text x="410.70" y="423.80" font-size="8.2" text-anchor="start" font-weight="normal" font-style="normal" fill="#222" >Scaled cortical response</text>
<text x="498.00" y="438.60" font-size="8.2" text-anchor="end" font-weight="normal" font-style="normal" fill="#222" >Correlation = 0.83</text>
<rect x="554.87" y="387.60" width="1.90" height="2.00" fill="#f0b095" />
<rect x="557.07" y="388.60" width="1.90" height="1.00" fill="#f0b095" />
<rect x="559.26" y="385.10" width="1.90" height="4.50" fill="#f0b095" />
<rect x="561.46" y="386.60" width="1.90" height="3.00" fill="#f0b095" />
<rect x="563.65" y="382.60" width="1.90" height="7.00" fill="#f0b095" />
<rect x="565.85" y="378.60" width="1.90" height="11.00" fill="#f0b095" />
<rect x="568.05" y="375.60" width="1.90" height="14.00" fill="#f0b095" />
<rect x="570.24" y="365.60" width="1.90" height="24.00" fill="#f0b095" />
<rect x="572.44" y="361.60" width="1.90" height="28.00" fill="#f0b095" />
<rect x="574.63" y="356.60" width="1.90" height="33.00" fill="#f0b095" />
<rect x="576.83" y="360.60" width="1.90" height="29.00" fill="#f0b095" />
<rect x="579.03" y="359.60" width="1.90" height="30.00" fill="#f0b095" />
<rect x="581.22" y="343.60" width="1.90" height="46.00" fill="#f0b095" />
<rect x="583.42" y="349.60" width="1.90" height="40.00" fill="#f0b095" />
<rect x="585.61" y="343.60" width="1.90" height="46.00" fill="#f0b095" />
<rect x="587.81" y="332.60" width="1.90" height="57.00" fill="#f0b095" />
<rect x="590.01" y="334.60" width="1.90" height="55.00" fill="#f0b095" />
<rect x="592.20" y="343.60" width="1.90" height="46.00" fill="#f0b095" />
<rect x="594.40" y="332.60" width="1.90" height="57.00" fill="#f0b095" />
<rect x="596.59" y="337.60" width="1.90" height="52.00" fill="#f0b095" />
<rect x="598.79" y="345.60" width="1.90" height="44.00" fill="#f0b095" />
<rect x="600.99" y="342.60" width="1.90" height="47.00" fill="#f0b095" />
<rect x="603.18" y="354.60" width="1.90" height="35.00" fill="#f0b095" />
<rect x="605.38" y="359.60" width="1.90" height="30.00" fill="#f0b095" />
<rect x="607.57" y="366.60" width="1.90" height="23.00" fill="#f0b095" />
<rect x="609.77" y="367.60" width="1.90" height="22.00" fill="#f0b095" />
<rect x="611.97" y="367.10" width="1.90" height="22.50" fill="#f0b095" />
<rect x="614.16" y="371.60" width="1.90" height="18.00" fill="#f0b095" />
<rect x="616.36" y="376.10" width="1.90" height="13.50" fill="#f0b095" />
<rect x="618.55" y="376.60" width="1.90" height="13.00" fill="#f0b095" />
<rect x="620.75" y="381.60" width="1.90" height="8.00" fill="#f0b095" />
<rect x="622.95" y="385.10" width="1.90" height="4.50" fill="#f0b095" />
<rect x="625.14" y="385.90" width="1.90" height="3.70" fill="#f0b095" />
<rect x="627.34" y="384.60" width="1.90" height="5.00" fill="#f0b095" />
<rect x="629.53" y="385.10" width="1.90" height="4.50" fill="#f0b095" />
<rect x="631.73" y="387.60" width="1.90" height="2.00" fill="#f0b095" />
<rect x="633.93" y="388.60" width="1.90" height="1.00" fill="#f0b095" />
<rect x="636.12" y="387.60" width="1.90" height="2.00" fill="#f0b095" />
<rect x="638.32" y="388.60" width="1.90" height="1.00" fill="#f0b095" />
<rect x="640.51" y="385.60" width="1.90" height="4.00" fill="#f0b095" />
<rect x="626.19" y="375.80" width="5.10" height="13.80" fill="#0a6fc2" />
<rect x="631.68" y="375.80" width="5.10" height="13.80" fill="#0a6fc2" />
<rect x="642.66" y="346.00" width="5.10" height="43.60" fill="#0a6fc2" />
<rect x="648.15" y="375.80" width="5.10" height="13.80" fill="#0a6fc2" />
<rect x="653.64" y="331.80" width="5.10" height="57.80" fill="#0a6fc2" />
<line x1="549.40" y1="319.80" x2="549.40" y2="390.10" stroke="#555" stroke-width="1" />
<line x1="546.60" y1="389.60" x2="675.70" y2="389.60" stroke="#555" stroke-width="1" />
<line x1="565.70" y1="389.60" x2="565.70" y2="392.60" stroke="#555" stroke-width="1" />
<text x="565.70" y="402.00" font-size="8.3" text-anchor="middle" font-weight="normal" font-style="normal" fill="#222" >0</text>
<line x1="587.66" y1="389.60" x2="587.66" y2="392.60" stroke="#555" stroke-width="1" />
<text x="587.66" y="402.00" font-size="8.3" text-anchor="middle" font-weight="normal" font-style="normal" fill="#222" >0.2</text>
<line x1="609.62" y1="389.60" x2="609.62" y2="392.60" stroke="#555" stroke-width="1" />
<text x="609.62" y="402.00" font-size="8.3" text-anchor="middle" font-weight="normal" font-style="normal" fill="#222" >0.4</text>
<line x1="631.58" y1="389.60" x2="631.58" y2="392.60" stroke="#555" stroke-width="1" />
<text x="631.58" y="402.00" font-size="8.3" text-anchor="middle" font-weight="normal" font-style="normal" fill="#222" >0.6</text>
<line x1="653.54" y1="389.60" x2="653.54" y2="392.60" stroke="#555" stroke-width="1" />
<text x="653.54" y="402.00" font-size="8.3" text-anchor="middle" font-weight="normal" font-style="normal" fill="#222" >0.8</text>
<line x1="675.50" y1="389.60" x2="675.50" y2="392.60" stroke="#555" stroke-width="1" />
<text x="675.50" y="402.00" font-size="8.3" text-anchor="middle" font-weight="normal" font-style="normal" fill="#222" >1</text>
<text x="613.00" y="413.90" font-size="8.2" text-anchor="middle" font-weight="normal" font-style="normal" fill="#222" >Correlation coefficient</text>
<text x="546.60" y="314.20" font-size="8.3" text-anchor="start" font-weight="normal" font-style="normal" fill="#222" >Monkey B</text>
<text x="592.80" y="321.30" font-size="8.6" text-anchor="middle" font-weight="normal" font-style="normal" fill="#222" >0.25</text>
<text x="647.70" y="321.30" font-size="8.6" text-anchor="middle" font-weight="normal" font-style="normal" fill="#222" >0.75</text>
<path d="M589.7 326.8h6.2l-3.1 4.8z" fill="#f0b095"/>
<path d="M644.6 326.8h6.2l-3.1 4.8z" fill="#0a6fc2"/>
<rect x="554.87" y="503.00" width="1.90" height="2.00" fill="#f0b095" />
<rect x="557.07" y="504.00" width="1.90" height="1.00" fill="#f0b095" />
<rect x="559.26" y="502.80" width="1.90" height="2.20" fill="#f0b095" />
<rect x="561.46" y="501.00" width="1.90" height="4.00" fill="#f0b095" />
<rect x="563.65" y="496.00" width="1.90" height="9.00" fill="#f0b095" />
<rect x="565.85" y="493.50" width="1.90" height="11.50" fill="#f0b095" />
<rect x="568.05" y="492.30" width="1.90" height="12.70" fill="#f0b095" />
<rect x="570.24" y="488.50" width="1.90" height="16.50" fill="#f0b095" />
<rect x="572.44" y="488.20" width="1.90" height="16.80" fill="#f0b095" />
<rect x="574.63" y="481.00" width="1.90" height="24.00" fill="#f0b095" />
<rect x="576.83" y="478.50" width="1.90" height="26.50" fill="#f0b095" />
<rect x="579.03" y="465.20" width="1.90" height="39.80" fill="#f0b095" />
<rect x="581.22" y="466.00" width="1.90" height="39.00" fill="#f0b095" />
<rect x="583.42" y="465.00" width="1.90" height="40.00" fill="#f0b095" />
<rect x="585.61" y="463.00" width="1.90" height="42.00" fill="#f0b095" />
<rect x="587.81" y="460.00" width="1.90" height="45.00" fill="#f0b095" />
<rect x="590.01" y="462.50" width="1.90" height="42.50" fill="#f0b095" />
<rect x="592.20" y="454.00" width="1.90" height="51.00" fill="#f0b095" />
<rect x="594.40" y="458.00" width="1.90" height="47.00" fill="#f0b095" />
<rect x="596.59" y="457.00" width="1.90" height="48.00" fill="#f0b095" />
<rect x="598.79" y="463.00" width="1.90" height="42.00" fill="#f0b095" />
<rect x="600.99" y="459.00" width="1.90" height="46.00" fill="#f0b095" />
<rect x="603.18" y="451.30" width="1.90" height="53.70" fill="#f0b095" />
<rect x="605.38" y="448.00" width="1.90" height="57.00" fill="#f0b095" />
<rect x="607.57" y="458.00" width="1.90" height="47.00" fill="#f0b095" />
<rect x="609.77" y="459.20" width="1.90" height="45.80" fill="#f0b095" />
<rect x="611.97" y="462.00" width="1.90" height="43.00" fill="#f0b095" />
<rect x="614.16" y="465.00" width="1.90" height="40.00" fill="#f0b095" />
<rect x="616.36" y="454.00" width="1.90" height="51.00" fill="#f0b095" />
<rect x="618.55" y="462.20" width="1.90" height="42.80" fill="#f0b095" />
<rect x="620.75" y="466.00" width="1.90" height="39.00" fill="#f0b095" />
<rect x="622.95" y="474.20" width="1.90" height="30.80" fill="#f0b095" />
<rect x="625.14" y="479.00" width="1.90" height="26.00" fill="#f0b095" />
<rect x="627.34" y="482.50" width="1.90" height="22.50" fill="#f0b095" />
<rect x="629.53" y="486.50" width="1.90" height="18.50" fill="#f0b095" />
<rect x="631.73" y="492.20" width="1.90" height="12.80" fill="#f0b095" />
<rect x="633.93" y="493.70" width="1.90" height="11.30" fill="#f0b095" />
<rect x="636.12" y="494.50" width="1.90" height="10.50" fill="#f0b095" />
<rect x="638.32" y="499.70" width="1.90" height="5.30" fill="#f0b095" />
<rect x="640.51" y="502.00" width="1.90" height="3.00" fill="#f0b095" />
<rect x="642.71" y="503.50" width="1.90" height="1.50" fill="#f0b095" />
<rect x="637.17" y="491.20" width="5.10" height="13.80" fill="#0a6fc2" />
<rect x="642.66" y="462.00" width="5.10" height="43.00" fill="#0a6fc2" />
<rect x="648.15" y="447.60" width="5.10" height="57.40" fill="#0a6fc2" />
<rect x="653.64" y="491.20" width="5.10" height="13.80" fill="#0a6fc2" />
<rect x="659.13" y="491.20" width="5.10" height="13.80" fill="#0a6fc2" />
<line x1="549.40" y1="435.20" x2="549.40" y2="505.50" stroke="#555" stroke-width="1" />
<line x1="546.60" y1="505.00" x2="675.70" y2="505.00" stroke="#555" stroke-width="1" />
<line x1="565.70" y1="505.00" x2="565.70" y2="508.00" stroke="#555" stroke-width="1" />
<text x="565.70" y="517.40" font-size="8.3" text-anchor="middle" font-weight="normal" font-style="normal" fill="#222" >0</text>
<line x1="587.66" y1="505.00" x2="587.66" y2="508.00" stroke="#555" stroke-width="1" />
<text x="587.66" y="517.40" font-size="8.3" text-anchor="middle" font-weight="normal" font-style="normal" fill="#222" >0.2</text>
<line x1="609.62" y1="505.00" x2="609.62" y2="508.00" stroke="#555" stroke-width="1" />
<text x="609.62" y="517.40" font-size="8.3" text-anchor="middle" font-weight="normal" font-style="normal" fill="#222" >0.4</text>
<line x1="631.58" y1="505.00" x2="631.58" y2="508.00" stroke="#555" stroke-width="1" />
<text x="631.58" y="517.40" font-size="8.3" text-anchor="middle" font-weight="normal" font-style="normal" fill="#222" >0.6</text>
<line x1="653.54" y1="505.00" x2="653.54" y2="508.00" stroke="#555" stroke-width="1" />
<text x="653.54" y="517.40" font-size="8.3" text-anchor="middle" font-weight="normal" font-style="normal" fill="#222" >0.8</text>
<line x1="675.50" y1="505.00" x2="675.50" y2="508.00" stroke="#555" stroke-width="1" />
<text x="675.50" y="517.40" font-size="8.3" text-anchor="middle" font-weight="normal" font-style="normal" fill="#222" >1</text>
<text x="613.00" y="529.30" font-size="8.2" text-anchor="middle" font-weight="normal" font-style="normal" fill="#222" >Correlation coefficient</text>
<text x="546.60" y="429.20" font-size="8.3" text-anchor="start" font-weight="normal" font-style="normal" fill="#222" >Monkey C</text>
<text x="600.50" y="436.60" font-size="8.6" text-anchor="middle" font-weight="normal" font-style="normal" fill="#222" >0.32</text>
<text x="648.80" y="436.60" font-size="8.6" text-anchor="middle" font-weight="normal" font-style="normal" fill="#222" >0.76</text>
<path d="M597.4 442.1h6.2l-3.1 4.8z" fill="#f0b095"/>
<path d="M645.7 442.1h6.2l-3.1 4.8z" fill="#0a6fc2"/>
<rect x="611.60" y="291.00" width="9.10" height="6.60" fill="#0a6fc2" />
<text x="623.80" y="297.30" font-size="7.5" text-anchor="start" font-weight="normal" font-style="normal" fill="#222" >ROI average</text>
<rect x="611.60" y="301.40" width="9.10" height="6.60" fill="#f0b095" />
<text x="623.80" y="307.60" font-size="7.5" text-anchor="start" font-weight="normal" font-style="normal" fill="#222" >Single ROI</text>
</svg>
</body></html>
